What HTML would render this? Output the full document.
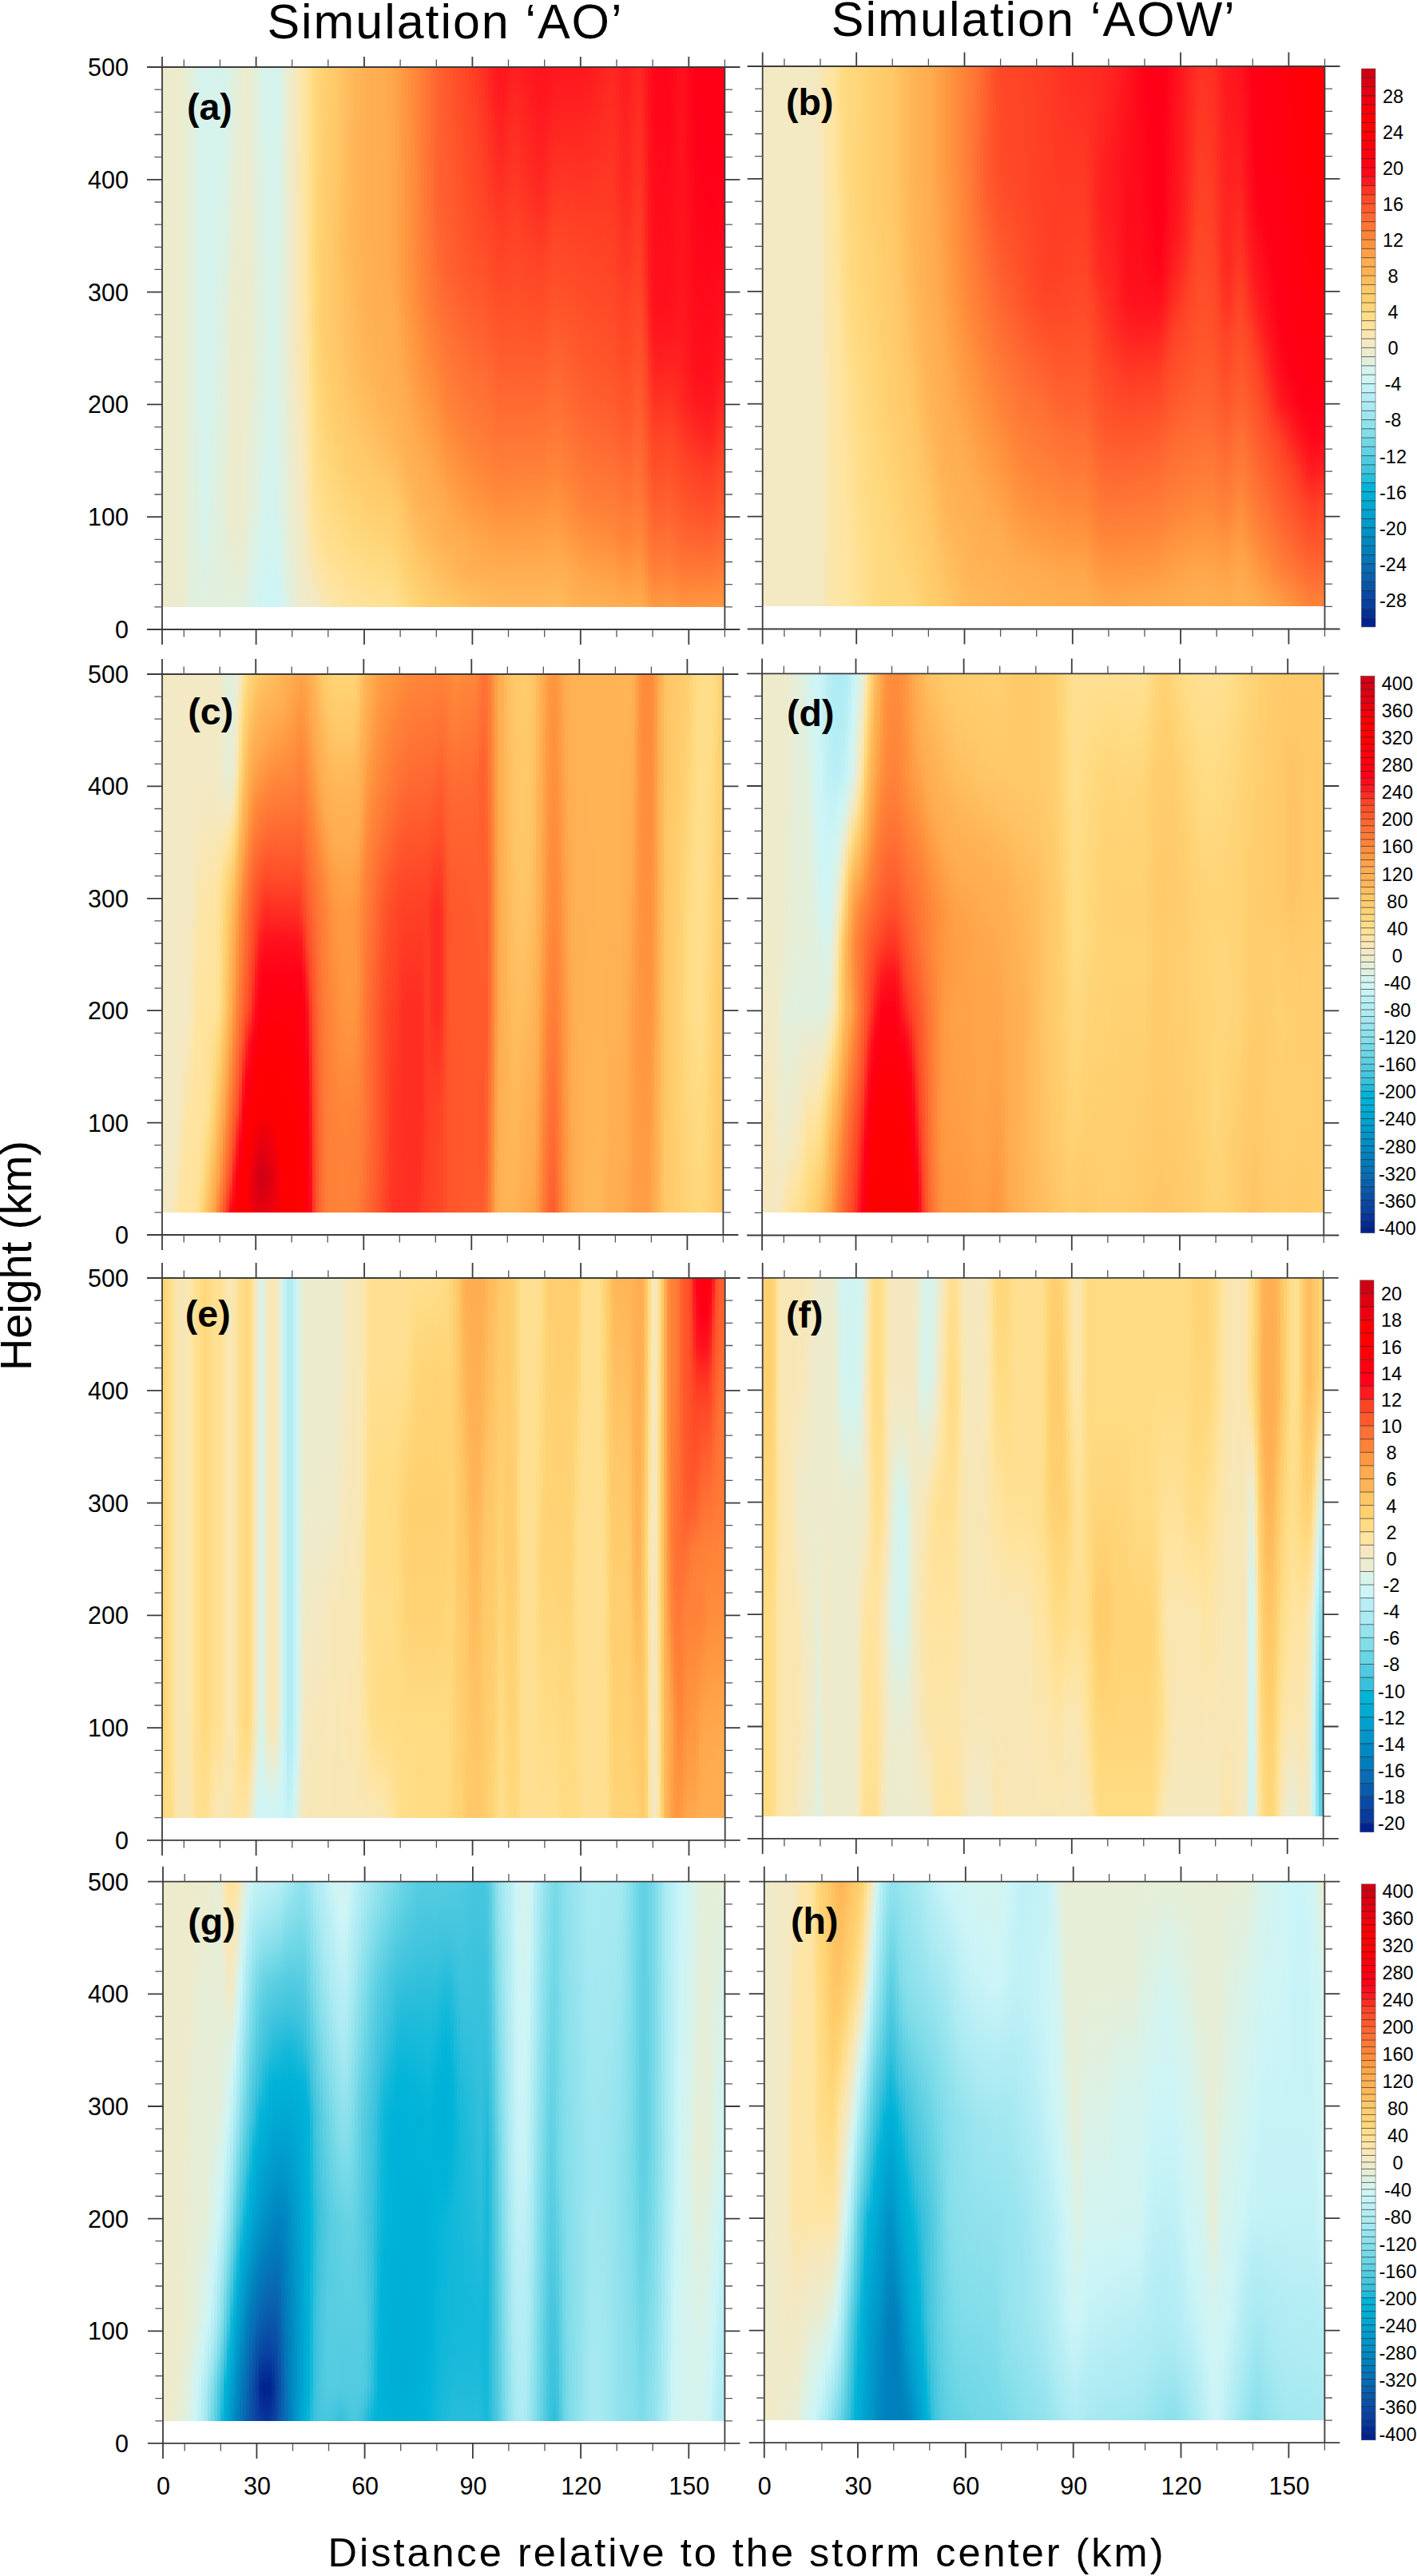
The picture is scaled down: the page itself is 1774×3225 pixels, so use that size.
<!DOCTYPE html>
<html><head><meta charset="utf-8"><title>Figure</title>
<style>
html,body{margin:0;padding:0;background:#fff}
body{width:1774px;height:3225px;position:relative;font-family:"Liberation Sans",sans-serif}
.p{position:absolute;display:flex;overflow:hidden}
.p i{display:block;flex:0 0 4px;height:100%}
svg{position:absolute;left:0;top:0}
text{font-family:"Liberation Sans",sans-serif;fill:#000}
.tk{font-size:30.5px}
.cb{font-size:23.5px}
.lb{font-size:46.5px;font-weight:bold}
</style></head><body>
<div class="p" style="left:203px;top:84px;width:704.4px;height:675.84px"><i style="background:#edebcd"></i><i style="background:#edebcd"></i><i style="background:#edebcd"></i><i style="background:#edebcd"></i><i style="background:#edebcd"></i><i style="background:#edebcd"></i><i style="background:linear-gradient(#ececcf,#ececcf,#ececcf,#ececcf,#ececcf,#ececcf,#ececcf,#ececcf,#ececcf,#ececcf,#ececcf,#ececcf,#ececcf,#ececcf,#ececcf,#ececce,#ecebce)"></i><i style="background:linear-gradient(#e7eed6,#e7eed6,#e7eed6,#e7eed6,#e7eed6,#e7eed6,#e7eed6,#e7eed6,#e7eed6,#e7eed6,#e7eed6,#e7eed6,#e7eed6,#e7eed6,#e8edd5,#e9edd3,#e9edd2)"></i><i style="background:linear-gradient(#e2efdc,#e2efdc,#e2efdc,#e2efdc,#e2efdc,#e2efdc,#e2efdc,#e2efdc,#e2efdc,#e2efdc,#e2efdc,#e2efdc,#e2efdc,#e2efdc,#e3efdb,#e3efdb,#e4efda)"></i><i style="background:#e1f0dd"></i><i style="background:linear-gradient(#def1e2,#def1e2,#def1e2,#def1e2,#def1e2,#def1e2,#def1e2,#def1e2,#def1e2,#def1e1,#dff1e1,#dff0e0,#e0f0e0,#e0f0df,#e0f0de,#e1f0de,#e1f0dd)"></i><i style="background:linear-gradient(#d8f3ea,#d8f3ea,#d8f3ea,#d8f3ea,#d8f3ea,#d8f3ea,#d8f3ea,#d8f3ea,#d8f3ea,#d8f3ea,#d9f3e9,#daf2e7,#dbf2e6,#dcf2e5,#ddf1e3,#dff0e0,#e1f0dd)"></i><i style="background:linear-gradient(#d6f3ed,#d6f3ed,#d6f3ed,#d6f3ed,#d6f3ed,#d6f3ed,#d6f3ed,#d6f3ed,#d6f3ed,#d6f3ec,#d6f3ec,#d7f3ec,#d7f3eb,#d7f3eb,#d9f3e8,#ddf1e3,#e1f0dd)"></i><i style="background:linear-gradient(#d6f3ed,#d6f3ed,#d6f3ed,#d6f3ed,#d6f3ed,#d6f3ed,#d6f3ed,#d6f3ed,#d6f3ed,#d6f3ed,#d6f3ed,#d6f3ed,#d6f3ed,#d6f3ed,#d8f3ea,#dcf1e4,#e1f0dd)"></i><i style="background:linear-gradient(#d6f3ed,#d6f3ed,#d6f3ed,#d6f3ed,#d6f3ed,#d6f3ed,#d6f3ed,#d6f3ed,#d6f3ed,#d6f3ec,#d6f3ec,#d7f3eb,#d7f3eb,#d8f3ea,#daf2e7,#def1e2,#e1f0dd)"></i><i style="background:linear-gradient(#d6f3ed,#d6f3ed,#d6f3ed,#d6f3ed,#d6f3ed,#d6f3ed,#d6f3ed,#d6f3ed,#d6f3ed,#d7f3ec,#d8f3ea,#d9f2e8,#dbf2e5,#ddf1e3,#dff1e1,#e0f0df,#e1f0dd)"></i><i style="background:linear-gradient(#d5f3ed,#d6f3ed,#d6f3ec,#d6f3ec,#d6f3ec,#d7f3ec,#d7f3eb,#d7f3eb,#d7f3eb,#d8f3ea,#daf2e7,#dcf1e4,#def1e1,#e1f0de,#e1f0dd,#e1f0dd,#e1f0dd)"></i><i style="background:linear-gradient(#d5f3ed,#d6f3ec,#d7f3ec,#d7f3eb,#d8f3ea,#d9f3e9,#daf2e7,#dbf2e6,#dcf1e4,#ddf1e3,#def1e2,#dff0e0,#e0f0df,#e1f0de,#e1f0dd,#e1f0dd,#e1f0dd)"></i><i style="background:linear-gradient(#d5f3ed,#d6f3ec,#d7f3eb,#d8f3ea,#daf2e8,#dbf2e6,#ddf1e3,#def1e1,#e0f0df,#e1f0de,#e1f0de,#e1f0de,#e1f0de,#e1f0dd,#e1f0dd,#e1f0dd,#e1f0dd)"></i><i style="background:linear-gradient(#d5f4ed,#d6f3ec,#d7f3eb,#d8f3ea,#daf2e7,#dcf2e5,#ddf1e3,#dff0e0,#e1f0de,#e1f0dd,#e2efdc,#e2efdc,#e3efdb,#e3efdb,#e3efdb,#e2efdc,#e1f0dd)"></i><i style="background:linear-gradient(#d7f3eb,#d8f3ea,#daf2e7,#dcf2e5,#ddf1e3,#dff0e1,#e1f0de,#e2efdc,#e4efda,#e5eed8,#e6eed7,#e7eed6,#e8edd4,#e9edd3,#e7edd5,#e4efd9,#e1f0dd)"></i><i style="background:linear-gradient(#def1e2,#dff0e0,#e1f0de,#e2efdc,#e4efda,#e6eed7,#e7edd5,#e9edd3,#eaecd1,#ebecd0,#ebeccf,#ececcf,#ececcf,#ececce,#eaecd1,#e6eed7,#e1f0dd)"></i><i style="background:linear-gradient(#e1f0dd,#e3efdb,#e4eed9,#e6eed7,#e7edd5,#e9edd3,#eaecd1,#ececcf,#ecebce,#edebcd,#edebcd,#edebcd,#edebcd,#edebcd,#ebecd0,#e6eed7,#e1f0dd)"></i><i style="background:linear-gradient(#e3efdb,#e4efda,#e5eed8,#e7eed6,#e8edd4,#e9edd2,#ebecd0,#ececcf,#ecebce,#edebcd,#edebcd,#edebcd,#edebcd,#edebcd,#ebecd0,#e6eed7,#e1f0dd)"></i><i style="background:linear-gradient(#e7edd5,#e8edd4,#e9edd3,#eaecd2,#ebecd1,#ebecd0,#ececcf,#ececce,#ecebce,#edebcd,#edebcd,#edebcd,#edebcd,#edebcd,#ebecd0,#e6eed7,#e1f0dd)"></i><i style="background:linear-gradient(#ececcf,#ececcf,#ececcf,#ececce,#ececce,#ececce,#ecebce,#ecebce,#edebcd,#edebce,#ecebce,#ececce,#ececce,#ececce,#eaecd2,#e6eed7,#e1f0dd)"></i><i style="background:linear-gradient(#edebcd,#edebcd,#edebcd,#edebcd,#edebcd,#edebcd,#edebcd,#edebcd,#edebcd,#ececce,#ececcf,#ebecd0,#eaecd2,#e9edd3,#e6eed7,#e2efdd,#def1e2)"></i><i style="background:linear-gradient(#ebecd0,#ebecd0,#ebecd0,#ebecd0,#ebeccf,#ececcf,#ececcf,#ececcf,#ececce,#ebeccf,#eaecd2,#e8edd5,#e6eed7,#e4efda,#e0f0df,#dcf2e5,#d8f3ea)"></i><i style="background:linear-gradient(#e4eed9,#e5eed8,#e5eed8,#e6eed7,#e6eed6,#e7eed6,#e7edd5,#e8edd4,#e8edd4,#e8edd5,#e6eed7,#e5eed9,#e3efdb,#e2efdd,#def1e2,#d9f3e9,#d6f3ed)"></i><i style="background:linear-gradient(#e1f0dd,#e1f0dd,#e2efdd,#e2efdc,#e2efdc,#e2efdc,#e3efdb,#e3efdb,#e3efdb,#e3efdb,#e2efdc,#e1f0dd,#e1f0de,#e0f0df,#dcf2e5,#d7f3eb,#d4f4ef)"></i><i style="background:linear-gradient(#def1e2,#def1e1,#dff1e1,#dff0e0,#e0f0e0,#e0f0df,#e0f0df,#e1f0de,#e1f0de,#e0f0df,#dff0e1,#def1e2,#dcf1e4,#dbf2e6,#d7f3eb,#d4f4ef,#d0f4f3)"></i><i style="background:linear-gradient(#d8f3ea,#d9f3e9,#daf2e8,#dbf2e6,#dcf1e4,#ddf1e3,#def1e1,#e0f0e0,#e1f0de,#e0f0e0,#ddf1e3,#dbf2e6,#d8f3ea,#d7f3ec,#d4f4ee,#d1f4f2,#cef5f5)"></i><i style="background:linear-gradient(#d6f3ed,#d6f3ec,#d7f3eb,#d8f3ea,#d9f3e8,#dbf2e7,#dcf2e5,#ddf1e3,#def1e1,#ddf1e3,#dbf2e6,#d9f3e9,#d7f3eb,#d6f3ed,#d3f4ef,#d1f4f3,#cef5f6)"></i><i style="background:linear-gradient(#d6f3ed,#d6f3ec,#d6f3ec,#d7f3ec,#d7f3eb,#d7f3eb,#d8f3ea,#d8f3ea,#d9f3e9,#d8f3e9,#d8f3eb,#d7f3eb,#d6f3ec,#d5f3ed,#d3f4ef,#d1f4f3,#cef5f6)"></i><i style="background:linear-gradient(#d5f3ed,#d6f3ed,#d6f3ed,#d6f3ed,#d6f3ec,#d6f3ec,#d6f3ec,#d6f3ec,#d6f3ec,#d6f3ec,#d6f3ec,#d6f3ed,#d5f3ed,#d5f4ed,#d3f4f0,#d1f4f3,#cef5f6)"></i><i style="background:linear-gradient(#d5f3ed,#d6f3ed,#d6f3ec,#d6f3ec,#d7f3ec,#d7f3eb,#d7f3eb,#d7f3eb,#d8f3ea,#d7f3eb,#d7f3eb,#d6f3ec,#d6f3ed,#d5f3ed,#d3f4f0,#d1f4f3,#cef5f6)"></i><i style="background:linear-gradient(#d7f3eb,#d8f3ea,#d8f3e9,#d9f3e8,#daf2e7,#dbf2e6,#dcf2e5,#ddf1e3,#def1e2,#ddf1e3,#dcf2e5,#daf2e7,#d9f3e9,#d7f3eb,#d5f3ed,#d3f4f0,#d0f4f4)"></i><i style="background:linear-gradient(#def1e2,#def1e2,#dff1e1,#dff0e0,#e0f0e0,#e0f0df,#e0f0de,#e1f0de,#e1f0dd,#e1f0de,#e0f0df,#e0f0e0,#dff1e1,#def1e2,#dbf2e6,#d7f3eb,#d4f4ef)"></i><i style="background:linear-gradient(#e4eed9,#e5eed9,#e5eed9,#e5eed8,#e5eed8,#e5eed8,#e5eed8,#e5eed8,#e6eed8,#e5eed8,#e4efd9,#e3efdb,#e2efdc,#e1f0dd,#dff0e0,#dcf2e5,#d8f3ea)"></i><i style="background:linear-gradient(#ececcf,#ececcf,#ececcf,#ececcf,#ececcf,#ececcf,#ececce,#ececce,#ececce,#ececcf,#eaecd1,#e8edd3,#e7eed6,#e5eed8,#e3efdb,#e1f0de,#dff1e1)"></i><i style="background:linear-gradient(#f0eac8,#f0eac8,#f0eac8,#f0eac8,#f0eac8,#f0eac8,#f0eac8,#f0eac8,#f0eac8,#efeac9,#eeebcb,#edebcc,#edebcd,#ececcf,#e9edd2,#e6eed7,#e2efdd)"></i><i style="background:linear-gradient(#f4e8c2,#f4e8c2,#f4e8c2,#f4e8c2,#f4e8c2,#f4e8c2,#f4e8c2,#f4e8c2,#f4e8c2,#f3e9c3,#f2e9c5,#f1eac7,#f0eac8,#efebca,#edebcd,#eaedd2,#e5eed8)"></i><i style="background:linear-gradient(#f8e7b6,#f8e7b6,#f8e7b6,#f8e7b6,#f8e7b7,#f8e7b7,#f8e7b7,#f8e7b7,#f8e7b7,#f7e7bb,#f5e8c0,#f3e9c3,#f2e9c5,#f0eac8,#efebca,#edebcd,#ebeccf)"></i><i style="background:linear-gradient(#fbe5ab,#fbe5ac,#fbe6ac,#fbe6ad,#fbe6ad,#fbe6ae,#fbe6ae,#fae6af,#fae6af,#f9e6b3,#f7e7b8,#f6e8be,#f4e8c2,#f2e9c4,#f1eac7,#efeac9,#eeebcc)"></i><i style="background:linear-gradient(#fee4a2,#fee4a3,#fee4a3,#fee5a4,#fde5a5,#fde5a6,#fde5a6,#fde5a7,#fde5a8,#fce5ab,#fae6af,#f9e6b4,#f8e7b8,#f6e8bc,#f4e8c2,#f1e9c6,#efebca)"></i><i style="background:linear-gradient(#ffe197,#ffe298,#ffe298,#ffe299,#ffe29a,#ffe29a,#ffe39b,#ffe39c,#ffe39d,#ffe49f,#fee4a3,#fde5a6,#fce5a9,#fbe6ad,#f8e7b6,#f4e8c1,#efeac9)"></i><i style="background:linear-gradient(#ffde8b,#ffde8b,#ffde8c,#ffde8c,#ffde8d,#ffdf8d,#ffdf8d,#ffdf8e,#ffdf90,#ffe092,#ffe196,#ffe299,#ffe39d,#ffe4a1,#fbe5ab,#f7e7ba,#f0eac8)"></i><i style="background:linear-gradient(#ffda81,#ffda81,#ffda81,#ffda81,#ffda81,#ffda80,#ffda80,#ffda81,#ffdb82,#ffdc84,#ffde89,#ffdf8e,#ffe093,#ffe299,#fee4a3,#f9e6b2,#f1eac7)"></i><i style="background:linear-gradient(#ffd67b,#ffd67a,#ffd67a,#ffd579,#ffd578,#ffd578,#ffd477,#ffd477,#ffd579,#ffd77b,#ffd980,#ffdc84,#ffde8b,#ffe093,#ffe39c,#fbe5ab,#f2e9c5)"></i><i style="background:linear-gradient(#ffd376,#ffd375,#ffd274,#ffd273,#ffd172,#ffd171,#ffd070,#ffd070,#ffd172,#ffd375,#ffd67a,#ffd97f,#ffdc85,#ffdf8e,#ffe197,#fde5a6,#f4e8c1)"></i><i style="background:linear-gradient(#ffd171,#ffd070,#ffd070,#ffcf6f,#ffce6e,#ffce6e,#ffcd6d,#ffcd6d,#ffce6e,#ffd070,#ffd375,#ffd77b,#ffda81,#ffde8a,#ffe093,#fee4a2,#f7e7ba)"></i><i style="background:linear-gradient(#ffce6e,#ffce6e,#ffcd6d,#ffcd6d,#ffcc6c,#ffcc6c,#ffcb6b,#ffcb6b,#ffcc6c,#ffce6e,#ffd171,#ffd477,#ffd97e,#ffdd86,#ffdf90,#ffe39e,#f9e6b3)"></i><i style="background:linear-gradient(#ffcc6c,#ffcc6c,#ffcb6b,#ffca6a,#ffca6a,#ffc969,#ffc969,#ffc969,#ffca6a,#ffcc6c,#ffcf6f,#ffd274,#ffd77c,#ffdb83,#ffdf8d,#ffe39b,#fbe6ad)"></i><i style="background:linear-gradient(#ffca6a,#ffca6a,#ffc969,#ffc969,#ffc868,#ffc767,#ffc767,#ffc767,#ffc868,#ffca6a,#ffcd6d,#ffd171,#ffd579,#ffda81,#ffde8b,#ffe299,#fce5aa)"></i><i style="background:linear-gradient(#ffc868,#ffc868,#ffc767,#ffc767,#ffc666,#ffc565,#ffc666,#ffc666,#ffc767,#ffc969,#ffcc6c,#ffcf6f,#ffd477,#ffd97f,#ffdd89,#ffe297,#fde5a8)"></i><i style="background:linear-gradient(#ffc666,#ffc565,#ffc565,#ffc464,#ffc363,#ffc263,#ffc363,#ffc464,#ffc666,#ffc767,#ffca6a,#ffce6e,#ffd374,#ffd87d,#ffdd87,#ffe196,#fde5a6)"></i><i style="background:linear-gradient(#ffc263,#ffc262,#ffc162,#ffc061,#ffc060,#ffbf60,#ffc061,#ffc262,#ffc364,#ffc666,#ffc969,#ffcd6d,#ffd172,#ffd77b,#ffdc85,#ffe094,#fee4a3)"></i><i style="background:linear-gradient(#ffbf60,#ffbe5f,#ffbe5f,#ffbd5e,#ffbc5d,#ffbc5d,#ffbd5e,#ffbf60,#ffc162,#ffc464,#ffc868,#ffcb6b,#ffd070,#ffd579,#ffdc83,#ffe092,#ffe4a1)"></i><i style="background:linear-gradient(#ffbb5d,#ffbb5c,#ffba5c,#ffba5b,#ffb95b,#ffb95a,#ffbb5c,#ffbd5e,#ffbf60,#ffc162,#ffc666,#ffca6a,#ffcf6f,#ffd477,#ffdb82,#ffdf90,#ffe49f)"></i><i style="background:linear-gradient(#ffb85a,#ffb85a,#ffb859,#ffb759,#ffb758,#ffb658,#ffb85a,#ffba5c,#ffbd5e,#ffbf60,#ffc465,#ffc969,#ffce6e,#ffd376,#ffda81,#ffdf8f,#ffe39e)"></i><i style="background:linear-gradient(#ffb658,#ffb557,#ffb557,#ffb557,#ffb456,#ffb456,#ffb658,#ffb859,#ffba5c,#ffbd5e,#ffc363,#ffc868,#ffcd6d,#ffd374,#ffd97f,#ffdf8d,#ffe39d)"></i><i style="background:linear-gradient(#ffb456,#ffb456,#ffb356,#ffb356,#ffb355,#ffb355,#ffb456,#ffb557,#ffb85a,#ffbb5d,#ffc161,#ffc767,#ffcc6c,#ffd273,#ffd97e,#ffde8c,#ffe39c)"></i><i style="background:linear-gradient(#ffb355,#ffb255,#ffb255,#ffb255,#ffb255,#ffb255,#ffb355,#ffb355,#ffb658,#ffb95b,#ffbf60,#ffc666,#ffcb6b,#ffd171,#ffd87d,#ffde8b,#ffe39b)"></i><i style="background:linear-gradient(#ffb154,#ffb154,#ffb154,#ffb154,#ffb154,#ffb154,#ffb254,#ffb255,#ffb456,#ffb859,#ffbd5e,#ffc565,#ffca6a,#ffd070,#ffd77c,#ffde8a,#ffe29b)"></i><i style="background:linear-gradient(#ffb053,#ffb053,#ffb053,#ffb053,#ffb053,#ffb053,#ffb153,#ffb154,#ffb355,#ffb657,#ffbc5d,#ffc364,#ffca6a,#ffcf6f,#ffd67b,#ffdd89,#ffe29a)"></i><i style="background:linear-gradient(#ffaf52,#ffaf52,#ffaf52,#ffaf52,#ffaf53,#ffaf53,#ffb053,#ffb053,#ffb254,#ffb456,#ffba5b,#ffc262,#ffc969,#ffcf6f,#ffd679,#ffdd87,#ffe299)"></i><i style="background:linear-gradient(#ffae52,#ffae52,#ffae52,#ffae52,#ffae52,#ffaf52,#ffaf52,#ffaf52,#ffb154,#ffb355,#ffb85a,#ffc061,#ffc868,#ffce6e,#ffd578,#ffdd86,#ffe298)"></i><i style="background:linear-gradient(#ffad51,#ffad51,#ffad51,#ffae51,#ffae51,#ffae51,#ffae51,#ffae52,#ffb053,#ffb255,#ffb658,#ffbe5f,#ffc767,#ffcd6d,#ffd477,#ffdc85,#ffe298)"></i><i style="background:linear-gradient(#ffad50,#ffad50,#ffad51,#ffad51,#ffad51,#ffad51,#ffad51,#ffae51,#ffb053,#ffb254,#ffb557,#ffbc5d,#ffc666,#ffcd6d,#ffd477,#ffdc84,#ffe197)"></i><i style="background:linear-gradient(#ffab4f,#ffab50,#ffac50,#ffac50,#ffac50,#ffac50,#ffac50,#ffad51,#ffaf52,#ffb154,#ffb356,#ffba5c,#ffc566,#ffcc6c,#ffd376,#ffdc83,#ffe197)"></i><i style="background:linear-gradient(#ffa94e,#ffa94e,#ffaa4e,#ffaa4e,#ffaa4e,#ffaa4f,#ffab4f,#ffad50,#ffae52,#ffb053,#ffb355,#ffb95a,#ffc464,#ffcc6c,#ffd375,#ffdb83,#ffe196)"></i><i style="background:linear-gradient(#ffa74c,#ffa74c,#ffa84d,#ffa84d,#ffa84d,#ffa84d,#ffa94d,#ffac50,#ffae51,#ffaf52,#ffb254,#ffb758,#ffc363,#ffcb6b,#ffd274,#ffdb82,#ffe195)"></i><i style="background:linear-gradient(#ffa54a,#ffa54a,#ffa54a,#ffa54b,#ffa64b,#ffa64b,#ffa64c,#ffaa4e,#ffad51,#ffae52,#ffb154,#ffb557,#ffc161,#ffca6a,#ffd172,#ffda80,#ffe194)"></i><i style="background:linear-gradient(#ffa147,#ffa147,#ffa248,#ffa248,#ffa248,#ffa248,#ffa349,#ffa74c,#ffab4f,#ffad51,#ffb053,#ffb355,#ffbe5f,#ffc969,#ffcf6f,#ffd87d,#ffdf90)"></i><i style="background:linear-gradient(#ff9d44,#ff9d44,#ff9d44,#ff9e45,#ff9e45,#ff9e45,#ff9f46,#ffa349,#ffa74c,#ffab4f,#ffae52,#ffb254,#ffba5c,#ffc767,#ffcd6d,#ffd679,#ffde8b)"></i><i style="background:linear-gradient(#ff9940,#ff9941,#ff9941,#ff9a41,#ff9a42,#ff9b42,#ff9b43,#ff9f45,#ffa349,#ffa84d,#ffad51,#ffb053,#ffb759,#ffc364,#ffcb6b,#ffd375,#ffdc86)"></i><i style="background:linear-gradient(#ff943f,#ff953f,#ff953f,#ff963f,#ff963f,#ff973f,#ff9740,#ff9b42,#ff9f46,#ffa44a,#ffab4f,#ffaf52,#ffb456,#ffc060,#ffc969,#ffd172,#ffdb82)"></i><i style="background:linear-gradient(#ff8f3d,#ff903d,#ff913d,#ff913d,#ff923e,#ff923e,#ff933e,#ff973f,#ff9c43,#ffa147,#ffa84d,#ffae51,#ffb255,#ffbc5d,#ffc767,#ffcf6f,#ffd87e)"></i><i style="background:linear-gradient(#ff8b3b,#ff8b3b,#ff8c3c,#ff8d3c,#ff8d3c,#ff8e3c,#ff8f3d,#ff923e,#ff9840,#ff9d44,#ffa54a,#ffac50,#ffb154,#ffb85a,#ffc465,#ffcd6d,#ffd67a)"></i><i style="background:linear-gradient(#ff8639,#ff873a,#ff873a,#ff883a,#ff883a,#ff893b,#ff8a3b,#ff8e3c,#ff943e,#ff9a41,#ffa147,#ffaa4e,#ffb053,#ffb557,#ffc162,#ffcb6b,#ffd477)"></i><i style="background:linear-gradient(#ff8138,#ff8138,#ff8238,#ff8238,#ff8338,#ff8439,#ff8539,#ff893b,#ff903d,#ff963f,#ff9f45,#ffa74c,#ffae52,#ffb355,#ffbf5f,#ffca6a,#ffd374)"></i><i style="background:linear-gradient(#ff7c37,#ff7c37,#ff7c37,#ff7d37,#ff7d37,#ff7f37,#ff8138,#ff8539,#ff8c3c,#ff933e,#ff9c43,#ffa54a,#ffad51,#ffb255,#ffbc5d,#ffc868,#ffd172)"></i><i style="background:linear-gradient(#ff7735,#ff7736,#ff7736,#ff7836,#ff7836,#ff7a36,#ff7c37,#ff8038,#ff893a,#ff903d,#ff9a41,#ffa348,#ffad50,#ffb154,#ffba5c,#ffc767,#ffd070)"></i><i style="background:linear-gradient(#ff7234,#ff7234,#ff7234,#ff7235,#ff7335,#ff7535,#ff7836,#ff7d37,#ff8539,#ff8d3c,#ff9740,#ffa047,#ffab4f,#ffb053,#ffb85a,#ffc666,#ffce6e)"></i><i style="background:linear-gradient(#ff6c33,#ff6c33,#ff6c33,#ff6d33,#ff6d33,#ff7134,#ff7435,#ff7936,#ff8238,#ff8a3b,#ff943f,#ff9e45,#ffa94d,#ffaf53,#ffb658,#ffc364,#ffcd6d)"></i><i style="background:linear-gradient(#ff6630,#ff6630,#ff6631,#ff6731,#ff6731,#ff6b32,#ff7034,#ff7535,#ff7f37,#ff873a,#ff913e,#ff9b43,#ffa64c,#ffaf52,#ffb456,#ffc162,#ffcc6c)"></i><i style="background:linear-gradient(#ff612f,#ff622f,#ff622f,#ff622f,#ff622f,#ff6731,#ff6b32,#ff7234,#ff7c37,#ff8439,#ff8e3c,#ff9940,#ffa449,#ffad51,#ffb355,#ffbf60,#ffcb6b)"></i><i style="background:linear-gradient(#ff5e2d,#ff5e2e,#ff5f2e,#ff5f2e,#ff602e,#ff6430,#ff6831,#ff6f34,#ff7836,#ff8038,#ff8a3b,#ff953f,#ffa147,#ffac50,#ffb254,#ffbe5e,#ffca6a)"></i><i style="background:linear-gradient(#ff5b2c,#ff5c2d,#ff5d2d,#ff5e2d,#ff5f2e,#ff612f,#ff6430,#ff6c33,#ff7535,#ff7d37,#ff8639,#ff913e,#ff9e45,#ffaa4e,#ffb154,#ffbc5d,#ffc969)"></i><i style="background:linear-gradient(#ff582b,#ff592c,#ff5a2c,#ff5c2d,#ff5d2d,#ff5f2e,#ff612f,#ff6a32,#ff7235,#ff7a36,#ff8238,#ff8e3c,#ff9b42,#ffa74c,#ffb053,#ffba5c,#ffc969)"></i><i style="background:linear-gradient(#ff552b,#ff562b,#ff582b,#ff592c,#ff5b2c,#ff5d2d,#ff5f2e,#ff6831,#ff7034,#ff7836,#ff8038,#ff8c3b,#ff9941,#ffa54a,#ffaf52,#ffb95a,#ffc868)"></i><i style="background:linear-gradient(#ff512a,#ff532a,#ff552b,#ff572b,#ff592c,#ff5b2c,#ff5e2d,#ff6630,#ff6f33,#ff7635,#ff7f37,#ff8a3b,#ff9740,#ffa349,#ffae52,#ffb758,#ffc767)"></i><i style="background:linear-gradient(#ff4e29,#ff5029,#ff522a,#ff542a,#ff562b,#ff592c,#ff5c2d,#ff6430,#ff6d33,#ff7535,#ff7d37,#ff883a,#ff943f,#ffa147,#ffad51,#ffb557,#ffc666)"></i><i style="background:linear-gradient(#ff4b28,#ff4d29,#ff5029,#ff522a,#ff542a,#ff562b,#ff5a2c,#ff622f,#ff6b32,#ff7335,#ff7b37,#ff8639,#ff923e,#ff9f46,#ffad50,#ffb356,#ffc565)"></i><i style="background:linear-gradient(#ff4827,#ff4b28,#ff4d28,#ff4f29,#ff522a,#ff542a,#ff582c,#ff602e,#ff6931,#ff7134,#ff7a36,#ff8339,#ff903d,#ff9d44,#ffac50,#ffb355,#ffc464)"></i><i style="background:linear-gradient(#ff4526,#ff4827,#ff4a28,#ff4d28,#ff4f29,#ff522a,#ff572b,#ff5e2e,#ff6731,#ff7034,#ff7836,#ff8238,#ff8e3c,#ff9b42,#ffaa4e,#ffb254,#ffc263)"></i><i style="background:linear-gradient(#ff4126,#ff4526,#ff4827,#ff4b28,#ff4d29,#ff5029,#ff552b,#ff5d2d,#ff6530,#ff6e33,#ff7736,#ff8038,#ff8c3c,#ff9941,#ffa84d,#ffb154,#ffc162)"></i><i style="background:linear-gradient(#ff3d25,#ff4226,#ff4626,#ff4827,#ff4b28,#ff4f29,#ff542a,#ff5c2d,#ff6430,#ff6d33,#ff7635,#ff7f37,#ff8b3b,#ff9840,#ffa74c,#ffb154,#ffc061)"></i><i style="background:linear-gradient(#ff3924,#ff3e25,#ff4326,#ff4627,#ff4927,#ff4d29,#ff532a,#ff5b2c,#ff632f,#ff6c33,#ff7535,#ff7e37,#ff893b,#ff9740,#ffa64b,#ffb153,#ffbf60)"></i><i style="background:linear-gradient(#ff3523,#ff3a24,#ff3f25,#ff4426,#ff4727,#ff4c28,#ff522a,#ff5a2c,#ff632f,#ff6c32,#ff7435,#ff7d37,#ff883a,#ff963f,#ffa54a,#ffb053,#ffbe5f)"></i><i style="background:linear-gradient(#ff3023,#ff3624,#ff3b24,#ff4025,#ff4526,#ff4a28,#ff5129,#ff592c,#ff622f,#ff6b32,#ff7435,#ff7c37,#ff873a,#ff953f,#ffa449,#ffb053,#ffbe5f)"></i><i style="background:linear-gradient(#ff2b22,#ff3123,#ff3724,#ff3c25,#ff4226,#ff4927,#ff4f29,#ff572b,#ff602e,#ff6932,#ff7235,#ff7b36,#ff8539,#ff933e,#ffa349,#ffaf53,#ffbd5e)"></i><i style="background:linear-gradient(#ff2521,#ff2b22,#ff3223,#ff3824,#ff3e25,#ff4727,#ff4d29,#ff552b,#ff5e2d,#ff6731,#ff7134,#ff7936,#ff8439,#ff923e,#ffa248,#ffaf52,#ffbc5d)"></i><i style="background:linear-gradient(#ff1f20,#ff2621,#ff2d22,#ff3423,#ff3b25,#ff4526,#ff4b28,#ff532a,#ff5b2d,#ff6530,#ff6f33,#ff7836,#ff8238,#ff913d,#ffa147,#ffaf52,#ffbc5d)"></i><i style="background:linear-gradient(#ff191f,#ff2020,#ff2821,#ff3023,#ff3824,#ff4226,#ff4927,#ff5129,#ff592c,#ff622f,#ff6c33,#ff7635,#ff8138,#ff8f3d,#ffa046,#ffae52,#ffbb5c)"></i><i style="background:linear-gradient(#ff161e,#ff1c1f,#ff2421,#ff2d22,#ff3624,#ff3f25,#ff4727,#ff4f29,#ff572b,#ff602e,#ff6a32,#ff7535,#ff8037,#ff8e3c,#ff9f45,#ffae52,#ffbb5c)"></i><i style="background:linear-gradient(#ff161e,#ff1c1f,#ff2421,#ff2d22,#ff3624,#ff3f25,#ff4727,#ff4e29,#ff562b,#ff5f2e,#ff6a32,#ff7435,#ff7f37,#ff8e3c,#ff9f45,#ffae52,#ffba5c)"></i><i style="background:linear-gradient(#ff181e,#ff1f20,#ff2721,#ff2f23,#ff3824,#ff4025,#ff4827,#ff4f29,#ff572b,#ff602e,#ff6a32,#ff7535,#ff8037,#ff8e3c,#ff9f45,#ffae52,#ffba5c)"></i><i style="background:linear-gradient(#ff1b1f,#ff2320,#ff2a22,#ff3223,#ff3a24,#ff4226,#ff4927,#ff4f29,#ff572b,#ff602e,#ff6a32,#ff7535,#ff8038,#ff8f3d,#ff9f46,#ffae52,#ffba5c)"></i><i style="background:linear-gradient(#ff1e20,#ff2621,#ff2d22,#ff3423,#ff3c25,#ff4326,#ff4a28,#ff5029,#ff582b,#ff602e,#ff6a32,#ff7535,#ff8038,#ff8f3d,#ff9f46,#ffae52,#ffba5c)"></i><i style="background:linear-gradient(#ff2020,#ff2721,#ff2e22,#ff3524,#ff3c25,#ff4426,#ff4a28,#ff5029,#ff582b,#ff602e,#ff6a32,#ff7535,#ff8138,#ff8f3d,#ffa046,#ffae52,#ffba5c)"></i><i style="background:linear-gradient(#ff1e20,#ff2621,#ff2d22,#ff3423,#ff3b24,#ff4326,#ff4a28,#ff5029,#ff582b,#ff602e,#ff6a32,#ff7535,#ff8138,#ff903d,#ffa046,#ffae52,#ffba5b)"></i><i style="background:linear-gradient(#ff1c1f,#ff2421,#ff2a22,#ff3123,#ff3924,#ff4126,#ff4927,#ff4f29,#ff572b,#ff602e,#ff6a32,#ff7535,#ff8138,#ff903d,#ffa046,#ffae52,#ffba5b)"></i><i style="background:linear-gradient(#ff1a1f,#ff2120,#ff2821,#ff2f22,#ff3624,#ff4025,#ff4827,#ff4f29,#ff572b,#ff602e,#ff6a32,#ff7535,#ff8138,#ff903d,#ffa046,#ffae52,#ffba5b)"></i><i style="background:linear-gradient(#ff181f,#ff1f20,#ff2621,#ff2c22,#ff3423,#ff3e25,#ff4727,#ff4f29,#ff572b,#ff602e,#ff6a32,#ff7535,#ff8138,#ff903d,#ffa046,#ffae52,#ffba5b)"></i><i style="background:linear-gradient(#ff171e,#ff1c1f,#ff2321,#ff2a22,#ff3223,#ff3d25,#ff4627,#ff4e29,#ff572b,#ff602e,#ff6a32,#ff7535,#ff8138,#ff903d,#ffa046,#ffae52,#ffba5b)"></i><i style="background:linear-gradient(#ff151e,#ff1a1f,#ff2120,#ff2821,#ff3023,#ff3b24,#ff4626,#ff4e29,#ff562b,#ff602e,#ff6a32,#ff7535,#ff8138,#ff903d,#ffa046,#ffae52,#ffb95b)"></i><i style="background:linear-gradient(#ff141d,#ff181f,#ff1e20,#ff2521,#ff2e22,#ff3924,#ff4526,#ff4d28,#ff562b,#ff602e,#ff6a32,#ff7535,#ff8138,#ff903d,#ffa046,#ffae52,#ffb95b)"></i><i style="background:linear-gradient(#ff131d,#ff171e,#ff1d1f,#ff2421,#ff2d22,#ff3924,#ff4526,#ff4d28,#ff562b,#ff602e,#ff6b32,#ff7635,#ff8138,#ff903d,#ffa047,#ffae52,#ffb95b)"></i><i style="background:linear-gradient(#ff131d,#ff181e,#ff1e20,#ff2521,#ff2e22,#ff3b24,#ff4626,#ff4e29,#ff572b,#ff612f,#ff6c32,#ff7635,#ff8238,#ff913d,#ffa147,#ffae52,#ffba5b)"></i><i style="background:linear-gradient(#ff141d,#ff191f,#ff2020,#ff2921,#ff3223,#ff3e25,#ff4827,#ff5029,#ff592c,#ff632f,#ff6d33,#ff7836,#ff8439,#ff923e,#ffa248,#ffaf52,#ffbb5c)"></i><i style="background:linear-gradient(#ff151e,#ff1b1f,#ff2421,#ff2d22,#ff3624,#ff4226,#ff4a28,#ff522a,#ff5b2c,#ff6530,#ff6f34,#ff7936,#ff8539,#ff943e,#ffa348,#ffaf52,#ffbb5d)"></i><i style="background:linear-gradient(#ff171e,#ff1d20,#ff2621,#ff3023,#ff3a24,#ff4526,#ff4c28,#ff532a,#ff5d2d,#ff6631,#ff7034,#ff7a36,#ff863a,#ff953f,#ffa349,#ffb053,#ffbc5d)"></i><i style="background:linear-gradient(#ff171e,#ff1f20,#ff2821,#ff3223,#ff3c25,#ff4626,#ff4c28,#ff542a,#ff5d2d,#ff6731,#ff7034,#ff7a36,#ff863a,#ff943f,#ffa349,#ffaf53,#ffbc5d)"></i><i style="background:linear-gradient(#ff171e,#ff1f20,#ff2821,#ff3223,#ff3c25,#ff4626,#ff4c28,#ff532a,#ff5c2d,#ff6630,#ff6f34,#ff7936,#ff8539,#ff933e,#ffa147,#ffaf52,#ffba5c)"></i><i style="background:linear-gradient(#ff171e,#ff1f20,#ff2821,#ff3223,#ff3c25,#ff4526,#ff4c28,#ff532a,#ff5b2c,#ff6430,#ff6d33,#ff7736,#ff8238,#ff903d,#ff9f46,#ffae52,#ffb85a)"></i><i style="background:linear-gradient(#ff171e,#ff1f20,#ff2821,#ff3223,#ff3b25,#ff4526,#ff4b28,#ff522a,#ff5a2c,#ff632f,#ff6c32,#ff7635,#ff8138,#ff8e3c,#ff9d44,#ffad51,#ffb758)"></i><i style="background:linear-gradient(#ff171e,#ff1f20,#ff2821,#ff3223,#ff3b24,#ff4426,#ff4b28,#ff512a,#ff592c,#ff612f,#ff6a32,#ff7435,#ff7f37,#ff8c3c,#ff9b43,#ffac50,#ffb557)"></i><i style="background:linear-gradient(#ff171e,#ff1f20,#ff2821,#ff3123,#ff3b24,#ff4426,#ff4a28,#ff5029,#ff582b,#ff602e,#ff6831,#ff7335,#ff7d37,#ff8a3b,#ff9941,#ffab4f,#ffb456)"></i><i style="background:linear-gradient(#ff171e,#ff1f20,#ff2821,#ff3123,#ff3a24,#ff4326,#ff4a28,#ff5029,#ff572b,#ff5e2e,#ff6630,#ff7134,#ff7b36,#ff873a,#ff9740,#ffa94e,#ffb355)"></i><i style="background:linear-gradient(#ff171e,#ff1f20,#ff2821,#ff3123,#ff3a24,#ff4326,#ff4927,#ff4f29,#ff552b,#ff5d2d,#ff6430,#ff6f34,#ff7936,#ff8539,#ff953f,#ffa74c,#ffb255)"></i><i style="background:linear-gradient(#ff181e,#ff1f20,#ff2821,#ff3123,#ff3924,#ff4226,#ff4827,#ff4e29,#ff542a,#ff5b2d,#ff632f,#ff6d33,#ff7836,#ff8338,#ff933e,#ffa54a,#ffb154)"></i><i style="background:linear-gradient(#ff181f,#ff2020,#ff2921,#ff3123,#ff3924,#ff4226,#ff4827,#ff4e29,#ff532a,#ff5a2c,#ff612f,#ff6c33,#ff7735,#ff8238,#ff923e,#ffa449,#ffb154)"></i><i style="background:linear-gradient(#ff191f,#ff2120,#ff2a22,#ff3123,#ff3924,#ff4126,#ff4727,#ff4d28,#ff532a,#ff5a2c,#ff612e,#ff6b32,#ff7635,#ff8138,#ff913d,#ffa349,#ffb153)"></i><i style="background:linear-gradient(#ff1b1f,#ff2320,#ff2b22,#ff3223,#ff3a24,#ff4125,#ff4727,#ff4c28,#ff522a,#ff592c,#ff602e,#ff6a32,#ff7535,#ff8038,#ff903d,#ffa248,#ffb053)"></i><i style="background:linear-gradient(#ff1d20,#ff2521,#ff2c22,#ff3323,#ff3a24,#ff4125,#ff4627,#ff4c28,#ff522a,#ff582b,#ff5f2e,#ff6a32,#ff7535,#ff8038,#ff903d,#ffa248,#ffb053)"></i><i style="background:linear-gradient(#ff2020,#ff2621,#ff2d22,#ff3323,#ff3a24,#ff4025,#ff4627,#ff4b28,#ff512a,#ff572b,#ff5f2e,#ff6931,#ff7435,#ff7f37,#ff8f3d,#ffa248,#ffb053)"></i><i style="background:linear-gradient(#ff2220,#ff2821,#ff2e22,#ff3423,#ff3a24,#ff4025,#ff4526,#ff4b28,#ff5029,#ff572b,#ff5e2e,#ff6831,#ff7435,#ff7f37,#ff8e3d,#ffa147,#ffb053)"></i><i style="background:linear-gradient(#ff2421,#ff2a22,#ff2f23,#ff3523,#ff3a24,#ff4025,#ff4526,#ff4a28,#ff5029,#ff562b,#ff5e2d,#ff6731,#ff7335,#ff7e37,#ff8e3c,#ffa147,#ffb053)"></i><i style="background:linear-gradient(#ff2621,#ff2b22,#ff3023,#ff3524,#ff3a24,#ff3f25,#ff4426,#ff4a28,#ff4f29,#ff552b,#ff5d2d,#ff6731,#ff7335,#ff7e37,#ff8d3c,#ffa047,#ffb053)"></i><i style="background:linear-gradient(#ff2821,#ff2c22,#ff3123,#ff3624,#ff3a24,#ff3f25,#ff4426,#ff4927,#ff4f29,#ff552b,#ff5c2d,#ff6630,#ff7234,#ff7d37,#ff8c3c,#ff9f46,#ffaf52)"></i><i style="background:linear-gradient(#ff2721,#ff2b22,#ff3023,#ff3423,#ff3824,#ff3d25,#ff4226,#ff4827,#ff4d29,#ff532a,#ff5b2c,#ff6430,#ff7134,#ff7c37,#ff8b3b,#ff9e45,#ffaf52)"></i><i style="background:linear-gradient(#ff2421,#ff2821,#ff2c22,#ff3023,#ff3423,#ff3a24,#ff3f25,#ff4627,#ff4b28,#ff522a,#ff592c,#ff632f,#ff6f34,#ff7a36,#ff893a,#ff9c43,#ffae52)"></i><i style="background:linear-gradient(#ff1f20,#ff2321,#ff2721,#ff2b22,#ff3023,#ff3624,#ff3c25,#ff4426,#ff4927,#ff5029,#ff572b,#ff612e,#ff6d33,#ff7936,#ff8639,#ff9a41,#ffad51)"></i><i style="background:linear-gradient(#ff1c1f,#ff2020,#ff2421,#ff2821,#ff2c22,#ff3323,#ff3a24,#ff4126,#ff4727,#ff4e29,#ff552b,#ff5f2e,#ff6b32,#ff7736,#ff8439,#ff9840,#ffad50)"></i><i style="background:linear-gradient(#ff1c1f,#ff2020,#ff2321,#ff2721,#ff2c22,#ff3223,#ff3924,#ff4126,#ff4727,#ff4e29,#ff552b,#ff5f2e,#ff6b32,#ff7736,#ff8439,#ff9740,#ffac50)"></i><i style="background:linear-gradient(#ff1f20,#ff2320,#ff2721,#ff2a22,#ff2f22,#ff3523,#ff3b25,#ff4426,#ff4927,#ff5029,#ff572b,#ff602e,#ff6c33,#ff7836,#ff8539,#ff9840,#ffac50)"></i><i style="background:linear-gradient(#ff2321,#ff2721,#ff2b22,#ff2f22,#ff3323,#ff3824,#ff3f25,#ff4627,#ff4b28,#ff522a,#ff592c,#ff632f,#ff6e33,#ff7936,#ff873a,#ff9a42,#ffad51)"></i><i style="background:linear-gradient(#ff2721,#ff2b22,#ff2f23,#ff3323,#ff3724,#ff3c25,#ff4226,#ff4827,#ff4e29,#ff542a,#ff5c2d,#ff6530,#ff7034,#ff7b36,#ff893b,#ff9c43,#ffad51)"></i><i style="background:linear-gradient(#ff2821,#ff2c22,#ff3023,#ff3423,#ff3824,#ff3c25,#ff4125,#ff4827,#ff4e29,#ff542a,#ff5c2d,#ff6530,#ff7034,#ff7b36,#ff893b,#ff9c43,#ffad51)"></i><i style="background:linear-gradient(#ff2220,#ff2521,#ff2922,#ff2d22,#ff3023,#ff3423,#ff3824,#ff4226,#ff4827,#ff4f29,#ff572b,#ff602e,#ff6b32,#ff7736,#ff8539,#ff9840,#ffab4f)"></i><i style="background:linear-gradient(#ff181e,#ff1a1f,#ff1d1f,#ff2020,#ff2321,#ff2721,#ff2a22,#ff3223,#ff3c25,#ff4727,#ff4e29,#ff582b,#ff632f,#ff7034,#ff7e37,#ff913d,#ffa54b)"></i><i style="background:linear-gradient(#ff101c,#ff121d,#ff141d,#ff151e,#ff171e,#ff191f,#ff1c1f,#ff2120,#ff2b22,#ff3824,#ff4626,#ff4f29,#ff5a2c,#ff6831,#ff7735,#ff893a,#ffa046)"></i><i style="background:linear-gradient(#ff0a1b,#ff0b1b,#ff0d1b,#ff0e1c,#ff101c,#ff121d,#ff131d,#ff151e,#ff1d1f,#ff2a22,#ff3924,#ff4827,#ff532a,#ff612e,#ff7134,#ff8238,#ff9b42)"></i><i style="background:linear-gradient(#ff061a,#ff081a,#ff091a,#ff0b1b,#ff0c1b,#ff0e1c,#ff0f1c,#ff111d,#ff181e,#ff2321,#ff3323,#ff4526,#ff5029,#ff5e2d,#ff6e33,#ff8038,#ff9941)"></i><i style="background:linear-gradient(#ff0519,#ff071a,#ff081a,#ff0a1b,#ff0b1b,#ff0d1b,#ff0f1c,#ff101c,#ff171e,#ff2320,#ff3323,#ff4526,#ff5129,#ff5e2e,#ff6f34,#ff8138,#ff9a42)"></i><i style="background:linear-gradient(#ff0519,#ff061a,#ff081a,#ff0a1b,#ff0b1b,#ff0d1b,#ff0f1c,#ff101c,#ff181e,#ff2421,#ff3423,#ff4626,#ff522a,#ff5f2e,#ff7034,#ff8238,#ff9b43)"></i><i style="background:linear-gradient(#ff0419,#ff061a,#ff081a,#ff091b,#ff0b1b,#ff0d1b,#ff0f1c,#ff101c,#ff181f,#ff2521,#ff3624,#ff4727,#ff532a,#ff612e,#ff7134,#ff8338,#ff9d44)"></i><i style="background:linear-gradient(#ff0519,#ff071a,#ff081a,#ff0a1b,#ff0c1b,#ff0d1c,#ff0f1c,#ff111c,#ff191f,#ff2621,#ff3724,#ff4727,#ff542a,#ff612f,#ff7234,#ff8339,#ff9d44)"></i><i style="background:linear-gradient(#ff071a,#ff091a,#ff0a1b,#ff0c1b,#ff0d1c,#ff0f1c,#ff101c,#ff121d,#ff1a1f,#ff2621,#ff3523,#ff4627,#ff522a,#ff5f2e,#ff7034,#ff8238,#ff9c43)"></i><i style="background:linear-gradient(#ff0a1b,#ff0c1b,#ff0d1c,#ff0e1c,#ff101c,#ff111d,#ff121d,#ff141d,#ff1a1f,#ff2521,#ff3123,#ff4426,#ff5029,#ff5d2d,#ff6d33,#ff7f37,#ff9a42)"></i><i style="background:linear-gradient(#ff0e1c,#ff0f1c,#ff101c,#ff111d,#ff121d,#ff131d,#ff141d,#ff161e,#ff1c1f,#ff2421,#ff2e22,#ff4025,#ff4d28,#ff5a2c,#ff6a32,#ff7d37,#ff9840)"></i><i style="background:linear-gradient(#ff101c,#ff111c,#ff121d,#ff131d,#ff131d,#ff141d,#ff151e,#ff171e,#ff1b1f,#ff2220,#ff2a22,#ff3c25,#ff4b28,#ff582b,#ff6831,#ff7b36,#ff963f)"></i><i style="background:linear-gradient(#ff0e1c,#ff0f1c,#ff101c,#ff111d,#ff121d,#ff131d,#ff141d,#ff161e,#ff191f,#ff1d20,#ff2621,#ff3824,#ff4927,#ff562b,#ff6630,#ff7a36,#ff953f)"></i><i style="background:linear-gradient(#ff0a1b,#ff0b1b,#ff0c1b,#ff0d1c,#ff0f1c,#ff101c,#ff111d,#ff131d,#ff161e,#ff191f,#ff2320,#ff3524,#ff4727,#ff542a,#ff6630,#ff7a36,#ff963f)"></i><i style="background:linear-gradient(#ff0519,#ff061a,#ff081a,#ff091a,#ff0b1b,#ff0c1b,#ff0e1c,#ff101c,#ff121d,#ff151e,#ff1f20,#ff3223,#ff4626,#ff532a,#ff6530,#ff7a36,#ff9740)"></i><i style="background:linear-gradient(#ff0018,#ff0219,#ff0419,#ff061a,#ff071a,#ff091a,#ff0b1b,#ff0d1b,#ff0f1c,#ff121d,#ff1c1f,#ff2f22,#ff4426,#ff522a,#ff6430,#ff7b36,#ff9740)"></i><i style="background:linear-gradient(#ff0017,#ff0018,#ff0118,#ff0319,#ff0519,#ff071a,#ff091a,#ff0b1b,#ff0e1c,#ff101c,#ff1a1f,#ff2d22,#ff4226,#ff512a,#ff6430,#ff7b36,#ff9840)"></i><i style="background:linear-gradient(#ff0017,#ff0017,#ff0018,#ff0219,#ff0419,#ff061a,#ff081a,#ff0b1b,#ff0d1c,#ff101c,#ff191f,#ff2b22,#ff4125,#ff5029,#ff632f,#ff7b36,#ff9840)"></i><i style="background:linear-gradient(#ff0016,#ff0017,#ff0018,#ff0118,#ff0319,#ff0619,#ff081a,#ff0a1b,#ff0d1b,#ff0f1c,#ff181e,#ff2921,#ff3f25,#ff4f29,#ff622f,#ff7a36,#ff9840)"></i><i style="background:linear-gradient(#ff0016,#ff0016,#ff0017,#ff0018,#ff0219,#ff0519,#ff071a,#ff0a1b,#ff0d1b,#ff0f1c,#ff171e,#ff2721,#ff3e25,#ff4e29,#ff622f,#ff7a36,#ff9941)"></i><i style="background:linear-gradient(#ff0015,#ff0016,#ff0017,#ff0018,#ff0218,#ff0419,#ff071a,#ff0a1b,#ff0d1b,#ff101c,#ff171e,#ff2721,#ff3e25,#ff4e29,#ff622f,#ff7a36,#ff9941)"></i><i style="background:linear-gradient(#ff0015,#ff0016,#ff0017,#ff0018,#ff0218,#ff0519,#ff081a,#ff0b1b,#ff0e1c,#ff121d,#ff191f,#ff2a22,#ff4126,#ff5029,#ff632f,#ff7b37,#ff9941)"></i><i style="background:linear-gradient(#ff0015,#ff0016,#ff0017,#ff0018,#ff0219,#ff0519,#ff091a,#ff0c1b,#ff101c,#ff151e,#ff1e20,#ff3023,#ff4526,#ff532a,#ff6530,#ff7d37,#ff9941)"></i><i style="background:linear-gradient(#ff0015,#ff0016,#ff0017,#ff0018,#ff0319,#ff061a,#ff0a1b,#ff0d1c,#ff121d,#ff181e,#ff2421,#ff3624,#ff4827,#ff562b,#ff6831,#ff7e37,#ff9941)"></i><i style="background:linear-gradient(#ff0014,#ff0016,#ff0017,#ff0018,#ff0319,#ff071a,#ff0b1b,#ff0e1c,#ff141d,#ff1b1f,#ff2921,#ff3c25,#ff4b28,#ff582c,#ff6a32,#ff8037,#ff9941)"></i><i style="background:linear-gradient(#ff0014,#ff0016,#ff0017,#ff0018,#ff0319,#ff071a,#ff0b1b,#ff0f1c,#ff151e,#ff1e20,#ff2c22,#ff3f25,#ff4c28,#ff5a2c,#ff6c32,#ff8038,#ff9941)"></i></div>
<div class="p" style="left:954.7px;top:83px;width:703.8px;height:676.32px"><i style="background:#f3e9c3"></i><i style="background:#f3e9c3"></i><i style="background:#f3e9c3"></i><i style="background:#f3e9c3"></i><i style="background:#f3e9c3"></i><i style="background:#f3e9c3"></i><i style="background:#f3e9c3"></i><i style="background:#f3e9c3"></i><i style="background:#f3e9c3"></i><i style="background:#f3e9c3"></i><i style="background:#f3e9c3"></i><i style="background:#f3e9c3"></i><i style="background:#f3e9c3"></i><i style="background:#f3e9c3"></i><i style="background:#f3e9c3"></i><i style="background:#f3e9c3"></i><i style="background:linear-gradient(#f4e8c2,#f4e8c2,#f4e9c2,#f3e9c2,#f3e9c3,#f3e9c3,#f3e9c3,#f3e9c3,#f3e9c3,#f3e9c3,#f3e9c3,#f3e9c3,#f3e9c3,#f3e9c3,#f3e9c3,#f3e9c3,#f3e9c3)"></i><i style="background:linear-gradient(#f6e7bc,#f6e8be,#f5e8bf,#f5e8c1,#f4e8c1,#f4e8c1,#f4e8c2,#f4e8c2,#f4e9c2,#f4e9c2,#f3e9c3,#f3e9c3,#f3e9c3,#f3e9c3,#f3e9c3,#f3e9c3,#f3e9c3)"></i><i style="background:linear-gradient(#f9e6b2,#f9e6b4,#f8e7b6,#f8e7b7,#f7e7b9,#f7e7bb,#f6e8bc,#f6e8be,#f5e8bf,#f5e8c0,#f4e8c1,#f4e8c1,#f4e8c1,#f4e8c1,#f4e8c1,#f4e8c1,#f4e8c1)"></i><i style="background:linear-gradient(#fce5ab,#fbe5ac,#fbe6ad,#fbe6ae,#fae6af,#fae6b1,#f9e6b2,#f9e6b4,#f8e7b6,#f8e7b7,#f7e7b9,#f7e7b9,#f7e7b9,#f7e7b9,#f7e7b9,#f7e7b8,#f7e7b8)"></i><i style="background:linear-gradient(#fde5a7,#fde5a8,#fde5a8,#fce5a8,#fce5a9,#fce5aa,#fce5ab,#fbe6ac,#fbe6ad,#fbe6ae,#fae6af,#fae6af,#fae6af,#fae6af,#fae6af,#fae6ae,#fbe6ae)"></i><i style="background:linear-gradient(#fee4a4,#fee5a4,#fee5a4,#fee5a4,#fde5a5,#fde5a6,#fde5a7,#fde5a8,#fce5a9,#fce5a9,#fce5aa,#fce5aa,#fce5aa,#fce5ab,#fce5aa,#fce5aa,#fce5a9)"></i><i style="background:linear-gradient(#ffe39e,#ffe39e,#ffe49f,#ffe49f,#ffe4a0,#fee4a2,#fee4a3,#fee5a5,#fde5a5,#fde5a6,#fde5a7,#fde5a7,#fde5a8,#fce5a8,#fce5a8,#fde5a8,#fde5a8)"></i><i style="background:linear-gradient(#ffe092,#ffe094,#ffe195,#ffe197,#ffe299,#ffe39b,#ffe39e,#ffe4a0,#ffe4a1,#fee4a3,#fee5a4,#fee5a5,#fde5a5,#fde5a6,#fde5a6,#fde5a6,#fde5a6)"></i><i style="background:linear-gradient(#ffdc86,#ffdd88,#ffde8a,#ffde8c,#ffdf8f,#ffe093,#ffe196,#ffe299,#ffe39b,#ffe39e,#ffe4a1,#fee4a2,#fee4a3,#fee4a3,#fee4a4,#fee5a4,#fee5a4)"></i><i style="background:linear-gradient(#ffda80,#ffda81,#ffdb82,#ffdc84,#ffdd86,#ffdd89,#ffde8c,#ffdf90,#ffe194,#ffe298,#ffe39c,#ffe39e,#ffe49f,#ffe4a1,#ffe4a2,#fee4a2,#fee4a3)"></i><i style="background:linear-gradient(#ffd97e,#ffd97f,#ffd97f,#ffd97f,#ffda80,#ffdb82,#ffdc84,#ffdd87,#ffde8c,#ffe092,#ffe297,#ffe299,#ffe39b,#ffe39d,#ffe49f,#ffe4a0,#ffe4a1)"></i><i style="background:linear-gradient(#ffd87d,#ffd87d,#ffd87d,#ffd77c,#ffd87d,#ffd97e,#ffd97f,#ffda81,#ffdd86,#ffde8c,#ffe092,#ffe194,#ffe196,#ffe299,#ffe39b,#ffe39d,#ffe49f)"></i><i style="background:linear-gradient(#ffd77c,#ffd77c,#ffd77b,#ffd67a,#ffd67b,#ffd77c,#ffd87d,#ffd97f,#ffdb82,#ffdd87,#ffde8c,#ffdf8f,#ffe092,#ffe194,#ffe197,#ffe299,#ffe39c)"></i><i style="background:linear-gradient(#ffd77b,#ffd67a,#ffd579,#ffd578,#ffd579,#ffd67a,#ffd77b,#ffd87d,#ffda80,#ffdc83,#ffdd88,#ffde8a,#ffdf8d,#ffdf90,#ffe093,#ffe195,#ffe298)"></i><i style="background:linear-gradient(#ffd578,#ffd578,#ffd477,#ffd476,#ffd476,#ffd578,#ffd579,#ffd77b,#ffd87e,#ffda81,#ffdc84,#ffdd86,#ffdd89,#ffde8c,#ffdf8f,#ffe092,#ffe195)"></i><i style="background:linear-gradient(#ffd376,#ffd375,#ffd374,#ffd274,#ffd374,#ffd376,#ffd477,#ffd679,#ffd77c,#ffd97f,#ffda81,#ffdc83,#ffdc85,#ffdd88,#ffde8b,#ffdf8e,#ffe091)"></i><i style="background:linear-gradient(#ffd273,#ffd172,#ffd172,#ffd171,#ffd172,#ffd274,#ffd375,#ffd477,#ffd67a,#ffd77c,#ffd97f,#ffda81,#ffdb83,#ffdc85,#ffdd88,#ffde8b,#ffdf8d)"></i><i style="background:linear-gradient(#ffd070,#ffd070,#ffd070,#ffcf6f,#ffd070,#ffd172,#ffd274,#ffd376,#ffd578,#ffd67a,#ffd87d,#ffd97f,#ffda81,#ffdb83,#ffdc85,#ffdd87,#ffdd89)"></i><i style="background:linear-gradient(#ffce6e,#ffce6e,#ffce6e,#ffce6e,#ffcf6f,#ffd070,#ffd172,#ffd274,#ffd476,#ffd578,#ffd67a,#ffd87d,#ffd97f,#ffda81,#ffdb83,#ffdc84,#ffdc85)"></i><i style="background:linear-gradient(#ffcd6d,#ffcd6d,#ffcd6d,#ffcd6d,#ffce6e,#ffcf6f,#ffd070,#ffd172,#ffd274,#ffd376,#ffd578,#ffd67b,#ffd87d,#ffda80,#ffda81,#ffda81,#ffdb82)"></i><i style="background:linear-gradient(#ffcc6c,#ffcc6c,#ffcc6c,#ffcc6c,#ffcd6d,#ffce6e,#ffcf6f,#ffd070,#ffd171,#ffd273,#ffd375,#ffd578,#ffd77b,#ffd97e,#ffd97f,#ffd980,#ffda80)"></i><i style="background:linear-gradient(#ffcb6b,#ffcb6b,#ffcb6b,#ffcb6b,#ffcb6b,#ffcc6c,#ffcd6d,#ffce6e,#ffcf6f,#ffd171,#ffd273,#ffd476,#ffd679,#ffd87d,#ffd97e,#ffd97f,#ffd97f)"></i><i style="background:linear-gradient(#ffca6a,#ffca6a,#ffca6a,#ffca6a,#ffca6a,#ffcb6b,#ffcc6c,#ffcd6d,#ffce6e,#ffcf6f,#ffd071,#ffd274,#ffd578,#ffd77b,#ffd87d,#ffd87e,#ffd97f)"></i><i style="background:linear-gradient(#ffc868,#ffc868,#ffc868,#ffc868,#ffc969,#ffca6a,#ffcb6b,#ffcc6c,#ffcd6d,#ffce6e,#ffcf6f,#ffd172,#ffd376,#ffd679,#ffd77c,#ffd87d,#ffd97f)"></i><i style="background:linear-gradient(#ffc767,#ffc767,#ffc767,#ffc767,#ffc868,#ffc969,#ffca6a,#ffcb6b,#ffcc6c,#ffcd6d,#ffce6e,#ffd070,#ffd274,#ffd578,#ffd67a,#ffd87d,#ffd97f)"></i><i style="background:linear-gradient(#ffc565,#ffc565,#ffc565,#ffc565,#ffc666,#ffc767,#ffc868,#ffc969,#ffca6a,#ffcc6c,#ffcd6d,#ffcf6f,#ffd172,#ffd376,#ffd579,#ffd77c,#ffd97e)"></i><i style="background:linear-gradient(#ffc262,#ffc262,#ffc262,#ffc262,#ffc363,#ffc565,#ffc666,#ffc767,#ffc969,#ffca6a,#ffcc6c,#ffce6e,#ffd070,#ffd273,#ffd477,#ffd67b,#ffd87e)"></i><i style="background:linear-gradient(#ffbe5f,#ffbe5f,#ffbe5f,#ffbe5f,#ffc060,#ffc262,#ffc364,#ffc566,#ffc767,#ffc969,#ffca6a,#ffcc6c,#ffce6e,#ffd071,#ffd375,#ffd679,#ffd87e)"></i><i style="background:linear-gradient(#ffbb5c,#ffbb5c,#ffbb5c,#ffbb5c,#ffbc5d,#ffbe5f,#ffc061,#ffc263,#ffc565,#ffc767,#ffc969,#ffcb6b,#ffcd6d,#ffcf6f,#ffd273,#ffd578,#ffd87e)"></i><i style="background:linear-gradient(#ffb85a,#ffb85a,#ffb85a,#ffb85a,#ffb95b,#ffbb5c,#ffbd5e,#ffbf60,#ffc363,#ffc666,#ffc868,#ffca6a,#ffcc6c,#ffce6e,#ffd171,#ffd477,#ffd87d)"></i><i style="background:linear-gradient(#ffb557,#ffb557,#ffb557,#ffb557,#ffb658,#ffb859,#ffba5b,#ffbc5d,#ffc060,#ffc364,#ffc666,#ffc969,#ffcb6b,#ffcd6d,#ffd070,#ffd376,#ffd77c)"></i><i style="background:linear-gradient(#ffb355,#ffb355,#ffb355,#ffb355,#ffb356,#ffb556,#ffb658,#ffb95a,#ffbc5e,#ffc061,#ffc464,#ffc767,#ffc969,#ffcc6c,#ffce6e,#ffd273,#ffd679)"></i><i style="background:linear-gradient(#ffb154,#ffb154,#ffb154,#ffb154,#ffb254,#ffb355,#ffb456,#ffb657,#ffb95b,#ffbd5e,#ffc161,#ffc565,#ffc868,#ffca6a,#ffcd6d,#ffd070,#ffd476)"></i><i style="background:linear-gradient(#ffb053,#ffb053,#ffb053,#ffb053,#ffb153,#ffb154,#ffb255,#ffb355,#ffb658,#ffba5b,#ffbd5e,#ffc262,#ffc666,#ffc969,#ffcc6c,#ffcf6f,#ffd273)"></i><i style="background:linear-gradient(#ffaf52,#ffaf52,#ffaf52,#ffaf52,#ffaf52,#ffb053,#ffb154,#ffb254,#ffb356,#ffb658,#ffba5b,#ffbf60,#ffc464,#ffc868,#ffca6a,#ffcd6d,#ffd070)"></i><i style="background:linear-gradient(#ffad51,#ffad51,#ffad51,#ffad51,#ffae51,#ffae52,#ffaf52,#ffb053,#ffb254,#ffb456,#ffb758,#ffbc5d,#ffc162,#ffc666,#ffc969,#ffcc6c,#ffce6e)"></i><i style="background:linear-gradient(#ffab4f,#ffab4f,#ffab4f,#ffab4f,#ffac50,#ffad51,#ffae51,#ffaf52,#ffb153,#ffb255,#ffb456,#ffb95a,#ffbe5f,#ffc464,#ffc868,#ffca6a,#ffcd6d)"></i><i style="background:linear-gradient(#ffa84c,#ffa84c,#ffa84c,#ffa84c,#ffa94e,#ffab4f,#ffac50,#ffad51,#ffaf52,#ffb154,#ffb255,#ffb658,#ffbb5c,#ffc161,#ffc666,#ffc969,#ffcc6c)"></i><i style="background:linear-gradient(#ffa44a,#ffa44a,#ffa44a,#ffa44a,#ffa54b,#ffa74c,#ffa94e,#ffac50,#ffae51,#ffaf52,#ffb154,#ffb356,#ffb85a,#ffbe5e,#ffc363,#ffc868,#ffcb6b)"></i><i style="background:linear-gradient(#ffa047,#ffa047,#ffa047,#ffa047,#ffa248,#ffa449,#ffa64b,#ffa84d,#ffac50,#ffae51,#ffaf53,#ffb254,#ffb557,#ffba5c,#ffc061,#ffc666,#ffc969)"></i><i style="background:linear-gradient(#ff9d44,#ff9d44,#ff9d44,#ff9d44,#ff9e45,#ffa047,#ffa248,#ffa54a,#ffa94e,#ffac50,#ffae52,#ffb053,#ffb355,#ffb759,#ffbd5e,#ffc464,#ffc868)"></i><i style="background:linear-gradient(#ff9941,#ff9941,#ff9941,#ff9941,#ff9b42,#ff9d44,#ff9f45,#ffa147,#ffa54b,#ffaa4e,#ffad51,#ffaf52,#ffb254,#ffb456,#ffbb5c,#ffc162,#ffc767)"></i><i style="background:linear-gradient(#ff953f,#ff953f,#ff953f,#ff953f,#ff9740,#ff9941,#ff9b42,#ff9e45,#ffa248,#ffa74c,#ffab4f,#ffae52,#ffb154,#ffb356,#ffb95a,#ffbf60,#ffc666)"></i><i style="background:linear-gradient(#ff913e,#ff913e,#ff913e,#ff913e,#ff933e,#ff953f,#ff9740,#ff9a42,#ff9f46,#ffa449,#ffa94d,#ffad51,#ffb053,#ffb355,#ffb759,#ffbd5e,#ffc464)"></i><i style="background:linear-gradient(#ff8d3c,#ff8d3c,#ff8d3c,#ff8d3c,#ff8f3d,#ff913d,#ff933e,#ff9740,#ff9c43,#ffa147,#ffa64b,#ffad50,#ffaf53,#ffb255,#ffb658,#ffbc5d,#ffc162)"></i><i style="background:linear-gradient(#ff893b,#ff893b,#ff893b,#ff893b,#ff8b3b,#ff8d3c,#ff8f3d,#ff933e,#ff9941,#ff9e45,#ffa449,#ffab4f,#ffaf52,#ffb254,#ffb557,#ffba5b,#ffbf60)"></i><i style="background:linear-gradient(#ff8539,#ff8539,#ff8539,#ff8539,#ff873a,#ff893b,#ff8b3b,#ff8f3d,#ff953f,#ff9c43,#ffa148,#ffa94e,#ffae52,#ffb154,#ffb456,#ffb85a,#ffbd5e)"></i><i style="background:linear-gradient(#ff8138,#ff8138,#ff8138,#ff8138,#ff8238,#ff8539,#ff873a,#ff8b3b,#ff923e,#ff9941,#ff9f46,#ffa74c,#ffad51,#ffb053,#ffb355,#ffb758,#ffbc5d)"></i><i style="background:linear-gradient(#ff7d37,#ff7c37,#ff7c37,#ff7c37,#ff7d37,#ff8038,#ff8338,#ff873a,#ff8f3d,#ff963f,#ff9d44,#ffa54a,#ffac50,#ffb053,#ffb255,#ffb557,#ffbb5c)"></i><i style="background:linear-gradient(#ff7936,#ff7836,#ff7736,#ff7635,#ff7836,#ff7c37,#ff7f37,#ff8439,#ff8b3b,#ff933e,#ff9a42,#ffa248,#ffaa4f,#ffaf52,#ffb154,#ffb456,#ffba5c)"></i><i style="background:linear-gradient(#ff7435,#ff7335,#ff7234,#ff7134,#ff7335,#ff7736,#ff7b37,#ff8038,#ff883a,#ff903d,#ff9840,#ffa046,#ffa84d,#ffae51,#ffb154,#ffb456,#ffba5b)"></i><i style="background:linear-gradient(#ff7034,#ff6e33,#ff6d33,#ff6b32,#ff6e33,#ff7335,#ff7836,#ff7d37,#ff8439,#ff8d3c,#ff953f,#ff9e44,#ffa64b,#ffad51,#ffb053,#ffb355,#ffb95b)"></i><i style="background:linear-gradient(#ff6a32,#ff6831,#ff6630,#ff6430,#ff6831,#ff6e33,#ff7435,#ff7a36,#ff8138,#ff8a3b,#ff923e,#ff9b43,#ffa349,#ffac50,#ffaf52,#ffb355,#ffb95a)"></i><i style="background:linear-gradient(#ff6430,#ff622f,#ff602e,#ff5e2e,#ff622f,#ff6932,#ff7034,#ff7735,#ff7e37,#ff873a,#ff903d,#ff9941,#ffa148,#ffaa4e,#ffaf52,#ffb255,#ffb85a)"></i><i style="background:linear-gradient(#ff5e2d,#ff5c2d,#ff5b2c,#ff592c,#ff5d2d,#ff6530,#ff6c33,#ff7435,#ff7b37,#ff8439,#ff8d3c,#ff9740,#ffa046,#ffa84d,#ffae52,#ffb254,#ffb859)"></i><i style="background:linear-gradient(#ff572b,#ff572b,#ff562b,#ff552b,#ff5a2c,#ff612f,#ff6831,#ff7034,#ff7936,#ff8138,#ff8b3b,#ff953f,#ff9e45,#ffa74c,#ffae51,#ffb254,#ffb759)"></i><i style="background:linear-gradient(#ff512a,#ff512a,#ff512a,#ff522a,#ff562b,#ff5d2d,#ff6530,#ff6d33,#ff7635,#ff7e37,#ff883a,#ff923e,#ff9c43,#ffa64b,#ffad51,#ffb154,#ffb758)"></i><i style="background:linear-gradient(#ff4c28,#ff4d28,#ff4d29,#ff4e29,#ff532a,#ff5a2c,#ff612e,#ff6931,#ff7335,#ff7c37,#ff8539,#ff903d,#ff9b42,#ffa44a,#ffad51,#ffb154,#ffb658)"></i><i style="background:linear-gradient(#ff4827,#ff4927,#ff4a28,#ff4b28,#ff5029,#ff572b,#ff5d2d,#ff6530,#ff7034,#ff7936,#ff8338,#ff8e3c,#ff9941,#ffa349,#ffac50,#ffb153,#ffb557)"></i><i style="background:linear-gradient(#ff4627,#ff4727,#ff4927,#ff4a28,#ff4e29,#ff552b,#ff5b2c,#ff632f,#ff6e33,#ff7736,#ff8038,#ff8b3b,#ff963f,#ffa147,#ffab4f,#ffb053,#ffb557)"></i><i style="background:linear-gradient(#ff4626,#ff4727,#ff4827,#ff4927,#ff4d29,#ff532a,#ff592c,#ff612e,#ff6c32,#ff7535,#ff7e37,#ff893a,#ff943e,#ff9e45,#ffa94e,#ffb053,#ffb456)"></i><i style="background:linear-gradient(#ff4526,#ff4627,#ff4727,#ff4827,#ff4c28,#ff522a,#ff572b,#ff5e2e,#ff6931,#ff7335,#ff7c37,#ff8639,#ff913d,#ff9c43,#ffa74c,#ffaf52,#ffb456)"></i><i style="background:linear-gradient(#ff4526,#ff4626,#ff4727,#ff4827,#ff4b28,#ff5029,#ff552b,#ff5c2d,#ff6731,#ff7134,#ff7a36,#ff8338,#ff8e3d,#ff9941,#ffa54b,#ffaf52,#ffb456)"></i><i style="background:linear-gradient(#ff4426,#ff4526,#ff4627,#ff4727,#ff4a28,#ff4e29,#ff532a,#ff592c,#ff6430,#ff6f34,#ff7836,#ff8138,#ff8c3c,#ff9740,#ffa449,#ffae52,#ffb356)"></i><i style="background:linear-gradient(#ff4426,#ff4526,#ff4526,#ff4627,#ff4927,#ff4d28,#ff5029,#ff572b,#ff622f,#ff6d33,#ff7635,#ff7f37,#ff8a3b,#ff953f,#ffa248,#ffae51,#ffb355)"></i><i style="background:linear-gradient(#ff4326,#ff4426,#ff4526,#ff4526,#ff4827,#ff4b28,#ff4e29,#ff542a,#ff5f2e,#ff6b32,#ff7535,#ff7e37,#ff883a,#ff933e,#ffa147,#ffad51,#ffb355)"></i><i style="background:linear-gradient(#ff4226,#ff4326,#ff4426,#ff4526,#ff4727,#ff4927,#ff4c28,#ff522a,#ff5d2d,#ff6931,#ff7435,#ff7d37,#ff873a,#ff923e,#ffa046,#ffad51,#ffb355)"></i><i style="background:linear-gradient(#ff4125,#ff4226,#ff4326,#ff4426,#ff4526,#ff4827,#ff4a28,#ff4f29,#ff5b2c,#ff6731,#ff7335,#ff7c37,#ff8639,#ff913d,#ff9f45,#ffad50,#ffb255)"></i><i style="background:linear-gradient(#ff4025,#ff4125,#ff4126,#ff4226,#ff4426,#ff4627,#ff4827,#ff4d29,#ff592c,#ff6630,#ff7234,#ff7b36,#ff8439,#ff903d,#ff9e45,#ffac50,#ffb255)"></i><i style="background:linear-gradient(#ff3f25,#ff4025,#ff4025,#ff4125,#ff4326,#ff4526,#ff4627,#ff4b28,#ff582b,#ff6430,#ff7134,#ff7a36,#ff8338,#ff8e3d,#ff9d44,#ffac50,#ffb254)"></i><i style="background:linear-gradient(#ff3e25,#ff3f25,#ff3f25,#ff4025,#ff4126,#ff4326,#ff4426,#ff4927,#ff562b,#ff632f,#ff6f34,#ff7936,#ff8238,#ff8e3c,#ff9c43,#ffab4f,#ffb254)"></i><i style="background:linear-gradient(#ff3d25,#ff3e25,#ff3e25,#ff3f25,#ff4025,#ff4125,#ff4226,#ff4827,#ff542a,#ff612f,#ff6e33,#ff7836,#ff8238,#ff8e3c,#ff9c43,#ffab4f,#ffb254)"></i><i style="background:linear-gradient(#ff3c25,#ff3c25,#ff3d25,#ff3e25,#ff3f25,#ff4025,#ff4025,#ff4727,#ff532a,#ff602e,#ff6d33,#ff7736,#ff8138,#ff8d3c,#ff9c43,#ffaa4f,#ffb154)"></i><i style="background:linear-gradient(#ff3a24,#ff3b24,#ff3c25,#ff3d25,#ff3e25,#ff3f25,#ff4025,#ff4627,#ff522a,#ff5e2e,#ff6b32,#ff7635,#ff8038,#ff8d3c,#ff9b43,#ffaa4e,#ffb154)"></i><i style="background:linear-gradient(#ff3824,#ff3924,#ff3b24,#ff3c25,#ff3d25,#ff3e25,#ff4025,#ff4626,#ff512a,#ff5d2d,#ff6831,#ff7435,#ff7f37,#ff8c3c,#ff9a42,#ffa94e,#ffb153)"></i><i style="background:linear-gradient(#ff3624,#ff3824,#ff3924,#ff3b24,#ff3d25,#ff3e25,#ff4025,#ff4626,#ff5029,#ff5b2c,#ff6630,#ff7335,#ff7e37,#ff8b3b,#ff9941,#ffa84d,#ffb053)"></i><i style="background:linear-gradient(#ff3423,#ff3624,#ff3824,#ff3a24,#ff3c25,#ff3e25,#ff4025,#ff4627,#ff5029,#ff5a2c,#ff6530,#ff7234,#ff7d37,#ff8a3b,#ff9940,#ffa74c,#ffb053)"></i><i style="background:linear-gradient(#ff3223,#ff3523,#ff3724,#ff3a24,#ff3c25,#ff3e25,#ff4126,#ff4627,#ff5029,#ff5a2c,#ff6430,#ff7134,#ff7c37,#ff893a,#ff9840,#ffa74c,#ffb053)"></i><i style="background:linear-gradient(#ff3123,#ff3423,#ff3624,#ff3924,#ff3c25,#ff3f25,#ff4226,#ff4727,#ff5029,#ff592c,#ff632f,#ff7034,#ff7b36,#ff883a,#ff9740,#ffa64b,#ffb053)"></i><i style="background:linear-gradient(#ff3023,#ff3323,#ff3624,#ff3924,#ff3c25,#ff3f25,#ff4326,#ff4827,#ff5029,#ff592c,#ff622f,#ff6f34,#ff7a36,#ff873a,#ff963f,#ffa64b,#ffb053)"></i><i style="background:linear-gradient(#ff2f22,#ff3223,#ff3524,#ff3924,#ff3c25,#ff3f25,#ff4426,#ff4927,#ff5029,#ff592c,#ff622f,#ff6f34,#ff7a36,#ff873a,#ff963f,#ffa64b,#ffb053)"></i><i style="background:linear-gradient(#ff2e22,#ff3223,#ff3524,#ff3924,#ff3c25,#ff4025,#ff4426,#ff4927,#ff5129,#ff592c,#ff622f,#ff6f34,#ff7a36,#ff873a,#ff963f,#ffa64b,#ffb053)"></i><i style="background:linear-gradient(#ff2e22,#ff3123,#ff3523,#ff3924,#ff3c25,#ff4025,#ff4426,#ff4a28,#ff512a,#ff592c,#ff622f,#ff6f34,#ff7a36,#ff873a,#ff963f,#ffa64b,#ffb053)"></i><i style="background:linear-gradient(#ff2d22,#ff3123,#ff3523,#ff3824,#ff3c25,#ff4025,#ff4426,#ff4b28,#ff522a,#ff5a2c,#ff622f,#ff6f34,#ff7a36,#ff873a,#ff963f,#ffa64b,#ffb053)"></i><i style="background:linear-gradient(#ff2d22,#ff3023,#ff3423,#ff3824,#ff3b25,#ff3f25,#ff4426,#ff4b28,#ff512a,#ff592c,#ff622f,#ff6f34,#ff7a36,#ff863a,#ff953f,#ffa64b,#ffb053)"></i><i style="background:linear-gradient(#ff2c22,#ff2f23,#ff3323,#ff3524,#ff3824,#ff3c25,#ff4226,#ff4927,#ff5029,#ff582b,#ff602e,#ff6d33,#ff7836,#ff8539,#ff943e,#ffa44a,#ffb053)"></i><i style="background:linear-gradient(#ff2c22,#ff2e22,#ff3023,#ff3123,#ff3323,#ff3724,#ff3c25,#ff4627,#ff4d28,#ff552b,#ff5d2d,#ff6a32,#ff7635,#ff8238,#ff913d,#ffa248,#ffaf52)"></i><i style="background:linear-gradient(#ff2b22,#ff2c22,#ff2d22,#ff2d22,#ff2e22,#ff3123,#ff3624,#ff4226,#ff4927,#ff512a,#ff5a2c,#ff6630,#ff7335,#ff7f37,#ff8e3c,#ff9f46,#ffae51)"></i><i style="background:linear-gradient(#ff2b22,#ff2b22,#ff2a22,#ff2821,#ff2821,#ff2c22,#ff3023,#ff3c25,#ff4627,#ff4e29,#ff562b,#ff622f,#ff7034,#ff7c37,#ff8b3b,#ff9c43,#ffac50)"></i><i style="background:linear-gradient(#ff2a22,#ff2921,#ff2721,#ff2421,#ff2320,#ff2721,#ff2b22,#ff3624,#ff4226,#ff4a28,#ff532a,#ff5f2e,#ff6c33,#ff7936,#ff883a,#ff9a42,#ffab4f)"></i><i style="background:linear-gradient(#ff2921,#ff2721,#ff2521,#ff2020,#ff1f20,#ff2321,#ff2821,#ff3223,#ff3d25,#ff4827,#ff5129,#ff5d2d,#ff6a32,#ff7836,#ff863a,#ff9940,#ffaa4e)"></i><i style="background:linear-gradient(#ff2721,#ff2521,#ff2220,#ff1e20,#ff1d20,#ff2120,#ff2621,#ff2e22,#ff3924,#ff4627,#ff4f29,#ff5b2c,#ff6931,#ff7736,#ff8639,#ff9840,#ffa94e)"></i><i style="background:linear-gradient(#ff2521,#ff2220,#ff2020,#ff1c1f,#ff1c1f,#ff2020,#ff2421,#ff2b22,#ff3624,#ff4526,#ff4e29,#ff5a2c,#ff6831,#ff7736,#ff8639,#ff9840,#ffa94e)"></i><i style="background:linear-gradient(#ff2321,#ff2020,#ff1d20,#ff1a1f,#ff1a1f,#ff1e20,#ff2220,#ff2821,#ff3223,#ff4326,#ff4d29,#ff592c,#ff6831,#ff7635,#ff8539,#ff9740,#ffa94e)"></i><i style="background:linear-gradient(#ff2120,#ff1d20,#ff1a1f,#ff181e,#ff181f,#ff1b1f,#ff1f20,#ff2421,#ff2f23,#ff4025,#ff4c28,#ff592c,#ff6731,#ff7635,#ff8539,#ff9740,#ffa94e)"></i><i style="background:linear-gradient(#ff1d1f,#ff1a1f,#ff181e,#ff151e,#ff161e,#ff181e,#ff1a1f,#ff1f20,#ff2c22,#ff3e25,#ff4b28,#ff582b,#ff6731,#ff7635,#ff8539,#ff9840,#ffa94e)"></i><i style="background:linear-gradient(#ff191f,#ff171e,#ff151e,#ff131d,#ff121d,#ff131d,#ff161e,#ff1a1f,#ff2922,#ff3b25,#ff4a28,#ff582b,#ff6731,#ff7736,#ff8639,#ff9840,#ffa94e)"></i><i style="background:linear-gradient(#ff161e,#ff141d,#ff121d,#ff101c,#ff0f1c,#ff101c,#ff121d,#ff171e,#ff2621,#ff3924,#ff4a28,#ff582b,#ff6831,#ff7736,#ff8639,#ff9840,#ffa94e)"></i><i style="background:linear-gradient(#ff131d,#ff111d,#ff101c,#ff0e1c,#ff0c1b,#ff0d1c,#ff101c,#ff141e,#ff2421,#ff3824,#ff4927,#ff582b,#ff6831,#ff7736,#ff863a,#ff9840,#ffaa4e)"></i><i style="background:linear-gradient(#ff0f1c,#ff0e1c,#ff0e1c,#ff0d1b,#ff0c1b,#ff0d1b,#ff0f1c,#ff131d,#ff2321,#ff3724,#ff4927,#ff582b,#ff6831,#ff7836,#ff863a,#ff9940,#ffaa4e)"></i><i style="background:linear-gradient(#ff0c1b,#ff0c1b,#ff0c1b,#ff0c1b,#ff0b1b,#ff0d1b,#ff0f1c,#ff121d,#ff2320,#ff3824,#ff4a28,#ff582c,#ff6931,#ff7836,#ff873a,#ff9941,#ffab4f)"></i><i style="background:linear-gradient(#ff081a,#ff091a,#ff0a1b,#ff0b1b,#ff0b1b,#ff0d1b,#ff0f1c,#ff111d,#ff2220,#ff3824,#ff4a28,#ff592c,#ff6931,#ff7836,#ff873a,#ff9941,#ffab4f)"></i><i style="background:linear-gradient(#ff0519,#ff061a,#ff081a,#ff091a,#ff0b1b,#ff0c1b,#ff0e1c,#ff111d,#ff2120,#ff3824,#ff4b28,#ff592c,#ff6932,#ff7836,#ff873a,#ff9941,#ffac50)"></i><i style="background:linear-gradient(#ff0319,#ff0419,#ff061a,#ff071a,#ff091a,#ff0a1b,#ff0d1b,#ff111c,#ff2220,#ff3824,#ff4b28,#ff5a2c,#ff6a32,#ff7936,#ff883a,#ff9941,#ffac50)"></i><i style="background:linear-gradient(#ff0118,#ff0219,#ff0419,#ff0519,#ff061a,#ff081a,#ff0b1b,#ff111d,#ff2220,#ff3924,#ff4b28,#ff5b2c,#ff6b32,#ff7936,#ff883a,#ff9a41,#ffac50)"></i><i style="background:linear-gradient(#ff0018,#ff0018,#ff0118,#ff0219,#ff0419,#ff0519,#ff091a,#ff111d,#ff2321,#ff3a24,#ff4c28,#ff5b2c,#ff6b32,#ff7936,#ff893a,#ff9a42,#ffac50)"></i><i style="background:linear-gradient(#ff0017,#ff0018,#ff0018,#ff0018,#ff0118,#ff0319,#ff071a,#ff111d,#ff2421,#ff3b24,#ff4c28,#ff5c2d,#ff6c32,#ff7a36,#ff893b,#ff9b42,#ffac50)"></i><i style="background:linear-gradient(#ff0017,#ff0017,#ff0017,#ff0017,#ff0018,#ff0018,#ff0519,#ff121d,#ff2521,#ff3c25,#ff4d28,#ff5d2d,#ff6c33,#ff7a36,#ff8a3b,#ff9b42,#ffac50)"></i><i style="background:linear-gradient(#ff0017,#ff0017,#ff0017,#ff0017,#ff0018,#ff0118,#ff061a,#ff141d,#ff2821,#ff3e25,#ff4e29,#ff5e2d,#ff6e33,#ff7b36,#ff8b3b,#ff9c43,#ffac50)"></i><i style="background:linear-gradient(#ff0018,#ff0018,#ff0118,#ff0118,#ff0219,#ff0519,#ff0b1b,#ff181e,#ff2e22,#ff4426,#ff512a,#ff602e,#ff6f34,#ff7d37,#ff8c3c,#ff9d44,#ffac50)"></i><i style="background:linear-gradient(#ff0419,#ff0519,#ff0519,#ff061a,#ff071a,#ff0b1b,#ff121d,#ff1f20,#ff3624,#ff4727,#ff542a,#ff632f,#ff7134,#ff7e37,#ff8e3c,#ff9e45,#ffad51)"></i><i style="background:linear-gradient(#ff081a,#ff091a,#ff0a1b,#ff0b1b,#ff0c1b,#ff111c,#ff181e,#ff2721,#ff3d25,#ff4b28,#ff572b,#ff6630,#ff7335,#ff8037,#ff903d,#ffa046,#ffad51)"></i><i style="background:linear-gradient(#ff0c1b,#ff0d1c,#ff0e1c,#ff101c,#ff111d,#ff151e,#ff1f20,#ff2e22,#ff4326,#ff4d29,#ff5a2c,#ff6831,#ff7435,#ff8138,#ff913d,#ffa147,#ffae51)"></i><i style="background:linear-gradient(#ff101c,#ff121d,#ff131d,#ff141d,#ff151e,#ff191f,#ff2421,#ff3323,#ff4626,#ff4f29,#ff5b2d,#ff6931,#ff7535,#ff8238,#ff923e,#ffa248,#ffae51)"></i><i style="background:linear-gradient(#ff151e,#ff161e,#ff171e,#ff181e,#ff191f,#ff1e20,#ff2922,#ff3824,#ff4727,#ff5129,#ff5d2d,#ff6a32,#ff7635,#ff8238,#ff933e,#ffa248,#ffae52)"></i><i style="background:linear-gradient(#ff191f,#ff1a1f,#ff1c1f,#ff1d20,#ff2020,#ff2421,#ff2f22,#ff3d25,#ff4927,#ff522a,#ff5e2d,#ff6b32,#ff7736,#ff8338,#ff933e,#ffa349,#ffaf52)"></i><i style="background:linear-gradient(#ff1e20,#ff2020,#ff2220,#ff2421,#ff2721,#ff2a22,#ff3523,#ff4326,#ff4b28,#ff542a,#ff5f2e,#ff6c32,#ff7836,#ff8439,#ff943f,#ffa44a,#ffaf52)"></i><i style="background:linear-gradient(#ff2321,#ff2621,#ff2821,#ff2b22,#ff2e22,#ff3223,#ff3c25,#ff4627,#ff4e29,#ff562b,#ff602e,#ff6d33,#ff7836,#ff8539,#ff953f,#ffa54a,#ffaf53)"></i><i style="background:linear-gradient(#ff2821,#ff2b22,#ff2e22,#ff3123,#ff3523,#ff3a24,#ff4326,#ff4927,#ff5029,#ff582b,#ff622f,#ff6e33,#ff7936,#ff863a,#ff963f,#ffa64b,#ffb053)"></i><i style="background:linear-gradient(#ff2d22,#ff3123,#ff3423,#ff3824,#ff3c25,#ff4226,#ff4727,#ff4c28,#ff522a,#ff5a2c,#ff632f,#ff6f34,#ff7a36,#ff873a,#ff9740,#ffa74c,#ffb053)"></i><i style="background:linear-gradient(#ff3123,#ff3523,#ff3924,#ff3d25,#ff4025,#ff4626,#ff4a28,#ff4f29,#ff542a,#ff5b2c,#ff6430,#ff7034,#ff7b36,#ff883a,#ff9840,#ffa74c,#ffb154)"></i><i style="background:linear-gradient(#ff3223,#ff3624,#ff3a24,#ff3e25,#ff4226,#ff4627,#ff4a28,#ff4f29,#ff542a,#ff5b2d,#ff6430,#ff7034,#ff7b36,#ff883a,#ff9840,#ffa74c,#ffb154)"></i><i style="background:linear-gradient(#ff3123,#ff3523,#ff3924,#ff3d25,#ff4125,#ff4526,#ff4a28,#ff4e29,#ff542a,#ff5b2c,#ff632f,#ff6f34,#ff7b36,#ff883a,#ff9740,#ffa74c,#ffb153)"></i><i style="background:linear-gradient(#ff3023,#ff3423,#ff3824,#ff3c25,#ff4025,#ff4426,#ff4927,#ff4e29,#ff532a,#ff5b2c,#ff632f,#ff6f34,#ff7a36,#ff873a,#ff9740,#ffa74c,#ffb053)"></i><i style="background:linear-gradient(#ff2f22,#ff3323,#ff3624,#ff3a24,#ff3e25,#ff4226,#ff4727,#ff4d28,#ff522a,#ff5a2c,#ff622f,#ff6e33,#ff7a36,#ff873a,#ff9740,#ffa64b,#ffb053)"></i><i style="background:linear-gradient(#ff2b22,#ff2f22,#ff3223,#ff3624,#ff3924,#ff3d25,#ff4426,#ff4927,#ff4f29,#ff572b,#ff602e,#ff6c33,#ff7836,#ff8539,#ff963f,#ffa54b,#ffb053)"></i><i style="background:linear-gradient(#ff2621,#ff2922,#ff2c22,#ff2f23,#ff3323,#ff3624,#ff3c25,#ff4526,#ff4c28,#ff542a,#ff5d2d,#ff6a32,#ff7635,#ff8338,#ff943f,#ffa44a,#ffaf52)"></i><i style="background:linear-gradient(#ff2120,#ff2321,#ff2621,#ff2921,#ff2c22,#ff2e22,#ff3323,#ff3c25,#ff4827,#ff5029,#ff5a2c,#ff6731,#ff7435,#ff8138,#ff923e,#ffa348,#ffaf52)"></i><i style="background:linear-gradient(#ff1b1f,#ff1e20,#ff2120,#ff2321,#ff2621,#ff2821,#ff2c22,#ff3523,#ff4526,#ff4d29,#ff572b,#ff6530,#ff7335,#ff8038,#ff913e,#ffa248,#ffae52)"></i><i style="background:linear-gradient(#ff191f,#ff1a1f,#ff1d20,#ff2020,#ff2321,#ff2721,#ff2a22,#ff3323,#ff4426,#ff4d29,#ff572b,#ff6630,#ff7335,#ff8138,#ff923e,#ffa248,#ffae52)"></i><i style="background:linear-gradient(#ff171e,#ff191f,#ff1c1f,#ff2020,#ff2421,#ff2921,#ff2d22,#ff3724,#ff4727,#ff5029,#ff5a2c,#ff6831,#ff7635,#ff8338,#ff953f,#ffa44a,#ffaf52)"></i><i style="background:linear-gradient(#ff151e,#ff181f,#ff1c1f,#ff2020,#ff2521,#ff2c22,#ff3223,#ff3d25,#ff4a28,#ff532a,#ff5d2d,#ff6c32,#ff7936,#ff873a,#ff9840,#ffa64b,#ffb053)"></i><i style="background:linear-gradient(#ff141d,#ff171e,#ff1b1f,#ff2120,#ff2721,#ff2f22,#ff3724,#ff4226,#ff4d28,#ff562b,#ff602e,#ff6f34,#ff7c37,#ff8b3b,#ff9a42,#ffa84d,#ffb153)"></i><i style="background:linear-gradient(#ff111d,#ff151e,#ff191f,#ff1f20,#ff2621,#ff2f23,#ff3824,#ff4426,#ff4e29,#ff582b,#ff622f,#ff7134,#ff7d37,#ff8c3c,#ff9c43,#ffa94e,#ffb154)"></i><i style="background:linear-gradient(#ff0d1c,#ff111d,#ff151e,#ff181f,#ff1f20,#ff2922,#ff3423,#ff4025,#ff4c28,#ff562b,#ff602e,#ff6f34,#ff7c37,#ff8a3b,#ff9a41,#ffa84d,#ffb053)"></i><i style="background:linear-gradient(#ff081a,#ff0c1b,#ff0f1c,#ff121d,#ff171e,#ff2020,#ff2b22,#ff3824,#ff4827,#ff522a,#ff5d2d,#ff6b32,#ff7836,#ff8539,#ff963f,#ffa54a,#ffaf53)"></i><i style="background:linear-gradient(#ff0419,#ff061a,#ff091a,#ff0b1b,#ff111c,#ff181e,#ff2220,#ff3023,#ff4326,#ff4e29,#ff592c,#ff6631,#ff7435,#ff8138,#ff913e,#ffa248,#ffaf52)"></i><i style="background:linear-gradient(#ff0018,#ff0118,#ff0319,#ff0519,#ff0a1b,#ff121d,#ff1a1f,#ff2821,#ff3b24,#ff4a28,#ff562b,#ff622f,#ff7034,#ff7d37,#ff8d3c,#ff9f45,#ffae51)"></i><i style="background:linear-gradient(#ff0016,#ff0017,#ff0017,#ff0018,#ff0519,#ff0d1b,#ff151e,#ff2020,#ff3323,#ff4627,#ff522a,#ff5e2d,#ff6c33,#ff7a36,#ff893b,#ff9c43,#ffad50)"></i><i style="background:linear-gradient(#ff0015,#ff0016,#ff0016,#ff0017,#ff0118,#ff091a,#ff111c,#ff191f,#ff2b22,#ff3f25,#ff4d28,#ff5a2c,#ff6831,#ff7635,#ff8539,#ff9840,#ffab4f)"></i><i style="background:linear-gradient(#ff0014,#ff0015,#ff0015,#ff0016,#ff0018,#ff061a,#ff0d1c,#ff151e,#ff2320,#ff3624,#ff4827,#ff562b,#ff6530,#ff7335,#ff8238,#ff953f,#ffa94e)"></i><i style="background:linear-gradient(#ff0013,#ff0014,#ff0015,#ff0015,#ff0017,#ff0319,#ff0a1b,#ff111d,#ff1a1f,#ff2d22,#ff4226,#ff522a,#ff612f,#ff7034,#ff7f37,#ff923e,#ffa74c)"></i><i style="background:linear-gradient(#ff0012,#ff0013,#ff0014,#ff0015,#ff0016,#ff0018,#ff061a,#ff0d1b,#ff151e,#ff2421,#ff3924,#ff4f29,#ff5e2d,#ff6d33,#ff7b37,#ff8f3d,#ffa54a)"></i><i style="background:linear-gradient(#ff0012,#ff0012,#ff0013,#ff0014,#ff0015,#ff0017,#ff0219,#ff081a,#ff101c,#ff1b1f,#ff3023,#ff4b28,#ff5a2c,#ff6931,#ff7836,#ff8b3b,#ffa349)"></i><i style="background:linear-gradient(#ff0011,#ff0012,#ff0012,#ff0013,#ff0015,#ff0016,#ff0018,#ff0419,#ff0b1b,#ff151e,#ff2621,#ff4727,#ff562b,#ff6530,#ff7535,#ff883a,#ffa147)"></i><i style="background:linear-gradient(#ff0010,#ff0011,#ff0012,#ff0013,#ff0014,#ff0015,#ff0017,#ff0018,#ff061a,#ff0f1c,#ff1d20,#ff4326,#ff532a,#ff622f,#ff7234,#ff8539,#ff9f46)"></i><i style="background:linear-gradient(#ff000f,#ff0010,#ff0011,#ff0012,#ff0013,#ff0014,#ff0015,#ff0017,#ff0218,#ff0a1b,#ff171e,#ff3b25,#ff4f29,#ff5e2d,#ff6f34,#ff8138,#ff9d44)"></i><i style="background:linear-gradient(#ff000e,#ff000f,#ff0010,#ff0011,#ff0012,#ff0013,#ff0014,#ff0016,#ff0017,#ff061a,#ff131d,#ff3423,#ff4c28,#ff5b2c,#ff6c32,#ff7f37,#ff9a42)"></i><i style="background:linear-gradient(#ff000d,#ff000e,#ff000e,#ff000f,#ff0011,#ff0012,#ff0013,#ff0015,#ff0016,#ff0319,#ff0f1c,#ff2d22,#ff4827,#ff572b,#ff6931,#ff7c37,#ff9740)"></i><i style="background:linear-gradient(#ff000b,#ff000c,#ff000d,#ff000e,#ff000f,#ff0011,#ff0012,#ff0014,#ff0015,#ff0018,#ff0c1b,#ff2521,#ff4426,#ff542a,#ff6630,#ff7a36,#ff943f)"></i><i style="background:linear-gradient(#ff000a,#ff000b,#ff000c,#ff000d,#ff000e,#ff0010,#ff0011,#ff0013,#ff0014,#ff0017,#ff081a,#ff1e20,#ff3e25,#ff512a,#ff622f,#ff7736,#ff913d)"></i><i style="background:linear-gradient(#ff0009,#ff000a,#ff000b,#ff000c,#ff000d,#ff000f,#ff0010,#ff0012,#ff0013,#ff0016,#ff0419,#ff181e,#ff3724,#ff4e29,#ff5f2e,#ff7435,#ff8e3c)"></i><i style="background:linear-gradient(#ff0008,#ff0009,#ff000a,#ff000b,#ff000c,#ff000d,#ff000f,#ff0011,#ff0012,#ff0015,#ff0118,#ff141d,#ff3023,#ff4a28,#ff5c2d,#ff7234,#ff8b3b)"></i><i style="background:linear-gradient(#ff0007,#ff0008,#ff0009,#ff000a,#ff000b,#ff000c,#ff000e,#ff0010,#ff0012,#ff0014,#ff0017,#ff0f1c,#ff2922,#ff4727,#ff592c,#ff6f34,#ff883a)"></i><i style="background:linear-gradient(#ff0006,#ff0007,#ff0007,#ff0008,#ff000a,#ff000b,#ff000d,#ff000f,#ff0011,#ff0013,#ff0016,#ff0b1b,#ff2220,#ff4426,#ff562b,#ff6c32,#ff8439)"></i><i style="background:linear-gradient(#ff0005,#ff0006,#ff0006,#ff0007,#ff0009,#ff000a,#ff000c,#ff000e,#ff0010,#ff0012,#ff0015,#ff071a,#ff1d20,#ff4025,#ff542a,#ff6a32,#ff8238)"></i><i style="background:linear-gradient(#ff0004,#ff0005,#ff0006,#ff0007,#ff0008,#ff000a,#ff000b,#ff000d,#ff000f,#ff0012,#ff0015,#ff071a,#ff1c1f,#ff3f25,#ff542a,#ff6932,#ff8238)"></i><i style="background:linear-gradient(#ff0004,#ff0004,#ff0005,#ff0006,#ff0007,#ff0009,#ff000b,#ff000d,#ff000f,#ff0012,#ff0015,#ff081a,#ff1e20,#ff4125,#ff552b,#ff6a32,#ff8338)"></i><i style="background:linear-gradient(#ff0003,#ff0004,#ff0005,#ff0005,#ff0007,#ff0008,#ff000a,#ff000c,#ff000f,#ff0012,#ff0016,#ff091a,#ff2020,#ff4326,#ff562b,#ff6b32,#ff8439)"></i><i style="background:linear-gradient(#ff0003,#ff0003,#ff0004,#ff0005,#ff0006,#ff0008,#ff000a,#ff000c,#ff000f,#ff0012,#ff0016,#ff0a1b,#ff2120,#ff4426,#ff562b,#ff6c32,#ff8539)"></i></div>
<div class="p" style="left:203px;top:844px;width:702.4px;height:673.92px"><i style="background:#f3e9c4"></i><i style="background:#f3e9c4"></i><i style="background:linear-gradient(#f3e9c4,#f3e9c4,#f3e9c4,#f3e9c4,#f3e9c4,#f3e9c4,#f3e9c4,#f3e9c4,#f3e9c4,#f3e9c4,#f3e9c4,#f3e9c4,#f3e9c4,#f3e9c4,#f3e9c4,#f3e9c4,#f3e9c3)"></i><i style="background:linear-gradient(#f3e9c4,#f3e9c4,#f3e9c4,#f3e9c4,#f3e9c4,#f3e9c4,#f3e9c4,#f3e9c4,#f3e9c4,#f3e9c4,#f3e9c4,#f3e9c4,#f3e9c4,#f3e9c4,#f3e9c4,#f3e9c4,#f6e7bc)"></i><i style="background:linear-gradient(#f3e9c4,#f3e9c4,#f3e9c4,#f3e9c4,#f3e9c4,#f3e9c4,#f3e9c4,#f3e9c4,#f3e9c4,#f3e9c4,#f3e9c4,#f3e9c4,#f3e9c4,#f3e9c4,#f4e8c2,#f6e8be,#fce5a9)"></i><i style="background:linear-gradient(#f3e9c4,#f3e9c4,#f3e9c4,#f3e9c4,#f3e9c4,#f3e9c4,#f3e9c4,#f3e9c4,#f3e9c4,#f3e9c4,#f3e9c4,#f3e9c3,#f4e9c2,#f4e8c1,#f7e7b9,#fce5aa,#ffe4a0)"></i><i style="background:linear-gradient(#f3e9c4,#f3e9c4,#f3e9c4,#f3e9c4,#f3e9c4,#f3e9c4,#f3e9c4,#f3e9c4,#f3e9c4,#f3e9c4,#f3e9c4,#f5e8c1,#f6e7bb,#f8e7b5,#fce5ab,#ffe4a0,#ffe49f)"></i><i style="background:linear-gradient(#f3e9c4,#f3e9c4,#f3e9c4,#f3e9c4,#f3e9c4,#f3e9c4,#f3e9c4,#f3e9c4,#f3e9c4,#f3e9c4,#f3e9c4,#f6e8bd,#f9e6b2,#fde5a8,#fee4a2,#ffe49f,#ffe39e)"></i><i style="background:linear-gradient(#f3e9c4,#f3e9c4,#f3e9c4,#f3e9c4,#f3e9c4,#f3e9c4,#f3e9c3,#f3e9c3,#f4e9c2,#f4e8c2,#f4e8c1,#f8e7b8,#fbe6ad,#fee4a3,#ffe49f,#ffe49e,#ffe39e)"></i><i style="background:linear-gradient(#f3e9c4,#f3e9c4,#f3e9c4,#f3e9c4,#f3e9c3,#f4e9c2,#f4e8c1,#f5e8bf,#f7e7bb,#f8e7b6,#f9e6b2,#fbe6ac,#fde5a6,#ffe4a1,#ffe49e,#ffe39e,#ffe39d)"></i><i style="background:linear-gradient(#f3e9c4,#f3e9c4,#f3e9c4,#f3e9c4,#f4e9c2,#f5e8bf,#f7e7ba,#f9e7b5,#fae6af,#fce5a9,#fee4a4,#fee4a2,#ffe4a0,#ffe49f,#ffe39e,#ffe39d,#ffe297)"></i><i style="background:linear-gradient(#f3e9c4,#f3e9c4,#f3e9c4,#f3e9c4,#f4e8c1,#f7e7bb,#f9e6b3,#fbe6ac,#fde5a8,#fee4a4,#ffe4a0,#ffe49f,#ffe49e,#ffe39e,#ffe39c,#ffe299,#ffdd88)"></i><i style="background:linear-gradient(#f3e9c4,#f3e9c4,#f3e9c4,#f3e9c4,#f4e8c1,#f7e7b9,#fae6b0,#fce5a8,#fde5a5,#fee4a2,#ffe49f,#ffe49e,#ffe39e,#ffe39d,#ffe196,#ffde8b,#ffd376)"></i><i style="background:linear-gradient(#f3e9c4,#f3e9c4,#f3e9c4,#f3e9c4,#f5e8c1,#f8e7b8,#fbe6ae,#fde5a6,#fee4a4,#ffe4a1,#ffe49e,#ffe39d,#ffe39c,#ffe29b,#ffde8b,#ffd578,#ffc969)"></i><i style="background:linear-gradient(#f3e9c4,#f3e9c4,#f3e9c4,#f3e9c4,#f5e8c0,#f8e7b7,#fbe6ac,#fee5a5,#fee4a2,#ffe4a0,#ffe39e,#ffe299,#ffe195,#ffe091,#ffd77c,#ffca6a,#ffba5b)"></i><i style="background:linear-gradient(#f3e9c4,#f3e9c4,#f3e9c4,#f3e9c4,#f5e8c0,#f8e7b6,#fce5ab,#fee4a3,#ffe4a1,#ffe49f,#ffe39d,#ffe092,#ffdd88,#ffd97f,#ffcd6d,#ffbc5d,#ffaf52)"></i><i style="background:linear-gradient(#f3e9c4,#f3e9c4,#f3e9c4,#f3e9c4,#f5e8c0,#f9e7b4,#fce5a9,#ffe4a1,#ffe49f,#ffe39e,#ffe39d,#ffdd89,#ffd67a,#ffce6e,#ffc162,#ffb053,#ff9f46)"></i><i style="background:linear-gradient(#f2e9c5,#f2e9c5,#f2e9c5,#f2e9c5,#f5e8c0,#f9e6b2,#fee4a4,#ffe29a,#ffe299,#ffe197,#ffe196,#ffd87d,#ffcd6d,#ffc162,#ffb154,#ffa348,#ff8439)"></i><i style="background:linear-gradient(#eeebcc,#eeebcb,#eeebcb,#efeaca,#f4e9c2,#fae6af,#ffe299,#ffde8b,#ffdd87,#ffdc84,#ffda81,#ffce6e,#ffc162,#ffb254,#ffa349,#ff8b3b,#ff6b32)"></i><i style="background:linear-gradient(#e6eed6,#e8edd4,#eaedd2,#ebecd0,#f2e9c5,#fce5a9,#ffde8b,#ffd67a,#ffd374,#ffcf6f,#ffcd6d,#ffc060,#ffb154,#ffa44a,#ff8c3b,#ff7435,#ff522a)"></i><i style="background:linear-gradient(#e2efdc,#e4eed9,#e6eed7,#e8edd4,#f3e9c4,#ffe49f,#ffd87d,#ffcc6c,#ffc868,#ffc364,#ffbc5d,#ffb053,#ffa147,#ff8c3c,#ff7635,#ff5c2d,#ff3223)"></i><i style="background:linear-gradient(#e2efdc,#e4eed9,#e7eed6,#e9edd2,#f5e8c0,#ffe091,#ffcf6f,#ffc162,#ffb85a,#ffb255,#ffae52,#ff9e45,#ff893b,#ff7735,#ff602e,#ff4626,#ff0319)"></i><i style="background:linear-gradient(#e2efdd,#e7edd5,#ececce,#efeaca,#fbe5ac,#ffd87e,#ffc666,#ffb254,#ffad51,#ffa54a,#ff9a42,#ff863a,#ff7535,#ff622f,#ff4827,#ff161e,#ff000d)"></i><i style="background:linear-gradient(#e8edd4,#f0eac9,#f6e8bd,#fce5aa,#ffdc85,#ffca6a,#ffb355,#ffa349,#ff9941,#ff8e3d,#ff8339,#ff7335,#ff612e,#ff4d29,#ff1a1f,#ff0012,#ff0004)"></i><i style="background:linear-gradient(#f4e8c2,#fce5a9,#ffe090,#ffd77c,#ffca6a,#ffb456,#ffa54a,#ff8e3c,#ff8439,#ff7b36,#ff7235,#ff5e2e,#ff4a28,#ff2821,#ff0016,#ff0007,#ff0000)"></i><i style="background:linear-gradient(#ffe39d,#ffdc84,#ffd172,#ffc868,#ffb657,#ffaa4e,#ff913d,#ff7d37,#ff7535,#ff6c32,#ff612f,#ff4927,#ff1e20,#ff0018,#ff000c,#ff0000,#ff0000)"></i><i style="background:linear-gradient(#ffdc84,#ffd171,#ffc767,#ffb758,#ffad51,#ff9840,#ff8038,#ff7034,#ff6630,#ff5c2d,#ff512a,#ff2621,#ff0018,#ff000d,#ff0003,#ff0000,#fd0002)"></i><i style="background:linear-gradient(#ffd579,#ffca6a,#ffba5c,#ffae52,#ff9d44,#ff873a,#ff7335,#ff612f,#ff572b,#ff4c28,#ff4025,#ff0d1b,#ff0011,#ff0005,#ff0000,#f3000b,#f60008)"></i><i style="background:linear-gradient(#ffd070,#ffc464,#ffb255,#ffa64b,#ff903d,#ff7b37,#ff6731,#ff552b,#ff4927,#ff3724,#ff2120,#ff0016,#ff000b,#ff0000,#f90006,#e4000f,#f0000e)"></i><i style="background:linear-gradient(#ffcb6b,#ffbc5d,#ffaf52,#ff9f45,#ff883a,#ff7435,#ff5e2e,#ff4a28,#ff3423,#ff191f,#ff081a,#ff0010,#ff0006,#ff0000,#ee0010,#d80012,#eb0010)"></i><i style="background:linear-gradient(#ffc868,#ffb758,#ffad51,#ff9a41,#ff8238,#ff6f34,#ff572b,#ff4025,#ff1e20,#ff081a,#ff0014,#ff000b,#ff0001,#ff0000,#e80010,#d10014,#e70010)"></i><i style="background:linear-gradient(#ffc566,#ffb456,#ffaa4f,#ff963f,#ff7f37,#ff6a32,#ff522a,#ff3323,#ff141d,#ff0017,#ff0010,#ff0008,#ff0000,#fc0003,#e7000f,#d00014,#e7000f)"></i><i style="background:linear-gradient(#ffc363,#ffb255,#ffa74c,#ff923e,#ff7c37,#ff6630,#ff4e29,#ff2c22,#ff0f1c,#ff0016,#ff000f,#ff0007,#ff0000,#fc0003,#e80010,#d30013,#e90010)"></i><i style="background:linear-gradient(#ffc061,#ffb154,#ffa44a,#ff8f3d,#ff7936,#ff6430,#ff4d29,#ff2c22,#ff0f1c,#ff0016,#ff000f,#ff0007,#ff0000,#fe0001,#eb0010,#d90011,#ec0010)"></i><i style="background:linear-gradient(#ffbd5e,#ffb053,#ffa147,#ff8c3b,#ff7836,#ff6430,#ff4e29,#ff2f22,#ff0f1c,#ff0015,#ff000e,#ff0007,#ff0000,#ff0000,#f1000d,#e1000f,#f1000e)"></i><i style="background:linear-gradient(#ffbb5c,#ffaf52,#ff9f46,#ff8a3b,#ff7736,#ff632f,#ff4e29,#ff2f23,#ff0f1c,#ff0015,#ff000d,#ff0007,#ff0001,#ff0000,#f80007,#ea0010,#f50009)"></i><i style="background:linear-gradient(#ffb759,#ffae51,#ff9e44,#ff893b,#ff7735,#ff632f,#ff4e29,#ff2f23,#ff0e1c,#ff0015,#ff000d,#ff0008,#ff0002,#ff0000,#fe0000,#f4000a,#f90005)"></i><i style="background:linear-gradient(#ffb456,#ffad50,#ff9c43,#ff883a,#ff7735,#ff632f,#ff4e29,#ff2f22,#ff0e1c,#ff0014,#ff000d,#ff0008,#ff0003,#ff0000,#ff0000,#fc0003,#fd0002)"></i><i style="background:linear-gradient(#ffb154,#ffa94e,#ff9941,#ff883a,#ff7735,#ff632f,#ff4e29,#ff2f23,#ff0e1c,#ff0015,#ff000d,#ff0008,#ff0004,#ff0000,#ff0000,#ff0000,#ff0000)"></i><i style="background:linear-gradient(#ffaf52,#ffa54b,#ff9740,#ff873a,#ff7735,#ff632f,#ff4e29,#ff2f23,#ff0f1c,#ff0015,#ff000e,#ff0009,#ff0005,#ff0000,#ff0000,#ff0000,#ff0000)"></i><i style="background:linear-gradient(#ffad51,#ffa248,#ff953f,#ff873a,#ff7735,#ff632f,#ff4e29,#ff3023,#ff101c,#ff0016,#ff000e,#ff000a,#ff0006,#ff0002,#ff0000,#ff0000,#ff0000)"></i><i style="background:linear-gradient(#ffaa4e,#ff9e45,#ff923e,#ff8539,#ff7635,#ff632f,#ff4e29,#ff3023,#ff111c,#ff0016,#ff000f,#ff000b,#ff0007,#ff0003,#ff0001,#ff0000,#ff0000)"></i><i style="background:linear-gradient(#ffa64b,#ff9b42,#ff8e3c,#ff8238,#ff7435,#ff612f,#ff4e29,#ff3223,#ff121d,#ff0016,#ff000f,#ff000c,#ff0008,#ff0005,#ff0003,#ff0001,#ff0000)"></i><i style="background:linear-gradient(#ffa349,#ff9840,#ff8c3c,#ff8038,#ff7435,#ff632f,#ff522a,#ff3c25,#ff181e,#ff0118,#ff0011,#ff000e,#ff000a,#ff0007,#ff0005,#ff0003,#ff0002)"></i><i style="background:linear-gradient(#ffa54a,#ff9b42,#ff903d,#ff8539,#ff7936,#ff6b32,#ff5b2c,#ff4b28,#ff2e22,#ff101c,#ff0016,#ff0013,#ff000f,#ff000c,#ff0009,#ff0007,#ff0006)"></i><i style="background:linear-gradient(#ffaa4f,#ffa147,#ff9740,#ff8d3c,#ff8038,#ff7435,#ff6630,#ff572b,#ff4827,#ff2d22,#ff141d,#ff091b,#ff0018,#ff0015,#ff0012,#ff0010,#ff000e)"></i><i style="background:linear-gradient(#ffaf52,#ffaa4e,#ff9f46,#ff943f,#ff873a,#ff7a36,#ff6f34,#ff612f,#ff562b,#ff4a28,#ff3924,#ff2e22,#ff2320,#ff191f,#ff131d,#ff0e1c,#ff081a)"></i><i style="background:linear-gradient(#ffb456,#ffaf52,#ffa84d,#ff9b43,#ff8e3c,#ff8138,#ff7535,#ff6b32,#ff622f,#ff5a2c,#ff522a,#ff4e29,#ff4a28,#ff4627,#ff4326,#ff3f25,#ff3c25)"></i><i style="background:linear-gradient(#ffbe5f,#ffb356,#ffae52,#ffa54a,#ff9840,#ff893b,#ff7c37,#ff7335,#ff6e33,#ff6831,#ff632f,#ff602e,#ff5d2d,#ff5a2c,#ff592c,#ff582c,#ff582c)"></i><i style="background:linear-gradient(#ffc666,#ffbb5c,#ffb254,#ffad51,#ffa047,#ff923e,#ff8338,#ff7a36,#ff7735,#ff7435,#ff7134,#ff6e33,#ff6c33,#ff6a32,#ff6931,#ff6931,#ff6931)"></i><i style="background:linear-gradient(#ffca6a,#ffc262,#ffb658,#ffb053,#ffa84d,#ff9a42,#ff8b3b,#ff8038,#ff7e37,#ff7c37,#ff7936,#ff7836,#ff7735,#ff7535,#ff7535,#ff7535,#ff7535)"></i><i style="background:linear-gradient(#ffcd6d,#ffc767,#ffbc5d,#ffb355,#ffad51,#ffa147,#ff923e,#ff873a,#ff8439,#ff8238,#ff8037,#ff7f37,#ff7e37,#ff7d37,#ff7c37,#ff7d37,#ff7d37)"></i><i style="background:linear-gradient(#ffd070,#ffc969,#ffc161,#ffb557,#ffaf52,#ffa64c,#ff9941,#ff8e3c,#ff8b3b,#ff883a,#ff8439,#ff8338,#ff8138,#ff8038,#ff8037,#ff8037,#ff8038)"></i><i style="background:linear-gradient(#ffd374,#ffcb6b,#ffc364,#ffb759,#ffb053,#ffaa4e,#ff9e44,#ff943e,#ff903d,#ff8c3c,#ff893a,#ff863a,#ff8439,#ff8138,#ff8138,#ff8138,#ff8138)"></i><i style="background:linear-gradient(#ffd476,#ffcc6c,#ffc565,#ffb85a,#ffb154,#ffac50,#ffa046,#ff9740,#ff943e,#ff903d,#ff8d3c,#ff8a3b,#ff863a,#ff8338,#ff8238,#ff8238,#ff8238)"></i><i style="background:linear-gradient(#ffd476,#ffcc6c,#ffc565,#ffb95b,#ffb154,#ffad50,#ffa148,#ff9941,#ff973f,#ff943f,#ff923e,#ff8e3c,#ff893b,#ff8539,#ff8339,#ff8439,#ff8439)"></i><i style="background:linear-gradient(#ffd476,#ffcd6d,#ffc666,#ffba5b,#ffb254,#ffad51,#ffa349,#ff9a42,#ff9941,#ff9740,#ff953f,#ff903d,#ff8b3b,#ff8639,#ff8439,#ff8539,#ff8439)"></i><i style="background:linear-gradient(#ffd476,#ffcc6c,#ffc666,#ffb95b,#ffb254,#ffad51,#ffa349,#ff9b43,#ff9a41,#ff9840,#ff963f,#ff913d,#ff8b3b,#ff8639,#ff8439,#ff8439,#ff8339)"></i><i style="background:linear-gradient(#ffd476,#ffcc6c,#ffc565,#ffb95a,#ffb154,#ffad50,#ffa248,#ff9a42,#ff9941,#ff9840,#ff963f,#ff913d,#ff8b3b,#ff8539,#ff8338,#ff8238,#ff8238)"></i><i style="background:linear-gradient(#ffd476,#ffcc6c,#ffc465,#ffb859,#ffb154,#ffac50,#ffa147,#ff9941,#ff9840,#ff9740,#ff963f,#ff903d,#ff8a3b,#ff8439,#ff8238,#ff8138,#ff8138)"></i><i style="background:linear-gradient(#ffd273,#ffcb6b,#ffc263,#ffb658,#ffb053,#ffaa4f,#ff9f45,#ff9740,#ff963f,#ff953f,#ff943f,#ff8e3c,#ff883a,#ff8238,#ff8038,#ff8038,#ff7f37)"></i><i style="background:linear-gradient(#ffcb6b,#ffc565,#ffbb5c,#ffb255,#ffae51,#ffa54b,#ff9a42,#ff913e,#ff903d,#ff8f3d,#ff8d3c,#ff893b,#ff8539,#ff8138,#ff7f37,#ff7e37,#ff7b36)"></i><i style="background:linear-gradient(#ffc262,#ffb95a,#ffb254,#ffae51,#ffa64b,#ff9c43,#ff903d,#ff883a,#ff863a,#ff8539,#ff8338,#ff8138,#ff7f37,#ff7d37,#ff7b36,#ff7936,#ff7535)"></i><i style="background:linear-gradient(#ffb658,#ffb154,#ffad51,#ffa54a,#ff9b42,#ff913d,#ff863a,#ff7f37,#ff7d37,#ff7b36,#ff7936,#ff7836,#ff7736,#ff7736,#ff7535,#ff7234,#ff6e33)"></i><i style="background:linear-gradient(#ffb154,#ffad51,#ffa54b,#ff9c43,#ff923e,#ff883a,#ff7f37,#ff7936,#ff7635,#ff7335,#ff7034,#ff7034,#ff6f34,#ff6f34,#ff6d33,#ff6b32,#ff6831)"></i><i style="background:linear-gradient(#ffae51,#ffa74c,#ff9e45,#ff953f,#ff8b3b,#ff8238,#ff7a36,#ff7335,#ff7034,#ff6c32,#ff6831,#ff6831,#ff6831,#ff6831,#ff6631,#ff6430,#ff622f)"></i><i style="background:linear-gradient(#ffa74c,#ffa046,#ff9840,#ff903d,#ff8639,#ff7d37,#ff7435,#ff6d33,#ff6931,#ff6530,#ff612f,#ff612f,#ff612f,#ff612f,#ff602e,#ff5e2e,#ff5c2d)"></i><i style="background:linear-gradient(#ffa147,#ff9a42,#ff933e,#ff8b3b,#ff8138,#ff7836,#ff6e33,#ff6530,#ff612f,#ff5e2d,#ff5a2c,#ff5a2c,#ff5a2c,#ff5a2c,#ff592c,#ff582b,#ff552b)"></i><i style="background:linear-gradient(#ff9d44,#ff963f,#ff8e3d,#ff873a,#ff7d37,#ff7335,#ff6731,#ff5d2d,#ff5a2c,#ff562b,#ff532a,#ff532a,#ff532a,#ff532a,#ff522a,#ff5029,#ff4e29)"></i><i style="background:linear-gradient(#ff9b42,#ff933e,#ff8b3b,#ff8338,#ff7936,#ff6e33,#ff612e,#ff572b,#ff532a,#ff4f29,#ff4b28,#ff4b28,#ff4b28,#ff4b28,#ff4a28,#ff4827,#ff4627)"></i><i style="background:linear-gradient(#ff9941,#ff903d,#ff873a,#ff7f37,#ff7535,#ff6932,#ff5c2d,#ff512a,#ff4d29,#ff4927,#ff4526,#ff4526,#ff4426,#ff4426,#ff4326,#ff4125,#ff3d25)"></i><i style="background:linear-gradient(#ff9740,#ff8d3c,#ff8439,#ff7c37,#ff7234,#ff6530,#ff572b,#ff4d28,#ff4927,#ff4627,#ff4125,#ff3f25,#ff3d25,#ff3b24,#ff3a24,#ff3924,#ff3624)"></i><i style="background:linear-gradient(#ff953f,#ff8b3b,#ff8038,#ff7836,#ff6e33,#ff602e,#ff532a,#ff4a28,#ff4727,#ff4426,#ff3f25,#ff3c25,#ff3824,#ff3523,#ff3423,#ff3423,#ff3323)"></i><i style="background:linear-gradient(#ff923e,#ff873a,#ff7e37,#ff7535,#ff6a32,#ff5d2d,#ff5029,#ff4727,#ff4426,#ff4025,#ff3b25,#ff3824,#ff3524,#ff3223,#ff3223,#ff3223,#ff3223)"></i><i style="background:linear-gradient(#ff903d,#ff8539,#ff7b36,#ff7234,#ff6631,#ff5a2c,#ff4d29,#ff4426,#ff3f25,#ff3a24,#ff3423,#ff3323,#ff3223,#ff3123,#ff3123,#ff3223,#ff3223)"></i><i style="background:linear-gradient(#ff8d3c,#ff8238,#ff7936,#ff7034,#ff6430,#ff582c,#ff4c28,#ff4226,#ff3c25,#ff3524,#ff2f22,#ff2f22,#ff2f23,#ff3023,#ff3023,#ff3123,#ff3123)"></i><i style="background:linear-gradient(#ff8a3b,#ff8038,#ff7736,#ff6e33,#ff622f,#ff572b,#ff4b28,#ff4126,#ff3b24,#ff3423,#ff2d22,#ff2e22,#ff2e22,#ff2f22,#ff2f23,#ff3023,#ff3023)"></i><i style="background:linear-gradient(#ff893a,#ff7f37,#ff7635,#ff6c33,#ff612f,#ff562b,#ff4b28,#ff4125,#ff3a24,#ff3323,#ff2d22,#ff2d22,#ff2e22,#ff2e22,#ff2e22,#ff2f22,#ff2f23)"></i><i style="background:linear-gradient(#ff883a,#ff7e37,#ff7535,#ff6c32,#ff612e,#ff562b,#ff4a28,#ff4025,#ff3924,#ff3323,#ff2c22,#ff2d22,#ff2d22,#ff2d22,#ff2e22,#ff2e22,#ff2f22)"></i><i style="background:linear-gradient(#ff873a,#ff7d37,#ff7535,#ff6b32,#ff602e,#ff552b,#ff4a28,#ff3f25,#ff3924,#ff3223,#ff2c22,#ff2c22,#ff2c22,#ff2d22,#ff2d22,#ff2d22,#ff3023)"></i><i style="background:linear-gradient(#ff863a,#ff7d37,#ff7435,#ff6b32,#ff602e,#ff552b,#ff4a28,#ff3f25,#ff3824,#ff3223,#ff2c22,#ff2c22,#ff2c22,#ff2c22,#ff2d22,#ff2f23,#ff3524)"></i><i style="background:linear-gradient(#ff8639,#ff7c37,#ff7435,#ff6a32,#ff5f2e,#ff542a,#ff4927,#ff3f25,#ff3a24,#ff3524,#ff3123,#ff3123,#ff3023,#ff3023,#ff3323,#ff3724,#ff3c25)"></i><i style="background:linear-gradient(#ff8539,#ff7c37,#ff7335,#ff6a32,#ff5f2e,#ff542a,#ff4927,#ff3f25,#ff3e25,#ff3d25,#ff3b25,#ff3b24,#ff3a24,#ff3a24,#ff3b25,#ff3e25,#ff3f25)"></i><i style="background:linear-gradient(#ff8539,#ff7c37,#ff7335,#ff6932,#ff5e2d,#ff522a,#ff4727,#ff3b24,#ff3b25,#ff3c25,#ff3c25,#ff3d25,#ff3e25,#ff3f25,#ff4025,#ff4025,#ff4126)"></i><i style="background:linear-gradient(#ff8439,#ff7b36,#ff7234,#ff6831,#ff5c2d,#ff4f29,#ff4226,#ff3223,#ff3223,#ff3223,#ff3223,#ff3724,#ff3c25,#ff4025,#ff4226,#ff4326,#ff4326)"></i><i style="background:linear-gradient(#ff8338,#ff7a36,#ff7134,#ff6530,#ff592c,#ff4d28,#ff3d25,#ff2d22,#ff2d22,#ff2d22,#ff2d22,#ff3423,#ff3b25,#ff4226,#ff4426,#ff4426,#ff4526)"></i><i style="background:linear-gradient(#ff8338,#ff7936,#ff6e33,#ff622f,#ff572b,#ff4b28,#ff3c25,#ff2d22,#ff2d22,#ff2d22,#ff2d22,#ff3523,#ff3c25,#ff4426,#ff4526,#ff4526,#ff4626)"></i><i style="background:linear-gradient(#ff8338,#ff7836,#ff6e33,#ff612f,#ff562b,#ff4c28,#ff4025,#ff3323,#ff3323,#ff3323,#ff3323,#ff3b24,#ff4226,#ff4727,#ff4827,#ff4827,#ff4827)"></i><i style="background:linear-gradient(#ff8439,#ff7a36,#ff7034,#ff6530,#ff5c2d,#ff542a,#ff4c28,#ff4627,#ff4627,#ff4627,#ff4627,#ff4927,#ff4b28,#ff4d29,#ff4e29,#ff4e29,#ff4e29)"></i><i style="background:linear-gradient(#ff8639,#ff7c37,#ff7435,#ff6a32,#ff622f,#ff5d2d,#ff572b,#ff532a,#ff532a,#ff532a,#ff532a,#ff532a,#ff532a,#ff532a,#ff532a,#ff532a,#ff542a)"></i><i style="background:linear-gradient(#ff893a,#ff7f37,#ff7635,#ff6d33,#ff6630,#ff612e,#ff5c2d,#ff582c,#ff582c,#ff582b,#ff582b,#ff572b,#ff562b,#ff562b,#ff552b,#ff552b,#ff562b)"></i><i style="background:linear-gradient(#ff8d3c,#ff8238,#ff7836,#ff6f34,#ff6731,#ff622f,#ff5c2d,#ff592c,#ff592c,#ff582c,#ff582c,#ff582b,#ff572b,#ff562b,#ff562b,#ff562b,#ff562b)"></i><i style="background:linear-gradient(#ff8e3d,#ff8238,#ff7936,#ff6e33,#ff6731,#ff622f,#ff5d2d,#ff592c,#ff592c,#ff592c,#ff592c,#ff582b,#ff572b,#ff572b,#ff572b,#ff572b,#ff572b)"></i><i style="background:linear-gradient(#ff8b3b,#ff8038,#ff7735,#ff6d33,#ff6630,#ff612f,#ff5d2d,#ff5a2c,#ff592c,#ff592c,#ff592c,#ff582c,#ff582b,#ff572b,#ff572b,#ff582b,#ff582b)"></i><i style="background:linear-gradient(#ff883a,#ff7e37,#ff7535,#ff6c33,#ff6630,#ff612f,#ff5d2d,#ff5a2c,#ff5a2c,#ff592c,#ff592c,#ff592c,#ff582c,#ff582b,#ff582b,#ff582c,#ff592c)"></i><i style="background:linear-gradient(#ff883a,#ff7e37,#ff7535,#ff6c32,#ff6530,#ff612f,#ff5d2d,#ff5b2c,#ff5a2c,#ff5a2c,#ff592c,#ff592c,#ff592c,#ff582c,#ff592c,#ff592c,#ff5a2c)"></i><i style="background:linear-gradient(#ff873a,#ff7e37,#ff7535,#ff6c32,#ff6530,#ff622f,#ff5e2d,#ff5b2c,#ff5b2c,#ff5a2c,#ff5a2c,#ff592c,#ff592c,#ff592c,#ff592c,#ff5a2c,#ff5b2c)"></i><i style="background:linear-gradient(#ff873a,#ff7d37,#ff7535,#ff6b32,#ff6530,#ff622f,#ff5e2e,#ff5c2d,#ff5b2c,#ff5a2c,#ff5a2c,#ff5a2c,#ff5a2c,#ff592c,#ff5a2c,#ff5a2c,#ff5b2d)"></i><i style="background:linear-gradient(#ff8338,#ff7a36,#ff7235,#ff6931,#ff6430,#ff612f,#ff5f2e,#ff5d2d,#ff5c2d,#ff5b2c,#ff5a2c,#ff5a2c,#ff592c,#ff582b,#ff582c,#ff592c,#ff5c2d)"></i><i style="background:linear-gradient(#ff7a36,#ff7335,#ff6b32,#ff622f,#ff5f2e,#ff5f2e,#ff5f2e,#ff5e2e,#ff5d2d,#ff5c2d,#ff5b2c,#ff592c,#ff572b,#ff552b,#ff552b,#ff582b,#ff5c2d)"></i><i style="background:linear-gradient(#ff7335,#ff6d33,#ff6630,#ff602e,#ff5e2d,#ff5d2d,#ff5d2d,#ff5d2d,#ff5c2d,#ff5b2c,#ff592c,#ff582c,#ff572b,#ff562b,#ff582b,#ff5a2c,#ff5e2e)"></i><i style="background:linear-gradient(#ff7535,#ff7134,#ff6d33,#ff6831,#ff6530,#ff622f,#ff5f2e,#ff5d2d,#ff5c2d,#ff5c2d,#ff5b2c,#ff5c2d,#ff5e2e,#ff602e,#ff622f,#ff6530,#ff6831)"></i><i style="background:linear-gradient(#ff7f37,#ff7c37,#ff7a36,#ff7735,#ff7435,#ff7134,#ff6e33,#ff6b32,#ff6b32,#ff6a32,#ff6a32,#ff6d33,#ff7034,#ff7234,#ff7535,#ff7736,#ff7936)"></i><i style="background:linear-gradient(#ff8f3d,#ff8d3c,#ff8b3b,#ff883a,#ff863a,#ff8439,#ff8238,#ff8138,#ff8138,#ff8138,#ff8138,#ff8338,#ff8639,#ff883a,#ff8b3b,#ff8e3c,#ff903d)"></i><i style="background:linear-gradient(#ffa046,#ff9f45,#ff9d44,#ff9c43,#ff9b42,#ff9a41,#ff9840,#ff9840,#ff9840,#ff9941,#ff9941,#ff9b43,#ff9e45,#ffa046,#ffa248,#ffa54a,#ffa74c)"></i><i style="background:linear-gradient(#ffad51,#ffad51,#ffac50,#ffac50,#ffab4f,#ffaa4e,#ffa94e,#ffa84d,#ffa94e,#ffaa4e,#ffaa4e,#ffac50,#ffad51,#ffae51,#ffae52,#ffaf52,#ffb053)"></i><i style="background:linear-gradient(#ffb255,#ffb254,#ffb154,#ffb154,#ffb154,#ffb053,#ffb053,#ffb053,#ffb053,#ffb053,#ffb053,#ffb053,#ffb154,#ffb154,#ffb254,#ffb255,#ffb255)"></i><i style="background:linear-gradient(#ffba5b,#ffb95a,#ffb859,#ffb758,#ffb658,#ffb557,#ffb456,#ffb456,#ffb356,#ffb355,#ffb355,#ffb355,#ffb355,#ffb355,#ffb355,#ffb355,#ffb355)"></i><i style="background:linear-gradient(#ffc162,#ffc061,#ffbf60,#ffbe5f,#ffbd5e,#ffbc5d,#ffbb5c,#ffba5b,#ffb95a,#ffb85a,#ffb759,#ffb658,#ffb657,#ffb557,#ffb456,#ffb456,#ffb355)"></i><i style="background:linear-gradient(#ffc565,#ffc465,#ffc364,#ffc263,#ffc262,#ffc161,#ffc060,#ffbf5f,#ffbd5e,#ffbc5d,#ffbb5c,#ffba5b,#ffb85a,#ffb758,#ffb657,#ffb456,#ffb356)"></i><i style="background:linear-gradient(#ffc767,#ffc767,#ffc666,#ffc566,#ffc565,#ffc464,#ffc363,#ffc262,#ffc061,#ffbf60,#ffbd5e,#ffbb5c,#ffb95b,#ffb759,#ffb658,#ffb456,#ffb355)"></i><i style="background:linear-gradient(#ffc969,#ffc969,#ffc868,#ffc767,#ffc767,#ffc666,#ffc666,#ffc464,#ffc263,#ffc061,#ffbe5f,#ffbb5d,#ffb95a,#ffb658,#ffb456,#ffb255,#ffb154)"></i><i style="background:linear-gradient(#ffcb6b,#ffca6a,#ffc969,#ffc969,#ffc868,#ffc767,#ffc767,#ffc666,#ffc363,#ffc061,#ffbe5f,#ffba5b,#ffb658,#ffb355,#ffb154,#ffb053,#ffae51)"></i><i style="background:linear-gradient(#ffcb6b,#ffca6a,#ffc969,#ffc969,#ffc868,#ffc767,#ffc666,#ffc565,#ffc262,#ffbf60,#ffbc5d,#ffb859,#ffb456,#ffb254,#ffb053,#ffae51,#ffab4f)"></i><i style="background:linear-gradient(#ffc969,#ffc969,#ffc868,#ffc767,#ffc767,#ffc666,#ffc465,#ffc263,#ffc060,#ffbd5e,#ffba5b,#ffb557,#ffb255,#ffb053,#ffae52,#ffad50,#ffa84d)"></i><i style="background:linear-gradient(#ffc767,#ffc767,#ffc666,#ffc565,#ffc464,#ffc363,#ffc262,#ffc061,#ffbd5e,#ffba5c,#ffb759,#ffb456,#ffb154,#ffaf53,#ffad51,#ffab4f,#ffa54b)"></i><i style="background:linear-gradient(#ffc464,#ffc363,#ffc162,#ffc061,#ffbf60,#ffbe5f,#ffbc5e,#ffbb5c,#ffb85a,#ffb557,#ffb356,#ffb154,#ffaf53,#ffad51,#ffab4f,#ffa64b,#ffa248)"></i><i style="background:linear-gradient(#ffbb5c,#ffb95b,#ffb859,#ffb658,#ffb556,#ffb456,#ffb355,#ffb255,#ffb154,#ffb053,#ffaf52,#ffad51,#ffaa4e,#ffa54b,#ffa147,#ff9d44,#ff9840)"></i><i style="background:linear-gradient(#ffb154,#ffb053,#ffaf53,#ffaf52,#ffae52,#ffad51,#ffad51,#ffac50,#ffa94e,#ffa64b,#ffa349,#ff9f46,#ff9b42,#ff963f,#ff913e,#ff8d3c,#ff883a)"></i><i style="background:linear-gradient(#ffa94e,#ffa84d,#ffa64c,#ffa54a,#ffa449,#ffa248,#ffa147,#ff9f45,#ff9c43,#ff9941,#ff963f,#ff913d,#ff8b3b,#ff863a,#ff8138,#ff7d37,#ff7936)"></i><i style="background:linear-gradient(#ff9f45,#ff9d44,#ff9c43,#ff9b42,#ff9941,#ff9840,#ff963f,#ff943f,#ff913d,#ff8d3c,#ff8a3b,#ff8439,#ff7f37,#ff7b36,#ff7635,#ff7234,#ff6c33)"></i><i style="background:linear-gradient(#ff9840,#ff963f,#ff953f,#ff933e,#ff923e,#ff903d,#ff8e3c,#ff8c3c,#ff893a,#ff8539,#ff8238,#ff7c37,#ff7736,#ff7235,#ff6d33,#ff6731,#ff612e)"></i><i style="background:linear-gradient(#ff953f,#ff933e,#ff913e,#ff903d,#ff8e3c,#ff8c3c,#ff8b3b,#ff883a,#ff8539,#ff8138,#ff7e37,#ff7936,#ff7435,#ff6f34,#ff6a32,#ff6430,#ff5d2d)"></i><i style="background:linear-gradient(#ff9740,#ff953f,#ff943e,#ff923e,#ff903d,#ff8e3c,#ff8c3c,#ff8a3b,#ff873a,#ff8439,#ff8138,#ff7d37,#ff7936,#ff7535,#ff7234,#ff6e33,#ff6931)"></i><i style="background:linear-gradient(#ff9f46,#ff9d44,#ff9b43,#ff9941,#ff9740,#ff953f,#ff923e,#ff903d,#ff8e3c,#ff8c3b,#ff893b,#ff873a,#ff8439,#ff8138,#ff7f37,#ff7d37,#ff7b36)"></i><i style="background:linear-gradient(#ffa74c,#ffa54b,#ffa349,#ffa147,#ff9f46,#ff9d44,#ff9b42,#ff9941,#ff9740,#ff953f,#ff943e,#ff923e,#ff913d,#ff8f3d,#ff8e3c,#ff8c3c,#ff8b3b)"></i><i style="background:linear-gradient(#ffad51,#ffac50,#ffaa4e,#ffa84d,#ffa64b,#ffa54a,#ffa349,#ffa147,#ffa046,#ff9e45,#ff9d44,#ff9c43,#ff9b42,#ff9a42,#ff9941,#ff9840,#ff9740)"></i><i style="background:linear-gradient(#ffaf52,#ffaf52,#ffae52,#ffad51,#ffad51,#ffac50,#ffab4f,#ffa94e,#ffa84d,#ffa74c,#ffa54b,#ffa54a,#ffa449,#ffa349,#ffa248,#ffa147,#ffa047)"></i><i style="background:linear-gradient(#ffb154,#ffb154,#ffb053,#ffb053,#ffaf52,#ffaf52,#ffae52,#ffae51,#ffae51,#ffad51,#ffad50,#ffac50,#ffac50,#ffab4f,#ffaa4e,#ffa94e,#ffa84d)"></i><i style="background:linear-gradient(#ffb255,#ffb254,#ffb254,#ffb154,#ffb154,#ffb154,#ffb154,#ffb053,#ffb053,#ffb053,#ffb053,#ffaf52,#ffaf52,#ffaf52,#ffae52,#ffae51,#ffae51)"></i><i style="background:linear-gradient(#ffb255,#ffb255,#ffb255,#ffb255,#ffb255,#ffb254,#ffb254,#ffb254,#ffb254,#ffb254,#ffb254,#ffb154,#ffb154,#ffb154,#ffb154,#ffb154,#ffb153)"></i><i style="background:linear-gradient(#ffb255,#ffb255,#ffb255,#ffb255,#ffb255,#ffb255,#ffb255,#ffb255,#ffb255,#ffb255,#ffb255,#ffb355,#ffb355,#ffb355,#ffb355,#ffb355,#ffb355)"></i><i style="background:linear-gradient(#ffb355,#ffb355,#ffb355,#ffb355,#ffb255,#ffb255,#ffb255,#ffb255,#ffb255,#ffb355,#ffb355,#ffb355,#ffb456,#ffb456,#ffb456,#ffb557,#ffb657)"></i><i style="background:linear-gradient(#ffb355,#ffb355,#ffb355,#ffb355,#ffb355,#ffb255,#ffb255,#ffb255,#ffb355,#ffb355,#ffb355,#ffb356,#ffb456,#ffb456,#ffb557,#ffb658,#ffb758)"></i><i style="background:linear-gradient(#ffb355,#ffb355,#ffb355,#ffb355,#ffb355,#ffb255,#ffb255,#ffb255,#ffb355,#ffb355,#ffb355,#ffb356,#ffb456,#ffb456,#ffb557,#ffb658,#ffb759)"></i><i style="background:linear-gradient(#ffb355,#ffb355,#ffb355,#ffb355,#ffb355,#ffb355,#ffb255,#ffb255,#ffb355,#ffb355,#ffb355,#ffb456,#ffb456,#ffb557,#ffb557,#ffb658,#ffb759)"></i><i style="background:linear-gradient(#ffb355,#ffb355,#ffb355,#ffb355,#ffb355,#ffb355,#ffb355,#ffb355,#ffb355,#ffb355,#ffb355,#ffb456,#ffb456,#ffb557,#ffb658,#ffb758,#ffb859)"></i><i style="background:linear-gradient(#ffb355,#ffb355,#ffb355,#ffb355,#ffb355,#ffb355,#ffb355,#ffb355,#ffb355,#ffb355,#ffb355,#ffb356,#ffb456,#ffb456,#ffb557,#ffb658,#ffb658)"></i><i style="background:#ffb355"></i><i style="background:linear-gradient(#ffb355,#ffb355,#ffb355,#ffb355,#ffb355,#ffb355,#ffb355,#ffb355,#ffb355,#ffb255,#ffb255,#ffb254,#ffb154,#ffb154,#ffb153,#ffb053,#ffb053)"></i><i style="background:linear-gradient(#ffb355,#ffb355,#ffb355,#ffb355,#ffb355,#ffb355,#ffb355,#ffb355,#ffb255,#ffb255,#ffb254,#ffb154,#ffb153,#ffb053,#ffaf53,#ffaf52,#ffae52)"></i><i style="background:linear-gradient(#ffb355,#ffb355,#ffb355,#ffb355,#ffb355,#ffb355,#ffb355,#ffb355,#ffb255,#ffb255,#ffb254,#ffb154,#ffb053,#ffb053,#ffaf52,#ffae52,#ffae51)"></i><i style="background:linear-gradient(#ffb355,#ffb355,#ffb355,#ffb355,#ffb355,#ffb355,#ffb355,#ffb355,#ffb255,#ffb254,#ffb254,#ffb154,#ffb053,#ffaf52,#ffaf52,#ffae51,#ffad51)"></i><i style="background:linear-gradient(#ffb356,#ffb355,#ffb355,#ffb355,#ffb355,#ffb255,#ffb255,#ffb254,#ffb154,#ffb154,#ffb153,#ffb053,#ffaf52,#ffaf52,#ffae51,#ffad51,#ffad50)"></i><i style="background:linear-gradient(#ffb456,#ffb355,#ffb355,#ffb255,#ffb154,#ffb154,#ffb053,#ffb053,#ffaf53,#ffaf52,#ffae52,#ffae52,#ffae51,#ffad51,#ffad51,#ffac50,#ffac50)"></i><i style="background:linear-gradient(#ffb456,#ffb355,#ffb254,#ffb154,#ffb053,#ffaf52,#ffae52,#ffad51,#ffad51,#ffac50,#ffac50,#ffab4f,#ffab4f,#ffaa4f,#ffaa4e,#ffa94e,#ffa94e)"></i><i style="background:linear-gradient(#ffb355,#ffb254,#ffb154,#ffb053,#ffae52,#ffad51,#ffac50,#ffaa4e,#ffa94d,#ffa74c,#ffa54b,#ffa54b,#ffa54a,#ffa54a,#ffa54a,#ffa44a,#ffa44a)"></i><i style="background:linear-gradient(#ffaf53,#ffae52,#ffad51,#ffac50,#ffaa4f,#ffa84d,#ffa54b,#ffa349,#ffa248,#ffa147,#ffa046,#ffa046,#ffa046,#ffa046,#ffa046,#ffa046,#ffa046)"></i><i style="background:linear-gradient(#ffa349,#ffa248,#ffa047,#ff9f46,#ff9e45,#ff9d44,#ff9c43,#ff9b42,#ff9b42,#ff9b42,#ff9b42,#ff9b43,#ff9c43,#ff9c44,#ff9d44,#ff9e45,#ff9f45)"></i><i style="background:linear-gradient(#ff933e,#ff933e,#ff933e,#ff933e,#ff933e,#ff943e,#ff943e,#ff943f,#ff953f,#ff963f,#ff9740,#ff9840,#ff9a41,#ff9b42,#ff9c43,#ff9d44,#ff9f45)"></i><i style="background:linear-gradient(#ff8c3b,#ff8c3c,#ff8d3c,#ff8e3c,#ff8f3d,#ff903d,#ff903d,#ff913e,#ff933e,#ff943f,#ff953f,#ff9740,#ff9940,#ff9a42,#ff9b43,#ff9d44,#ff9f45)"></i><i style="background:linear-gradient(#ff8a3b,#ff8b3b,#ff8c3c,#ff8d3c,#ff8e3c,#ff8f3d,#ff903d,#ff913d,#ff923e,#ff943e,#ff953f,#ff9740,#ff9840,#ff9a42,#ff9b43,#ff9d44,#ff9f45)"></i><i style="background:linear-gradient(#ff8a3b,#ff8b3b,#ff8c3c,#ff8d3c,#ff8e3c,#ff8f3d,#ff903d,#ff913d,#ff923e,#ff943f,#ff963f,#ff9840,#ff9a41,#ff9c43,#ff9d44,#ff9f46,#ffa147)"></i><i style="background:linear-gradient(#ff8e3c,#ff8f3d,#ff903d,#ff913d,#ff923e,#ff923e,#ff933e,#ff953f,#ff973f,#ff9840,#ff9a42,#ff9d44,#ff9f46,#ffa248,#ffa54a,#ffa74c,#ffaa4e)"></i><i style="background:linear-gradient(#ff9c43,#ff9d44,#ff9d44,#ff9e45,#ff9f45,#ff9f46,#ffa046,#ffa147,#ffa349,#ffa44a,#ffa64b,#ffa94d,#ffac50,#ffad51,#ffae51,#ffaf52,#ffb053)"></i><i style="background:linear-gradient(#ffad51,#ffad51,#ffae51,#ffae51,#ffae52,#ffae52,#ffae52,#ffaf52,#ffaf52,#ffb053,#ffb053,#ffb154,#ffb255,#ffb355,#ffb456,#ffb557,#ffb759)"></i><i style="background:linear-gradient(#ffb557,#ffb658,#ffb658,#ffb658,#ffb758,#ffb759,#ffb759,#ffb859,#ffb95a,#ffb95b,#ffba5c,#ffbb5d,#ffbd5e,#ffbe5f,#ffbf60,#ffc161,#ffc262)"></i><i style="background:linear-gradient(#ffc162,#ffc262,#ffc262,#ffc263,#ffc363,#ffc363,#ffc464,#ffc464,#ffc465,#ffc565,#ffc565,#ffc666,#ffc666,#ffc666,#ffc767,#ffc767,#ffc767)"></i><i style="background:linear-gradient(#ffc666,#ffc666,#ffc767,#ffc767,#ffc868,#ffc868,#ffc868,#ffc969,#ffc969,#ffc969,#ffc969,#ffc969,#ffc969,#ffc969,#ffc969,#ffc969,#ffca6a)"></i><i style="background:linear-gradient(#ffc767,#ffc868,#ffc868,#ffc969,#ffc969,#ffca6a,#ffca6a,#ffcb6b,#ffcb6b,#ffcb6b,#ffcb6b,#ffcb6b,#ffcb6b,#ffcb6b,#ffcb6b,#ffcb6b,#ffcb6b)"></i><i style="background:linear-gradient(#ffc868,#ffc969,#ffca6a,#ffca6a,#ffcb6b,#ffcc6c,#ffcc6c,#ffcd6d,#ffcd6d,#ffcd6d,#ffce6e,#ffce6e,#ffce6e,#ffce6e,#ffcd6d,#ffcd6d,#ffcd6d)"></i><i style="background:linear-gradient(#ffca6a,#ffca6a,#ffcb6b,#ffcc6c,#ffcd6d,#ffce6e,#ffcf6f,#ffcf6f,#ffd070,#ffd070,#ffd070,#ffd070,#ffd070,#ffd070,#ffcf6f,#ffcf6f,#ffcf6f)"></i><i style="background:linear-gradient(#ffcb6b,#ffcc6c,#ffcd6d,#ffce6e,#ffcf6f,#ffd070,#ffd273,#ffd374,#ffd375,#ffd375,#ffd476,#ffd375,#ffd374,#ffd274,#ffd273,#ffd171,#ffd171)"></i><i style="background:linear-gradient(#ffcc6c,#ffce6e,#ffcf6f,#ffd071,#ffd273,#ffd476,#ffd579,#ffd67b,#ffd77b,#ffd77c,#ffd77c,#ffd67b,#ffd679,#ffd578,#ffd476,#ffd374,#ffd273)"></i><i style="background:linear-gradient(#ffcf6f,#ffd071,#ffd273,#ffd476,#ffd579,#ffd77c,#ffd97f,#ffda81,#ffda81,#ffda81,#ffdb82,#ffd980,#ffd87e,#ffd77b,#ffd579,#ffd477,#ffd375)"></i><i style="background:linear-gradient(#ffd375,#ffd578,#ffd67a,#ffd87d,#ffd97f,#ffda81,#ffdc84,#ffdd86,#ffdd86,#ffdd86,#ffdd86,#ffdb83,#ffda80,#ffd87e,#ffd77b,#ffd579,#ffd477)"></i><i style="background:linear-gradient(#ffd87d,#ffd97f,#ffda81,#ffdb83,#ffdc85,#ffdd87,#ffde89,#ffde8b,#ffde8a,#ffde8a,#ffde8a,#ffdd86,#ffdb83,#ffda80,#ffd87d,#ffd77b,#ffd579)"></i><i style="background:linear-gradient(#ffdc83,#ffdc85,#ffdd87,#ffdd89,#ffde8b,#ffde8c,#ffdf8e,#ffdf8f,#ffdf8e,#ffdf8d,#ffde8d,#ffdd89,#ffdc85,#ffdb82,#ffd97f,#ffd87d,#ffd67b)"></i><i style="background:linear-gradient(#ffdd87,#ffdd89,#ffde8a,#ffde8c,#ffdf8d,#ffdf8e,#ffdf90,#ffe090,#ffdf8f,#ffdf8e,#ffdf8d,#ffde8a,#ffdd86,#ffdb83,#ffda80,#ffd87e,#ffd77b)"></i><i style="background:linear-gradient(#ffdd89,#ffde8a,#ffde8a,#ffde8b,#ffde8b,#ffde8c,#ffde8c,#ffde8c,#ffde8b,#ffde8a,#ffdd89,#ffdc85,#ffdb82,#ffda80,#ffd87e,#ffd77c,#ffd579)"></i><i style="background:linear-gradient(#ffde8b,#ffde8a,#ffdd89,#ffdd88,#ffdd88,#ffdd87,#ffdd86,#ffdc85,#ffdc83,#ffdb82,#ffda81,#ffd97f,#ffd87d,#ffd77b,#ffd679,#ffd578,#ffd375)"></i><i style="background:linear-gradient(#ffde8b,#ffdd89,#ffdd87,#ffdc85,#ffdb83,#ffdb82,#ffda80,#ffd97f,#ffd87d,#ffd77c,#ffd67a,#ffd579,#ffd477,#ffd376,#ffd374,#ffd273,#ffd171)"></i><i style="background:linear-gradient(#ffdd87,#ffdc84,#ffdb82,#ffda80,#ffd87e,#ffd77c,#ffd67a,#ffd578,#ffd476,#ffd375,#ffd273,#ffd172,#ffd171,#ffd070,#ffd070,#ffcf6f,#ffce6e)"></i><i style="background:linear-gradient(#ffd97e,#ffd77c,#ffd67b,#ffd579,#ffd477,#ffd375,#ffd273,#ffd171,#ffd070,#ffcf6f,#ffcf6f,#ffce6e,#ffcd6d,#ffcd6d,#ffcc6c,#ffcc6c,#ffcb6b)"></i><i style="background:linear-gradient(#ffd375,#ffd273,#ffd172,#ffd171,#ffd070,#ffcf6f,#ffce6e,#ffce6e,#ffcd6d,#ffcd6d,#ffcc6c,#ffcb6b,#ffcb6b,#ffca6a,#ffc969,#ffc969,#ffc868)"></i><i style="background:linear-gradient(#ffcf6f,#ffce6e,#ffce6e,#ffce6e,#ffcd6d,#ffcd6d,#ffcd6d,#ffcc6c,#ffcc6c,#ffcb6b,#ffca6a,#ffc969,#ffc969,#ffc868,#ffc767,#ffc666,#ffc465)"></i></div>
<div class="p" style="left:954.1px;top:843.4px;width:703.2px;height:674.976px"><i style="background:linear-gradient(#edebcc,#edebcc,#edebcc,#edebcc,#edebcc,#edebcc,#edebcc,#eeebcc,#eeebcb,#efeac9,#f0eac8,#f2e9c5,#f4e8c1,#f6e7bb,#f7e7bb,#f6e8bd,#f5e8c0)"></i><i style="background:linear-gradient(#edebcc,#edebcc,#edebcc,#edebcc,#edebcc,#edebcc,#edebcc,#eeebcc,#eeebcb,#efeac9,#f0eac8,#f2e9c5,#f4e8c1,#f6e7bb,#f7e7bb,#f6e8bd,#f5e8c0)"></i><i style="background:linear-gradient(#edebcc,#edebcc,#edebcc,#edebcc,#edebcc,#edebcc,#edebcc,#eeebcc,#eeebcb,#efeac9,#f0eac8,#f2e9c5,#f4e8c1,#f6e7bb,#f7e7bb,#f6e8bd,#f5e8c0)"></i><i style="background:linear-gradient(#edebcc,#edebcc,#edebcc,#edebcc,#edebcc,#edebcc,#edebcc,#eeebcc,#eeebcb,#efeac9,#f0eac8,#f2e9c5,#f4e9c2,#f5e8bf,#f6e8be,#f5e8bf,#f5e8c0)"></i><i style="background:linear-gradient(#edebcc,#edebcc,#edebcc,#edebcc,#edebcc,#edebcc,#edebcc,#eeebcc,#eeebcb,#efebca,#efeaca,#f0eac8,#f1eac7,#f2e9c6,#f3e9c4,#f4e8c2,#f5e8c0)"></i><i style="background:linear-gradient(#edebcc,#edebcc,#edebcc,#edebcc,#edebcc,#edebcc,#edebcc,#eeebcc,#eeebcc,#edebcd,#ececce,#ecebce,#edebcd,#edebcc,#f0eac8,#f3e9c3,#f6e7bb)"></i><i style="background:linear-gradient(#edebcc,#edebcc,#edebcc,#edebcc,#edebcc,#edebcc,#edebcd,#edebcd,#ecebce,#ebecd1,#e7eed6,#e8edd3,#eaecd1,#ececcf,#f0eac9,#f5e8c0,#fae6af)"></i><i style="background:linear-gradient(#edebcd,#edebcd,#edebcd,#edebcd,#edebcd,#ececce,#ececcf,#ebeccf,#eaedd2,#e7eed6,#e3efdb,#e6eed7,#e9edd3,#ebeccf,#f1eac7,#f8e7b8,#ffe4a1)"></i><i style="background:linear-gradient(#ebecd0,#ebecd0,#ebecd0,#ebecd0,#eaecd1,#eaecd2,#e9edd3,#e8edd4,#e7eed6,#e5eed9,#e2efdc,#e6eed7,#e9edd2,#ececce,#f2e9c5,#f9e6b2,#ffe29b)"></i><i style="background:linear-gradient(#e7eed6,#e7eed6,#e7eed6,#e7eed6,#e7eed6,#e7eed6,#e6eed6,#e6eed7,#e6eed8,#e4efda,#e2efdd,#e7eed6,#ebeccf,#eeebcb,#f4e9c2,#fbe6ad,#ffe197)"></i><i style="background:linear-gradient(#e5eed9,#e5eed8,#e5eed8,#e5eed8,#e5eed8,#e5eed8,#e5eed8,#e5eed8,#e5eed8,#e4efda,#e1f0dd,#e8edd4,#edebcd,#f1eac7,#f6e7bc,#fde5a7,#ffe093)"></i><i style="background:linear-gradient(#e4efda,#e4efda,#e4eed9,#e5eed9,#e5eed9,#e5eed9,#e5eed8,#e5eed8,#e5eed9,#e3efdb,#e1f0de,#e9edd3,#eeebcb,#f2e9c4,#f8e7b6,#ffe4a1,#ffdf8e)"></i><i style="background:linear-gradient(#e1f0dd,#e2efdc,#e3efdb,#e4efda,#e4efd9,#e4eed9,#e4eed9,#e4eed9,#e4eed9,#e3efdb,#e1f0de,#eaecd1,#f0eac8,#f5e8c0,#fbe6ac,#ffe299,#ffdd87)"></i><i style="background:linear-gradient(#dbf2e5,#def1e2,#e0f0df,#e3efdb,#e4efda,#e4efda,#e4efda,#e4efda,#e4efda,#e2efdc,#e0f0df,#ececce,#f3e9c3,#fae6b1,#ffe39e,#ffdf8e,#ffd980)"></i><i style="background:linear-gradient(#d6f3ed,#d8f3ea,#dcf2e5,#e0f0df,#e2efdd,#e2efdc,#e3efdb,#e4efda,#e3efda,#e2efdc,#e0f0e0,#edebcd,#f5e8c1,#fce5a8,#ffe195,#ffdc85,#ffd679)"></i><i style="background:linear-gradient(#d1f4f2,#d4f4ef,#d6f3ec,#d9f3e8,#dcf1e4,#def1e1,#e0f0df,#e2efdc,#e3efdb,#e2efdd,#dff0e0,#edebcd,#f5e8c0,#fde5a7,#ffe091,#ffd980,#ffd172)"></i><i style="background:linear-gradient(#cef5f5,#d0f4f3,#d2f4f1,#d4f4ef,#d6f3ed,#d8f3ea,#dbf2e6,#def1e2,#e1f0de,#e1f0de,#dff0e0,#edebcd,#f5e8c0,#fde5a6,#ffdf8e,#ffd67a,#ffcd6d)"></i><i style="background:linear-gradient(#ccf5f7,#cef5f6,#cff5f5,#d0f4f4,#d2f4f2,#d4f4ef,#d6f3ed,#d8f3ea,#dff0e1,#e0f0df,#dff0e0,#edebcc,#f6e8be,#fee4a2,#ffdd88,#ffd274,#ffc868)"></i><i style="background:linear-gradient(#c8f3f7,#c9f4f7,#caf4f7,#ccf5f7,#cef5f6,#d0f4f4,#d2f4f1,#d5f4ed,#dcf1e4,#dff0e0,#dff0e0,#efebca,#f8e7b5,#ffe298,#ffd97e,#ffcd6d,#ffc161)"></i><i style="background:linear-gradient(#c2f1f6,#c3f2f6,#c4f2f6,#c6f3f6,#c9f4f7,#cdf5f7,#d0f5f4,#d3f4f0,#d9f3e9,#def1e2,#e2efdd,#f2e9c5,#fde5a5,#ffdc84,#ffd070,#ffc666,#ffb658)"></i><i style="background:linear-gradient(#b9eef5,#bceff5,#bef0f6,#c1f1f6,#c6f3f6,#ccf5f7,#cff5f4,#d3f4f0,#d7f3eb,#def1e1,#e6eed7,#f6e7bc,#ffe092,#ffd172,#ffc767,#ffb85a,#ffaf52)"></i><i style="background:linear-gradient(#b3edf4,#b6edf5,#b9eef5,#bef0f6,#c5f2f6,#cdf5f7,#d2f4f2,#d6f3ec,#ddf1e3,#e6eed7,#edebcd,#fde5a8,#ffd87e,#ffc868,#ffb658,#ffaf52,#ffa449)"></i><i style="background:linear-gradient(#afecf3,#b3edf4,#b7eef5,#bbeff5,#c5f2f6,#d0f5f4,#d6f3ec,#e0f0df,#ececcf,#f1eac7,#f5e8bf,#ffdf8f,#ffce6e,#ffb95a,#ffae51,#ffa248,#ff923e)"></i><i style="background:linear-gradient(#adebf3,#b1ecf4,#b6edf5,#bbeff5,#c9f4f7,#d4f4ef,#dff0e0,#eeebcc,#f9e7b5,#fee4a3,#ffe39b,#ffd477,#ffc464,#ffaf52,#ffa046,#ff903d,#ff8038)"></i><i style="background:linear-gradient(#acebf2,#b1ecf4,#b6eef5,#bdf0f6,#cef5f6,#dbf2e6,#eeebcc,#fae6b0,#ffdb83,#ffd578,#ffd578,#ffc767,#ffb255,#ffa248,#ff8f3d,#ff8037,#ff7335)"></i><i style="background:linear-gradient(#afebf3,#b4edf4,#b9eef5,#c1f1f6,#d3f4f0,#ececcf,#fbe6ad,#ffda81,#ffc969,#ffc364,#ffc666,#ffb355,#ffa64c,#ff8f3d,#ff7e37,#ff7335,#ff6530)"></i><i style="background:linear-gradient(#b3ecf4,#b8eef5,#c0f1f6,#c8f3f6,#dbf2e5,#f6e7bc,#ffdb82,#ffc868,#ffb355,#ffb154,#ffb356,#ffaa4e,#ff943f,#ff7e37,#ff7134,#ff6530,#ff592c)"></i><i style="background:linear-gradient(#b9eef5,#c1f1f6,#caf4f7,#d0f4f3,#eaedd2,#ffe39b,#ffcc6c,#ffb254,#ffa54b,#ffa54a,#ffad51,#ff9941,#ff8338,#ff7034,#ff622f,#ff582b,#ff4e29)"></i><i style="background:linear-gradient(#c5f2f6,#cef5f6,#d3f4f0,#d9f3e9,#f3e9c3,#ffda80,#ffbb5c,#ffa349,#ff933e,#ff943f,#ff9d44,#ff883a,#ff7635,#ff622f,#ff552b,#ff4c28,#ff4326)"></i><i style="background:linear-gradient(#d0f5f4,#d6f3ec,#dff0e0,#eaecd1,#fce5a9,#ffcf6f,#ffb154,#ff943e,#ff8539,#ff8439,#ff8b3b,#ff7936,#ff6831,#ff552b,#ff4927,#ff3e25,#ff2e22)"></i><i style="background:linear-gradient(#d6f3ec,#e3efdb,#eeebcb,#f6e8be,#ffde8c,#ffc767,#ffac50,#ff893b,#ff7b36,#ff7836,#ff7936,#ff6a32,#ff592c,#ff4827,#ff3624,#ff2421,#ff151e)"></i><i style="background:linear-gradient(#e4efda,#f1eac7,#fbe6ae,#ffe091,#ffd070,#ffb759,#ffa046,#ff8138,#ff7234,#ff6b32,#ff6931,#ff592c,#ff4a28,#ff3323,#ff191f,#ff0a1b,#ff0016)"></i><i style="background:linear-gradient(#f5e8c0,#ffe49f,#ffdb83,#ffcf6f,#ffbf60,#ffae51,#ff943e,#ff7a36,#ff6731,#ff5d2d,#ff582b,#ff4727,#ff2c22,#ff121d,#ff0018,#ff0012,#ff000d)"></i><i style="background:linear-gradient(#ffdf8e,#ffd578,#ffcb6b,#ffbe5f,#ffb053,#ffa046,#ff883a,#ff7335,#ff5d2d,#ff5029,#ff4827,#ff2621,#ff0a1b,#ff0014,#ff000e,#ff0009,#ff0004)"></i><i style="background:linear-gradient(#ffce6e,#ffc666,#ffb95a,#ffb053,#ffa44a,#ff913e,#ff7e37,#ff6c32,#ff552b,#ff4626,#ff3223,#ff0e1c,#ff0014,#ff000b,#ff0006,#ff0002,#ff0000)"></i><i style="background:linear-gradient(#ffbe5f,#ffb356,#ffaf52,#ffa64b,#ff9740,#ff8639,#ff7735,#ff6530,#ff4e29,#ff3624,#ff1a1f,#ff0017,#ff000f,#ff0007,#ff0001,#ff0000,#ff0000)"></i><i style="background:linear-gradient(#ffb053,#ffac50,#ffa449,#ff9b42,#ff8d3c,#ff7e37,#ff7134,#ff5f2e,#ff4927,#ff2821,#ff0c1b,#ff0014,#ff000c,#ff0004,#ff0000,#ff0000,#ff0000)"></i><i style="background:linear-gradient(#ffa54a,#ff9e45,#ff9840,#ff913d,#ff8439,#ff7836,#ff6a32,#ff592c,#ff4426,#ff1b1f,#ff0118,#ff0011,#ff000a,#ff0003,#ff0000,#ff0000,#fc0002)"></i><i style="background:linear-gradient(#ff9840,#ff933e,#ff8e3d,#ff893b,#ff7f37,#ff7335,#ff6530,#ff552b,#ff3c25,#ff161e,#ff0017,#ff0010,#ff0009,#ff0003,#ff0000,#ff0000,#fa0005)"></i><i style="background:linear-gradient(#ff913d,#ff8d3c,#ff893b,#ff8539,#ff7c37,#ff7034,#ff622f,#ff522a,#ff3824,#ff131d,#ff0016,#ff000f,#ff0009,#ff0003,#ff0000,#ff0000,#f90005)"></i><i style="background:linear-gradient(#ff8e3c,#ff8a3b,#ff873a,#ff8338,#ff7a36,#ff6f34,#ff612f,#ff512a,#ff3624,#ff121d,#ff0016,#ff000f,#ff0009,#ff0003,#ff0000,#ff0000,#f90005)"></i><i style="background:linear-gradient(#ff8c3c,#ff893b,#ff8639,#ff8238,#ff7a36,#ff6e33,#ff612e,#ff512a,#ff3624,#ff141d,#ff0017,#ff0010,#ff0009,#ff0003,#ff0000,#ff0000,#f90005)"></i><i style="background:linear-gradient(#ff8d3c,#ff8a3b,#ff873a,#ff8439,#ff7c37,#ff7134,#ff632f,#ff542a,#ff3d25,#ff1b1f,#ff071a,#ff0012,#ff000b,#ff0003,#ff0000,#ff0000,#fa0005)"></i><i style="background:linear-gradient(#ff903d,#ff8e3c,#ff8b3b,#ff893a,#ff8037,#ff7535,#ff6931,#ff5a2c,#ff4827,#ff2c22,#ff131d,#ff0015,#ff000c,#ff0004,#ff0000,#ff0000,#fc0003)"></i><i style="background:linear-gradient(#ff943f,#ff923e,#ff903d,#ff8e3c,#ff8539,#ff7936,#ff6e33,#ff602e,#ff5029,#ff3f25,#ff2220,#ff0118,#ff000f,#ff0006,#ff0000,#ff0000,#ff0000)"></i><i style="background:linear-gradient(#ff9a42,#ff9840,#ff963f,#ff933e,#ff893b,#ff7d37,#ff7234,#ff6530,#ff582b,#ff4a28,#ff3223,#ff0c1b,#ff0013,#ff000a,#ff0004,#ff0000,#ff0000)"></i><i style="background:linear-gradient(#ffa248,#ff9f46,#ff9b43,#ff9840,#ff8e3c,#ff8038,#ff7535,#ff6a32,#ff5f2e,#ff512a,#ff4025,#ff1a1f,#ff0319,#ff0012,#ff000b,#ff0004,#ff0000)"></i><i style="background:linear-gradient(#ffaa4f,#ffa54b,#ffa147,#ff9c43,#ff913e,#ff8439,#ff7836,#ff6e33,#ff6630,#ff592c,#ff4a28,#ff3423,#ff191f,#ff081a,#ff0014,#ff000c,#ff0005)"></i><i style="background:linear-gradient(#ffae52,#ffac50,#ffa64b,#ff9f46,#ff953f,#ff883a,#ff7c37,#ff7335,#ff6c33,#ff602e,#ff522a,#ff4827,#ff3924,#ff2621,#ff101c,#ff0016,#ff0010)"></i><i style="background:linear-gradient(#ffb255,#ffaf52,#ffab4f,#ffa349,#ff9941,#ff8c3c,#ff7f37,#ff7735,#ff7335,#ff6831,#ff5b2c,#ff542a,#ff4c28,#ff4526,#ff3423,#ff1e20,#ff0f1c)"></i><i style="background:linear-gradient(#ffb859,#ffb254,#ffae52,#ffa84d,#ff9d44,#ff903d,#ff8338,#ff7b36,#ff7836,#ff7134,#ff6430,#ff5f2e,#ff5a2c,#ff542a,#ff4e29,#ff4727,#ff3d25)"></i><i style="background:linear-gradient(#ffbe5f,#ffb557,#ffb053,#ffac50,#ffa248,#ff963f,#ff893a,#ff8037,#ff7e37,#ff7736,#ff6f34,#ff6b32,#ff6731,#ff632f,#ff5f2e,#ff5a2c,#ff562b)"></i><i style="background:linear-gradient(#ffc262,#ffb95a,#ffb255,#ffae52,#ffa74c,#ff9b42,#ff8e3c,#ff8539,#ff8338,#ff7e37,#ff7736,#ff7635,#ff7435,#ff7234,#ff6f34,#ff6c32,#ff6831)"></i><i style="background:linear-gradient(#ffc565,#ffbc5d,#ffb456,#ffb053,#ffab4f,#ff9f46,#ff933e,#ff8a3b,#ff893a,#ff8439,#ff7f37,#ff7f37,#ff7e37,#ff7e37,#ff7c37,#ff7936,#ff7635)"></i><i style="background:linear-gradient(#ffc666,#ffbe5f,#ffb658,#ffb154,#ffad51,#ffa349,#ff9740,#ff8e3c,#ff8d3c,#ff8a3b,#ff883a,#ff883a,#ff883a,#ff893b,#ff873a,#ff8439,#ff8138)"></i><i style="background:linear-gradient(#ffc767,#ffc061,#ffb95a,#ffb355,#ffae52,#ffa64b,#ff9a42,#ff913e,#ff913d,#ff903d,#ff903d,#ff913d,#ff913e,#ff923e,#ff913d,#ff8e3c,#ff8b3b)"></i><i style="background:linear-gradient(#ffc868,#ffc363,#ffbb5d,#ffb456,#ffb053,#ffa94e,#ff9d44,#ff953f,#ff943f,#ff953f,#ff973f,#ff9740,#ff9840,#ff9840,#ff9740,#ff943f,#ff923e)"></i><i style="background:linear-gradient(#ffc969,#ffc565,#ffbe5f,#ffb759,#ffb154,#ffac50,#ffa147,#ff9840,#ff9840,#ff9941,#ff9b42,#ff9b42,#ff9a42,#ff9a42,#ff9941,#ff9740,#ff953f)"></i><i style="background:linear-gradient(#ffca6a,#ffc666,#ffc061,#ffba5b,#ffb255,#ffae51,#ffa44a,#ff9c43,#ff9a42,#ff9b43,#ff9d44,#ff9d44,#ff9c43,#ff9b43,#ff9a41,#ff9840,#ff953f)"></i><i style="background:linear-gradient(#ffcb6b,#ffc767,#ffc263,#ffbc5d,#ffb356,#ffaf52,#ffa74c,#ff9f45,#ff9c44,#ff9d44,#ffa046,#ff9f45,#ff9d44,#ff9c44,#ff9b42,#ff9840,#ff963f)"></i><i style="background:linear-gradient(#ffcb6b,#ffc868,#ffc464,#ffbe5e,#ffb456,#ffb053,#ffa94e,#ffa147,#ff9e45,#ff9f45,#ffa147,#ffa046,#ff9e45,#ff9d44,#ff9b43,#ff9941,#ff963f)"></i><i style="background:linear-gradient(#ffcc6c,#ffc969,#ffc565,#ffbf60,#ffb658,#ffb053,#ffab4f,#ffa248,#ff9f46,#ffa046,#ffa248,#ffa047,#ff9f46,#ff9e45,#ff9c43,#ff9941,#ff9740)"></i><i style="background:linear-gradient(#ffcc6c,#ffc969,#ffc666,#ffc060,#ffb758,#ffb153,#ffac50,#ffa349,#ffa046,#ffa047,#ffa248,#ffa147,#ffa046,#ff9f45,#ff9c44,#ff9a42,#ff9740)"></i><i style="background:linear-gradient(#ffcd6d,#ffca6a,#ffc666,#ffc161,#ffb859,#ffb154,#ffac50,#ffa44a,#ffa147,#ffa147,#ffa349,#ffa248,#ffa047,#ff9f46,#ff9d44,#ff9b42,#ff9840)"></i><i style="background:linear-gradient(#ffcd6d,#ffca6a,#ffc767,#ffc262,#ffb95a,#ffb254,#ffad51,#ffa54b,#ffa248,#ffa248,#ffa349,#ffa248,#ffa147,#ffa047,#ff9e45,#ff9c43,#ff9941)"></i><i style="background:linear-gradient(#ffce6e,#ffcb6b,#ffc767,#ffc363,#ffba5b,#ffb255,#ffad51,#ffa64c,#ffa349,#ffa348,#ffa449,#ffa349,#ffa248,#ffa148,#ff9f46,#ff9d44,#ff9a42)"></i><i style="background:linear-gradient(#ffce6e,#ffcb6b,#ffc868,#ffc464,#ffbb5c,#ffb255,#ffae51,#ffa84c,#ffa449,#ffa349,#ffa44a,#ffa449,#ffa349,#ffa248,#ffa147,#ff9e45,#ff9c43)"></i><i style="background:linear-gradient(#ffce6e,#ffcb6b,#ffc868,#ffc565,#ffbc5d,#ffb355,#ffae52,#ffa94d,#ffa54a,#ffa44a,#ffa54b,#ffa54a,#ffa44a,#ffa449,#ffa248,#ff9f46,#ff9d44)"></i><i style="background:linear-gradient(#ffce6e,#ffcb6b,#ffc969,#ffc666,#ffbd5e,#ffb356,#ffaf52,#ffaa4e,#ffa64b,#ffa54a,#ffa64b,#ffa54b,#ffa54a,#ffa44a,#ffa248,#ffa046,#ff9e44)"></i><i style="background:linear-gradient(#ffcf6f,#ffcc6c,#ffc969,#ffc666,#ffbe5f,#ffb456,#ffaf52,#ffab4f,#ffa74c,#ffa64b,#ffa64b,#ffa64b,#ffa54a,#ffa44a,#ffa248,#ff9f46,#ff9d44)"></i><i style="background:linear-gradient(#ffcf6f,#ffcc6c,#ffc969,#ffc767,#ffbf60,#ffb557,#ffb053,#ffac50,#ffa74c,#ffa64b,#ffa64b,#ffa54b,#ffa44a,#ffa349,#ffa147,#ff9e45,#ff9b42)"></i><i style="background:linear-gradient(#ffcf6f,#ffcc6c,#ffca6a,#ffc767,#ffc060,#ffb657,#ffb053,#ffad50,#ffa84d,#ffa64b,#ffa64b,#ffa54a,#ffa349,#ffa248,#ff9f46,#ff9c43,#ff9840)"></i><i style="background:linear-gradient(#ffcf6f,#ffcc6c,#ffca6a,#ffc767,#ffc061,#ffb758,#ffb154,#ffad51,#ffa94e,#ffa64c,#ffa54a,#ffa449,#ffa248,#ffa147,#ff9e45,#ff9a42,#ff963f)"></i><i style="background:linear-gradient(#ffcf6f,#ffcd6d,#ffca6a,#ffc868,#ffc162,#ffb859,#ffb154,#ffae51,#ffaa4f,#ffa74c,#ffa44a,#ffa349,#ffa248,#ffa047,#ff9d44,#ff9a42,#ff9740)"></i><i style="background:linear-gradient(#ffcf6f,#ffcd6d,#ffca6a,#ffc868,#ffc263,#ffb95a,#ffb254,#ffae52,#ffac50,#ffa84d,#ffa54b,#ffa449,#ffa248,#ffa147,#ff9f46,#ff9d44,#ff9a42)"></i><i style="background:linear-gradient(#ffce6e,#ffcc6c,#ffca6a,#ffc868,#ffc363,#ffba5b,#ffb355,#ffaf52,#ffad51,#ffab4f,#ffa84d,#ffa74c,#ffa64b,#ffa44a,#ffa349,#ffa147,#ff9f46)"></i><i style="background:linear-gradient(#ffcd6d,#ffcb6b,#ffca6a,#ffc868,#ffc364,#ffbb5c,#ffb356,#ffb053,#ffaf52,#ffad51,#ffac50,#ffab4f,#ffaa4f,#ffa94e,#ffa84d,#ffa64b,#ffa449)"></i><i style="background:linear-gradient(#ffcc6c,#ffca6a,#ffc969,#ffc868,#ffc464,#ffbc5d,#ffb557,#ffb254,#ffb053,#ffaf52,#ffad51,#ffad51,#ffad51,#ffad51,#ffac50,#ffab4f,#ffa94d)"></i><i style="background:linear-gradient(#ffca6a,#ffca6a,#ffc969,#ffc868,#ffc565,#ffbe5e,#ffb658,#ffb355,#ffb154,#ffb053,#ffaf52,#ffaf52,#ffaf52,#ffaf52,#ffae52,#ffad51,#ffad50)"></i><i style="background:linear-gradient(#ffc969,#ffc969,#ffc868,#ffc868,#ffc565,#ffbf60,#ffb85a,#ffb456,#ffb255,#ffb154,#ffb053,#ffb053,#ffb053,#ffb053,#ffb053,#ffaf52,#ffaf52)"></i><i style="background:linear-gradient(#ffc868,#ffc868,#ffc868,#ffc868,#ffc666,#ffc060,#ffba5b,#ffb557,#ffb355,#ffb255,#ffb154,#ffb154,#ffb154,#ffb254,#ffb254,#ffb154,#ffb153)"></i><i style="background:linear-gradient(#ffc868,#ffc868,#ffc868,#ffc868,#ffc666,#ffc061,#ffbb5c,#ffb658,#ffb456,#ffb355,#ffb255,#ffb255,#ffb355,#ffb355,#ffb355,#ffb355,#ffb355)"></i><i style="background:linear-gradient(#ffc868,#ffc868,#ffc868,#ffc868,#ffc666,#ffc162,#ffbc5d,#ffb85a,#ffb658,#ffb456,#ffb356,#ffb456,#ffb456,#ffb557,#ffb557,#ffb557,#ffb456)"></i><i style="background:linear-gradient(#ffc969,#ffc969,#ffc868,#ffc868,#ffc666,#ffc262,#ffbd5e,#ffb95b,#ffb85a,#ffb759,#ffb658,#ffb758,#ffb759,#ffb859,#ffb859,#ffb759,#ffb758)"></i><i style="background:linear-gradient(#ffc969,#ffc969,#ffc969,#ffc868,#ffc767,#ffc363,#ffbe5f,#ffbb5c,#ffba5c,#ffba5b,#ffb95b,#ffba5b,#ffba5b,#ffba5c,#ffba5b,#ffb95b,#ffb85a)"></i><i style="background:linear-gradient(#ffca6a,#ffca6a,#ffc969,#ffc969,#ffc767,#ffc464,#ffbf60,#ffbd5e,#ffbc5e,#ffbd5e,#ffbd5e,#ffbd5e,#ffbd5e,#ffbd5e,#ffbc5d,#ffbb5c,#ffba5b)"></i><i style="background:linear-gradient(#ffca6a,#ffca6a,#ffca6a,#ffc969,#ffc868,#ffc565,#ffc162,#ffbf60,#ffbf60,#ffbf60,#ffc061,#ffc060,#ffbf60,#ffbf60,#ffbe5f,#ffbd5e,#ffbc5d)"></i><i style="background:linear-gradient(#ffcb6b,#ffcb6b,#ffcb6b,#ffca6a,#ffc969,#ffc767,#ffc464,#ffc162,#ffc262,#ffc263,#ffc364,#ffc363,#ffc262,#ffc162,#ffc061,#ffbf60,#ffbe5f)"></i><i style="background:linear-gradient(#ffcb6b,#ffcb6b,#ffcb6b,#ffcb6b,#ffca6a,#ffc868,#ffc666,#ffc464,#ffc565,#ffc565,#ffc666,#ffc566,#ffc565,#ffc464,#ffc363,#ffc161,#ffbf60)"></i><i style="background:linear-gradient(#ffcc6c,#ffcc6c,#ffcc6c,#ffcc6c,#ffcb6b,#ffc969,#ffc767,#ffc666,#ffc767,#ffc767,#ffc868,#ffc767,#ffc767,#ffc666,#ffc565,#ffc363,#ffc161)"></i><i style="background:linear-gradient(#ffcd6d,#ffcd6d,#ffcd6d,#ffcd6d,#ffcc6c,#ffca6a,#ffc969,#ffc868,#ffc868,#ffc969,#ffca6a,#ffc969,#ffc868,#ffc868,#ffc767,#ffc565,#ffc263)"></i><i style="background:linear-gradient(#ffcf6f,#ffcf6f,#ffcf6f,#ffcf6f,#ffce6e,#ffcc6c,#ffcb6b,#ffca6a,#ffca6a,#ffcb6b,#ffcb6b,#ffcb6b,#ffca6a,#ffc969,#ffc868,#ffc666,#ffc464)"></i><i style="background:linear-gradient(#ffd273,#ffd273,#ffd172,#ffd172,#ffd070,#ffcf6f,#ffcd6d,#ffcc6c,#ffcc6c,#ffcd6d,#ffcd6d,#ffcc6c,#ffcb6b,#ffcb6b,#ffc969,#ffc767,#ffc666)"></i><i style="background:linear-gradient(#ffd477,#ffd477,#ffd477,#ffd477,#ffd375,#ffd273,#ffd070,#ffcf6f,#ffcf6f,#ffcf6f,#ffcf6f,#ffce6e,#ffcd6d,#ffcc6c,#ffcb6b,#ffc969,#ffc767)"></i><i style="background:linear-gradient(#ffd77c,#ffd77c,#ffd77c,#ffd77c,#ffd67a,#ffd578,#ffd376,#ffd274,#ffd273,#ffd172,#ffd171,#ffd070,#ffcf6f,#ffce6e,#ffcd6d,#ffcb6b,#ffc969)"></i><i style="background:linear-gradient(#ffdb83,#ffdb82,#ffda81,#ffda81,#ffd97f,#ffd87d,#ffd77b,#ffd679,#ffd578,#ffd477,#ffd375,#ffd274,#ffd172,#ffd171,#ffcf6f,#ffcd6d,#ffcb6b)"></i><i style="background:linear-gradient(#ffde8c,#ffde8a,#ffdd88,#ffdd86,#ffdc84,#ffdb82,#ffda80,#ffd97e,#ffd87d,#ffd77b,#ffd579,#ffd578,#ffd476,#ffd374,#ffd171,#ffce6e,#ffcc6c)"></i><i style="background:linear-gradient(#ffe091,#ffdf8f,#ffdf8d,#ffde8b,#ffdd89,#ffdd87,#ffdc84,#ffdb83,#ffdb82,#ffd97f,#ffd87d,#ffd67a,#ffd578,#ffd376,#ffd172,#ffce6e,#ffcc6c)"></i><i style="background:linear-gradient(#ffe092,#ffe090,#ffdf8f,#ffde8d,#ffde8b,#ffdd88,#ffdd86,#ffdc84,#ffdc83,#ffda81,#ffd87e,#ffd77b,#ffd578,#ffd375,#ffd070,#ffcd6d,#ffca6a)"></i><i style="background:linear-gradient(#ffe092,#ffdf90,#ffdf8d,#ffde8b,#ffdd88,#ffdd86,#ffdc84,#ffdb83,#ffdb82,#ffda80,#ffd87d,#ffd679,#ffd476,#ffd273,#ffcf6f,#ffcc6c,#ffc969)"></i><i style="background:linear-gradient(#ffe093,#ffdf8f,#ffde8b,#ffdd87,#ffdc84,#ffdb83,#ffda81,#ffda80,#ffda80,#ffd87e,#ffd67b,#ffd578,#ffd374,#ffd171,#ffce6e,#ffcb6b,#ffc868)"></i><i style="background:linear-gradient(#ffe093,#ffdf8e,#ffdd89,#ffdc84,#ffdb82,#ffda80,#ffd97f,#ffd87e,#ffd87e,#ffd77c,#ffd579,#ffd376,#ffd273,#ffd070,#ffce6e,#ffcb6b,#ffc969)"></i><i style="background:linear-gradient(#ffe093,#ffde8d,#ffdd87,#ffdb82,#ffd97f,#ffd87e,#ffd77c,#ffd77b,#ffd77c,#ffd67a,#ffd477,#ffd374,#ffd172,#ffd070,#ffce6e,#ffcc6c,#ffca6a)"></i><i style="background:linear-gradient(#ffe093,#ffde8c,#ffdc85,#ffda80,#ffd87d,#ffd77c,#ffd67a,#ffd679,#ffd67a,#ffd579,#ffd376,#ffd274,#ffd171,#ffd070,#ffce6e,#ffcd6d,#ffcb6b)"></i><i style="background:linear-gradient(#ffe093,#ffde8b,#ffdc84,#ffd97e,#ffd77c,#ffd67a,#ffd578,#ffd578,#ffd579,#ffd578,#ffd375,#ffd273,#ffd171,#ffcf6f,#ffce6e,#ffcd6d,#ffcc6c)"></i><i style="background:linear-gradient(#ffe093,#ffde8b,#ffdb83,#ffd87d,#ffd67a,#ffd578,#ffd477,#ffd476,#ffd477,#ffd476,#ffd374,#ffd273,#ffd071,#ffcf6f,#ffcf6f,#ffce6e,#ffcd6d)"></i><i style="background:linear-gradient(#ffe093,#ffde8a,#ffdb82,#ffd77b,#ffd578,#ffd477,#ffd375,#ffd375,#ffd476,#ffd375,#ffd274,#ffd172,#ffd070,#ffcf6f,#ffcf6f,#ffce6e,#ffcd6d)"></i><i style="background:linear-gradient(#ffe093,#ffde8a,#ffda81,#ffd67a,#ffd477,#ffd375,#ffd274,#ffd273,#ffd375,#ffd374,#ffd273,#ffd172,#ffd070,#ffcf6f,#ffcf6f,#ffce6e,#ffcd6d)"></i><i style="background:linear-gradient(#ffe094,#ffde89,#ffda81,#ffd67a,#ffd476,#ffd374,#ffd273,#ffd172,#ffd274,#ffd274,#ffd273,#ffd171,#ffd070,#ffcf6f,#ffcf6f,#ffce6e,#ffcd6d)"></i><i style="background:linear-gradient(#ffe094,#ffde8a,#ffda81,#ffd67a,#ffd476,#ffd374,#ffd273,#ffd172,#ffd274,#ffd274,#ffd172,#ffd171,#ffd070,#ffcf6f,#ffce6e,#ffce6e,#ffcd6d)"></i><i style="background:linear-gradient(#ffe194,#ffde8a,#ffda81,#ffd67a,#ffd477,#ffd375,#ffd273,#ffd172,#ffd274,#ffd274,#ffd172,#ffd171,#ffd070,#ffcf6f,#ffce6e,#ffce6e,#ffcd6d)"></i><i style="background:linear-gradient(#ffe194,#ffde8a,#ffdb82,#ffd77b,#ffd477,#ffd375,#ffd273,#ffd172,#ffd274,#ffd274,#ffd172,#ffd071,#ffd070,#ffcf6f,#ffce6e,#ffce6e,#ffcd6d)"></i><i style="background:linear-gradient(#ffe194,#ffde8b,#ffdb82,#ffd77c,#ffd578,#ffd375,#ffd273,#ffd172,#ffd274,#ffd274,#ffd172,#ffd071,#ffcf6f,#ffcf6f,#ffce6e,#ffce6e,#ffcd6d)"></i><i style="background:linear-gradient(#ffe194,#ffde8b,#ffdb83,#ffd77c,#ffd578,#ffd376,#ffd273,#ffd172,#ffd274,#ffd274,#ffd172,#ffd071,#ffcf6f,#ffce6e,#ffce6e,#ffcd6d,#ffcd6d)"></i><i style="background:linear-gradient(#ffe194,#ffde8b,#ffdb83,#ffd77c,#ffd578,#ffd376,#ffd273,#ffd172,#ffd274,#ffd274,#ffd172,#ffd070,#ffcf6f,#ffce6e,#ffce6e,#ffcd6d,#ffcd6d)"></i><i style="background:linear-gradient(#ffe194,#ffde8b,#ffdb82,#ffd77c,#ffd578,#ffd375,#ffd273,#ffd172,#ffd274,#ffd274,#ffd172,#ffd070,#ffcf6f,#ffce6e,#ffcd6d,#ffcd6d,#ffcc6c)"></i><i style="background:linear-gradient(#ffe195,#ffde8b,#ffdb82,#ffd77b,#ffd477,#ffd375,#ffd273,#ffd172,#ffd274,#ffd274,#ffd172,#ffd070,#ffcf6f,#ffce6e,#ffcd6d,#ffcc6c,#ffcb6b)"></i><i style="background:linear-gradient(#ffe195,#ffde8b,#ffdb82,#ffd67a,#ffd477,#ffd375,#ffd273,#ffd172,#ffd274,#ffd274,#ffd172,#ffd070,#ffcf6f,#ffce6e,#ffcd6d,#ffcc6c,#ffca6a)"></i><i style="background:linear-gradient(#ffe195,#ffde8a,#ffda81,#ffd67a,#ffd476,#ffd374,#ffd273,#ffd172,#ffd274,#ffd274,#ffd172,#ffd070,#ffcf6f,#ffce6e,#ffcc6c,#ffcb6b,#ffca6a)"></i><i style="background:linear-gradient(#ffe093,#ffdd88,#ffd980,#ffd578,#ffd375,#ffd273,#ffd172,#ffd171,#ffd273,#ffd273,#ffd171,#ffd070,#ffce6e,#ffcd6d,#ffcc6c,#ffca6a,#ffc969)"></i><i style="background:linear-gradient(#ffde8d,#ffdc83,#ffd77c,#ffd375,#ffd172,#ffd071,#ffd070,#ffcf6f,#ffd071,#ffd070,#ffcf6f,#ffce6e,#ffcd6d,#ffcc6c,#ffcb6b,#ffca6a,#ffc868)"></i><i style="background:linear-gradient(#ffdc85,#ffd97e,#ffd578,#ffd172,#ffd070,#ffcf6f,#ffce6e,#ffce6e,#ffcf6f,#ffcf6f,#ffce6e,#ffcd6d,#ffcc6c,#ffcb6b,#ffca6a,#ffc969,#ffc868)"></i><i style="background:linear-gradient(#ffd97f,#ffd67a,#ffd274,#ffcf6f,#ffce6e,#ffcd6d,#ffcd6d,#ffcd6d,#ffcd6d,#ffcd6d,#ffcc6c,#ffcb6b,#ffcb6b,#ffca6a,#ffc969,#ffc868,#ffc767)"></i><i style="background:linear-gradient(#ffd67b,#ffd376,#ffd071,#ffce6e,#ffcd6d,#ffcc6c,#ffcb6b,#ffcb6b,#ffcc6c,#ffcc6c,#ffca6a,#ffca6a,#ffca6a,#ffca6a,#ffc969,#ffc868,#ffc666)"></i><i style="background:linear-gradient(#ffd477,#ffd273,#ffcf6f,#ffcd6d,#ffcc6c,#ffcb6b,#ffcb6b,#ffcb6b,#ffcc6c,#ffcb6b,#ffca6a,#ffca6a,#ffca6a,#ffc969,#ffc969,#ffc767,#ffc666)"></i><i style="background:linear-gradient(#ffd374,#ffd071,#ffcf6f,#ffcd6d,#ffcc6c,#ffcb6b,#ffca6a,#ffca6a,#ffcc6c,#ffcb6b,#ffca6a,#ffca6a,#ffca6a,#ffca6a,#ffc969,#ffc767,#ffc666)"></i><i style="background:linear-gradient(#ffd274,#ffd070,#ffce6e,#ffcd6d,#ffcc6c,#ffcb6b,#ffca6a,#ffcb6b,#ffcc6c,#ffcc6c,#ffcb6b,#ffcb6b,#ffcb6b,#ffca6a,#ffc969,#ffc868,#ffc666)"></i><i style="background:linear-gradient(#ffd476,#ffd172,#ffcf6f,#ffcd6d,#ffcc6c,#ffcb6b,#ffca6a,#ffcb6b,#ffcc6c,#ffcd6d,#ffcc6c,#ffcc6c,#ffcb6b,#ffcb6b,#ffc969,#ffc868,#ffc666)"></i><i style="background:linear-gradient(#ffd67a,#ffd375,#ffd070,#ffcd6d,#ffcc6c,#ffcb6b,#ffcb6b,#ffcb6b,#ffcd6d,#ffcd6d,#ffcd6d,#ffcc6c,#ffcc6c,#ffcb6b,#ffca6a,#ffc868,#ffc666)"></i><i style="background:linear-gradient(#ffd87e,#ffd578,#ffd273,#ffcf6f,#ffcd6d,#ffcc6c,#ffcb6b,#ffcc6c,#ffcd6d,#ffce6e,#ffce6e,#ffcd6d,#ffcc6c,#ffcc6c,#ffca6a,#ffc969,#ffc767)"></i><i style="background:linear-gradient(#ffdb82,#ffd77c,#ffd476,#ffd070,#ffcf6f,#ffce6e,#ffcd6d,#ffcc6c,#ffce6e,#ffce6e,#ffce6e,#ffcd6d,#ffcd6d,#ffcc6c,#ffcb6b,#ffca6a,#ffc868)"></i><i style="background:linear-gradient(#ffdc85,#ffd97f,#ffd679,#ffd274,#ffd070,#ffcf6f,#ffce6e,#ffcd6d,#ffcf6f,#ffcf6f,#ffce6e,#ffce6e,#ffcd6d,#ffcd6d,#ffcc6c,#ffcb6b,#ffc969)"></i><i style="background:linear-gradient(#ffdd88,#ffdb82,#ffd77c,#ffd477,#ffd273,#ffd070,#ffcf6f,#ffce6e,#ffcf6f,#ffcf6f,#ffcf6f,#ffce6e,#ffce6e,#ffcd6d,#ffcc6c,#ffcb6b,#ffca6a)"></i><i style="background:linear-gradient(#ffde8c,#ffdc84,#ffd97f,#ffd67a,#ffd376,#ffd172,#ffd070,#ffcf6f,#ffd070,#ffd070,#ffd070,#ffcf6f,#ffce6e,#ffce6e,#ffcd6d,#ffcc6c,#ffcb6b)"></i><i style="background:linear-gradient(#ffdf8f,#ffdd88,#ffda81,#ffd77c,#ffd578,#ffd375,#ffd171,#ffd070,#ffd172,#ffd172,#ffd070,#ffd070,#ffcf6f,#ffcf6f,#ffce6e,#ffcd6d,#ffcc6c)"></i><i style="background:linear-gradient(#ffe091,#ffde8a,#ffdc84,#ffd97f,#ffd67a,#ffd477,#ffd273,#ffd172,#ffd274,#ffd273,#ffd172,#ffd171,#ffd070,#ffd070,#ffcf6f,#ffce6e,#ffcd6d)"></i><i style="background:linear-gradient(#ffe092,#ffde8c,#ffdd86,#ffda81,#ffd87d,#ffd579,#ffd375,#ffd273,#ffd375,#ffd375,#ffd273,#ffd273,#ffd172,#ffd171,#ffd070,#ffcf6f,#ffce6e)"></i><i style="background:linear-gradient(#ffe092,#ffdf8d,#ffdd88,#ffdc83,#ffd97f,#ffd77b,#ffd477,#ffd375,#ffd477,#ffd477,#ffd375,#ffd274,#ffd273,#ffd273,#ffd171,#ffd070,#ffcf6f)"></i><i style="background:linear-gradient(#ffe092,#ffdf8e,#ffde89,#ffdc85,#ffda81,#ffd87d,#ffd579,#ffd477,#ffd578,#ffd578,#ffd476,#ffd376,#ffd375,#ffd375,#ffd273,#ffd172,#ffd070)"></i><i style="background:linear-gradient(#ffe092,#ffdf8e,#ffde8a,#ffdc85,#ffda81,#ffd87d,#ffd579,#ffd477,#ffd579,#ffd579,#ffd477,#ffd477,#ffd477,#ffd477,#ffd375,#ffd274,#ffd172)"></i><i style="background:linear-gradient(#ffe092,#ffdf8d,#ffdd89,#ffdc84,#ffda81,#ffd87d,#ffd579,#ffd477,#ffd679,#ffd679,#ffd578,#ffd578,#ffd578,#ffd579,#ffd477,#ffd376,#ffd274)"></i><i style="background:linear-gradient(#ffe092,#ffdf8d,#ffdd88,#ffdc83,#ffda80,#ffd77c,#ffd579,#ffd477,#ffd67a,#ffd67a,#ffd579,#ffd679,#ffd67a,#ffd67a,#ffd579,#ffd477,#ffd375)"></i><i style="background:linear-gradient(#ffe092,#ffde8d,#ffdd87,#ffdb83,#ffd97f,#ffd77c,#ffd579,#ffd477,#ffd67a,#ffd67b,#ffd67a,#ffd67a,#ffd67a,#ffd67a,#ffd579,#ffd477,#ffd375)"></i><i style="background:linear-gradient(#ffe092,#ffde8c,#ffdd86,#ffdb82,#ffd97e,#ffd77b,#ffd578,#ffd477,#ffd67a,#ffd77b,#ffd67b,#ffd67a,#ffd679,#ffd579,#ffd477,#ffd376,#ffd274)"></i><i style="background:linear-gradient(#ffe091,#ffde8b,#ffdc85,#ffda81,#ffd87d,#ffd67b,#ffd578,#ffd477,#ffd67a,#ffd77b,#ffd77b,#ffd67a,#ffd578,#ffd477,#ffd375,#ffd274,#ffd172)"></i><i style="background:linear-gradient(#ffdf8e,#ffdd88,#ffdb83,#ffd97f,#ffd77c,#ffd67a,#ffd477,#ffd476,#ffd679,#ffd67a,#ffd67a,#ffd579,#ffd477,#ffd375,#ffd273,#ffd172,#ffd070)"></i><i style="background:linear-gradient(#ffde8a,#ffdc85,#ffda81,#ffd87d,#ffd67b,#ffd578,#ffd476,#ffd375,#ffd579,#ffd67a,#ffd67a,#ffd477,#ffd375,#ffd273,#ffd171,#ffd070,#ffcf6f)"></i><i style="background:linear-gradient(#ffdd87,#ffdb82,#ffd97f,#ffd77c,#ffd579,#ffd477,#ffd375,#ffd375,#ffd578,#ffd579,#ffd579,#ffd476,#ffd273,#ffd071,#ffcf6f,#ffcf6f,#ffce6e)"></i><i style="background:linear-gradient(#ffdc83,#ffda80,#ffd87d,#ffd67a,#ffd578,#ffd376,#ffd274,#ffd274,#ffd477,#ffd578,#ffd578,#ffd375,#ffd171,#ffcf6f,#ffce6e,#ffcd6d,#ffcc6c)"></i><i style="background:linear-gradient(#ffda81,#ffd87e,#ffd77b,#ffd578,#ffd476,#ffd374,#ffd273,#ffd273,#ffd376,#ffd477,#ffd476,#ffd273,#ffd070,#ffce6e,#ffcd6d,#ffcc6c,#ffcb6b)"></i><i style="background:linear-gradient(#ffd87e,#ffd77b,#ffd579,#ffd476,#ffd374,#ffd273,#ffd171,#ffd171,#ffd274,#ffd374,#ffd274,#ffd070,#ffce6e,#ffcc6c,#ffcb6b,#ffca6a,#ffca6a)"></i><i style="background:linear-gradient(#ffd77b,#ffd579,#ffd477,#ffd374,#ffd273,#ffd171,#ffd070,#ffd070,#ffd171,#ffd172,#ffd071,#ffcf6f,#ffcd6d,#ffcb6b,#ffca6a,#ffc969,#ffc868)"></i><i style="background:linear-gradient(#ffd579,#ffd477,#ffd374,#ffd172,#ffd071,#ffd070,#ffcf6f,#ffcf6f,#ffcf6f,#ffcf6f,#ffce6e,#ffcd6d,#ffcb6b,#ffca6a,#ffc969,#ffc868,#ffc767)"></i><i style="background:linear-gradient(#ffd476,#ffd274,#ffd172,#ffd071,#ffd070,#ffcf6f,#ffce6e,#ffce6e,#ffce6e,#ffce6e,#ffcd6d,#ffcb6b,#ffca6a,#ffc969,#ffc868,#ffc666,#ffc565)"></i><i style="background:linear-gradient(#ffd273,#ffd172,#ffd070,#ffcf6f,#ffcf6f,#ffce6e,#ffcd6d,#ffcd6d,#ffcd6d,#ffcd6d,#ffcc6c,#ffcb6b,#ffca6a,#ffc868,#ffc767,#ffc666,#ffc464)"></i><i style="background:linear-gradient(#ffd071,#ffd070,#ffcf6f,#ffce6e,#ffce6e,#ffcd6d,#ffcd6d,#ffcc6c,#ffcd6d,#ffcd6d,#ffcc6c,#ffcb6b,#ffca6a,#ffc969,#ffc868,#ffc767,#ffc565)"></i><i style="background:linear-gradient(#ffcf6f,#ffcf6f,#ffce6e,#ffce6e,#ffcd6d,#ffcd6d,#ffcc6c,#ffcc6c,#ffcd6d,#ffcd6d,#ffcc6c,#ffcc6c,#ffcb6b,#ffca6a,#ffc969,#ffc868,#ffc767)"></i><i style="background:linear-gradient(#ffce6e,#ffce6e,#ffcd6d,#ffcd6d,#ffcc6c,#ffcc6c,#ffcc6c,#ffcc6c,#ffcd6d,#ffcd6d,#ffcd6d,#ffcc6c,#ffcc6c,#ffcc6c,#ffcb6b,#ffca6a,#ffc969)"></i><i style="background:linear-gradient(#ffcd6d,#ffcc6c,#ffcc6c,#ffcc6c,#ffcc6c,#ffcb6b,#ffcb6b,#ffcc6c,#ffcd6d,#ffce6e,#ffce6e,#ffcd6d,#ffcd6d,#ffcd6d,#ffcc6c,#ffcb6b,#ffca6a)"></i><i style="background:linear-gradient(#ffcc6c,#ffcc6c,#ffcc6c,#ffcb6b,#ffcb6b,#ffcb6b,#ffcb6b,#ffcb6b,#ffcd6d,#ffce6e,#ffcf6f,#ffce6e,#ffce6e,#ffcd6d,#ffcd6d,#ffcc6c,#ffcb6b)"></i><i style="background:linear-gradient(#ffcb6b,#ffcb6b,#ffcb6b,#ffcb6b,#ffca6a,#ffca6a,#ffca6a,#ffcb6b,#ffce6e,#ffcf6f,#ffd070,#ffcf6f,#ffce6e,#ffce6e,#ffcd6d,#ffcc6c,#ffcc6c)"></i><i style="background:linear-gradient(#ffcb6b,#ffcb6b,#ffca6a,#ffca6a,#ffc969,#ffc969,#ffc969,#ffca6a,#ffcd6d,#ffcf6f,#ffd071,#ffd070,#ffcf6f,#ffce6e,#ffce6e,#ffcd6d,#ffcc6c)"></i><i style="background:linear-gradient(#ffcb6b,#ffca6a,#ffc969,#ffc868,#ffc868,#ffc868,#ffc868,#ffc969,#ffcd6d,#ffcf6f,#ffd171,#ffd070,#ffcf6f,#ffcf6f,#ffce6e,#ffcd6d,#ffcd6d)"></i><i style="background:linear-gradient(#ffca6a,#ffc969,#ffc868,#ffc767,#ffc767,#ffc767,#ffc767,#ffc868,#ffcc6c,#ffce6e,#ffd070,#ffd070,#ffcf6f,#ffcf6f,#ffce6e,#ffcd6d,#ffcd6d)"></i><i style="background:linear-gradient(#ffca6a,#ffc969,#ffc767,#ffc666,#ffc565,#ffc565,#ffc565,#ffc767,#ffcb6b,#ffcd6d,#ffcf6f,#ffcf6f,#ffcf6f,#ffcf6f,#ffce6e,#ffcd6d,#ffcc6c)"></i><i style="background:linear-gradient(#ffca6a,#ffc868,#ffc767,#ffc465,#ffc364,#ffc364,#ffc364,#ffc666,#ffca6a,#ffcd6d,#ffce6e,#ffce6e,#ffcf6f,#ffcf6f,#ffce6e,#ffcc6c,#ffcb6b)"></i><i style="background:linear-gradient(#ffca6a,#ffc868,#ffc767,#ffc565,#ffc464,#ffc464,#ffc464,#ffc666,#ffca6a,#ffcc6c,#ffce6e,#ffce6e,#ffce6e,#ffcf6f,#ffce6e,#ffcc6c,#ffca6a)"></i><i style="background:linear-gradient(#ffca6a,#ffc969,#ffc767,#ffc666,#ffc565,#ffc565,#ffc565,#ffc767,#ffca6a,#ffcc6c,#ffcd6d,#ffce6e,#ffce6e,#ffce6e,#ffcd6d,#ffcb6b,#ffc969)"></i><i style="background:linear-gradient(#ffca6a,#ffc969,#ffc868,#ffc767,#ffc666,#ffc666,#ffc666,#ffc767,#ffcb6b,#ffcc6c,#ffcd6d,#ffcd6d,#ffce6e,#ffce6e,#ffcd6d,#ffcc6c,#ffca6a)"></i><i style="background:linear-gradient(#ffca6a,#ffc969,#ffc868,#ffc767,#ffc767,#ffc767,#ffc767,#ffc868,#ffcb6b,#ffcd6d,#ffcd6d,#ffcd6d,#ffce6e,#ffce6e,#ffcd6d,#ffcc6c,#ffca6a)"></i><i style="background:linear-gradient(#ffca6a,#ffc969,#ffc969,#ffc868,#ffc868,#ffc868,#ffc868,#ffc969,#ffcc6c,#ffcd6d,#ffcd6d,#ffcd6d,#ffce6e,#ffce6e,#ffcd6d,#ffcc6c,#ffcb6b)"></i><i style="background:linear-gradient(#ffca6a,#ffc969,#ffc969,#ffc868,#ffc868,#ffc868,#ffc868,#ffc969,#ffcc6c,#ffcd6d,#ffcd6d,#ffcd6d,#ffce6e,#ffce6e,#ffcd6d,#ffcc6c,#ffcb6b)"></i><i style="background:linear-gradient(#ffca6a,#ffca6a,#ffc969,#ffc969,#ffc969,#ffc969,#ffc969,#ffc969,#ffcc6c,#ffcd6d,#ffcd6d,#ffcd6d,#ffcd6d,#ffce6e,#ffcd6d,#ffcc6c,#ffcc6c)"></i><i style="background:linear-gradient(#ffca6a,#ffca6a,#ffc969,#ffc969,#ffc969,#ffc969,#ffc969,#ffca6a,#ffcc6c,#ffcd6d,#ffcd6d,#ffcd6d,#ffcd6d,#ffcd6d,#ffcd6d,#ffcd6d,#ffcc6c)"></i><i style="background:linear-gradient(#ffca6a,#ffca6a,#ffca6a,#ffc969,#ffc969,#ffc969,#ffc969,#ffca6a,#ffcc6c,#ffcd6d,#ffcd6d,#ffcd6d,#ffcd6d,#ffcd6d,#ffcd6d,#ffcd6d,#ffcd6d)"></i><i style="background:linear-gradient(#ffca6a,#ffca6a,#ffca6a,#ffca6a,#ffca6a,#ffca6a,#ffca6a,#ffca6a,#ffcc6c,#ffcd6d,#ffcd6d,#ffcd6d,#ffcd6d,#ffcd6d,#ffcd6d,#ffcd6d,#ffcd6d)"></i></div>
<div class="p" style="left:203px;top:1600px;width:704.7px;height:675.744px"><i style="background:linear-gradient(#ffd67a,#ffd67a,#ffd67a,#ffd67a,#ffd67a,#ffd67a,#ffd67a,#ffd67a,#ffd67a,#ffd67a,#ffd67a,#ffd67a,#ffd67a,#ffd67a,#ffd87c,#ffda80,#ffdc84)"></i><i style="background:linear-gradient(#ffd97f,#ffd97f,#ffd97f,#ffd97f,#ffd97f,#ffd97f,#ffd97f,#ffd97f,#ffd97f,#ffd97f,#ffd97f,#ffd97f,#ffd97f,#ffd97f,#ffda80,#ffdb82,#ffdc84)"></i><i style="background:linear-gradient(#ffde8b,#ffde8b,#ffde8b,#ffde8b,#ffde8b,#ffde8b,#ffde8b,#ffde8b,#ffde8b,#ffde8b,#ffde8b,#ffde8b,#ffde8b,#ffde8b,#ffde89,#ffdd87,#ffdc85)"></i><i style="background:linear-gradient(#ffe299,#ffe299,#ffe299,#ffe299,#ffe299,#ffe299,#ffe299,#ffe299,#ffe299,#ffe299,#ffe299,#ffe299,#ffe299,#ffe299,#ffe297,#ffe194,#ffe091)"></i><i style="background:linear-gradient(#fce5ab,#fce5ab,#fce5ab,#fce5ab,#fce5ab,#fce5ab,#fce5ab,#fce5ab,#fce5ab,#fce5ab,#fce5ab,#fce5ab,#fce5ab,#fce5ab,#fce5aa,#fce5a9,#fce5a8)"></i><i style="background:linear-gradient(#f8e7b5,#f8e7b5,#f8e7b5,#f8e7b5,#f8e7b5,#f8e7b5,#f8e7b5,#f8e7b5,#f8e7b5,#f8e7b5,#f8e7b5,#f8e7b5,#f8e7b5,#f8e7b5,#f8e7b5,#f8e7b6,#f8e7b6)"></i><i style="background:#f8e7b6"></i><i style="background:#f8e7b6"></i><i style="background:linear-gradient(#fae6af,#fae6af,#fae6af,#fae6af,#fae6af,#fae6af,#fae6af,#fae6af,#fae6af,#fae6af,#fae6af,#fae6af,#fae6af,#fae6af,#fae6b0,#fae6b1,#f9e6b3)"></i><i style="background:linear-gradient(#ffe49f,#ffe49f,#ffe49f,#ffe49f,#ffe49f,#ffe49f,#ffe49f,#ffe49f,#ffe49f,#ffe49f,#ffe49f,#ffe49f,#ffe49f,#ffe49f,#ffe4a0,#fee4a3,#fde5a6)"></i><i style="background:linear-gradient(#ffe194,#ffe194,#ffe194,#ffe194,#ffe194,#ffe194,#ffe194,#ffe194,#ffe194,#ffe194,#ffe194,#ffe194,#ffe194,#ffe194,#ffe195,#ffe196,#ffe297)"></i><i style="background:linear-gradient(#ffde8c,#ffde8c,#ffde8c,#ffde8c,#ffde8c,#ffde8c,#ffde8c,#ffde8c,#ffde8c,#ffde8c,#ffde8c,#ffde8c,#ffde8c,#ffde8c,#ffdf8e,#ffdf90,#ffe092)"></i><i style="background:linear-gradient(#ffdb82,#ffdb82,#ffdb82,#ffdb82,#ffdb82,#ffdb82,#ffdb82,#ffdb82,#ffdb82,#ffdb82,#ffdb82,#ffdb82,#ffdb82,#ffdb82,#ffdc85,#ffde8c,#ffe092)"></i><i style="background:linear-gradient(#ffd87e,#ffd87e,#ffd87e,#ffd87e,#ffd87e,#ffd87e,#ffd87e,#ffd87e,#ffd87e,#ffd87e,#ffd87e,#ffd87e,#ffd87e,#ffd87e,#ffdb82,#ffde8a,#ffe092)"></i><i style="background:linear-gradient(#ffdb82,#ffdb82,#ffdb82,#ffdb82,#ffdb82,#ffdb82,#ffdb82,#ffdb82,#ffdb82,#ffdb82,#ffdb82,#ffdb82,#ffdb82,#ffdb82,#ffdd87,#ffdf8f,#ffe298)"></i><i style="background:linear-gradient(#ffde8c,#ffde8c,#ffde8c,#ffde8c,#ffde8c,#ffde8c,#ffde8c,#ffde8c,#ffde8c,#ffde8c,#ffde8c,#ffde8c,#ffde8c,#ffde8c,#ffe093,#ffe39c,#fde5a7)"></i><i style="background:linear-gradient(#ffe092,#ffe092,#ffe092,#ffe092,#ffe092,#ffe092,#ffe092,#ffe092,#ffe092,#ffe092,#ffe092,#ffe092,#ffe092,#ffe092,#ffe29a,#fde5a6,#f9e6b3)"></i><i style="background:linear-gradient(#ffe092,#ffe092,#ffe092,#ffe092,#ffe092,#ffe092,#ffe092,#ffe092,#ffe092,#ffe092,#ffe092,#ffe092,#ffe092,#ffe092,#ffe29a,#fce5a8,#f8e7b6)"></i><i style="background:linear-gradient(#ffe196,#ffe196,#ffe196,#ffe196,#ffe196,#ffe196,#ffe196,#ffe196,#ffe196,#ffe196,#ffe196,#ffe196,#ffe196,#ffe196,#ffe39d,#fce5aa,#f8e7b6)"></i><i style="background:linear-gradient(#fee4a2,#fee4a2,#fee4a2,#fee4a2,#fee4a2,#fee4a2,#fee4a2,#fee4a2,#fee4a2,#fee4a2,#fee4a2,#fee4a2,#fee4a2,#fee4a2,#fde5a7,#fae6af,#f8e7b6)"></i><i style="background:linear-gradient(#fae6b1,#fae6b1,#fae6b1,#fae6b1,#fae6b1,#fae6b1,#fae6b1,#fae6b1,#fae6b1,#fae6b1,#fae6b1,#fae6b1,#fae6b1,#fae6b1,#f9e6b2,#f9e6b2,#f9e6b3)"></i><i style="background:linear-gradient(#f8e7b6,#f8e7b6,#f8e7b6,#f8e7b6,#f8e7b6,#f8e7b6,#f8e7b6,#f8e7b6,#f8e7b6,#f8e7b6,#f8e7b6,#f8e7b6,#f8e7b6,#f8e7b6,#f9e6b4,#fae6af,#fce5ab)"></i><i style="background:linear-gradient(#fbe6ad,#fbe6ad,#fbe6ad,#fbe6ad,#fbe6ad,#fbe6ad,#fbe6ad,#fbe6ad,#fbe6ad,#fbe6ad,#fbe6ad,#fbe6ad,#fbe6ad,#fbe6ad,#fce5aa,#fde5a7,#fee4a3)"></i><i style="background:linear-gradient(#ffe29a,#ffe29a,#ffe29a,#ffe29a,#ffe29a,#ffe29a,#ffe29a,#ffe29a,#ffe29a,#ffe29a,#ffe29a,#ffe29a,#ffe29a,#ffe29a,#ffe39c,#ffe39e,#ffe4a0)"></i><i style="background:linear-gradient(#ffde8c,#ffde8c,#ffde8c,#ffde8c,#ffde8c,#ffde8c,#ffde8c,#ffde8c,#ffde8c,#ffde8c,#ffde8c,#ffde8c,#ffde8c,#ffde8c,#ffe091,#ffe299,#ffe4a0)"></i><i style="background:linear-gradient(#ffdb82,#ffdb82,#ffdb82,#ffdb82,#ffdb82,#ffdb82,#ffdb82,#ffdb82,#ffdb82,#ffdb82,#ffdb82,#ffdb82,#ffdb82,#ffdb82,#ffde89,#ffe196,#fee4a3)"></i><i style="background:linear-gradient(#ffd87e,#ffd87e,#ffd87e,#ffd87e,#ffd87e,#ffd87e,#ffd87e,#ffd87e,#ffd87e,#ffd87e,#ffd87e,#ffd87e,#ffd87e,#ffd87e,#ffdd88,#ffe29a,#fbe6ad)"></i><i style="background:linear-gradient(#ffdc85,#ffdc85,#ffdc85,#ffdc85,#ffdc85,#ffdc85,#ffdc85,#ffdc85,#ffdc85,#ffdc85,#ffdc85,#ffdc85,#ffdc85,#ffdc85,#ffe094,#fce5aa,#f4e8c1)"></i><i style="background:linear-gradient(#ffe4a1,#ffe4a1,#ffe4a1,#ffe4a1,#ffe4a1,#ffe4a1,#ffe4a1,#ffe4a1,#ffe4a1,#ffe4a1,#ffe4a1,#ffe4a1,#ffe4a1,#ffe4a1,#f9e6b2,#f1eac6,#e7eed6)"></i><i style="background:linear-gradient(#f1eac7,#f1eac7,#f1eac7,#f1eac7,#f1eac7,#f1eac7,#f1eac7,#f1eac7,#f1eac7,#f1eac7,#f1eac7,#f1eac7,#f1eac7,#f1eac7,#ececcf,#def1e2,#d3f4f0)"></i><i style="background:linear-gradient(#dcf1e4,#dcf1e4,#dcf1e4,#dcf1e4,#dcf1e4,#dcf1e4,#dcf1e4,#dcf1e4,#dcf1e4,#dcf1e4,#dcf1e4,#dcf1e4,#dcf1e4,#dcf1e4,#d7f3eb,#d3f4f0,#cef5f6)"></i><i style="background:linear-gradient(#dcf1e4,#dcf1e4,#dcf1e4,#dcf1e4,#dcf1e4,#dcf1e4,#dcf1e4,#dcf1e4,#dcf1e4,#dcf1e4,#dcf1e4,#dcf1e4,#dcf1e4,#dcf1e4,#d7f3eb,#d2f4f1,#cef5f6)"></i><i style="background:linear-gradient(#eeebcb,#eeebcb,#eeebcb,#eeebcb,#eeebcb,#eeebcb,#eeebcb,#eeebcb,#eeebcb,#eeebcb,#eeebcb,#eeebcb,#eeebcb,#eeebcb,#e6eed7,#d7f3eb,#cdf5f7)"></i><i style="background:linear-gradient(#f6e8be,#f6e8be,#f6e8be,#f6e8be,#f6e8be,#f6e8be,#f6e8be,#f6e8be,#f6e8be,#f6e8be,#f6e8be,#f6e8be,#f6e8be,#f6e8be,#eeebcb,#dbf2e6,#cdf5f7)"></i><i style="background:linear-gradient(#fae6b0,#fae6b0,#fae6b0,#fae6b0,#fae6b0,#fae6b0,#fae6b0,#fae6b0,#fae6b0,#fae6b0,#fae6b0,#fae6b0,#fae6b0,#fae6b0,#f1eac6,#def1e2,#cdf5f7)"></i><i style="background:linear-gradient(#f7e7bb,#f7e7bb,#f7e7bb,#f7e7bb,#f7e7bb,#f7e7bb,#f7e7bb,#f7e7bb,#f7e7bb,#f7e7bb,#f7e7bb,#f7e7bb,#f7e7bb,#f7e7bb,#efebca,#dbf2e6,#ccf5f7)"></i><i style="background:linear-gradient(#ebecd0,#ebecd0,#ebecd0,#ebecd0,#ebecd0,#ebecd0,#ebecd0,#ebecd0,#ebecd0,#ebecd0,#ebecd0,#ebecd0,#ebecd0,#ebecd0,#e2efdd,#d5f4ee,#ccf5f7)"></i><i style="background:linear-gradient(#d7f3ec,#d7f3ec,#d7f3ec,#d7f3ec,#d7f3ec,#d7f3ec,#d7f3ec,#d7f3ec,#d7f3ec,#d7f3ec,#d7f3ec,#d7f3ec,#d7f3ec,#d7f3ec,#d4f4ef,#d0f4f3,#cbf4f7)"></i><i style="background:linear-gradient(#c2f1f6,#c2f1f6,#c2f1f6,#c2f1f6,#c2f1f6,#c2f1f6,#c2f1f6,#c2f1f6,#c2f1f6,#c2f1f6,#c2f1f6,#c2f1f6,#c2f1f6,#c2f1f6,#c4f2f6,#c6f3f6,#c8f3f6)"></i><i style="background:linear-gradient(#b1ecf3,#b1ecf3,#b1ecf3,#b1ecf3,#b1ecf3,#b1ecf3,#b1ecf3,#b1ecf3,#b1ecf3,#b1ecf3,#b1ecf3,#b1ecf3,#b1ecf3,#b1ecf3,#b5edf4,#bceff5,#c5f2f6)"></i><i style="background:linear-gradient(#b3edf4,#b3edf4,#b3edf4,#b3edf4,#b3edf4,#b3edf4,#b3edf4,#b3edf4,#b3edf4,#b3edf4,#b3edf4,#b3edf4,#b3edf4,#b3edf4,#b7eef5,#c1f1f6,#caf4f7)"></i><i style="background:linear-gradient(#c2f1f6,#c2f1f6,#c2f1f6,#c2f1f6,#c2f1f6,#c2f1f6,#c2f1f6,#c2f1f6,#c2f1f6,#c2f1f6,#c2f1f6,#c2f1f6,#c2f1f6,#c2f1f6,#c7f3f6,#cff5f5,#d3f4f0)"></i><i style="background:linear-gradient(#d2f4f1,#d2f4f1,#d2f4f1,#d2f4f1,#d2f4f1,#d2f4f1,#d2f4f1,#d2f4f1,#d2f4f1,#d2f4f1,#d2f4f1,#d2f4f1,#d2f4f1,#d2f4f1,#d6f3ed,#dcf2e5,#e4efda)"></i><i style="background:linear-gradient(#e1f0de,#e1f0de,#e1f0de,#e1f0de,#e1f0de,#e1f0de,#e1f0de,#e1f0de,#e2efdd,#e3efdb,#e4efda,#e5eed9,#e6eed7,#e6eed6,#eaecd1,#eeebcc,#f0eac7)"></i><i style="background:linear-gradient(#ececcf,#ececcf,#ececcf,#ececcf,#ececcf,#ececcf,#ececcf,#ececcf,#edebcd,#eeebcb,#f0eac9,#f1eac7,#f2e9c5,#f3e9c3,#f4e8c2,#f5e8c1,#f5e8bf)"></i><i style="background:linear-gradient(#edebcd,#edebcd,#edebcd,#edebcd,#edebcd,#edebcd,#edebcd,#eeebcc,#efeac9,#f1eac7,#f2e9c4,#f4e9c2,#f5e8bf,#f7e7bb,#f7e7b9,#f7e7b9,#f7e7b8)"></i><i style="background:linear-gradient(#edebcd,#edebcd,#edebcd,#edebcd,#edebcd,#edebcd,#edebcd,#eeebcc,#efeac9,#f1eac7,#f2e9c4,#f4e8c2,#f5e8bf,#f7e7ba,#f7e7b8,#f8e7b7,#f8e7b6)"></i><i style="background:linear-gradient(#edebcd,#edebcd,#edebcd,#edebcd,#edebcd,#edebcd,#edebcd,#eeebcc,#efeac9,#f1eac7,#f3e9c4,#f4e8c2,#f5e8bf,#f7e7ba,#f8e7b8,#f8e7b7,#f8e7b6)"></i><i style="background:linear-gradient(#edebcd,#edebcd,#edebcd,#edebcd,#edebcd,#edebcd,#edebcd,#eeebcc,#efeac9,#f1eac6,#f3e9c4,#f4e8c1,#f6e8be,#f7e7ba,#f8e7b8,#f8e7b7,#f8e7b6)"></i><i style="background:linear-gradient(#edebcd,#edebcd,#edebcd,#edebcd,#edebcd,#edebcd,#edebcd,#eeebcc,#f0eac9,#f1e9c6,#f3e9c3,#f5e8c1,#f6e8bd,#f7e7b9,#f8e7b8,#f8e7b7,#f8e7b6)"></i><i style="background:linear-gradient(#edebcd,#edebcd,#edebcd,#edebcd,#edebcd,#edebcd,#edebcd,#eeebcc,#f0eac8,#f2e9c4,#f5e8c0,#f6e8be,#f7e7bb,#f7e7b8,#f8e7b7,#f8e7b7,#f8e7b6)"></i><i style="background:linear-gradient(#edebcd,#edebcd,#edebcd,#edebcd,#edebcd,#edebcd,#edebcd,#eeebcb,#f1eac7,#f4e8c2,#f7e7bb,#f7e7ba,#f7e7b9,#f8e7b8,#f8e7b7,#f8e7b7,#f8e7b6)"></i><i style="background:linear-gradient(#edebcd,#edebcd,#edebcd,#edebcd,#edebcd,#edebcd,#edebcd,#eeebcb,#f1e9c6,#f5e8c1,#f8e7b7,#f8e7b7,#f8e7b7,#f8e7b7,#f8e7b7,#f8e7b7,#f8e7b6)"></i><i style="background:linear-gradient(#edebcd,#edebcd,#edebcd,#edebcd,#edebcd,#edebcd,#edebcc,#eeebcb,#f2e9c5,#f5e8c0,#f8e7b6,#f8e7b6,#f8e7b7,#f8e7b7,#f8e7b7,#f8e7b6,#f8e7b6)"></i><i style="background:linear-gradient(#edebcd,#edebcd,#edebcd,#edebcc,#eeebcc,#eeebcb,#efebca,#f0eac8,#f3e9c4,#f5e8bf,#f8e7b6,#f8e7b6,#f8e7b6,#f8e7b6,#f8e7b6,#f8e7b6,#f8e7b6)"></i><i style="background:linear-gradient(#edebcd,#edebcd,#edebcd,#eeebcb,#efeac9,#f0eac7,#f2e9c5,#f3e9c3,#f5e8c0,#f6e7bc,#f8e7b6,#f8e7b6,#f8e7b6,#f8e7b5,#f8e7b6,#f8e7b6,#f8e7b6)"></i><i style="background:linear-gradient(#efeac9,#efeac9,#efeac9,#f0eac8,#f2e9c5,#f3e9c3,#f5e8c0,#f6e8bc,#f7e7ba,#f7e7b8,#f8e7b6,#f8e7b6,#f8e7b5,#f9e7b4,#f9e7b5,#f8e7b6,#f8e7b6)"></i><i style="background:linear-gradient(#f4e8c2,#f4e8c2,#f4e8c2,#f4e8c1,#f5e8bf,#f6e8bd,#f7e7bb,#f7e7b9,#f7e7b8,#f8e7b7,#f8e7b6,#f8e7b5,#f9e7b5,#f9e6b4,#f9e7b4,#f8e7b5,#f8e7b6)"></i><i style="background:linear-gradient(#f7e7ba,#f7e7ba,#f7e7ba,#f7e7ba,#f7e7b9,#f7e7b9,#f7e7b9,#f7e7b8,#f8e7b8,#f8e7b7,#f8e7b6,#f8e7b5,#f9e6b4,#f9e6b3,#f9e6b3,#f8e7b5,#f8e7b6)"></i><i style="background:linear-gradient(#f7e7b9,#f7e7b9,#f7e7b9,#f7e7b8,#f7e7b8,#f7e7b8,#f7e7b8,#f8e7b8,#f8e7b7,#f8e7b7,#f8e7b6,#f8e7b5,#f9e6b3,#f9e6b2,#f9e6b3,#f9e7b5,#f8e7b6)"></i><i style="background:linear-gradient(#f8e7b8,#f8e7b8,#f8e7b8,#f8e7b8,#f8e7b8,#f8e7b8,#f8e7b8,#f8e7b7,#f8e7b7,#f8e7b7,#f8e7b6,#f9e7b5,#f9e6b3,#fae6b1,#f9e6b2,#f9e7b4,#f8e7b6)"></i><i style="background:linear-gradient(#f8e7b7,#f8e7b7,#f8e7b7,#f8e7b7,#f8e7b7,#f8e7b7,#f8e7b7,#f8e7b7,#f8e7b6,#f9e7b4,#f9e6b3,#f9e6b2,#fae6b0,#fbe6ae,#fae6b0,#f9e6b3,#f8e7b6)"></i><i style="background:linear-gradient(#f8e7b5,#f8e7b5,#f8e7b5,#f9e7b4,#f9e6b3,#f9e6b2,#fae6b1,#fae6af,#fbe6ac,#fce5a9,#fde5a6,#fde5a7,#fce5a8,#fce5a9,#fbe6ac,#fae6b1,#f8e7b6)"></i><i style="background:linear-gradient(#fce5a9,#fce5a9,#fce5a9,#fde5a7,#fee5a5,#fee4a2,#ffe4a0,#ffe39d,#ffe39b,#ffe299,#ffe196,#ffe29a,#ffe39d,#ffe4a1,#fde5a7,#fae6af,#f8e7b6)"></i><i style="background:linear-gradient(#ffe299,#ffe299,#ffe299,#ffe197,#ffe195,#ffe092,#ffdf90,#ffdf8e,#ffdf8e,#ffdf8e,#ffdf8d,#ffe091,#ffe094,#ffe197,#ffe49f,#fce5ab,#f8e7b6)"></i><i style="background:linear-gradient(#ffe092,#ffe092,#ffe092,#ffdf90,#ffdf8d,#ffde8b,#ffdd88,#ffdd87,#ffdd88,#ffde89,#ffde8b,#ffde8c,#ffdf8d,#ffdf8e,#ffe298,#fde5a7,#f8e7b6)"></i><i style="background:linear-gradient(#ffe092,#ffe092,#ffe092,#ffdf90,#ffde8d,#ffde89,#ffdd86,#ffdc85,#ffdd86,#ffdd88,#ffde8a,#ffde8a,#ffde8a,#ffde8a,#ffe194,#fee5a5,#f8e7b6)"></i><i style="background:linear-gradient(#ffe092,#ffe092,#ffe092,#ffdf90,#ffde8d,#ffde89,#ffdd86,#ffdc85,#ffdd86,#ffdd88,#ffde8a,#ffdd89,#ffdd88,#ffdd88,#ffe093,#fee4a4,#f8e7b6)"></i><i style="background:linear-gradient(#ffe092,#ffe092,#ffe092,#ffdf90,#ffde8d,#ffde89,#ffdd86,#ffdc85,#ffdd86,#ffdd88,#ffde8a,#ffdd88,#ffdd87,#ffdd86,#ffe091,#fee4a2,#f8e7b5)"></i><i style="background:linear-gradient(#ffe092,#ffe092,#ffe092,#ffdf90,#ffde8d,#ffde89,#ffdd86,#ffdc85,#ffdd86,#ffdd88,#ffde8a,#ffdd88,#ffdd86,#ffdc85,#ffdf8f,#ffe49f,#fae6b2)"></i><i style="background:linear-gradient(#ffe092,#ffe092,#ffe092,#ffdf90,#ffde8d,#ffde89,#ffdd86,#ffdc85,#ffdd86,#ffdd88,#ffde8a,#ffdd88,#ffdd86,#ffdc85,#ffdf8d,#ffe39c,#fce5ab)"></i><i style="background:linear-gradient(#ffe092,#ffe092,#ffe092,#ffdf90,#ffde8c,#ffdd89,#ffdd86,#ffdc84,#ffdd86,#ffdd88,#ffde89,#ffdd88,#ffdd86,#ffdc85,#ffde8c,#ffe297,#fee4a3)"></i><i style="background:linear-gradient(#ffe092,#ffe092,#ffe092,#ffdf8f,#ffde8c,#ffdd88,#ffdc84,#ffdb83,#ffdc84,#ffdc85,#ffdd87,#ffdd86,#ffdc85,#ffdc84,#ffde8a,#ffe093,#ffe39c)"></i><i style="background:linear-gradient(#ffe092,#ffe092,#ffe092,#ffdf8f,#ffde8a,#ffdc85,#ffda81,#ffd97f,#ffda80,#ffdb82,#ffdb83,#ffdb83,#ffdc83,#ffdc84,#ffdd88,#ffdf8e,#ffe194)"></i><i style="background:linear-gradient(#ffe092,#ffe092,#ffe092,#ffdf8e,#ffdd87,#ffdb82,#ffd87d,#ffd67b,#ffd77c,#ffd87d,#ffd97e,#ffda80,#ffdb82,#ffdc83,#ffdd87,#ffde8a,#ffdf8e)"></i><i style="background:linear-gradient(#ffe092,#ffe092,#ffe092,#ffdf8d,#ffdc85,#ffd97f,#ffd67a,#ffd476,#ffd477,#ffd579,#ffd67a,#ffd87d,#ffda80,#ffdb83,#ffdd86,#ffdd88,#ffde8b)"></i><i style="background:linear-gradient(#ffe092,#ffe091,#ffdf90,#ffde8a,#ffdb82,#ffd77c,#ffd476,#ffd273,#ffd274,#ffd375,#ffd476,#ffd67a,#ffd97e,#ffdb83,#ffdc85,#ffdd87,#ffde8a)"></i><i style="background:linear-gradient(#ffe092,#ffdf8e,#ffde8a,#ffdc84,#ffd97e,#ffd579,#ffd274,#ffd071,#ffd172,#ffd273,#ffd374,#ffd579,#ffd87e,#ffdb82,#ffdc85,#ffdd87,#ffdd88)"></i><i style="background:linear-gradient(#ffe091,#ffdd89,#ffdb82,#ffd87e,#ffd67a,#ffd476,#ffd172,#ffd070,#ffd172,#ffd273,#ffd274,#ffd579,#ffd87e,#ffdb82,#ffdc85,#ffdc86,#ffdd87)"></i><i style="background:linear-gradient(#ffe090,#ffdc86,#ffd87d,#ffd679,#ffd477,#ffd374,#ffd172,#ffd070,#ffd172,#ffd273,#ffd274,#ffd579,#ffd87e,#ffdb82,#ffdc84,#ffdc85,#ffdc85)"></i><i style="background:linear-gradient(#ffdf90,#ffdc84,#ffd77c,#ffd578,#ffd376,#ffd274,#ffd171,#ffd070,#ffd172,#ffd273,#ffd274,#ffd579,#ffd87e,#ffdb82,#ffdc84,#ffdc84,#ffdc84)"></i><i style="background:linear-gradient(#ffdf8f,#ffdc84,#ffd77b,#ffd477,#ffd375,#ffd273,#ffd171,#ffd070,#ffd172,#ffd273,#ffd274,#ffd579,#ffd87e,#ffdb82,#ffdc84,#ffdc84,#ffdc84)"></i><i style="background:linear-gradient(#ffdf8e,#ffdb83,#ffd67b,#ffd477,#ffd375,#ffd273,#ffd171,#ffd070,#ffd172,#ffd273,#ffd274,#ffd579,#ffd87e,#ffdb82,#ffdc84,#ffdc84,#ffdc84)"></i><i style="background:linear-gradient(#ffdf8e,#ffdb83,#ffd67a,#ffd476,#ffd375,#ffd273,#ffd171,#ffd070,#ffd172,#ffd273,#ffd274,#ffd579,#ffd87e,#ffdb82,#ffdc84,#ffdc84,#ffdc84)"></i><i style="background:linear-gradient(#ffdf8d,#ffdb82,#ffd67a,#ffd376,#ffd374,#ffd273,#ffd171,#ffd070,#ffd172,#ffd273,#ffd274,#ffd579,#ffd87e,#ffdb82,#ffdc84,#ffdc84,#ffdc84)"></i><i style="background:linear-gradient(#ffde8c,#ffdb82,#ffd679,#ffd375,#ffd274,#ffd172,#ffd171,#ffd070,#ffd172,#ffd273,#ffd374,#ffd579,#ffd87e,#ffdb82,#ffdc84,#ffdc84,#ffdc84)"></i><i style="background:linear-gradient(#ffde8b,#ffda81,#ffd679,#ffd476,#ffd374,#ffd273,#ffd171,#ffd070,#ffd172,#ffd273,#ffd375,#ffd679,#ffd87e,#ffdb82,#ffdc84,#ffdc84,#ffdc84)"></i><i style="background:linear-gradient(#ffdd88,#ffda81,#ffd67a,#ffd477,#ffd375,#ffd273,#ffd171,#ffd071,#ffd172,#ffd374,#ffd476,#ffd67a,#ffd97e,#ffdb83,#ffdc84,#ffdc84,#ffdc84)"></i><i style="background:linear-gradient(#ffdc85,#ffd980,#ffd67a,#ffd477,#ffd375,#ffd273,#ffd171,#ffd171,#ffd273,#ffd376,#ffd578,#ffd77b,#ffd97f,#ffdb83,#ffdc84,#ffdc84,#ffdc84)"></i><i style="background:linear-gradient(#ffda80,#ffd87d,#ffd67a,#ffd477,#ffd376,#ffd374,#ffd273,#ffd172,#ffd375,#ffd578,#ffd67a,#ffd77c,#ffd97f,#ffda81,#ffdb82,#ffdb82,#ffda81)"></i><i style="background:linear-gradient(#ffd579,#ffd477,#ffd476,#ffd375,#ffd375,#ffd374,#ffd274,#ffd374,#ffd477,#ffd578,#ffd67a,#ffd77b,#ffd77c,#ffd87d,#ffd87d,#ffd87d,#ffd77c)"></i><i style="background:linear-gradient(#ffce6e,#ffce6e,#ffce6e,#ffcf6f,#ffcf6f,#ffcf6f,#ffd070,#ffd070,#ffd171,#ffd172,#ffd273,#ffd374,#ffd375,#ffd476,#ffd477,#ffd477,#ffd578)"></i><i style="background:linear-gradient(#ffc767,#ffc868,#ffc868,#ffc969,#ffc969,#ffca6a,#ffca6a,#ffcb6b,#ffcb6b,#ffcc6c,#ffcd6d,#ffce6e,#ffcf6f,#ffd070,#ffd172,#ffd274,#ffd476)"></i><i style="background:linear-gradient(#ffbe5e,#ffbf60,#ffc161,#ffc263,#ffc464,#ffc565,#ffc767,#ffc767,#ffc868,#ffc969,#ffcb6b,#ffcc6c,#ffcd6d,#ffcf6f,#ffd070,#ffd172,#ffd375)"></i><i style="background:linear-gradient(#ffb355,#ffb456,#ffb759,#ffba5b,#ffbd5e,#ffc061,#ffc363,#ffc666,#ffc868,#ffc969,#ffca6a,#ffcb6b,#ffcc6c,#ffcd6d,#ffcd6d,#ffce6e,#ffcf6f)"></i><i style="background:linear-gradient(#ffae52,#ffb053,#ffb254,#ffb355,#ffb658,#ffb95b,#ffbd5e,#ffc061,#ffc464,#ffc666,#ffc767,#ffc767,#ffc868,#ffc969,#ffca6a,#ffca6a,#ffcb6b)"></i><i style="background:linear-gradient(#ffad51,#ffae52,#ffb053,#ffb154,#ffb255,#ffb456,#ffb658,#ffb95b,#ffbc5d,#ffbe5f,#ffc061,#ffc263,#ffc464,#ffc666,#ffc767,#ffc868,#ffc969)"></i><i style="background:linear-gradient(#ffad51,#ffae51,#ffaf52,#ffb053,#ffb154,#ffb355,#ffb456,#ffb658,#ffb95a,#ffbb5c,#ffbd5e,#ffc060,#ffc262,#ffc465,#ffc666,#ffc868,#ffc969)"></i><i style="background:linear-gradient(#ffad50,#ffae51,#ffaf52,#ffb053,#ffb154,#ffb255,#ffb456,#ffb658,#ffb95a,#ffbb5c,#ffbd5e,#ffc060,#ffc262,#ffc465,#ffc666,#ffc868,#ffc969)"></i><i style="background:linear-gradient(#ffac50,#ffae51,#ffaf52,#ffb153,#ffb255,#ffb456,#ffb658,#ffb95b,#ffbd5e,#ffbf60,#ffc161,#ffc363,#ffc464,#ffc666,#ffc767,#ffc868,#ffc969)"></i><i style="background:linear-gradient(#ffae52,#ffb053,#ffb254,#ffb355,#ffb658,#ffba5b,#ffbe5f,#ffc262,#ffc565,#ffc767,#ffc767,#ffc868,#ffc868,#ffc969,#ffc969,#ffca6a,#ffca6a)"></i><i style="background:linear-gradient(#ffb355,#ffb557,#ffb85a,#ffbb5c,#ffbe5f,#ffc162,#ffc464,#ffc767,#ffc868,#ffc969,#ffca6a,#ffcb6b,#ffcb6b,#ffcc6c,#ffcd6d,#ffcd6d,#ffce6e)"></i><i style="background:linear-gradient(#ffba5b,#ffbc5d,#ffbe5f,#ffc061,#ffc263,#ffc465,#ffc666,#ffc767,#ffc969,#ffca6a,#ffcb6b,#ffcc6c,#ffcd6d,#ffce6e,#ffcf6f,#ffd171,#ffd274)"></i><i style="background:linear-gradient(#ffbc5d,#ffbe5f,#ffc061,#ffc262,#ffc464,#ffc666,#ffc767,#ffc868,#ffca6a,#ffcb6b,#ffcc6c,#ffcd6d,#ffcf6f,#ffd070,#ffd172,#ffd375,#ffd477)"></i><i style="background:linear-gradient(#ffc061,#ffc263,#ffc565,#ffc767,#ffc868,#ffc969,#ffcb6b,#ffcc6c,#ffcd6d,#ffcf6f,#ffd070,#ffd172,#ffd375,#ffd477,#ffd679,#ffd77c,#ffd97e)"></i><i style="background:linear-gradient(#ffc666,#ffc868,#ffc969,#ffcb6b,#ffcc6c,#ffce6e,#ffcf6f,#ffd171,#ffd374,#ffd477,#ffd67a,#ffd77c,#ffd97f,#ffda81,#ffdc84,#ffdd88,#ffde8b)"></i><i style="background:linear-gradient(#ffc868,#ffca6a,#ffcb6b,#ffcc6c,#ffcd6d,#ffce6e,#ffd070,#ffd172,#ffd274,#ffd477,#ffd67a,#ffd87d,#ffd980,#ffdb83,#ffdd86,#ffde8a,#ffdf8f)"></i><i style="background:linear-gradient(#ffc969,#ffca6a,#ffca6a,#ffcb6b,#ffcc6c,#ffcc6c,#ffcd6d,#ffce6e,#ffce6e,#ffd070,#ffd273,#ffd376,#ffd579,#ffd77c,#ffd97f,#ffdb82,#ffdc85)"></i><i style="background:linear-gradient(#ffcb6b,#ffcb6b,#ffcb6b,#ffcc6c,#ffcc6c,#ffcc6c,#ffcc6c,#ffcd6d,#ffcd6d,#ffce6e,#ffcf6f,#ffd171,#ffd374,#ffd477,#ffd67a,#ffd87d,#ffd980)"></i><i style="background:linear-gradient(#ffce6e,#ffce6e,#ffce6e,#ffce6e,#ffce6e,#ffce6e,#ffcd6d,#ffcd6d,#ffcd6d,#ffce6e,#ffcf6f,#ffd171,#ffd274,#ffd476,#ffd579,#ffd77b,#ffd87e)"></i><i style="background:linear-gradient(#ffd375,#ffd375,#ffd274,#ffd273,#ffd172,#ffd172,#ffd171,#ffd070,#ffd070,#ffd071,#ffd273,#ffd374,#ffd476,#ffd578,#ffd67a,#ffd77c,#ffd87e)"></i><i style="background:linear-gradient(#ffda81,#ffda81,#ffda80,#ffd980,#ffd97f,#ffd97f,#ffd97f,#ffd97e,#ffd87e,#ffd87e,#ffd97f,#ffd97f,#ffd980,#ffda80,#ffda81,#ffda81,#ffdb82)"></i><i style="background:linear-gradient(#ffdf8e,#ffdf8e,#ffdf8d,#ffdf8d,#ffdf8d,#ffdf8d,#ffdf8d,#ffdf8d,#ffdf8d,#ffdf8d,#ffdf8d,#ffde8d,#ffde8d,#ffde8d,#ffde8d,#ffde8c,#ffde8c)"></i><i style="background:#ffe092"></i><i style="background:#ffe092"></i><i style="background:#ffe092"></i><i style="background:linear-gradient(#ffe092,#ffe092,#ffe091,#ffe091,#ffe091,#ffe090,#ffdf90,#ffdf90,#ffdf8f,#ffdf8f,#ffdf90,#ffdf90,#ffe091,#ffe091,#ffe091,#ffe092,#ffe092)"></i><i style="background:linear-gradient(#ffe092,#ffe090,#ffdf8f,#ffdf8d,#ffde8b,#ffde8a,#ffdd88,#ffdd86,#ffdc85,#ffdc85,#ffdd87,#ffdd89,#ffde8b,#ffde8d,#ffdf8e,#ffdf90,#ffe092)"></i><i style="background:linear-gradient(#ffdf8d,#ffde8a,#ffdd88,#ffdc85,#ffdb83,#ffda81,#ffd97f,#ffd87d,#ffd67b,#ffd77c,#ffd97e,#ffda81,#ffdc84,#ffdd87,#ffde8b,#ffdf8e,#ffe092)"></i><i style="background:linear-gradient(#ffd97f,#ffd87e,#ffd87d,#ffd77c,#ffd67b,#ffd67a,#ffd579,#ffd477,#ffd476,#ffd578,#ffd77b,#ffd97e,#ffda81,#ffdc85,#ffdd89,#ffdf8e,#ffe092)"></i><i style="background:linear-gradient(#ffd172,#ffd273,#ffd273,#ffd274,#ffd274,#ffd375,#ffd375,#ffd375,#ffd476,#ffd578,#ffd77b,#ffd97e,#ffda81,#ffdc85,#ffdd89,#ffdf8e,#ffe092)"></i><i style="background:linear-gradient(#ffcf6f,#ffcf6f,#ffd070,#ffd071,#ffd172,#ffd273,#ffd274,#ffd375,#ffd376,#ffd578,#ffd77b,#ffd97e,#ffda81,#ffdc85,#ffdd89,#ffdf8e,#ffe092)"></i><i style="background:linear-gradient(#ffcf6f,#ffcf6f,#ffd070,#ffd070,#ffd171,#ffd172,#ffd274,#ffd375,#ffd376,#ffd578,#ffd77b,#ffd97e,#ffda81,#ffdc85,#ffdd89,#ffdf8e,#ffe092)"></i><i style="background:linear-gradient(#ffce6e,#ffcf6f,#ffcf6f,#ffd070,#ffd171,#ffd172,#ffd273,#ffd375,#ffd376,#ffd578,#ffd67b,#ffd87d,#ffda80,#ffdb83,#ffdd87,#ffde8b,#ffdf8e)"></i><i style="background:linear-gradient(#ffce6e,#ffcf6f,#ffcf6f,#ffd070,#ffd171,#ffd172,#ffd273,#ffd374,#ffd376,#ffd477,#ffd67a,#ffd77c,#ffd87e,#ffda80,#ffdb82,#ffdc85,#ffdd88)"></i><i style="background:linear-gradient(#ffce6e,#ffcf6f,#ffcf6f,#ffd070,#ffd071,#ffd172,#ffd273,#ffd374,#ffd376,#ffd477,#ffd579,#ffd77b,#ffd87d,#ffd97f,#ffda80,#ffdb82,#ffdc84)"></i><i style="background:linear-gradient(#ffce6e,#ffce6e,#ffcf6f,#ffd070,#ffd071,#ffd172,#ffd273,#ffd374,#ffd376,#ffd477,#ffd579,#ffd77b,#ffd87d,#ffd97f,#ffda80,#ffdb82,#ffdc84)"></i><i style="background:linear-gradient(#ffce6e,#ffce6e,#ffcf6f,#ffd070,#ffd070,#ffd172,#ffd273,#ffd374,#ffd376,#ffd477,#ffd579,#ffd77b,#ffd87d,#ffd97f,#ffda80,#ffdb82,#ffdc84)"></i><i style="background:linear-gradient(#ffcd6d,#ffce6e,#ffcf6f,#ffd171,#ffd273,#ffd375,#ffd477,#ffd679,#ffd77b,#ffd87d,#ffd87e,#ffd97f,#ffd980,#ffda81,#ffdb82,#ffdb83,#ffdc84)"></i><i style="background:linear-gradient(#ffcd6d,#ffcf6f,#ffd172,#ffd375,#ffd579,#ffd77c,#ffda80,#ffdc83,#ffdd88,#ffdd89,#ffdd88,#ffdd88,#ffdd87,#ffdd86,#ffdc86,#ffdc85,#ffdc84)"></i><i style="background:linear-gradient(#ffd374,#ffd477,#ffd67a,#ffd87e,#ffda81,#ffdc84,#ffdd88,#ffde8c,#ffe091,#ffe091,#ffdf90,#ffdf8e,#ffdf8d,#ffde8c,#ffde8b,#ffdd89,#ffdd88)"></i><i style="background:linear-gradient(#ffdd86,#ffdd88,#ffdd89,#ffde8a,#ffde8c,#ffdf8d,#ffdf8f,#ffdf90,#ffe092,#ffe092,#ffe091,#ffe091,#ffe090,#ffdf90,#ffdf90,#ffdf8f,#ffdf8f)"></i><i style="background:#ffe092"></i><i style="background:#ffe092"></i><i style="background:#ffe092"></i><i style="background:#ffe092"></i><i style="background:linear-gradient(#ffdf8e,#ffdf8f,#ffdf8f,#ffdf90,#ffdf90,#ffe091,#ffe091,#ffe091,#ffe092,#ffe092,#ffe092,#ffe092,#ffe092,#ffe092,#ffe092,#ffe092,#ffe092)"></i><i style="background:linear-gradient(#ffda81,#ffdb83,#ffdc84,#ffdd86,#ffdd89,#ffde8b,#ffdf8d,#ffdf8f,#ffe091,#ffe092,#ffe092,#ffe092,#ffe092,#ffe092,#ffe092,#ffe092,#ffe092)"></i><i style="background:linear-gradient(#ffd374,#ffd477,#ffd679,#ffd77c,#ffd97f,#ffda81,#ffdc84,#ffdd87,#ffde8b,#ffdf8d,#ffdf8e,#ffdf8e,#ffdf8f,#ffdf90,#ffe091,#ffe091,#ffe092)"></i><i style="background:linear-gradient(#ffcc6c,#ffcd6d,#ffce6e,#ffcf6f,#ffd172,#ffd374,#ffd477,#ffd679,#ffd77c,#ffd87e,#ffd97f,#ffda81,#ffdb83,#ffdc84,#ffdd86,#ffdd89,#ffde8b)"></i><i style="background:linear-gradient(#ffc162,#ffc464,#ffc666,#ffc868,#ffc969,#ffcb6b,#ffcc6c,#ffce6e,#ffcf6f,#ffd070,#ffd172,#ffd274,#ffd476,#ffd578,#ffd67a,#ffd77c,#ffd87e)"></i><i style="background:linear-gradient(#ffb85a,#ffbb5c,#ffbe5f,#ffc262,#ffc565,#ffc767,#ffc969,#ffcb6b,#ffcc6c,#ffce6e,#ffce6e,#ffcf6f,#ffd070,#ffd172,#ffd273,#ffd375,#ffd477)"></i><i style="background:linear-gradient(#ffb658,#ffba5b,#ffbd5e,#ffc061,#ffc464,#ffc767,#ffc969,#ffca6a,#ffcc6c,#ffce6e,#ffce6e,#ffcf6f,#ffd070,#ffd171,#ffd273,#ffd374,#ffd476)"></i><i style="background:linear-gradient(#ffb557,#ffb95a,#ffbc5e,#ffc061,#ffc364,#ffc767,#ffc868,#ffca6a,#ffcc6c,#ffce6e,#ffce6e,#ffcf6f,#ffd070,#ffd171,#ffd273,#ffd374,#ffd476)"></i><i style="background:linear-gradient(#ffb557,#ffb85a,#ffbc5d,#ffc060,#ffc363,#ffc666,#ffc868,#ffca6a,#ffcc6c,#ffce6e,#ffce6e,#ffcf6f,#ffd070,#ffd171,#ffd273,#ffd374,#ffd476)"></i><i style="background:linear-gradient(#ffb456,#ffb859,#ffbb5d,#ffbf60,#ffc363,#ffc666,#ffc868,#ffca6a,#ffcc6c,#ffcd6d,#ffce6e,#ffcf6f,#ffd070,#ffd171,#ffd273,#ffd374,#ffd476)"></i><i style="background:linear-gradient(#ffb456,#ffb658,#ffb95a,#ffbc5d,#ffbe5f,#ffc162,#ffc464,#ffc666,#ffc868,#ffc969,#ffcb6b,#ffcc6c,#ffce6e,#ffcf6f,#ffd071,#ffd273,#ffd476)"></i><i style="background:linear-gradient(#ffb254,#ffb255,#ffb355,#ffb456,#ffb557,#ffb658,#ffb859,#ffb95b,#ffbb5c,#ffbe5f,#ffc363,#ffc767,#ffc969,#ffcc6c,#ffce6e,#ffd171,#ffd476)"></i><i style="background:linear-gradient(#ffae51,#ffaf52,#ffaf53,#ffb053,#ffb154,#ffb154,#ffb255,#ffb355,#ffb356,#ffb758,#ffbc5d,#ffc162,#ffc666,#ffc969,#ffcc6c,#ffcf6f,#ffd273)"></i><i style="background:linear-gradient(#ffac50,#ffad51,#ffae52,#ffaf52,#ffb053,#ffb254,#ffb355,#ffb456,#ffb658,#ffb95b,#ffbd5e,#ffc162,#ffc565,#ffc868,#ffca6a,#ffcc6c,#ffce6e)"></i><i style="background:linear-gradient(#ffb153,#ffb254,#ffb355,#ffb557,#ffb85a,#ffbb5c,#ffbe5f,#ffc162,#ffc464,#ffc666,#ffc767,#ffc767,#ffc868,#ffc969,#ffc969,#ffca6a,#ffcb6b)"></i><i style="background:linear-gradient(#ffc566,#ffc767,#ffc969,#ffcb6b,#ffcd6d,#ffcf6f,#ffd071,#ffd374,#ffd578,#ffd578,#ffd578,#ffd477,#ffd476,#ffd375,#ffd375,#ffd274,#ffd273)"></i><i style="background:linear-gradient(#ffda80,#ffdc83,#ffdd87,#ffde8b,#ffdf90,#ffe194,#ffe298,#ffe39d,#ffe4a1,#fee4a2,#ffe4a1,#ffe4a0,#ffe49f,#ffe39e,#ffe39d,#ffe39c,#ffe39b)"></i><i style="background:linear-gradient(#fae6b0,#f9e6b2,#f9e7b4,#f8e7b6,#f8e7b8,#f7e7ba,#f6e7bc,#f6e8be,#f5e8c0,#f5e8c0,#f5e8c0,#f5e8c0,#f5e8c0,#f5e8c0,#f5e8c0,#f5e8bf,#f5e8bf)"></i><i style="background:linear-gradient(#f6e7bc,#f7e7bb,#f7e7ba,#f7e7ba,#f7e7b9,#f7e7b8,#f8e7b7,#f8e7b7,#f8e7b6,#f8e7b7,#f8e7b8,#f7e7b9,#f7e7ba,#f6e7bc,#f6e8bd,#f5e8be,#f5e8c0)"></i><i style="background:linear-gradient(#ffe196,#ffe194,#ffe092,#ffdf90,#ffdf8e,#ffde8d,#ffde8b,#ffdd89,#ffdd87,#ffdd89,#ffde8c,#ffdf8f,#ffe092,#ffe195,#ffe298,#ffe39b,#ffe49e)"></i><i style="background:linear-gradient(#ffca6a,#ffca6a,#ffc969,#ffc969,#ffc868,#ffc868,#ffc767,#ffc767,#ffc666,#ffc767,#ffc969,#ffca6a,#ffcb6b,#ffcd6d,#ffce6e,#ffcf6f,#ffd171)"></i><i style="background:linear-gradient(#ffac50,#ffad50,#ffad50,#ffad51,#ffad51,#ffad51,#ffad51,#ffae51,#ffad51,#ffae52,#ffb053,#ffb254,#ffb456,#ffb758,#ffb85a,#ffb95b,#ffba5c)"></i><i style="background:linear-gradient(#ff8e3c,#ff8e3d,#ff8f3d,#ff8f3d,#ff903d,#ff913d,#ff923e,#ff933e,#ff943f,#ff9840,#ff9c43,#ffa449,#ffab4f,#ffae52,#ffaf52,#ffae52,#ffae51)"></i><i style="background:linear-gradient(#ff8238,#ff8238,#ff8238,#ff8238,#ff8138,#ff7f37,#ff7e37,#ff7e37,#ff8037,#ff8338,#ff873a,#ff913d,#ff9a42,#ffa349,#ffa54a,#ffa349,#ffa147)"></i><i style="background:linear-gradient(#ff7e37,#ff7e37,#ff7e37,#ff7e37,#ff7c37,#ff7836,#ff7535,#ff7335,#ff7435,#ff7736,#ff7c37,#ff8238,#ff8a3b,#ff923e,#ff953f,#ff9740,#ff9941)"></i><i style="background:linear-gradient(#ff7535,#ff7535,#ff7535,#ff7535,#ff7435,#ff7234,#ff7034,#ff6f34,#ff6f34,#ff7335,#ff7936,#ff7e37,#ff8238,#ff883a,#ff8d3c,#ff933e,#ff9840)"></i><i style="background:linear-gradient(#ff622f,#ff622f,#ff622f,#ff622f,#ff6430,#ff6630,#ff6831,#ff6a32,#ff6e33,#ff7435,#ff7b36,#ff7f37,#ff8338,#ff883a,#ff8e3c,#ff953f,#ff9b43)"></i><i style="background:linear-gradient(#ff572b,#ff572b,#ff572b,#ff572b,#ff592c,#ff5b2c,#ff5d2d,#ff622f,#ff6c33,#ff7635,#ff8038,#ff8439,#ff893a,#ff8d3c,#ff943e,#ff9b43,#ffa248)"></i><i style="background:linear-gradient(#ff532a,#ff532a,#ff542a,#ff542a,#ff552b,#ff572b,#ff582c,#ff5f2e,#ff7134,#ff7b36,#ff8238,#ff883a,#ff8e3c,#ff933e,#ff9a41,#ffa046,#ffa64b)"></i><i style="background:linear-gradient(#ff4426,#ff4627,#ff4927,#ff4c28,#ff5029,#ff532a,#ff572b,#ff612f,#ff7836,#ff8038,#ff8238,#ff893a,#ff8f3d,#ff963f,#ff9c43,#ffa147,#ffa64b)"></i><i style="background:linear-gradient(#ff161e,#ff2120,#ff2d22,#ff4126,#ff4a28,#ff5029,#ff562b,#ff622f,#ff7b36,#ff8238,#ff8238,#ff893a,#ff903d,#ff963f,#ff9c43,#ffa148,#ffa74c)"></i><i style="background:linear-gradient(#ff0017,#ff0a1b,#ff181f,#ff3724,#ff4927,#ff522a,#ff5b2c,#ff6831,#ff7c37,#ff8338,#ff8238,#ff8a3b,#ff923e,#ff9a42,#ffa046,#ffa54a,#ffaa4e)"></i><i style="background:linear-gradient(#ff0012,#ff0018,#ff121d,#ff3423,#ff4b28,#ff572b,#ff632f,#ff7134,#ff7f37,#ff8338,#ff8238,#ff8c3c,#ff9740,#ffa046,#ffa64b,#ffaa4f,#ffad51)"></i><i style="background:linear-gradient(#ff0010,#ff0017,#ff101c,#ff3323,#ff4c28,#ff5a2c,#ff6831,#ff7435,#ff8037,#ff8439,#ff8539,#ff903d,#ff9a42,#ffa349,#ffa94e,#ffac50,#ffae51)"></i><i style="background:linear-gradient(#ff0010,#ff0017,#ff131d,#ff3423,#ff4c28,#ff5a2c,#ff6831,#ff7535,#ff8038,#ff873a,#ff8a3b,#ff933e,#ff9c43,#ffa44a,#ffa94e,#ffac50,#ffae51)"></i><i style="background:linear-gradient(#ff0014,#ff0a1b,#ff2120,#ff4125,#ff5029,#ff5e2d,#ff6b32,#ff7635,#ff8138,#ff883a,#ff8d3c,#ff953f,#ff9d44,#ffa54a,#ffaa4e,#ffac50,#ffae51)"></i><i style="background:linear-gradient(#ff1b1f,#ff3223,#ff4627,#ff522a,#ff5d2d,#ff6731,#ff7134,#ff7936,#ff8238,#ff883a,#ff8d3c,#ff963f,#ff9e45,#ffa64b,#ffaa4e,#ffac50,#ffae51)"></i><i style="background:linear-gradient(#ff4c28,#ff532a,#ff5a2c,#ff622f,#ff6932,#ff7034,#ff7535,#ff7b36,#ff8238,#ff883a,#ff8d3c,#ff963f,#ff9e45,#ffa64b,#ffaa4f,#ffac50,#ffae51)"></i><i style="background:linear-gradient(#ff592c,#ff5e2d,#ff622f,#ff6b32,#ff7134,#ff7435,#ff7736,#ff7b37,#ff8338,#ff893a,#ff8d3c,#ff963f,#ff9e45,#ffa64c,#ffab4f,#ffad50,#ffae51)"></i><i style="background:linear-gradient(#ff5d2d,#ff612f,#ff6630,#ff6f34,#ff7435,#ff7635,#ff7836,#ff7b37,#ff8338,#ff893a,#ff8d3c,#ff963f,#ff9f45,#ffa74c,#ffab4f,#ffad50,#ffae51)"></i><i style="background:linear-gradient(#ff5e2d,#ff632f,#ff6731,#ff7034,#ff7435,#ff7635,#ff7836,#ff7c37,#ff8338,#ff893b,#ff8d3c,#ff963f,#ff9f45,#ffa74c,#ffab50,#ffad51,#ffae51)"></i></div>
<div class="p" style="left:954.7px;top:1599.9px;width:702px;height:673.92px"><i style="background:linear-gradient(#ffd070,#ffd070,#ffd070,#ffd070,#ffd172,#ffd375,#ffd578,#ffd77b,#ffd87e,#ffda81,#ffdc84,#ffdc84,#ffdc84,#ffdc84,#ffdc84,#ffdc84,#ffdc84)"></i><i style="background:linear-gradient(#ffd070,#ffd070,#ffd070,#ffd070,#ffd172,#ffd375,#ffd578,#ffd77b,#ffd87e,#ffda81,#ffdc84,#ffdc84,#ffdc84,#ffdc84,#ffdc84,#ffdc84,#ffdc84)"></i><i style="background:linear-gradient(#ffd071,#ffd071,#ffd071,#ffd071,#ffd273,#ffd376,#ffd579,#ffd77b,#ffd97e,#ffda81,#ffdc85,#ffdc85,#ffdc85,#ffdc85,#ffdc85,#ffdc85,#ffdc85)"></i><i style="background:linear-gradient(#ffd67a,#ffd67a,#ffd67a,#ffd67a,#ffd77b,#ffd87e,#ffda80,#ffdb82,#ffdc85,#ffdd88,#ffde8c,#ffde8c,#ffde8c,#ffde8c,#ffde8c,#ffde8c,#ffde8c)"></i><i style="background:linear-gradient(#ffe194,#ffe194,#ffe194,#ffe194,#ffe195,#ffe195,#ffe196,#ffe197,#ffe299,#ffe29b,#ffe39c,#ffe39c,#ffe39c,#ffe39c,#ffe39c,#ffe39c,#ffe39c)"></i><i style="background:linear-gradient(#fae6af,#fae6af,#fae6af,#fae6af,#fbe6ae,#fbe6ac,#fce5ab,#fce5aa,#fce5ab,#fbe5ab,#fbe5ac,#fbe5ac,#fbe5ac,#fbe5ac,#fbe5ac,#fbe5ac,#fbe5ac)"></i><i style="background:linear-gradient(#f8e7b6,#f8e7b6,#f8e7b6,#f8e7b6,#f8e7b5,#f9e6b3,#fae6b1,#fae6b0,#fae6b0,#fae6b0,#fae6b0,#fae6b0,#fae6b0,#fae6b0,#fae6b0,#fae6b0,#fae6b0)"></i><i style="background:linear-gradient(#f8e7b6,#f8e7b6,#f8e7b6,#f8e7b6,#f8e7b5,#f9e6b3,#fae6b1,#fae6b0,#fae6b0,#fae6b0,#fae6b0,#fae6b0,#fae6b0,#fae6b0,#fae6b0,#fae6b0,#fae6b0)"></i><i style="background:linear-gradient(#f8e7b6,#f8e7b6,#f8e7b6,#f8e7b6,#f8e7b6,#f9e7b4,#f9e6b3,#f9e6b2,#fae6b1,#fae6b1,#fae6b0,#fae6b0,#fae6b0,#fae6b0,#fae6b0,#fae6b0,#fae6b0)"></i><i style="background:linear-gradient(#f8e7b6,#f8e7b6,#f8e7b6,#f8e7b6,#f8e7b7,#f7e7b9,#f7e7ba,#f7e7ba,#f8e7b7,#f9e6b3,#fae6b0,#fae6b0,#fae6b0,#fae6b0,#fae6b0,#fae6b1,#fae6b2)"></i><i style="background:linear-gradient(#f8e7b6,#f8e7b6,#f8e7b6,#f8e7b6,#f7e7ba,#f5e8c0,#f3e9c3,#f3e9c4,#f5e8c0,#f7e7b8,#fae6b1,#fae6b1,#fae6b1,#fae6b1,#f9e6b3,#f8e7b6,#f7e7b9)"></i><i style="background:linear-gradient(#f8e7b6,#f8e7b6,#f8e7b7,#f8e7b7,#f6e8bd,#f3e9c3,#f0eac8,#efeac9,#f2e9c5,#f5e8bf,#f8e7b6,#f8e7b5,#f9e7b5,#f9e7b4,#f7e7b9,#f5e8c0,#f2e9c4)"></i><i style="background:linear-gradient(#f8e7b6,#f8e7b7,#f7e7b8,#f7e7b9,#f5e8c0,#f2e9c5,#efeaca,#eeebcc,#f0eac8,#f2e9c4,#f5e8c1,#f5e8c0,#f6e8be,#f6e8bd,#f4e8c1,#f1e9c6,#eeebcb)"></i><i style="background:linear-gradient(#f8e7b6,#f7e7ba,#f6e8bd,#f5e8c0,#f3e9c3,#f1eac7,#eeebca,#edebcc,#efebca,#f0eac8,#f1eac6,#f2e9c5,#f3e9c3,#f4e9c2,#f2e9c5,#f0eac9,#edebcd)"></i><i style="background:linear-gradient(#f7e7ba,#f5e8bf,#f4e9c2,#f2e9c5,#f0eac7,#efeac9,#eeebcb,#edebcc,#eeebcb,#efeac9,#f0eac8,#f1eac6,#f2e9c5,#f3e9c4,#f2e9c6,#efeac9,#edebcd)"></i><i style="background:linear-gradient(#f4e9c2,#f2e9c5,#f1eac7,#efeaca,#eeebcb,#eeebcc,#edebcc,#edebcd,#eeebcc,#eeebcb,#efeaca,#efeac9,#f0eac8,#f1eac7,#efeac9,#eeebcc,#ececcf)"></i><i style="background:linear-gradient(#f0eac8,#efeaca,#eeebcb,#edebcc,#edebcc,#edebcd,#edebcd,#edebcd,#ececce,#ececcf,#ebecd0,#ebecd1,#eaecd1,#eaedd2,#e8edd4,#e6eed7,#e4efda)"></i><i style="background:linear-gradient(#eeebcc,#edebcc,#edebcc,#edebcd,#edebcd,#edebcd,#edebcd,#edebcd,#ebeccf,#e9edd2,#e7eed6,#e5eed9,#e3efdb,#e1f0de,#dff0e0,#dff1e1,#def1e2)"></i><i style="background:linear-gradient(#edebcd,#edebcd,#edebcd,#edebcd,#edebcd,#edebcd,#edebcd,#edebcd,#edebcd,#edebcd,#edebce,#ebeccf,#eaecd2,#e8edd4,#e7eed6,#e6eed7,#e5eed9)"></i><i style="background:linear-gradient(#edebcd,#edebcd,#edebcd,#edebcd,#edebcd,#edebcd,#edebcd,#edebcc,#efebca,#f0eac8,#f1eac6,#f0eac7,#f0eac8,#efeac9,#efebca,#eeebcb,#edebcd)"></i><i style="background:linear-gradient(#edebcd,#edebcd,#edebcd,#edebcd,#edebcd,#edebcd,#edebcd,#edebcc,#eeebcb,#efeac9,#f0eac7,#f0eac8,#f0eac8,#f0eac9,#efeac9,#efebca,#eeebcb)"></i><i style="background:linear-gradient(#edebcd,#edebcd,#edebcd,#edebcd,#edebcd,#edebcd,#edebcd,#edebcd,#edebcc,#eeebcc,#eeebcb,#eeebcc,#eeebcc,#eeebcc,#eeebcc,#edebcc,#edebcc)"></i><i style="background:linear-gradient(#eaecd1,#ebecd0,#ebeccf,#ececcf,#ececce,#ecebce,#edebcd,#edebcd,#edebcd,#edebcd,#edebcd,#edebcd,#edebcd,#edebcd,#edebcd,#edebcd,#edebcd)"></i><i style="background:linear-gradient(#def1e2,#e0f0e0,#e2efdd,#e4efda,#e6eed6,#eaedd2,#ececcf,#edebcd,#edebcd,#edebcd,#edebcd,#edebcd,#edebcd,#edebcd,#edebcd,#edebcd,#edebcd)"></i><i style="background:linear-gradient(#d5f4ee,#d5f3ed,#d6f3ec,#d7f3eb,#dcf1e4,#e3efdb,#eaecd1,#edebcd,#edebcd,#edebcd,#edebcd,#edebcd,#edebcd,#edebcd,#edebcd,#edebcd,#edebcd)"></i><i style="background:linear-gradient(#d2f4f0,#d3f4f0,#d3f4f0,#d3f4f0,#d7f3eb,#dff0e0,#e9edd3,#edebcd,#edebcd,#edebcd,#edebcd,#edebcd,#edebcd,#edebcd,#edebcd,#edebcd,#edebcd)"></i><i style="background:linear-gradient(#d2f4f0,#d2f4f0,#d2f4f0,#d2f4f0,#d6f3ec,#dff1e1,#e8edd4,#edebcd,#edebcd,#edebcd,#edebcd,#edebcd,#edebcd,#edebcd,#edebcd,#edebcd,#edebcd)"></i><i style="background:linear-gradient(#d2f4f0,#d2f4f0,#d2f4f0,#d2f4f0,#d6f3ec,#dff1e1,#e8edd4,#edebcd,#edebcd,#edebcd,#edebcd,#edebcd,#edebcd,#edebcd,#edebcd,#edebcd,#edebcd)"></i><i style="background:linear-gradient(#d2f4f0,#d2f4f0,#d2f4f0,#d2f4f0,#d6f3ec,#dff1e1,#e8edd4,#edebcd,#edebcd,#edebcc,#edebcc,#edebcc,#edebcc,#edebcc,#eeebcc,#eeebcc,#eeebcc)"></i><i style="background:linear-gradient(#d2f4f0,#d3f4f0,#d3f4f0,#d3f4f0,#d6f3ec,#dff0e1,#e8edd3,#edebcc,#eeebcb,#efeac9,#f0eac8,#f0eac7,#f1eac7,#f1eac7,#f1eac7,#f1eac6,#f1eac6)"></i><i style="background:linear-gradient(#d2f4f0,#d4f4ef,#d5f3ed,#d7f3ec,#dbf2e5,#e3efdb,#eaecd1,#eeebcb,#f1eac7,#f4e8c2,#f7e7bb,#f7e7b9,#f8e7b7,#f8e7b6,#f9e7b5,#f9e6b3,#f9e6b2)"></i><i style="background:linear-gradient(#d7f3eb,#dcf1e4,#e2efdc,#e8edd4,#ebecd0,#ecebce,#eeebcc,#f0eac8,#f4e8c1,#f8e7b5,#fde5a7,#fee5a5,#fee4a2,#ffe4a0,#ffe39e,#ffe39c,#ffe29a)"></i><i style="background:linear-gradient(#edebcd,#f0eac9,#f3e9c4,#f5e8be,#f6e8be,#f5e8c1,#f3e9c3,#f4e8c2,#f8e7b8,#fbe6ac,#ffe4a0,#ffe39e,#ffe39b,#ffe299,#ffe196,#ffe194,#ffe092)"></i><i style="background:linear-gradient(#fbe6ad,#fce5a9,#fee5a5,#ffe4a0,#fee4a3,#fce5a9,#fae6af,#fae6b1,#fce5ab,#fde5a6,#ffe4a0,#ffe39d,#ffe39b,#ffe298,#ffe196,#ffe194,#ffe092)"></i><i style="background:linear-gradient(#ffe092,#ffe091,#ffdf90,#ffdf8f,#ffe091,#ffe195,#ffe299,#ffe39c,#ffe39e,#ffe49f,#ffe4a0,#ffe39d,#ffe39b,#ffe298,#ffe196,#ffe194,#ffe092)"></i><i style="background:linear-gradient(#ffdd87,#ffdd86,#ffdd86,#ffdd86,#ffdd88,#ffde8b,#ffdf8e,#ffe091,#ffe197,#ffe39c,#fee4a2,#ffe49f,#ffe39d,#ffe29a,#ffe298,#ffe197,#ffe195)"></i><i style="background:linear-gradient(#ffdd86,#ffdd86,#ffdd86,#ffdd86,#ffdd88,#ffde8a,#ffde8d,#ffe091,#ffe299,#ffe4a1,#fce5aa,#fde5a8,#fde5a5,#fee4a2,#fee4a2,#fee4a3,#fee4a4)"></i><i style="background:linear-gradient(#ffe091,#ffe091,#ffe091,#ffe091,#ffe092,#ffe194,#ffe196,#ffe29a,#fee5a4,#fae6af,#f7e7ba,#f8e7b7,#f9e7b5,#f9e6b2,#f9e7b4,#f7e7b9,#f6e8be)"></i><i style="background:linear-gradient(#fde5a5,#fde5a5,#fde5a5,#fde5a5,#fde5a6,#fde5a8,#fce5a9,#fbe6ae,#f7e7b9,#f4e8c2,#f1eac7,#f2e9c5,#f3e9c3,#f4e8c2,#f3e9c3,#f1eac6,#efeaca)"></i><i style="background:linear-gradient(#f7e7ba,#f7e7ba,#f7e7ba,#f7e7ba,#f6e7bc,#f5e8bf,#f4e8c1,#f2e9c4,#efeac9,#ececce,#e7eed6,#ebecd1,#edebcd,#efeaca,#efeaca,#eeebcb,#edebcd)"></i><i style="background:linear-gradient(#f5e8c0,#f5e8c0,#f5e8c0,#f5e8c0,#f3e9c4,#efeac9,#ececce,#e7edd5,#e3efdb,#dff1e1,#daf2e7,#e0f0df,#e6eed7,#ebecd0,#ecebce,#edebcd,#edebcd)"></i><i style="background:linear-gradient(#f5e8c0,#f5e8c0,#f5e8c0,#f5e8c0,#f1eac6,#ebeccf,#e1f0de,#d9f3e9,#d8f3ea,#d7f3eb,#d7f3ec,#dcf2e5,#e2efdc,#e9edd3,#ececcf,#ecebce,#edebcd)"></i><i style="background:linear-gradient(#f5e8c0,#f5e8c0,#f5e8c0,#f5e8c0,#f0eac7,#e9edd3,#dcf2e5,#d5f4ed,#d5f3ed,#d6f3ed,#d6f3ec,#dbf2e6,#e2efdc,#e9edd3,#ececcf,#ececce,#edebcd)"></i><i style="background:linear-gradient(#f5e8c0,#f5e8c0,#f5e8c0,#f5e8c0,#f0eac7,#e8edd4,#dbf2e6,#d5f4ee,#d5f4ee,#d5f4ed,#d5f3ed,#dbf2e6,#e2efdd,#e9edd3,#ececcf,#ececce,#edebcd)"></i><i style="background:linear-gradient(#f5e8c0,#f5e8c0,#f5e8c0,#f5e8c0,#f1eac7,#e9edd2,#ddf1e4,#d6f3ec,#d6f3ec,#d6f3ec,#d6f3ec,#dcf2e5,#e2efdc,#e9edd3,#ececcf,#ececce,#edebcd)"></i><i style="background:linear-gradient(#f5e8c0,#f5e8c0,#f5e8c0,#f5e8c0,#f2e9c6,#ecebce,#e4efda,#ddf1e3,#ddf1e3,#ddf1e3,#ddf1e3,#e1f0dd,#e6eed7,#eaecd1,#ececcf,#ecebce,#edebcd)"></i><i style="background:linear-gradient(#f5e8c1,#f5e8c1,#f5e8c1,#f5e8c1,#f3e9c4,#f0eac8,#edebcd,#ebecd0,#ebecd0,#ebecd0,#ebeccf,#ececcf,#ecebce,#edebcd,#edebcc,#edebcd,#edebcd)"></i><i style="background:linear-gradient(#f2e9c5,#f2e9c5,#f2e9c6,#f1e9c6,#f1e9c6,#f2e9c6,#f2e9c5,#f2e9c5,#f2e9c5,#f2e9c5,#f2e9c4,#f2e9c5,#f1e9c6,#f1eac6,#f0eac8,#eeebca,#edebcd)"></i><i style="background:linear-gradient(#ececcf,#ebeccf,#ebecd0,#eaecd2,#ecebce,#efeac9,#f3e9c4,#f5e8c0,#f5e8bf,#f6e8bd,#f6e8bc,#f6e8be,#f5e8bf,#f5e8c0,#f3e9c4,#f0eac8,#edebcd)"></i><i style="background:linear-gradient(#e1f0de,#e0f0e0,#def1e1,#ddf1e3,#e4efda,#edebcd,#f3e9c4,#f7e7bb,#f7e7b9,#f8e7b6,#f9e6b3,#f8e7b5,#f8e7b7,#f7e7b8,#f5e8c0,#f1eac7,#edebcd)"></i><i style="background:linear-gradient(#dbf2e7,#daf2e8,#d9f3e9,#d8f3e9,#e1f0de,#edebcd,#f4e9c2,#f9e7b5,#fae6b1,#fbe6ae,#fce5ab,#fbe6ad,#fae6af,#fae6b1,#f6e7bc,#f2e9c5,#edebcd)"></i><i style="background:linear-gradient(#d8f3ea,#d8f3ea,#d8f3ea,#d8f3ea,#e2efdc,#eeebcb,#f6e8bd,#fbe5ac,#fce5a9,#fde5a7,#fee4a4,#fde5a7,#fce5a9,#fbe5ac,#f8e7b7,#f3e9c3,#eeebcb)"></i><i style="background:linear-gradient(#d7f3eb,#d8f3ea,#d9f3e8,#daf2e7,#e5eed8,#f0eac7,#f9e6b3,#ffe4a1,#ffe4a1,#ffe4a1,#ffe4a1,#fee4a3,#fde5a6,#fce5a9,#fae6b1,#f7e7bb,#f3e9c3)"></i><i style="background:linear-gradient(#d9f2e8,#ddf1e4,#e0f0e0,#e3efdb,#ecebce,#f4e8c1,#fce5a8,#ffe299,#ffe39b,#ffe39e,#ffe4a0,#fee4a3,#fde5a6,#fce5a9,#fbe5ab,#fbe6ae,#fae6b1)"></i><i style="background:linear-gradient(#e2efdc,#e7edd6,#ebeccf,#eeebcb,#f3e9c3,#f9e6b2,#ffe49f,#ffe195,#ffe298,#ffe39c,#ffe4a0,#fee4a3,#fde5a6,#fce5a9,#fce5a8,#fde5a6,#fee4a3)"></i><i style="background:linear-gradient(#eeebcb,#f1eac7,#f3e9c3,#f6e8be,#f9e6b2,#fde5a6,#ffe29a,#ffe093,#ffe298,#ffe39c,#ffe4a0,#fee4a3,#fde5a6,#fce5a9,#fde5a7,#fee4a4,#ffe4a0)"></i><i style="background:linear-gradient(#f6e8bd,#f8e7b6,#fae6af,#fce5a9,#fee4a2,#ffe39c,#ffe196,#ffe093,#ffe298,#ffe39c,#ffe4a0,#fee4a3,#fde5a6,#fce5a9,#fde5a7,#fee4a4,#ffe4a0)"></i><i style="background:linear-gradient(#fde5a6,#ffe4a0,#ffe39c,#ffe197,#ffe194,#ffe094,#ffe093,#ffe093,#ffe298,#ffe39c,#ffe4a0,#fee4a3,#fde5a6,#fce5a9,#fde5a7,#fee4a4,#ffe4a0)"></i><i style="background:linear-gradient(#ffe197,#ffe093,#ffdf8e,#ffde8a,#ffde8a,#ffdf8d,#ffdf90,#ffe093,#ffe298,#ffe39c,#ffe4a0,#fee4a3,#fde5a6,#fce5a9,#fde5a7,#fee4a4,#ffe4a0)"></i><i style="background:linear-gradient(#ffe092,#ffdf8e,#ffde8a,#ffdc86,#ffdd87,#ffde8c,#ffe091,#ffe195,#ffe299,#ffe39c,#ffe4a0,#fee4a3,#fde5a6,#fce5a9,#fde5a7,#fee4a4,#ffe4a0)"></i><i style="background:linear-gradient(#ffe195,#ffe091,#ffdf8e,#ffde8a,#ffde8c,#ffe092,#ffe197,#ffe39b,#ffe39e,#ffe4a0,#fee4a2,#fee5a4,#fde5a7,#fce5aa,#fce5a8,#fde5a5,#fee4a2)"></i><i style="background:linear-gradient(#ffe4a1,#ffe39e,#ffe29b,#ffe298,#ffe299,#ffe39e,#fee4a2,#fde5a5,#fde5a6,#fde5a7,#fde5a8,#fce5aa,#fbe5ac,#fbe6ad,#fbe6ad,#fce5aa,#fde5a8)"></i><i style="background:linear-gradient(#f9e6b2,#fae6b0,#fbe6ae,#fbe6ac,#fbe6ac,#fbe6ad,#fbe6ae,#fae6af,#fae6af,#fae6b0,#fae6b0,#fae6b1,#f9e6b2,#f9e6b2,#f9e6b2,#f9e6b2,#fae6b1)"></i><i style="background:linear-gradient(#f6e8bd,#f6e7bc,#f7e7bb,#f7e7ba,#f7e7b8,#f8e7b7,#f8e7b6,#f8e7b5,#f8e7b5,#f8e7b5,#f8e7b5,#f8e7b5,#f8e7b5,#f8e7b6,#f8e7b7,#f7e7ba,#f6e7bc)"></i><i style="background:linear-gradient(#f5e8c0,#f5e8bf,#f6e8be,#f6e8bd,#f6e7bc,#f7e7ba,#f8e7b8,#f8e7b6,#f8e7b6,#f8e7b6,#f8e7b6,#f8e7b6,#f8e7b6,#f8e7b6,#f7e7ba,#f5e8c0,#f3e9c3)"></i><i style="background:linear-gradient(#f5e8c0,#f5e8bf,#f6e8be,#f6e8bd,#f6e7bc,#f7e7ba,#f8e7b8,#f8e7b6,#f8e7b6,#f8e7b6,#f8e7b6,#f8e7b6,#f8e7b6,#f8e7b6,#f6e8bc,#f3e9c3,#f1eac7)"></i><i style="background:linear-gradient(#f5e8c0,#f5e8bf,#f6e8be,#f6e8bd,#f6e7bc,#f7e7ba,#f8e7b8,#f8e7b6,#f8e7b6,#f8e7b6,#f8e7b6,#f8e7b6,#f8e7b6,#f8e7b6,#f6e8bd,#f3e9c3,#f0eac8)"></i><i style="background:linear-gradient(#f5e8c0,#f5e8bf,#f6e8be,#f6e8bd,#f6e7bc,#f7e7ba,#f8e7b8,#f8e7b6,#f8e7b6,#f8e7b6,#f8e7b6,#f8e7b6,#f8e7b6,#f8e7b6,#f6e8bd,#f3e9c3,#f0eac8)"></i><i style="background:linear-gradient(#f5e8be,#f6e8be,#f6e8bd,#f6e7bc,#f7e7bb,#f7e7b9,#f8e7b7,#f8e7b6,#f8e7b6,#f8e7b6,#f8e7b6,#f8e7b6,#f8e7b6,#f8e7b6,#f6e8bd,#f3e9c3,#f0eac8)"></i><i style="background:linear-gradient(#f7e7ba,#f7e7b9,#f7e7b9,#f8e7b8,#f8e7b7,#f8e7b6,#f8e7b5,#f9e7b5,#f8e7b5,#f8e7b6,#f8e7b6,#f8e7b6,#f8e7b6,#f8e7b6,#f6e8bd,#f3e9c3,#f0eac8)"></i><i style="background:linear-gradient(#fae6b0,#fae6b0,#fae6b0,#fae6b0,#fae6b0,#fae6af,#fae6af,#fae6af,#f9e6b2,#f9e7b4,#f8e7b6,#f8e7b6,#f8e7b6,#f8e7b6,#f6e8bc,#f4e9c2,#f1eac6)"></i><i style="background:linear-gradient(#ffe39d,#ffe49e,#ffe4a0,#ffe4a1,#fee4a3,#fee5a4,#fde5a5,#fce5a8,#fbe6ad,#f9e6b2,#f8e7b6,#f8e7b6,#f8e7b6,#f8e7b6,#f7e7b9,#f6e8bd,#f5e8c1)"></i><i style="background:linear-gradient(#ffdd88,#ffde8b,#ffdf8e,#ffe091,#ffe195,#ffe299,#ffe39e,#fee4a3,#fce5aa,#fae6b0,#f8e7b6,#f8e7b6,#f8e7b6,#f8e7b6,#f8e7b5,#f9e6b3,#fae6b1)"></i><i style="background:linear-gradient(#ffd87d,#ffd980,#ffdb82,#ffdc86,#ffde8c,#ffe093,#ffe29b,#fee4a2,#fce5a9,#fae6b0,#f8e7b6,#f8e7b6,#f8e7b6,#f8e7b6,#f9e6b3,#fbe6ae,#fce5a9)"></i><i style="background:linear-gradient(#ffd67a,#ffd87d,#ffda80,#ffdb83,#ffdd89,#ffe091,#ffe298,#ffe4a0,#fde5a7,#fae6af,#f8e7b6,#f8e7b6,#f8e7b6,#f8e7b6,#f9e7b4,#fae6b1,#fbe6ad)"></i><i style="background:linear-gradient(#ffd67a,#ffd87d,#ffda80,#ffdb83,#ffdd88,#ffdf8e,#ffe194,#ffe39b,#fee4a4,#fbe6ad,#f8e7b6,#f8e7b6,#f8e7b6,#f8e7b6,#f8e7b6,#f8e7b5,#f9e7b4)"></i><i style="background:linear-gradient(#ffd77c,#ffd97f,#ffdb82,#ffdc84,#ffdd88,#ffde8d,#ffe091,#ffe197,#ffe4a1,#fbe5ab,#f8e7b6,#f8e7b6,#f8e7b6,#f8e7b6,#f8e7b6,#f8e7b6,#f8e7b6)"></i><i style="background:linear-gradient(#ffdb83,#ffdc85,#ffdd87,#ffde89,#ffde8c,#ffdf8e,#ffe090,#ffe195,#ffe49f,#fce5ab,#f8e7b6,#f8e7b6,#f8e7b6,#f8e7b6,#f8e7b6,#f8e7b6,#f8e7b6)"></i><i style="background:linear-gradient(#ffde8c,#ffdf8d,#ffdf8e,#ffdf8f,#ffdf90,#ffe091,#ffe091,#ffe195,#ffe49f,#fce5ab,#f8e7b6,#f8e7b6,#f8e7b6,#f8e7b6,#f8e7b6,#f8e7b6,#f8e7b6)"></i><i style="background:linear-gradient(#ffe091,#ffe091,#ffe091,#ffe092,#ffe092,#ffe092,#ffe092,#ffe195,#ffe49f,#fce5ab,#f8e7b6,#f8e7b6,#f8e7b6,#f8e7b6,#f8e7b6,#f8e7b6,#f8e7b6)"></i><i style="background:linear-gradient(#ffe092,#ffe092,#ffe092,#ffe092,#ffe092,#ffe092,#ffe092,#ffe195,#ffe49f,#fce5ab,#f8e7b6,#f8e7b6,#f8e7b6,#f8e7b6,#f8e7b6,#f8e7b6,#f8e7b6)"></i><i style="background:linear-gradient(#ffe092,#ffe092,#ffe092,#ffe092,#ffe092,#ffe092,#ffe092,#ffe195,#ffe49f,#fce5ab,#f8e7b6,#f8e7b6,#f8e7b6,#f8e7b6,#f8e7b6,#f8e7b6,#f8e7b6)"></i><i style="background:linear-gradient(#ffe092,#ffe092,#ffe092,#ffe092,#ffe092,#ffe092,#ffe092,#ffe195,#ffe49f,#fce5aa,#f8e7b6,#f8e7b6,#f8e7b6,#f8e7b6,#f8e7b6,#f8e7b6,#f8e7b6)"></i><i style="background:linear-gradient(#ffe092,#ffe092,#ffe092,#ffe092,#ffe092,#ffe092,#ffe092,#ffe195,#ffe39e,#fde5a8,#f9e6b2,#f9e6b3,#f9e7b4,#f8e7b5,#f8e7b6,#f8e7b6,#f8e7b6)"></i><i style="background:linear-gradient(#ffe092,#ffe092,#ffe092,#ffe092,#ffe092,#ffe092,#ffe092,#ffe194,#ffe39b,#fee4a2,#fce5aa,#fbe6ad,#fae6af,#f9e6b2,#f9e6b4,#f8e7b5,#f8e7b6)"></i><i style="background:linear-gradient(#ffe092,#ffe092,#ffe092,#ffe092,#ffe092,#ffe092,#ffe092,#ffe093,#ffe298,#ffe39d,#fee4a3,#fde5a7,#fce5ab,#fae6af,#f9e6b2,#f9e7b4,#f8e7b6)"></i><i style="background:linear-gradient(#ffe092,#ffe092,#ffe092,#ffe092,#ffe092,#ffe091,#ffdf90,#ffe091,#ffe196,#ffe39b,#ffe4a0,#fde5a5,#fce5aa,#fae6ae,#f9e6b2,#f9e7b4,#f8e7b6)"></i><i style="background:linear-gradient(#ffdf8f,#ffdf8e,#ffdf8e,#ffdf8e,#ffdf8d,#ffde8c,#ffde8b,#ffde8d,#ffe093,#ffe29a,#ffe4a0,#fee5a5,#fce5aa,#fae6ae,#fae6b2,#f9e6b4,#f8e7b6)"></i><i style="background:linear-gradient(#ffdc83,#ffdb82,#ffda81,#ffda80,#ffda80,#ffda80,#ffda81,#ffdb83,#ffde8c,#ffe195,#ffe39e,#fee4a3,#fce5a9,#fbe6ae,#fae6b2,#f9e6b4,#f8e7b6)"></i><i style="background:linear-gradient(#ffd579,#ffd476,#ffd374,#ffd172,#ffd273,#ffd374,#ffd476,#ffd67a,#ffdb82,#ffde8c,#ffe297,#ffe39e,#fde5a5,#fbe6ad,#fae6b1,#f9e6b4,#f8e7b6)"></i><i style="background:linear-gradient(#ffd172,#ffcf6f,#ffce6e,#ffcd6d,#ffcd6d,#ffce6e,#ffd070,#ffd274,#ffd77c,#ffdb83,#ffdf8d,#ffe196,#ffe49f,#fce5a8,#fbe6ae,#f9e6b2,#f8e7b6)"></i><i style="background:linear-gradient(#ffd070,#ffce6e,#ffcd6d,#ffcc6c,#ffcc6c,#ffce6e,#ffcf6f,#ffd172,#ffd579,#ffd97f,#ffdd86,#ffdf90,#ffe299,#fee4a3,#fce5aa,#fae6b0,#f8e7b6)"></i><i style="background:linear-gradient(#ffd070,#ffcf6f,#ffcd6d,#ffcc6c,#ffcc6c,#ffce6e,#ffcf6f,#ffd172,#ffd578,#ffd87e,#ffdc84,#ffdf8e,#ffe298,#fee4a2,#fce5aa,#fae6b0,#f8e7b6)"></i><i style="background:linear-gradient(#ffd374,#ffd172,#ffcf6f,#ffce6e,#ffce6e,#ffcf6f,#ffd070,#ffd172,#ffd578,#ffd87e,#ffdc84,#ffdf90,#ffe39b,#fde5a8,#fae6af,#f9e6b3,#f8e7b6)"></i><i style="background:linear-gradient(#ffd97f,#ffd87d,#ffd67a,#ffd578,#ffd477,#ffd375,#ffd273,#ffd274,#ffd67a,#ffd97f,#ffdc86,#ffe093,#ffe4a0,#fae6af,#f9e7b4,#f8e7b5,#f8e7b6)"></i><i style="background:linear-gradient(#ffdf8e,#ffde8c,#ffde8a,#ffdd88,#ffdc84,#ffd980,#ffd77c,#ffd67a,#ffd97f,#ffdc84,#ffde8a,#ffe197,#fee4a3,#f9e6b2,#f8e7b6,#f8e7b6,#f8e7b6)"></i><i style="background:linear-gradient(#ffe49f,#ffe39d,#ffe39b,#ffe299,#ffe194,#ffdf8d,#ffdc85,#ffdb83,#ffdd86,#ffde8b,#ffdf8f,#ffe29a,#fde5a6,#f9e6b2,#f8e7b6,#f8e7b6,#f8e7b6)"></i><i style="background:linear-gradient(#fbe6ad,#fce5ab,#fce5a9,#fde5a7,#ffe4a1,#ffe299,#ffe092,#ffdf8e,#ffdf8f,#ffdf90,#ffe092,#ffe39c,#fde5a7,#f9e6b3,#f8e7b6,#f8e7b6,#f8e7b6)"></i><i style="background:linear-gradient(#f9e6b2,#fae6b0,#fbe6ae,#fbe6ac,#fde5a7,#ffe4a0,#ffe29a,#ffe196,#ffe195,#ffe093,#ffe092,#ffe39c,#fde5a6,#fae6b1,#f8e7b5,#f8e7b6,#f8e7b6)"></i><i style="background:linear-gradient(#fde5a8,#fde5a6,#fde5a5,#fee4a3,#ffe4a0,#ffe39d,#ffe299,#ffe196,#ffe195,#ffe093,#ffe091,#ffe29a,#fee4a3,#fbe6ac,#fae6b1,#f9e6b4,#f8e7b6)"></i><i style="background:linear-gradient(#ffe195,#ffe195,#ffe194,#ffe094,#ffe092,#ffe091,#ffdf8f,#ffdf8e,#ffdf8e,#ffdf8f,#ffdf8f,#ffe195,#ffe39c,#fee4a3,#fce5aa,#fae6b0,#f8e7b6)"></i><i style="background:linear-gradient(#ffdd88,#ffdd88,#ffdd88,#ffdd88,#ffdd87,#ffdc86,#ffdc85,#ffdc84,#ffdd86,#ffdd88,#ffdd89,#ffdf8f,#ffe194,#ffe299,#ffe4a1,#fbe5ab,#f8e7b6)"></i><i style="background:linear-gradient(#ffdc84,#ffdc84,#ffdc84,#ffdc84,#ffdb83,#ffda81,#ffd980,#ffd97f,#ffd97f,#ffda80,#ffda81,#ffdc84,#ffde89,#ffdf8e,#ffe197,#fee4a2,#fae6ae)"></i><i style="background:linear-gradient(#ffdc84,#ffdc84,#ffdc84,#ffdc84,#ffdb82,#ffd980,#ffd87d,#ffd67b,#ffd579,#ffd477,#ffd375,#ffd67a,#ffd97e,#ffdb83,#ffde8a,#ffe093,#ffe39c)"></i><i style="background:linear-gradient(#ffdc84,#ffdc84,#ffdc84,#ffdc84,#ffdb82,#ffd97f,#ffd77c,#ffd578,#ffd274,#ffd070,#ffcd6d,#ffd070,#ffd376,#ffd77b,#ffda80,#ffdc85,#ffde8c)"></i><i style="background:linear-gradient(#ffdc84,#ffdc84,#ffdc84,#ffdc84,#ffdb82,#ffd97f,#ffd77c,#ffd578,#ffd172,#ffce6e,#ffcb6b,#ffce6e,#ffd172,#ffd578,#ffd87d,#ffda81,#ffdc85)"></i><i style="background:linear-gradient(#ffdc84,#ffdc84,#ffdc84,#ffdc84,#ffdb82,#ffd97f,#ffd77c,#ffd578,#ffd172,#ffce6e,#ffcb6b,#ffce6e,#ffd172,#ffd578,#ffd87c,#ffda80,#ffdc84)"></i><i style="background:linear-gradient(#ffdc84,#ffdc84,#ffdc84,#ffdc84,#ffdb82,#ffd97f,#ffd77c,#ffd578,#ffd172,#ffce6e,#ffcb6b,#ffce6e,#ffd172,#ffd578,#ffd87c,#ffda80,#ffdc84)"></i><i style="background:linear-gradient(#ffdc84,#ffdc84,#ffdc84,#ffdc84,#ffdb82,#ffd97f,#ffd77c,#ffd578,#ffd274,#ffd070,#ffcd6d,#ffd070,#ffd274,#ffd578,#ffd87c,#ffda80,#ffdc84)"></i><i style="background:linear-gradient(#ffdc84,#ffdc84,#ffdc84,#ffdc84,#ffdb82,#ffd97f,#ffd77c,#ffd579,#ffd476,#ffd273,#ffd070,#ffd273,#ffd476,#ffd579,#ffd87c,#ffda80,#ffdc84)"></i><i style="background:linear-gradient(#ffdc84,#ffdc84,#ffdc84,#ffdc84,#ffdb82,#ffd97f,#ffd77c,#ffd679,#ffd578,#ffd476,#ffd375,#ffd476,#ffd578,#ffd679,#ffd87c,#ffda80,#ffdc84)"></i><i style="background:linear-gradient(#ffdc84,#ffdc84,#ffdc84,#ffdc84,#ffdb82,#ffd97f,#ffd77c,#ffd67a,#ffd578,#ffd477,#ffd476,#ffd477,#ffd578,#ffd67a,#ffd87c,#ffda80,#ffdc84)"></i><i style="background:linear-gradient(#ffdc84,#ffdc84,#ffdc84,#ffdc84,#ffdb82,#ffd97f,#ffd77c,#ffd67a,#ffd578,#ffd477,#ffd476,#ffd477,#ffd578,#ffd67a,#ffd87c,#ffda80,#ffdc84)"></i><i style="background:linear-gradient(#ffdc84,#ffdc84,#ffdc84,#ffdc84,#ffdb82,#ffd97f,#ffd87d,#ffd67a,#ffd579,#ffd477,#ffd476,#ffd477,#ffd578,#ffd67a,#ffd87c,#ffda80,#ffdc84)"></i><i style="background:linear-gradient(#ffdc84,#ffdc84,#ffdc84,#ffdc84,#ffdb83,#ffda80,#ffd87e,#ffd77c,#ffd67a,#ffd578,#ffd476,#ffd477,#ffd578,#ffd67a,#ffd87c,#ffda80,#ffdc84)"></i><i style="background:linear-gradient(#ffdc84,#ffdc84,#ffdc84,#ffdc84,#ffdb83,#ffdb82,#ffda80,#ffd97f,#ffd77c,#ffd579,#ffd476,#ffd477,#ffd578,#ffd67a,#ffd87c,#ffda80,#ffdc84)"></i><i style="background:linear-gradient(#ffdc84,#ffdc84,#ffdc84,#ffdc84,#ffdc84,#ffdb83,#ffdb82,#ffda81,#ffd87d,#ffd67a,#ffd476,#ffd477,#ffd578,#ffd67a,#ffd87c,#ffda80,#ffdc84)"></i><i style="background:linear-gradient(#ffdc84,#ffdc84,#ffdc84,#ffdc84,#ffdc84,#ffdc84,#ffdc84,#ffdb82,#ffd97e,#ffd67a,#ffd476,#ffd477,#ffd578,#ffd67a,#ffd87c,#ffda80,#ffdc84)"></i><i style="background:linear-gradient(#ffdc84,#ffdc84,#ffdc84,#ffdc84,#ffdc84,#ffdc84,#ffdc84,#ffdb83,#ffd97e,#ffd67a,#ffd476,#ffd477,#ffd578,#ffd67a,#ffd87c,#ffda80,#ffdc84)"></i><i style="background:linear-gradient(#ffdc84,#ffdc84,#ffdc84,#ffdc84,#ffdc84,#ffdc84,#ffdc84,#ffdb83,#ffd97e,#ffd67a,#ffd476,#ffd477,#ffd578,#ffd67a,#ffd87c,#ffda80,#ffdc84)"></i><i style="background:linear-gradient(#ffdc84,#ffdc84,#ffdc84,#ffdc84,#ffdc84,#ffdc84,#ffdc84,#ffdb83,#ffd97e,#ffd67a,#ffd476,#ffd477,#ffd578,#ffd67a,#ffd87c,#ffda80,#ffdc84)"></i><i style="background:linear-gradient(#ffdc84,#ffdc84,#ffdc84,#ffdc84,#ffdc84,#ffdc85,#ffdc85,#ffdc84,#ffd980,#ffd77c,#ffd578,#ffd579,#ffd67a,#ffd67b,#ffd87e,#ffdb82,#ffdd87)"></i><i style="background:linear-gradient(#ffdc84,#ffdc84,#ffdc84,#ffdc84,#ffdc85,#ffdd87,#ffdd89,#ffdd88,#ffdc83,#ffd980,#ffd77c,#ffd87d,#ffd87e,#ffd97e,#ffdb82,#ffdd89,#ffe090)"></i><i style="background:linear-gradient(#ffdc84,#ffdc84,#ffdc84,#ffdc84,#ffdd86,#ffde8a,#ffdf8d,#ffdf8e,#ffde8b,#ffdd87,#ffdc84,#ffdc84,#ffdc84,#ffdc83,#ffde8a,#ffe093,#ffe39d)"></i><i style="background:linear-gradient(#ffdc84,#ffdc84,#ffdc84,#ffdc84,#ffdd87,#ffde8c,#ffe091,#ffe194,#ffe094,#ffe093,#ffe092,#ffdf90,#ffdf8e,#ffde8b,#ffe092,#ffe39e,#fce5aa)"></i><i style="background:linear-gradient(#ffdc84,#ffdc84,#ffdc84,#ffdc84,#ffdd88,#ffdf8e,#ffe093,#ffe298,#ffe39b,#ffe49f,#fee4a2,#ffe39e,#ffe29a,#ffe195,#ffe39c,#fce5a9,#f8e7b7)"></i><i style="background:linear-gradient(#ffdc84,#ffdc84,#ffdc84,#ffdc84,#ffdd88,#ffdf8e,#ffe094,#ffe29a,#ffe4a0,#fde5a6,#fbe6ad,#fce5a9,#fee5a5,#ffe4a0,#fde5a7,#f9e6b2,#f6e8be)"></i><i style="background:linear-gradient(#ffdc84,#ffdc84,#ffdc84,#ffdc84,#ffdd88,#ffdf8e,#ffe094,#ffe29a,#ffe4a1,#fce5a8,#fae6b0,#fae6af,#fbe6ad,#fbe5ac,#fae6b1,#f7e7b8,#f5e8c0)"></i><i style="background:linear-gradient(#ffdc84,#ffdc84,#ffdc84,#ffdc84,#ffdd88,#ffdf8e,#ffe094,#ffe29a,#ffe4a1,#fce5a8,#fae6b0,#fae6b1,#f9e6b2,#f9e6b3,#f8e7b7,#f6e7bb,#f5e8c0)"></i><i style="background:linear-gradient(#ffdc84,#ffdc84,#ffdc84,#ffdc84,#ffdd88,#ffdf8e,#ffe094,#ffe29a,#ffe4a1,#fce5a8,#fae6b0,#f9e6b2,#f9e6b4,#f8e7b6,#f7e7b9,#f6e8bc,#f5e8c0)"></i><i style="background:linear-gradient(#ffdc84,#ffdc84,#ffdc84,#ffdc84,#ffdd88,#ffdf8d,#ffe093,#ffe299,#ffe4a0,#fde5a8,#fae6b0,#f9e6b2,#f9e6b4,#f8e7b6,#f7e7b9,#f6e8bc,#f5e8c0)"></i><i style="background:linear-gradient(#ffdc84,#ffdc84,#ffdc84,#ffdc84,#ffdd87,#ffde8b,#ffdf8f,#ffe195,#ffe39d,#fde5a6,#fae6b0,#f9e6b2,#f9e6b4,#f8e7b6,#f7e7b9,#f6e8bc,#f5e8c0)"></i><i style="background:linear-gradient(#ffdb83,#ffdb83,#ffdb83,#ffdb83,#ffdc85,#ffdd87,#ffde8a,#ffdf8f,#ffe29a,#fee5a4,#fae6b0,#f9e6b2,#f9e6b4,#f8e7b6,#f7e7b9,#f6e8bc,#f5e8c0)"></i><i style="background:linear-gradient(#ffd97f,#ffd97f,#ffda80,#ffda80,#ffdb82,#ffdc83,#ffdc86,#ffde8b,#ffe197,#fee4a3,#fae6b0,#f9e6b2,#f9e6b4,#f8e7b6,#f7e7b9,#f6e8bc,#f5e8c0)"></i><i style="background:linear-gradient(#ffd67a,#ffd67b,#ffd77c,#ffd87d,#ffd97e,#ffda81,#ffdb83,#ffdd89,#ffe195,#fee4a2,#fae6b0,#f9e6b2,#f9e6b4,#f8e7b6,#f7e7b9,#f6e8bc,#f5e8c0)"></i><i style="background:linear-gradient(#ffd477,#ffd578,#ffd579,#ffd67a,#ffd77c,#ffd97f,#ffdb82,#ffdd88,#ffe195,#ffe4a1,#fae6af,#fae6b1,#f9e6b4,#f8e7b6,#f7e7b9,#f6e8bc,#f5e8c0)"></i><i style="background:linear-gradient(#ffd476,#ffd477,#ffd578,#ffd67a,#ffd77c,#ffd97f,#ffdb82,#ffdd88,#ffe094,#ffe49f,#fbe6ac,#fae6af,#f9e6b2,#f8e7b5,#f7e7b9,#f6e8bc,#f5e8c0)"></i><i style="background:linear-gradient(#ffd476,#ffd477,#ffd578,#ffd67a,#ffd77c,#ffda80,#ffdc84,#ffde8a,#ffe093,#ffe39c,#fde5a7,#fbe5ab,#fae6b0,#f8e7b5,#f7e7b9,#f6e8bc,#f5e8c0)"></i><i style="background:linear-gradient(#ffd476,#ffd477,#ffd578,#ffd67a,#ffd87d,#ffdb82,#ffdd87,#ffdf8e,#ffe195,#ffe39c,#fee4a3,#fce5a9,#fae6af,#f9e7b4,#f7e7b9,#f6e8bc,#f5e8c0)"></i><i style="background:linear-gradient(#ffd578,#ffd579,#ffd67a,#ffd77b,#ffd97f,#ffdc85,#ffdf8d,#ffe194,#ffe299,#ffe49f,#fee5a5,#fce5aa,#fae6af,#f9e7b5,#f7e7b9,#f6e8bc,#f5e8c0)"></i><i style="background:linear-gradient(#ffd77c,#ffd87e,#ffd97f,#ffda81,#ffdc85,#ffde8c,#ffe093,#ffe29a,#ffe49e,#fee4a4,#fce5a9,#fbe6ad,#fae6b1,#f8e7b5,#f7e7b9,#f6e8bc,#f5e8c0)"></i><i style="background:linear-gradient(#ffdb83,#ffdc85,#ffdd87,#ffdd89,#ffdf8e,#ffe194,#ffe29a,#ffe49f,#fee4a4,#fce5a8,#fbe6ad,#fae6b0,#f9e6b3,#f8e7b5,#f7e7b9,#f6e8bc,#f5e8c0)"></i><i style="background:linear-gradient(#ffdf8d,#ffdf8f,#ffe091,#ffe093,#ffe197,#ffe39b,#ffe4a0,#fde5a5,#fce5a9,#fbe6ad,#fae6b1,#f9e6b2,#f9e7b4,#f8e7b6,#f7e7b8,#f7e7bb,#f6e8be)"></i><i style="background:linear-gradient(#ffe29a,#ffe39b,#ffe39c,#ffe39d,#ffe4a0,#fee4a3,#fde5a6,#fce5aa,#fbe6ad,#fae6b1,#f9e7b4,#f9e7b5,#f8e7b5,#f8e7b6,#f8e7b6,#f8e7b6,#f8e7b6)"></i><i style="background:linear-gradient(#fde5a6,#fde5a6,#fde5a7,#fde5a8,#fce5a9,#fce5ab,#fbe6ac,#fae6ae,#fae6b1,#f9e6b3,#f8e7b6,#f8e7b6,#f8e7b6,#f8e7b6,#f9e6b4,#fae6af,#fce5ab)"></i><i style="background:linear-gradient(#fbe6ae,#fae6ae,#fae6af,#fae6af,#fae6b0,#fae6b1,#f9e6b2,#f9e6b3,#f9e6b4,#f8e7b5,#f8e7b6,#f8e7b6,#f8e7b6,#f8e7b6,#f9e6b3,#fbe6ad,#fde5a7)"></i><i style="background:linear-gradient(#fae6b2,#fae6b2,#fae6b2,#fae6b2,#f9e6b2,#f9e6b4,#f9e7b5,#f8e7b6,#f8e7b6,#f8e7b6,#f8e7b6,#f8e7b6,#f8e7b6,#f8e7b6,#f9e7b4,#fae6b1,#fbe6ad)"></i><i style="background:linear-gradient(#f9e6b3,#f9e6b3,#f9e6b3,#f9e6b3,#f9e6b3,#f9e7b5,#f8e7b6,#f8e7b6,#f8e7b6,#f8e7b6,#f8e7b6,#f8e7b6,#f8e7b6,#f8e7b6,#f8e7b6,#f8e7b6,#f8e7b6)"></i><i style="background:linear-gradient(#f9e6b4,#f9e6b4,#f9e6b4,#f9e6b4,#f9e7b4,#f8e7b5,#f8e7b6,#f8e7b6,#f8e7b6,#f8e7b6,#f8e7b6,#f8e7b6,#f8e7b6,#f8e7b6,#f7e7b8,#f7e7bb,#f6e8be)"></i><i style="background:linear-gradient(#f8e7b5,#f8e7b5,#f8e7b5,#f8e7b5,#f8e7b5,#f8e7b6,#f8e7b6,#f8e7b6,#f8e7b6,#f8e7b6,#f8e7b6,#f8e7b6,#f8e7b6,#f8e7b6,#f7e7b9,#f6e8bc,#f5e8c0)"></i><i style="background:linear-gradient(#f9e6b2,#f9e6b2,#f9e6b2,#f9e6b2,#f9e6b3,#f9e7b5,#f8e7b6,#f8e7b7,#f8e7b8,#f7e7b8,#f7e7b8,#f7e7b9,#f7e7b9,#f7e7b9,#f7e7bb,#f5e8be,#f4e8c1)"></i><i style="background:linear-gradient(#fde5a5,#fde5a5,#fee5a5,#fee5a4,#fce5ab,#f8e7b6,#f5e8c0,#f2e9c4,#f1eac7,#f0eac9,#eeebcb,#eeebcb,#eeebcb,#eeebcc,#edebcd,#ecebce,#ebeccf)"></i><i style="background:linear-gradient(#ffe194,#ffe093,#ffe092,#ffe091,#ffe4a0,#f7e7ba,#efeaca,#e6eed7,#dff0e0,#d9f3e9,#d5f4ee,#d4f4ef,#d4f4ef,#d3f4f0,#d3f4f0,#d2f4f1,#d2f4f1)"></i><i style="background:linear-gradient(#ffda81,#ffda80,#ffd97f,#ffd97e,#ffdf8d,#fce5a9,#f3e9c4,#ebecd0,#e3efdb,#dbf2e6,#d5f4ee,#d4f4ef,#d3f4f0,#d2f4f1,#d2f4f1,#d2f4f2,#d1f4f2)"></i><i style="background:linear-gradient(#ffd070,#ffcf6f,#ffcf6f,#ffce6e,#ffd274,#ffda81,#ffe092,#ffe4a2,#fbe6ad,#f7e7b9,#f4e9c2,#f2e9c4,#f1eac6,#f0eac8,#efeaca,#eeebcb,#edebcc)"></i><i style="background:linear-gradient(#ffc565,#ffc364,#ffc262,#ffc061,#ffc465,#ffc969,#ffce6e,#ffd273,#ffd579,#ffd97f,#ffdd86,#ffde8b,#ffdf90,#ffe195,#ffe299,#ffe39e,#fee4a3)"></i><i style="background:linear-gradient(#ffb557,#ffb456,#ffb355,#ffb254,#ffb356,#ffb95b,#ffc060,#ffc666,#ffc969,#ffcc6c,#ffcf6f,#ffd273,#ffd477,#ffd77c,#ffda80,#ffdc84,#ffdd89)"></i><i style="background:linear-gradient(#ffb154,#ffb053,#ffaf52,#ffae51,#ffaf52,#ffb254,#ffb456,#ffba5b,#ffbf60,#ffc565,#ffc868,#ffcb6b,#ffce6e,#ffd171,#ffd476,#ffd67a,#ffd87d)"></i><i style="background:linear-gradient(#ffb053,#ffaf52,#ffae51,#ffad51,#ffae51,#ffb053,#ffb255,#ffb658,#ffbb5c,#ffc161,#ffc666,#ffc969,#ffcc6c,#ffcf6f,#ffd273,#ffd476,#ffd67a)"></i><i style="background:linear-gradient(#ffb053,#ffaf53,#ffae52,#ffae51,#ffaf52,#ffb154,#ffb456,#ffb95a,#ffbe5f,#ffc464,#ffc868,#ffcb6b,#ffce6e,#ffd171,#ffd376,#ffd67a,#ffd87d)"></i><i style="background:linear-gradient(#ffb355,#ffb255,#ffb154,#ffb053,#ffb254,#ffb658,#ffbd5e,#ffc363,#ffc767,#ffca6a,#ffcd6d,#ffd070,#ffd476,#ffd77c,#ffda81,#ffdc85,#ffde8a)"></i><i style="background:linear-gradient(#ffbb5c,#ffb95b,#ffb85a,#ffb658,#ffbb5c,#ffc263,#ffc868,#ffcc6c,#ffcf6f,#ffd274,#ffd67a,#ffd980,#ffdd86,#ffdf8e,#ffe195,#ffe39b,#ffe4a1)"></i><i style="background:linear-gradient(#ffc767,#ffc666,#ffc666,#ffc565,#ffc868,#ffcc6c,#ffcf6f,#ffd375,#ffd67b,#ffda80,#ffdd86,#ffdf8e,#ffe196,#ffe39e,#fde5a7,#fae6b0,#f7e7ba)"></i><i style="background:linear-gradient(#ffcf6f,#ffcf6f,#ffce6e,#ffce6e,#ffd070,#ffd375,#ffd67a,#ffd97f,#ffdc84,#ffde8a,#ffe090,#ffe298,#ffe49f,#fde5a7,#f9e6b3,#f5e8c1,#f0eac8)"></i><i style="background:linear-gradient(#ffd87e,#ffd87e,#ffd87e,#ffd87e,#ffd97f,#ffdb82,#ffdc84,#ffdd88,#ffdf8e,#ffe093,#ffe298,#ffe49f,#fde5a5,#fbe6ac,#f7e7bb,#f1eac6,#ebecd0)"></i><i style="background:linear-gradient(#ffde8d,#ffde8d,#ffde8d,#ffde8d,#ffde8d,#ffde8c,#ffde8c,#ffdf8e,#ffe094,#ffe299,#ffe39e,#fee4a3,#fce5a9,#fbe6ae,#f6e8be,#efeaca,#e6eed7)"></i><i style="background:linear-gradient(#ffe092,#ffe092,#ffe092,#ffe092,#ffdf90,#ffdf8d,#ffde8b,#ffde8b,#ffe092,#ffe299,#ffe4a0,#fee5a5,#fce5aa,#fae6ae,#f6e8be,#efeac9,#e6eed6)"></i><i style="background:linear-gradient(#ffde8a,#ffde8a,#ffde8a,#ffde8a,#ffdd88,#ffdc85,#ffdb83,#ffdc84,#ffdf8d,#ffe197,#ffe4a0,#fee5a5,#fce5aa,#fae6ae,#f7e7ba,#f2e9c4,#eeebcb)"></i><i style="background:linear-gradient(#ffd476,#ffd476,#ffd476,#ffd476,#ffd477,#ffd578,#ffd67a,#ffd87e,#ffdd88,#ffe194,#ffe4a0,#fee5a5,#fce5aa,#fae6ae,#f8e7b5,#f6e8bc,#f4e8c2)"></i><i style="background:linear-gradient(#ffc868,#ffc868,#ffc868,#ffc868,#ffca6a,#ffcd6d,#ffd070,#ffd477,#ffdb83,#ffe093,#fee4a3,#fce5a8,#fbe6ae,#f9e6b3,#f8e7b8,#f6e8bc,#f5e8c1)"></i><i style="background:linear-gradient(#ffbf60,#ffbf60,#ffbf60,#ffbf60,#ffc464,#ffc969,#ffcd6d,#ffd274,#ffdb83,#ffe298,#fae6af,#f8e7b6,#f6e7bc,#f4e8c1,#f3e9c4,#f1e9c6,#f0eac8)"></i><i style="background:linear-gradient(#ffbe5f,#ffbe5f,#ffbe5f,#ffbe5f,#ffc565,#ffcb6b,#ffd071,#ffd87e,#ffe093,#fbe6ad,#f2e9c4,#f0eac9,#edebcd,#e9edd3,#e6eed7,#e3efdb,#e0f0df)"></i><i style="background:linear-gradient(#ffc566,#ffc566,#ffc566,#ffc566,#ffcb6b,#ffd376,#ffdc86,#ffe39d,#f6e7bc,#edebcd,#dcf2e5,#d5f3ed,#d1f4f3,#cbf4f7,#c7f3f6,#c6f3f6,#c4f2f6)"></i><i style="background:linear-gradient(#ffcc6c,#ffcc6c,#ffcc6c,#ffcc6c,#ffd477,#ffe092,#f9e6b4,#eeebcc,#dbf2e6,#cdf5f7,#b6eef5,#adebf3,#a1e7f0,#92e2ee,#90e2ed,#93e3ee,#96e4ee)"></i><i style="background:linear-gradient(#ffd273,#ffd273,#ffd273,#ffd273,#ffdd89,#f8e7b6,#e7edd5,#d1f4f2,#bceff5,#aaeaf2,#90e2ed,#7edce9,#6ad5e4,#56cde1,#55cce1,#5ccfe2,#64d2e3)"></i><i style="background:linear-gradient(#ffd579,#ffd579,#ffd579,#ffd579,#ffe195,#f1e9c6,#d7f3eb,#bff0f6,#aceaf2,#92e3ee,#79dbe8,#64d2e3,#4ec9e0,#39c1dc,#36c1dc,#40c4dd,#49c8df)"></i></div>
<div class="p" style="left:204px;top:2355.7px;width:703.4px;height:675.072px"><i style="background:linear-gradient(#edebcc,#edebcc,#edebcc,#edebcc,#edebcc,#edebcc,#edebcc,#edebcc,#edebcc,#edebcc,#edebcc,#edebcc,#edebcc,#edebcc,#edebcc,#edebcc,#efeaca)"></i><i style="background:linear-gradient(#edebcc,#edebcc,#edebcc,#edebcc,#edebcc,#edebcc,#edebcc,#edebcc,#edebcc,#edebcc,#edebcc,#edebcc,#edebcc,#edebcc,#edebcc,#edebcc,#efeaca)"></i><i style="background:#edebcc"></i><i style="background:linear-gradient(#edebcc,#edebcc,#edebcc,#edebcc,#edebcc,#edebcc,#edebcc,#edebcc,#edebcc,#edebcc,#edebcc,#edebcc,#edebcc,#edebcc,#edebcc,#edebcc,#e9edd3)"></i><i style="background:linear-gradient(#edebcc,#edebcc,#edebcc,#edebcc,#edebcc,#edebcc,#edebcc,#edebcc,#edebcc,#edebcc,#edebcc,#edebcc,#edebcc,#edebcc,#edebcd,#ececce,#e6eed7)"></i><i style="background:linear-gradient(#edebcc,#edebcc,#edebcc,#edebcc,#edebcc,#edebcc,#edebcc,#edebcc,#edebcc,#edebcc,#edebcc,#edebcc,#edebcc,#edebcc,#ececcf,#e8edd4,#e6eed7)"></i><i style="background:linear-gradient(#edebcc,#edebcc,#edebcc,#edebcc,#edebcc,#edebcc,#edebcc,#edebcc,#edebcd,#edebcd,#edebce,#ecebce,#ececce,#ececcf,#e9edd2,#e5eed8,#e3efdb)"></i><i style="background:linear-gradient(#edebcc,#edebcc,#edebcc,#edebcc,#edebcd,#edebcd,#ecebce,#ececce,#ebeccf,#ebecd0,#eaecd2,#e9edd2,#e9edd3,#e8edd4,#e5eed8,#e2efdc,#dcf2e5)"></i><i style="background:linear-gradient(#edebcc,#edebcc,#edebcc,#edebcc,#edebce,#ebeccf,#eaecd2,#e8edd4,#e8edd5,#e7edd5,#e7eed6,#e6eed6,#e6eed7,#e6eed7,#e1f0dd,#dbf2e6,#d5f3ed)"></i><i style="background:linear-gradient(#edebcc,#edebcd,#ecebce,#ececce,#ebecd0,#e9edd2,#e7edd5,#e6eed7,#e6eed7,#e6eed7,#e6eed7,#e5eed8,#e5eed8,#e5eed9,#ddf1e3,#d5f4ed,#d0f4f3)"></i><i style="background:linear-gradient(#edebcc,#ececce,#ebecd0,#e9edd3,#e8edd5,#e7edd6,#e6eed6,#e6eed7,#e6eed7,#e6eed7,#e6eed7,#e4efda,#e2efdc,#e0f0df,#d7f3eb,#d0f4f4,#c9f4f7)"></i><i style="background:linear-gradient(#edebcc,#ececcf,#eaecd2,#e7eed6,#e6eed7,#e6eed7,#e6eed7,#e6eed7,#e6eed7,#e6eed7,#e6eed7,#e2efdc,#def1e2,#daf2e7,#d2f4f1,#c5f2f6,#bdf0f5)"></i><i style="background:linear-gradient(#edebcc,#ececcf,#eaecd2,#e7eed6,#e6eed7,#e6eed7,#e6eed7,#e6eed7,#e6eed7,#e6eed7,#e6eed7,#e0f0df,#daf2e7,#d6f3ed,#ccf5f7,#b6edf5,#b1ecf3)"></i><i style="background:linear-gradient(#edebcd,#ececcf,#eaedd2,#e7eed6,#e6eed7,#e6eed7,#e6eed7,#e6eed7,#e5eed8,#e5eed9,#e4efd9,#dcf1e4,#d6f3ec,#d1f4f2,#c0f1f6,#abeaf2,#9ee6f0)"></i><i style="background:linear-gradient(#ececcf,#eaecd1,#e8edd4,#e7eed6,#e6eed7,#e6eed7,#e6eed7,#e5eed8,#e3efdb,#e1f0de,#dff0e1,#d6f3ec,#d1f4f2,#caf4f7,#b4edf4,#98e4ef,#87dfeb)"></i><i style="background:linear-gradient(#e8edd4,#e7edd5,#e7eed6,#e6eed7,#e6eed7,#e6eed7,#e6eed7,#e5eed9,#e1f0de,#dcf1e4,#d8f3ea,#d1f4f2,#c9f4f7,#bceff5,#a7e9f1,#84deea,#6fd7e5)"></i><i style="background:linear-gradient(#e6eed7,#e6eed7,#e6eed7,#e6eed7,#e6eed7,#e6eed7,#e6eed7,#e4efda,#def1e2,#d8f3ea,#d4f4ee,#cbf4f7,#bbeff5,#afebf3,#92e2ee,#6bd5e5,#56cde1)"></i><i style="background:linear-gradient(#e7edd5,#e7eed6,#e6eed6,#e6eed7,#e6eed7,#e5eed8,#e5eed9,#e2efdd,#d9f3e9,#d4f4ef,#cef5f5,#bceff5,#aeebf3,#9be5ef,#7cdbe8,#51cbe0,#3ec3dd)"></i><i style="background:linear-gradient(#efeac9,#edebcc,#ebecd0,#e7edd5,#e5eed9,#e2efdc,#e0f0df,#dbf2e6,#d3f4ef,#cdf5f7,#c0f1f6,#aeebf3,#98e4ef,#82dee9,#5fd0e3,#38c1dc,#0bb7d9)"></i><i style="background:linear-gradient(#fae6af,#f6e8be,#f1eac7,#ececcf,#e6eed7,#e0f0df,#dbf2e6,#d5f4ee,#ccf5f7,#bdf0f5,#b1ecf4,#9ae5ef,#81dde9,#63d2e3,#42c5de,#00b4d8,#00add4)"></i><i style="background:linear-gradient(#ffe39d,#fbe6ac,#f6e7bc,#f1e9c6,#ececcf,#e0f0df,#d6f3ec,#cef5f6,#bdf0f5,#afebf3,#9ee6f0,#83deea,#64d2e3,#45c6de,#0cb7d9,#00abd3,#00a0cf)"></i><i style="background:linear-gradient(#ffe39c,#fce5ab,#f7e7ba,#f2e9c5,#eaecd1,#daf2e7,#cff5f4,#bef0f6,#aeebf3,#9ae5ef,#85deea,#66d3e4,#47c7df,#12b8d9,#00add4,#009ece,#0095c9)"></i><i style="background:linear-gradient(#ffe49f,#f8e7b6,#f1eac6,#e9edd2,#daf2e8,#cff5f5,#bef0f6,#aeebf3,#98e4ef,#81dde9,#67d3e4,#49c7df,#19bada,#00aed5,#00a0cf,#0093c7,#0089c1)"></i><i style="background:linear-gradient(#fae6af,#f2e9c5,#e7edd5,#d7f3eb,#cdf5f7,#baeff5,#adebf3,#98e4ef,#81dde9,#66d3e4,#4cc8df,#20bcda,#00afd5,#00a1d0,#0095c9,#0086c0,#007fbc)"></i><i style="background:linear-gradient(#f1eac7,#e6eed7,#d6f3ec,#ccf5f7,#b9eef5,#abeaf2,#96e4ee,#82dde9,#69d4e4,#4fcae0,#34c0dc,#00b1d7,#00a5d1,#0097ca,#0088c1,#007cbb,#0673b7)"></i><i style="background:linear-gradient(#e3efdb,#d4f4ee,#c8f3f7,#b6edf5,#a8e9f2,#94e3ee,#82dde9,#6bd5e5,#54cce1,#3cc3dd,#0bb7d9,#00aad3,#009bcc,#008bc3,#007ebc,#086fb5,#0a68b2)"></i><i style="background:linear-gradient(#d6f3ed,#c8f3f7,#b5edf4,#a6e9f1,#92e2ee,#81dde9,#6cd6e5,#57cde1,#41c4dd,#17b9da,#00b0d6,#00a1d0,#0092c7,#0080bd,#0771b6,#0a63af,#0a5dac)"></i><i style="background:linear-gradient(#cff5f5,#baeff5,#aaeaf2,#93e3ee,#81dde9,#6dd6e5,#5acee2,#45c6de,#23bcdb,#00b2d7,#00a9d3,#009acb,#0089c1,#0377b9,#0a66b1,#0a56a9,#0a53a8)"></i><i style="background:linear-gradient(#c8f3f7,#b2ecf4,#9de6f0,#85deea,#70d7e6,#5dd0e2,#4ac8df,#35c0dc,#01b4d8,#00add4,#00a2d0,#0093c7,#0082be,#086fb5,#0a5bab,#0a47a4,#0a4aa5)"></i><i style="background:linear-gradient(#c4f2f6,#aeebf3,#94e3ee,#79dae7,#62d2e3,#50cae0,#3ec3dd,#17b9da,#00b0d6,#00a6d2,#009ccd,#008cc3,#007cbb,#0a67b1,#0a50a7,#0a3b9d,#0a43a1)"></i><i style="background:linear-gradient(#c2f1f6,#abeaf2,#8de1ec,#6ed6e5,#57cde1,#45c6de,#2ebfdb,#01b4d8,#00acd4,#00a1cf,#0097ca,#0086c0,#0475b8,#0a61ae,#0a48a4,#022892,#0a3d9f)"></i><i style="background:linear-gradient(#c0f1f6,#a8e9f2,#88dfeb,#66d3e4,#4fc9e0,#3dc3dd,#1cbbda,#00b2d7,#00a9d3,#009dcd,#0093c7,#0082be,#0771b6,#0a5dac,#0a43a2,#00228e,#08389c)"></i><i style="background:linear-gradient(#bef0f6,#a5e8f1,#85dfea,#62d1e3,#4ac8df,#37c1dc,#0db7d9,#00afd6,#00a5d1,#009acc,#008fc5,#007fbd,#096db4,#0a5aaa,#0a41a1,#00228e,#08369a)"></i><i style="background:linear-gradient(#bceff5,#a3e8f1,#83deea,#5fd0e2,#46c6de,#2cbedb,#00b4d8,#00add5,#00a2d0,#0098ca,#008ac2,#007cbb,#0a6ab3,#0a58aa,#0a41a1,#00228e,#09389c)"></i><i style="background:linear-gradient(#baeff5,#a1e7f0,#81dde9,#5ccfe2,#43c5de,#24bcdb,#00b3d7,#00acd4,#009fcf,#0095c8,#0087c0,#027aba,#0a69b2,#0a58aa,#0a45a3,#052e96,#0a3f9f)"></i><i style="background:linear-gradient(#b8eef5,#9ee6f0,#7edce9,#5acee2,#40c4dd,#1fbbda,#00b2d7,#00aad3,#009ece,#0092c7,#0084bf,#0278b9,#0a69b3,#0a5aaa,#0a4ba5,#0a40a0,#0a48a4)"></i><i style="background:linear-gradient(#b5edf4,#9be5ef,#7bdbe8,#57cde1,#3fc3dd,#1bbada,#00b2d7,#00aad3,#009dcd,#0091c6,#0083bf,#0279ba,#096db4,#0a61ae,#0a57a9,#0a4ea6,#0a59aa)"></i><i style="background:linear-gradient(#afecf3,#94e3ee,#76d9e7,#55cce1,#3dc3dd,#17b9da,#00b1d7,#00a9d3,#009dcd,#0092c7,#0084bf,#007ebc,#0476b8,#096db4,#0a66b1,#0a60ad,#0a65b0)"></i><i style="background:linear-gradient(#a9eaf2,#8de1ec,#71d7e6,#52cbe0,#3bc2dd,#14b9d9,#00b1d6,#00a9d3,#009ece,#0094c8,#0087c1,#0083bf,#007fbd,#017bba,#0476b8,#0771b6,#086fb5)"></i><i style="background:linear-gradient(#a2e7f1,#89e0eb,#6ed6e5,#51cae0,#3bc2dc,#12b8d9,#00b0d6,#00a9d3,#00a0cf,#0098ca,#008ec4,#008ac2,#0086c0,#0083be,#0081bd,#007fbd,#007cbb)"></i><i style="background:linear-gradient(#9de6f0,#86dfea,#6cd6e5,#51cbe0,#3cc2dd,#16b9da,#00b1d6,#00aad3,#00a3d0,#009ccc,#0095c8,#0091c6,#008ec4,#008ac2,#0089c2,#0089c1,#0086c0)"></i><i style="background:linear-gradient(#98e4ef,#83deea,#6bd5e5,#53cbe0,#3ec3dd,#1bbada,#00b2d7,#00acd4,#00a6d1,#00a0cf,#009acc,#0098ca,#0096c9,#0093c7,#0092c7,#0092c7,#0093c7)"></i><i style="background:linear-gradient(#93e3ee,#81dde9,#6ad5e4,#54cce1,#40c4dd,#21bcda,#00b3d7,#00add5,#00a9d3,#00a4d1,#00a0cf,#009ece,#009ccd,#009bcc,#009acc,#009acc,#009dcd)"></i><i style="background:linear-gradient(#90e2ed,#7fdde9,#6ad5e4,#56cce1,#43c5de,#27bddb,#00b4d8,#00afd5,#00add4,#00aad3,#00a7d2,#00a5d1,#00a3d0,#00a2d0,#00a1cf,#00a1cf,#00a7d2)"></i><i style="background:linear-gradient(#92e2ee,#82dee9,#6ed6e5,#5bcee2,#48c7df,#32bfdc,#06b5d8,#00b0d6,#00afd6,#00aed5,#00add5,#00add4,#00acd4,#00aad3,#00aad3,#00aad3,#00afd6)"></i><i style="background:linear-gradient(#99e5ef,#89e0eb,#78dae7,#66d3e4,#53cbe0,#3fc4dd,#1cbada,#00b3d8,#00b3d7,#00b2d7,#00b2d7,#00b1d7,#00b1d7,#00b1d6,#00b1d6,#00b1d6,#08b6d9)"></i><i style="background:linear-gradient(#a2e7f1,#92e3ee,#84deea,#73d8e6,#61d1e3,#4ec9e0,#3bc2dc,#1fbbda,#18bada,#11b8d9,#0ab6d9,#0db7d9,#10b8d9,#13b8d9,#15b9d9,#15b9d9,#28bddb)"></i><i style="background:linear-gradient(#abeaf2,#9ce6ef,#8de1ec,#7fdde9,#6ed6e5,#5ccfe2,#4ac8df,#3dc3dd,#38c1dc,#2dbfdb,#22bcda,#28bddb,#2fbfdb,#35c0dc,#38c1dc,#38c1dc,#3bc2dd)"></i><i style="background:linear-gradient(#b1ecf3,#a6e9f1,#97e4ef,#89e0eb,#7adbe8,#69d4e4,#58cde1,#4ac8df,#44c6de,#3ec3dd,#38c1dc,#3cc2dd,#3fc4dd,#42c5de,#43c5de,#43c5de,#42c5de)"></i><i style="background:linear-gradient(#b6edf5,#adebf3,#a1e7f0,#93e3ee,#85dfea,#75d9e7,#64d2e3,#56cce1,#4fcae0,#48c7df,#41c4de,#44c6de,#48c7df,#4bc8df,#4bc8df,#4bc8df,#45c6de)"></i><i style="background:linear-gradient(#bceff5,#b2ecf4,#aaeaf2,#9de6f0,#8ee1ed,#80dde9,#6fd6e5,#60d1e3,#58cee1,#51cae0,#49c7df,#4cc8df,#4ec9e0,#51cae0,#51cbe0,#50cae0,#45c6de)"></i><i style="background:linear-gradient(#c3f2f6,#b7eef5,#afebf3,#a5e8f1,#96e4ee,#88dfeb,#78dae7,#69d5e4,#61d1e3,#58cde1,#50cae0,#52cbe0,#54cce1,#56cce1,#55cce1,#54cce1,#45c6de)"></i><i style="background:linear-gradient(#c9f4f7,#bef0f6,#b4edf4,#acebf2,#9ee6f0,#8fe2ed,#81dde9,#73d8e6,#69d4e4,#5fd0e3,#56cde1,#56cde1,#57cde1,#57cde1,#56cde1,#54cce1,#44c5de)"></i><i style="background:linear-gradient(#cef5f6,#c4f2f6,#b8eef5,#b0ecf3,#a6e9f1,#97e4ef,#89e0eb,#7cdbe8,#71d7e6,#66d3e4,#5acee2,#59cee2,#59cee1,#58cde1,#56cde1,#54cce1,#40c4dd)"></i><i style="background:linear-gradient(#d1f4f3,#c9f4f7,#bef0f6,#b4edf4,#aceaf2,#9ee6f0,#90e2ed,#84deea,#78dae7,#6bd5e5,#5ed0e2,#5ccfe2,#5acee2,#58cde1,#56cce1,#54cce1,#3ac2dc)"></i><i style="background:linear-gradient(#d3f4f0,#cdf5f7,#c3f2f6,#b8eef5,#b0ecf3,#a4e8f1,#95e3ee,#89e0eb,#7ddce8,#6fd7e5,#61d1e3,#5ed0e2,#5bcfe2,#58cde1,#56cce1,#54cbe1,#35c0dc)"></i><i style="background:linear-gradient(#d3f4ef,#cef5f6,#c5f2f6,#bbeff5,#b1ecf4,#a7e9f2,#99e5ef,#8ce1ec,#80dde9,#72d8e6,#64d3e3,#61d1e3,#5dcfe2,#59cee1,#56cce1,#53cbe1,#38c1dc)"></i><i style="background:linear-gradient(#d2f4f1,#ccf5f7,#c1f1f6,#b7eef5,#afebf3,#a4e8f1,#97e4ef,#8be0ec,#80dde9,#73d8e6,#67d3e4,#62d2e3,#5dd0e2,#59cee1,#56cce1,#53cbe0,#3fc4dd)"></i><i style="background:linear-gradient(#cef5f6,#c3f2f6,#b8eef5,#b0ecf3,#a8e9f2,#9ce6ef,#90e2ed,#86dfea,#7cdce8,#72d8e6,#67d4e4,#62d2e3,#5ed0e2,#59cee1,#55cce1,#53cbe0,#46c6de)"></i><i style="background:linear-gradient(#c5f2f6,#b9eef5,#b1ecf4,#a9eaf2,#9de6f0,#91e2ed,#86dfeb,#7cdce8,#74d9e7,#6dd6e5,#65d3e3,#61d1e3,#5dcfe2,#59cee1,#55cce1,#52cbe0,#4bc8df)"></i><i style="background:linear-gradient(#bceff5,#b2ecf4,#aaeaf2,#9ee6f0,#91e2ed,#86dfeb,#7adbe8,#70d7e6,#6ad5e4,#65d3e4,#60d1e3,#5dd0e2,#5bcfe2,#58cde1,#55cce1,#52cbe0,#49c7df)"></i><i style="background:linear-gradient(#b5edf4,#acebf2,#a0e7f0,#92e2ee,#87dfeb,#7bdbe8,#6dd6e5,#63d2e3,#60d1e3,#5dcfe2,#5acee2,#59cee1,#58cde1,#58cde1,#55cce1,#52cbe0,#42c5de)"></i><i style="background:linear-gradient(#afecf3,#a4e8f1,#96e4ee,#89e0eb,#7cdce8,#6fd7e6,#62d2e3,#59cee1,#56cde1,#54cce1,#52cbe0,#54cce1,#55cce1,#56cde1,#54cce1,#51cae0,#3ac2dc)"></i><i style="background:linear-gradient(#abeaf2,#9ce6f0,#8ee1ec,#7fdde9,#72d8e6,#66d3e4,#5acee2,#51cae0,#4ec9e0,#4cc9df,#4bc8df,#4dc9df,#4fcae0,#51cae0,#4fcae0,#4bc8df,#28bddb)"></i><i style="background:linear-gradient(#a6e9f1,#95e3ee,#86dfea,#75d9e7,#68d4e4,#5ccfe2,#51cbe0,#49c7df,#47c7de,#45c6de,#43c5de,#44c5de,#45c6de,#46c6de,#44c5de,#40c4dd,#17b9da)"></i><i style="background:linear-gradient(#9fe7f0,#8ee1ed,#7edce9,#6bd5e5,#5ed0e2,#53cbe1,#49c7df,#41c5de,#3fc4dd,#3dc3dd,#3bc2dc,#3ac2dc,#39c1dc,#38c1dc,#34c0dc,#2ebfdb,#09b6d9)"></i><i style="background:linear-gradient(#99e5ef,#88dfeb,#76d9e7,#62d2e3,#55cce1,#4bc8df,#41c4dd,#39c1dc,#36c1dc,#31bfdb,#2bbedb,#27bddb,#23bcda,#1fbbda,#1abada,#15b9d9,#00b4d8)"></i><i style="background:linear-gradient(#93e3ee,#83deea,#6fd7e5,#5bcfe2,#4dc9e0,#43c5de,#38c1dc,#26bddb,#22bcda,#1ebbda,#1abada,#14b9d9,#0fb8d9,#0ab6d9,#05b5d8,#01b4d8,#00b3d8)"></i><i style="background:linear-gradient(#8ee1ec,#7cdce8,#69d4e4,#55cce1,#47c7de,#3cc2dd,#27bddb,#15b9d9,#12b8d9,#10b8d9,#0db7d9,#07b6d8,#00b4d8,#00b3d8,#00b2d7,#00b2d7,#00b3d7)"></i><i style="background:linear-gradient(#88dfeb,#76d9e7,#62d2e3,#4fcae0,#41c4de,#34c0dc,#1bbada,#0ab6d9,#08b6d9,#07b6d8,#06b5d8,#00b4d8,#00b3d7,#00b2d7,#00b1d7,#00b1d6,#00b2d7)"></i><i style="background:linear-gradient(#83deea,#70d7e6,#5dcfe2,#49c8df,#3cc3dd,#2bbedb,#14b9d9,#04b5d8,#02b5d8,#01b4d8,#00b4d8,#00b3d7,#00b2d7,#00b1d6,#00b0d6,#00b0d6,#00b2d7)"></i><i style="background:linear-gradient(#7edce9,#6bd5e5,#58cde1,#44c6de,#38c1dc,#23bcda,#0db7d9,#00b4d8,#00b4d8,#00b3d8,#00b3d8,#00b2d7,#00b1d7,#00b0d6,#00afd6,#00afd5,#00b1d7)"></i><i style="background:linear-gradient(#78dae7,#65d3e4,#52cbe0,#40c4dd,#2ebfdb,#1abada,#07b6d8,#00b3d8,#00b3d7,#00b3d7,#00b2d7,#00b1d7,#00b0d6,#00afd6,#00afd5,#00aed5,#00b1d6)"></i><i style="background:linear-gradient(#73d8e6,#60d1e3,#4ec9e0,#3bc2dd,#25bddb,#13b9d9,#01b4d8,#00b2d7,#00b2d7,#00b2d7,#00b2d7,#00b1d6,#00b0d6,#00afd5,#00aed5,#00aed5,#00b0d6)"></i><i style="background:linear-gradient(#6ed6e5,#5ccfe2,#4ac8df,#39c1dc,#21bcda,#10b8d9,#00b4d8,#00b2d7,#00b2d7,#00b1d7,#00b1d7,#00b0d6,#00afd6,#00aed5,#00aed5,#00add5,#00b0d6)"></i><i style="background:linear-gradient(#69d4e4,#59cee1,#48c7df,#37c1dc,#20bbda,#10b8d9,#00b4d8,#00b2d7,#00b2d7,#00b1d7,#00b1d6,#00b0d6,#00afd6,#00afd5,#00aed5,#00aed5,#00b1d6)"></i><i style="background:linear-gradient(#65d3e3,#55cce1,#46c6de,#36c0dc,#20bbda,#11b8d9,#02b4d8,#00b3d7,#00b2d7,#00b1d7,#00b1d6,#00b0d6,#00afd6,#00afd5,#00afd5,#00aed5,#00b1d7)"></i><i style="background:linear-gradient(#60d1e3,#52cbe0,#44c6de,#34c0dc,#20bbda,#12b8d9,#04b5d8,#00b3d7,#00b2d7,#00b1d7,#00b1d6,#00b0d6,#00b0d6,#00afd6,#00afd5,#00afd6,#00b2d7)"></i><i style="background:linear-gradient(#5ccfe2,#4fcae0,#42c5de,#33c0dc,#20bbda,#13b8d9,#05b5d8,#00b3d8,#00b2d7,#00b1d7,#00b0d6,#00b0d6,#00b0d6,#00afd6,#00afd6,#00b0d6,#00b2d7)"></i><i style="background:linear-gradient(#58cde1,#4cc9df,#41c4dd,#31bfdc,#20bbda,#14b9d9,#07b6d9,#00b4d8,#00b3d7,#00b1d7,#00b0d6,#00b0d6,#00b0d6,#00b0d6,#00b0d6,#00b0d6,#00b2d7)"></i><i style="background:linear-gradient(#55cce1,#4bc8df,#40c4dd,#31bfdb,#20bcda,#15b9d9,#09b6d9,#00b4d8,#00b3d7,#00b1d7,#00b0d6,#00b0d6,#00b0d6,#00b0d6,#00b0d6,#00b1d6,#00b3d7)"></i><i style="background:linear-gradient(#55cce1,#4ac8df,#3fc4dd,#30bfdb,#21bcda,#16b9da,#0bb7d9,#01b4d8,#00b3d7,#00b2d7,#00b0d6,#00b0d6,#00b0d6,#00b0d6,#00b1d6,#00b2d7,#00b3d8)"></i><i style="background:linear-gradient(#55cce1,#4ac8df,#3fc4dd,#30bfdb,#21bcda,#17b9da,#0db7d9,#04b5d8,#00b3d8,#00b2d7,#00b1d7,#00b1d7,#00b1d7,#00b2d7,#00b2d7,#00b3d7,#02b4d8)"></i><i style="background:linear-gradient(#54cce1,#4ac8df,#3fc4dd,#30bfdb,#21bcda,#16b9da,#0cb7d9,#03b5d8,#00b4d8,#00b3d7,#00b2d7,#00b2d7,#00b3d7,#00b3d7,#00b3d8,#00b4d8,#08b6d9)"></i><i style="background:linear-gradient(#54cce1,#4ac8df,#3fc4dd,#30bfdb,#1fbbda,#12b8d9,#05b5d8,#00b3d8,#00b3d8,#00b3d8,#00b3d8,#00b3d8,#00b4d8,#00b4d8,#03b5d8,#07b6d9,#0db7d9)"></i><i style="background:linear-gradient(#54cce1,#4ac8df,#3fc4dd,#2fbfdb,#1cbbda,#0db7d9,#00b4d8,#00b2d7,#00b3d7,#00b3d8,#01b4d8,#03b5d8,#05b5d8,#08b6d9,#0bb6d9,#0eb7d9,#13b8d9)"></i><i style="background:linear-gradient(#54cce1,#49c7df,#3ec3dd,#2cbedb,#18bada,#08b6d9,#00b3d7,#00b2d7,#00b2d7,#00b4d8,#05b5d8,#07b6d9,#09b6d9,#0cb7d9,#0fb7d9,#13b8d9,#17b9da)"></i><i style="background:linear-gradient(#54cce1,#48c7df,#3cc3dd,#27bddb,#13b8d9,#03b5d8,#00b2d7,#00b1d7,#00b2d7,#00b4d8,#08b6d9,#0ab6d9,#0cb7d9,#0eb7d9,#11b8d9,#16b9da,#1bbada)"></i><i style="background:linear-gradient(#54cce1,#48c7df,#3bc2dd,#23bcda,#0fb8d9,#00b4d8,#00b2d7,#00b1d6,#00b2d7,#00b4d8,#0bb7d9,#0db7d9,#0eb7d9,#0fb8d9,#13b8d9,#18bada,#1ebbda)"></i><i style="background:linear-gradient(#54cce1,#48c7df,#3cc2dd,#24bcdb,#11b8d9,#03b5d8,#00b2d7,#00b2d7,#00b3d8,#04b5d8,#0eb7d9,#0fb8d9,#10b8d9,#11b8d9,#15b9da,#1bbada,#22bcda)"></i><i style="background:linear-gradient(#54cce1,#48c7df,#3dc3dd,#2abedb,#19bada,#0db7d9,#00b4d8,#00b3d8,#02b4d8,#09b6d9,#12b8d9,#12b8d9,#12b8d9,#13b8d9,#17b9da,#1dbbda,#25bddb)"></i><i style="background:linear-gradient(#53cbe0,#49c7df,#3fc4dd,#33c0dc,#24bcdb,#19bada,#0eb7d9,#07b6d9,#0bb7d9,#10b8d9,#14b9d9,#14b9d9,#14b9d9,#14b9d9,#18bada,#1fbbda,#27bddb)"></i><i style="background:linear-gradient(#51cae0,#49c7df,#41c4de,#39c1dc,#2ebfdb,#23bcdb,#19bada,#12b8d9,#13b8d9,#15b9d9,#16b9da,#16b9da,#15b9da,#14b9d9,#19bada,#20bbda,#28bddb)"></i><i style="background:linear-gradient(#4ec9e0,#48c7df,#42c5de,#3cc2dd,#35c0dc,#2abedb,#20bbda,#19bada,#18bada,#18bada,#18bada,#17b9da,#16b9da,#15b9d9,#19bada,#20bbda,#28bddb)"></i><i style="background:linear-gradient(#4cc9df,#47c7de,#41c5de,#3cc3dd,#37c1dc,#2dbfdb,#24bcdb,#1dbbda,#1cbbda,#1bbada,#1bbada,#19bada,#17b9da,#15b9d9,#19bada,#20bbda,#28bddb)"></i><i style="background:linear-gradient(#4ac8df,#45c6de,#40c4dd,#3cc2dd,#37c1dc,#2fbfdb,#27bddb,#21bcda,#20bbda,#1ebbda,#1dbbda,#1abada,#17b9da,#15b9d9,#19bada,#20bbda,#28bddb)"></i><i style="background:linear-gradient(#47c7df,#43c5de,#3fc4dd,#3bc2dc,#37c1dc,#31bfdb,#2abedb,#26bddb,#24bcdb,#22bcda,#1fbbda,#1cbada,#18bada,#15b9da,#19bada,#20bbda,#28bddb)"></i><i style="background:linear-gradient(#46c6de,#42c5de,#3ec3dd,#3ac2dc,#37c1dc,#33c0dc,#2ebfdb,#2abedb,#29bddb,#26bddb,#23bcda,#1ebbda,#1abada,#16b9da,#19bada,#20bbda,#28bddb)"></i><i style="background:linear-gradient(#46c6de,#42c5de,#3ec3dd,#3ac2dc,#38c1dc,#35c0dc,#32c0dc,#2fbfdb,#2ebfdb,#2bbedb,#27bddb,#21bcda,#1cbada,#16b9da,#18bada,#1fbbda,#27bddb)"></i><i style="background:linear-gradient(#45c6de,#42c5de,#3ec3dd,#3ac2dc,#38c1dc,#36c1dc,#35c0dc,#33c0dc,#31bfdb,#2ebfdb,#2bbedb,#23bcdb,#1cbada,#14b9d9,#16b9da,#1bbada,#23bcda)"></i><i style="background:linear-gradient(#46c6de,#42c5de,#3ec3dd,#3ac2dc,#37c1dc,#33c0dc,#2fbfdb,#2bbedb,#26bddb,#23bcdb,#21bcda,#1bbada,#16b9da,#10b8d9,#10b8d9,#14b9d9,#1abada)"></i><i style="background:linear-gradient(#4dc9df,#48c7df,#44c5de,#3fc4dd,#3bc2dd,#37c1dc,#2ebfdb,#24bcdb,#1bbada,#17b9da,#17b9da,#16b9da,#14b9d9,#13b8d9,#14b9d9,#16b9da,#18bada)"></i><i style="background:linear-gradient(#5ccfe2,#57cde1,#53cbe0,#4ec9e0,#49c7df,#44c5de,#3fc3dd,#3ac2dc,#30bfdb,#2bbedb,#2bbedb,#2bbedb,#2abedb,#2abedb,#2abedb,#2abedb,#29bedb)"></i><i style="background:linear-gradient(#73d8e6,#6ed6e5,#68d4e4,#63d2e3,#5dd0e2,#58cde1,#52cbe0,#4dc9e0,#47c7df,#45c6de,#44c6de,#43c5de,#42c5de,#41c4dd,#40c4dd,#3fc4dd,#3ec3dd)"></i><i style="background:linear-gradient(#8ae0ec,#86dfea,#81dde9,#7bdbe8,#75d9e7,#6fd7e6,#69d5e4,#63d2e3,#5ed0e2,#5acee2,#58cde1,#56cde1,#54cce1,#52cbe0,#50cae0,#4ec9e0,#4bc8df)"></i><i style="background:linear-gradient(#9ce5ef,#97e4ef,#92e2ee,#8ee1ec,#89e0eb,#85deea,#80dde9,#7bdbe8,#76d9e7,#72d8e6,#6ed6e5,#6bd5e5,#68d4e4,#65d3e4,#62d2e3,#5fd0e3,#5ccfe2)"></i><i style="background:linear-gradient(#a8e9f2,#a4e8f1,#a0e7f0,#9ce6ef,#98e4ef,#94e3ee,#91e2ed,#8de1ec,#8ae0eb,#86dfeb,#83deea,#81dde9,#7ddce8,#7adbe8,#76d9e7,#73d8e6,#70d7e6)"></i><i style="background:linear-gradient(#afecf3,#aeebf3,#acebf2,#aaeaf2,#a7e9f1,#a4e8f1,#a1e7f0,#9ee6f0,#9be5ef,#98e4ef,#94e3ee,#91e2ed,#8fe1ed,#8ce0ec,#89e0eb,#86dfea,#83deea)"></i><i style="background:linear-gradient(#b7eef5,#b6edf4,#b4edf4,#b3edf4,#b2ecf4,#b0ecf3,#afebf3,#aeebf3,#acebf2,#aaeaf2,#a7e9f1,#a3e8f1,#9fe7f0,#9ce5ef,#98e4ef,#95e3ee,#91e2ed)"></i><i style="background:linear-gradient(#c2f1f6,#c1f1f6,#bff0f6,#bef0f6,#bdf0f5,#bbeff5,#baeff5,#b9eef5,#b8eef5,#b6edf4,#b3edf4,#b0ecf3,#adebf3,#abeaf2,#a7e9f1,#a3e8f1,#9ee6f0)"></i><i style="background:linear-gradient(#cdf5f7,#ccf5f7,#caf4f7,#c9f4f7,#c8f3f7,#c7f3f6,#c6f3f6,#c4f2f6,#c3f2f6,#c0f1f6,#bceff5,#b8eef5,#b5edf4,#b2ecf4,#afebf3,#acebf2,#a9eaf2)"></i><i style="background:linear-gradient(#d1f4f2,#d0f4f3,#cff5f4,#cff5f5,#cef5f6,#ccf5f7,#caf4f7,#c9f4f7,#c7f3f6,#c4f2f6,#c0f1f6,#bceff5,#b8eef5,#b5edf4,#b2ecf4,#b0ecf3,#adebf3)"></i><i style="background:linear-gradient(#d4f4ee,#d3f4f0,#d2f4f1,#d1f4f3,#cff5f4,#cef5f6,#ccf5f7,#c9f4f7,#c7f3f6,#c4f2f6,#c0f1f6,#bceff5,#b8eef5,#b6edf5,#b3edf4,#b1ecf3,#aeebf3)"></i><i style="background:linear-gradient(#d5f3ed,#d4f4ef,#d2f4f1,#d1f4f2,#cff5f4,#cef5f6,#cbf4f7,#c8f3f7,#c6f3f6,#c2f1f6,#bef0f6,#b9eef5,#b6edf5,#b3edf4,#b0ecf3,#aeebf3,#abeaf2)"></i><i style="background:linear-gradient(#d3f4f0,#d1f4f2,#cff5f4,#cef5f6,#cbf4f7,#c7f3f6,#c3f2f6,#c0f1f6,#bceff5,#b8eef5,#b5edf4,#b2ecf4,#afecf3,#acebf2,#a9eaf2,#a5e8f1,#a0e7f0)"></i><i style="background:linear-gradient(#cbf4f7,#c7f3f6,#c3f2f6,#bff0f6,#bbeff5,#b7eef5,#b4edf4,#b2ecf4,#afebf3,#acebf3,#aaeaf2,#a6e9f1,#a2e7f0,#9ee6f0,#9ae5ef,#95e3ee,#92e2ed)"></i><i style="background:linear-gradient(#b9eef5,#b6edf5,#b3edf4,#b0ecf3,#adebf3,#abeaf2,#a7e9f1,#a2e8f1,#9ee6f0,#9ae5ef,#97e4ef,#93e3ee,#90e2ed,#8de1ec,#8ae0eb,#86dfeb,#83deea)"></i><i style="background:linear-gradient(#aeebf3,#abeaf2,#a7e9f2,#a3e8f1,#9fe6f0,#9ae5ef,#96e4ee,#92e2ed,#8ee1ed,#8be0ec,#88dfeb,#85deea,#82dde9,#7edce9,#7adbe8,#77d9e7,#73d8e6)"></i><i style="background:linear-gradient(#a1e7f0,#9de6f0,#99e5ef,#95e3ee,#91e2ed,#8de1ec,#89e0eb,#85deea,#81dde9,#7ddce8,#7adbe8,#76d9e7,#72d8e6,#6ed6e5,#6ad5e5,#67d3e4,#62d2e3)"></i><i style="background:linear-gradient(#94e3ee,#91e2ed,#8de1ec,#89e0eb,#85dfea,#81dde9,#7cdce8,#78dae7,#73d8e6,#6fd7e5,#6bd5e5,#67d4e4,#63d2e3,#5fd0e3,#5bcfe2,#57cde1,#53cbe0)"></i><i style="background:linear-gradient(#8be0ec,#87dfeb,#83deea,#7fdde9,#7adbe8,#75d9e7,#70d7e6,#6bd5e5,#66d3e4,#62d1e3,#5ed0e2,#59cee2,#55cce1,#51cae0,#4cc9df,#48c7df,#43c5de)"></i><i style="background:linear-gradient(#82dee9,#7edce9,#7adbe8,#75d9e7,#71d7e6,#6cd6e5,#68d4e4,#63d2e3,#5fd0e3,#5bcee2,#56cce1,#51cae0,#4cc8df,#47c6de,#42c5de,#3dc3dd,#37c1dc)"></i><i style="background:linear-gradient(#79dae7,#76d9e7,#73d8e6,#71d7e6,#6ed6e5,#6cd5e5,#69d4e4,#66d3e4,#64d2e3,#5fd0e2,#59cee1,#52cbe0,#4cc9df,#46c6de,#40c4dd,#3ac2dc,#2cbedb)"></i><i style="background:linear-gradient(#79dae8,#78dae7,#77dae7,#75d9e7,#74d9e7,#73d8e6,#71d8e6,#70d7e6,#6fd7e5,#6ad5e4,#63d2e3,#5ccfe2,#56cce1,#4fcae0,#49c7df,#42c5de,#3bc2dd)"></i><i style="background:linear-gradient(#82deea,#81dde9,#80dde9,#7fdde9,#7edce9,#7cdce8,#7bdbe8,#7adbe8,#78dae7,#74d9e7,#6fd7e5,#6ad5e4,#65d3e4,#60d1e3,#5ccfe2,#57cde1,#52cbe0)"></i><i style="background:linear-gradient(#8ae0ec,#89e0eb,#88dfeb,#86dfeb,#85dfea,#84deea,#83deea,#81dde9,#80dde9,#7edce8,#7adbe8,#77dae7,#74d9e7,#71d7e6,#6ed6e5,#6bd5e5,#68d4e4)"></i><i style="background:linear-gradient(#8fe2ed,#8ee1ed,#8de1ec,#8ce0ec,#8ae0ec,#89e0eb,#88dfeb,#87dfeb,#85dfea,#84deea,#82dee9,#80dde9,#7edce9,#7ddce8,#7adbe8,#78dae7,#76d9e7)"></i><i style="background:linear-gradient(#93e3ee,#92e2ed,#91e2ed,#8fe2ed,#8ee1ed,#8de1ec,#8ce0ec,#8ae0ec,#89e0eb,#88dfeb,#87dfeb,#86dfea,#84deea,#83deea,#82deea,#81dde9,#7fdde9)"></i><i style="background:linear-gradient(#96e4ee,#95e3ee,#94e3ee,#92e3ee,#91e2ed,#90e2ed,#8fe1ed,#8de1ec,#8ce1ec,#8be0ec,#8ae0ec,#8ae0eb,#89e0eb,#88e0eb,#88dfeb,#87dfeb,#86dfea)"></i><i style="background:linear-gradient(#9ae5ef,#98e4ef,#97e4ef,#96e4ee,#94e3ee,#93e3ee,#92e2ed,#90e2ed,#8fe2ed,#8fe1ed,#8ee1ed,#8ee1ec,#8ee1ec,#8de1ec,#8de1ec,#8de1ec,#8ce1ec)"></i><i style="background:linear-gradient(#9ee6f0,#9ce6ef,#9be5ef,#99e5ef,#98e4ef,#96e4ee,#95e3ee,#94e3ee,#92e2ee,#92e2ed,#92e2ed,#92e2ee,#92e2ee,#92e2ee,#92e2ee,#92e2ee,#92e3ee)"></i><i style="background:linear-gradient(#a2e8f1,#a1e7f0,#9fe7f0,#9ee6f0,#9ce6ef,#9ae5ef,#99e5ef,#97e4ef,#96e3ee,#95e3ee,#96e4ee,#96e4ee,#97e4ef,#97e4ef,#98e4ef,#98e4ef,#99e5ef)"></i><i style="background:linear-gradient(#a7e9f1,#a5e8f1,#a3e8f1,#a2e7f1,#a0e7f0,#9ee6f0,#9de6f0,#9be5ef,#99e5ef,#99e5ef,#9ae5ef,#9be5ef,#9ce5ef,#9de6f0,#9ee6f0,#9fe6f0,#9fe7f0)"></i><i style="background:linear-gradient(#a9eaf2,#a8e9f2,#a6e9f1,#a5e8f1,#a3e8f1,#a1e7f0,#a0e7f0,#9ee6f0,#9ce6ef,#9ce6f0,#9ee6f0,#9fe7f0,#a0e7f0,#a2e7f0,#a3e8f1,#a4e8f1,#a5e8f1)"></i><i style="background:linear-gradient(#aaeaf2,#a8e9f2,#a7e9f1,#a5e9f1,#a4e8f1,#a2e8f1,#a1e7f0,#9fe7f0,#9ee6f0,#9ee6f0,#a0e7f0,#a1e7f0,#a3e8f1,#a4e8f1,#a6e9f1,#a7e9f1,#a8e9f2)"></i><i style="background:linear-gradient(#aaeaf2,#a8e9f2,#a7e9f1,#a5e8f1,#a4e8f1,#a2e8f1,#a1e7f0,#9fe7f0,#9ee6f0,#9ee6f0,#a0e7f0,#a1e7f0,#a3e8f1,#a4e8f1,#a5e9f1,#a7e9f1,#a8e9f2)"></i><i style="background:linear-gradient(#a9eaf2,#a8e9f2,#a6e9f1,#a5e8f1,#a3e8f1,#a2e7f0,#a0e7f0,#9fe6f0,#9de6f0,#9de6f0,#9fe6f0,#a0e7f0,#a1e7f0,#a3e8f1,#a4e8f1,#a5e8f1,#a6e9f1)"></i><i style="background:linear-gradient(#a9eaf2,#a7e9f2,#a6e9f1,#a4e8f1,#a3e8f1,#a1e7f0,#a0e7f0,#9ee6f0,#9ce6ef,#9ce6f0,#9ee6f0,#9fe6f0,#a0e7f0,#a1e7f0,#a2e8f1,#a3e8f1,#a4e8f1)"></i><i style="background:linear-gradient(#a9eaf2,#a7e9f1,#a5e9f1,#a4e8f1,#a2e7f1,#a0e7f0,#9fe6f0,#9de6f0,#9be5ef,#9be5ef,#9ce6f0,#9ee6f0,#9fe6f0,#a0e7f0,#a1e7f0,#a1e7f0,#a2e8f1)"></i><i style="background:linear-gradient(#a9eaf2,#a7e9f1,#a5e8f1,#a3e8f1,#a1e7f0,#9fe7f0,#9de6f0,#9be5ef,#99e5ef,#99e5ef,#9ae5ef,#9be5ef,#9ce6ef,#9de6f0,#9ee6f0,#9ee6f0,#9fe7f0)"></i><i style="background:linear-gradient(#a8e9f2,#a6e9f1,#a4e8f1,#a2e7f0,#a0e7f0,#9ee6f0,#9be5ef,#99e5ef,#97e4ee,#96e4ee,#97e4ef,#98e4ef,#99e4ef,#99e5ef,#9ae5ef,#9ae5ef,#9be5ef)"></i><i style="background:linear-gradient(#a8e9f2,#a5e9f1,#a3e8f1,#a0e7f0,#9ee6f0,#9ce5ef,#99e5ef,#97e4ef,#94e3ee,#94e3ee,#94e3ee,#94e3ee,#95e3ee,#95e3ee,#95e3ee,#96e4ee,#96e4ee)"></i><i style="background:linear-gradient(#a7e9f1,#a4e8f1,#a1e7f0,#9fe6f0,#9ce6ef,#99e5ef,#97e4ef,#94e3ee,#91e2ed,#91e2ed,#91e2ed,#91e2ed,#91e2ed,#91e2ed,#92e2ed,#92e2ed,#92e2ed)"></i><i style="background:linear-gradient(#a2e7f1,#a0e7f0,#9de6f0,#9ae5ef,#98e4ef,#95e3ee,#93e3ee,#90e2ed,#8ee1ec,#8de1ec,#8de1ec,#8ee1ec,#8ee1ec,#8ee1ed,#8ee1ed,#8fe1ed,#8fe1ed)"></i><i style="background:linear-gradient(#9ae5ef,#98e4ef,#96e3ee,#94e3ee,#91e2ed,#8fe2ed,#8de1ec,#8be0ec,#89e0eb,#88e0eb,#89e0eb,#8ae0eb,#8ae0ec,#8be0ec,#8ce0ec,#8ce1ec,#8de1ec)"></i><i style="background:linear-gradient(#90e2ed,#8ee1ed,#8de1ec,#8ce0ec,#8ae0eb,#88dfeb,#87dfeb,#85deea,#83deea,#83deea,#85deea,#86dfea,#87dfeb,#88dfeb,#89e0eb,#8ae0eb,#8be0ec)"></i><i style="background:linear-gradient(#85dfea,#84deea,#83deea,#83deea,#82dee9,#81dde9,#80dde9,#7fdce9,#7ddce8,#7edce9,#80dde9,#81dde9,#83deea,#84deea,#86dfea,#87dfeb,#89e0eb)"></i><i style="background:linear-gradient(#79dbe8,#79dae8,#79dae7,#78dae7,#78dae7,#77dae7,#77dae7,#76d9e7,#76d9e7,#77dae7,#79dbe8,#7cdbe8,#7edce9,#80dde9,#82deea,#84deea,#86dfeb)"></i><i style="background:linear-gradient(#6fd7e5,#6ed6e5,#6ed6e5,#6dd6e5,#6dd6e5,#6cd6e5,#6cd5e5,#6bd5e5,#6bd5e5,#6dd6e5,#70d7e6,#73d8e6,#76d9e7,#79dae8,#7cdce8,#7fdde9,#82deea)"></i><i style="background:linear-gradient(#66d3e4,#65d3e4,#64d3e3,#64d2e3,#63d2e3,#62d2e3,#62d1e3,#61d1e3,#61d1e3,#63d2e3,#67d3e4,#6ad5e5,#6ed6e5,#72d8e6,#76d9e7,#7adbe8,#7edce9)"></i><i style="background:linear-gradient(#61d1e3,#61d1e3,#60d1e3,#60d1e3,#60d0e3,#5fd0e3,#5fd0e2,#5ed0e2,#5ed0e2,#61d1e3,#65d3e4,#6ad5e4,#6ed6e5,#73d8e6,#77dae7,#7cdbe8,#80dde9)"></i><i style="background:linear-gradient(#65d3e3,#65d3e3,#65d3e3,#64d2e3,#64d2e3,#64d2e3,#64d2e3,#63d2e3,#63d2e3,#66d3e4,#6bd5e5,#70d7e6,#75d9e7,#79dae8,#7edce9,#83deea,#87dfeb)"></i><i style="background:linear-gradient(#6dd6e5,#6dd6e5,#6cd6e5,#6cd6e5,#6cd6e5,#6cd6e5,#6cd5e5,#6cd5e5,#6cd5e5,#6fd7e5,#73d8e6,#78dae7,#7cdce8,#81dde9,#85deea,#89e0eb,#8de1ec)"></i><i style="background:linear-gradient(#76d9e7,#76d9e7,#76d9e7,#76d9e7,#76d9e7,#77d9e7,#77dae7,#77dae7,#77dae7,#79dae8,#7ddce8,#81dde9,#84deea,#88dfeb,#8be0ec,#8fe1ed,#92e2ed)"></i><i style="background:linear-gradient(#83deea,#83deea,#83deea,#83deea,#83deea,#83deea,#83deea,#83deea,#83deea,#85deea,#87dfeb,#8ae0ec,#8de1ec,#90e2ed,#93e3ee,#96e4ee,#99e5ef)"></i><i style="background:linear-gradient(#91e2ed,#90e2ed,#90e2ed,#90e2ed,#90e2ed,#8fe2ed,#8fe1ed,#8ee1ed,#8ee1ec,#90e2ed,#92e3ee,#95e3ee,#98e4ef,#9ae5ef,#9de6f0,#a0e7f0,#a2e8f1)"></i><i style="background:linear-gradient(#a1e7f0,#a0e7f0,#9fe7f0,#9ee6f0,#9ee6f0,#9de6f0,#9ce6ef,#9be5ef,#9ae5ef,#9ce5ef,#9fe6f0,#a1e7f0,#a4e8f1,#a6e9f1,#a9eaf2,#abeaf2,#adebf3)"></i><i style="background:linear-gradient(#adebf3,#adebf3,#acebf2,#abeaf2,#abeaf2,#aaeaf2,#a9eaf2,#a8e9f2,#a7e9f2,#a9eaf2,#abeaf2,#adebf3,#aeebf3,#b0ecf3,#b2ecf4,#b3edf4,#b5edf4)"></i><i style="background:linear-gradient(#b4edf4,#b3edf4,#b3edf4,#b3edf4,#b2ecf4,#b2ecf4,#b2ecf4,#b1ecf4,#b1ecf3,#b2ecf4,#b4edf4,#b6edf5,#b8eef5,#baeff5,#bdf0f5,#bff0f6,#c2f1f6)"></i><i style="background:linear-gradient(#baeff5,#baeff5,#baeff5,#baeff5,#baeff5,#baeff5,#baeff5,#baeff5,#baeff5,#bceff5,#bff0f6,#c1f1f6,#c4f2f6,#c6f3f6,#c9f4f7,#cbf4f7,#cef5f6)"></i><i style="background:linear-gradient(#c1f1f6,#c1f1f6,#c2f1f6,#c3f2f6,#c3f2f6,#c4f2f6,#c5f2f6,#c5f2f6,#c6f3f6,#c7f3f6,#c9f4f7,#cbf4f7,#cdf5f7,#cef5f6,#cff5f5,#d0f4f4,#d1f4f2)"></i><i style="background:linear-gradient(#c6f3f6,#c7f3f6,#c8f3f7,#c9f4f7,#cbf4f7,#ccf5f7,#cdf5f7,#cef5f6,#cef5f6,#cff5f5,#cff5f4,#d0f5f4,#d0f4f3,#d1f4f3,#d1f4f2,#d2f4f1,#d2f4f1)"></i><i style="background:linear-gradient(#cbf4f7,#ccf5f7,#cdf5f7,#cef5f6,#cff5f5,#d0f5f4,#d0f4f3,#d1f4f2,#d2f4f1,#d2f4f1,#d2f4f1,#d2f4f1,#d2f4f1,#d3f4f0,#d3f4f0,#d3f4f0,#d3f4f0)"></i><i style="background:linear-gradient(#cff5f5,#cff5f4,#d0f4f3,#d1f4f3,#d1f4f2,#d2f4f1,#d3f4f0,#d4f4ef,#d4f4ee,#d5f4ee,#d5f4ee,#d4f4ee,#d4f4ef,#d4f4ef,#d4f4ef,#d4f4ef,#d4f4ef)"></i><i style="background:linear-gradient(#d2f4f1,#d2f4f1,#d3f4f0,#d4f4ef,#d4f4ee,#d5f4ed,#d6f3ed,#d7f3ec,#d7f3eb,#d7f3eb,#d7f3eb,#d6f3ec,#d6f3ed,#d5f4ed,#d5f4ee,#d4f4ee,#d4f4ef)"></i><i style="background:linear-gradient(#d5f4ed,#d6f3ec,#d7f3ec,#d7f3eb,#d8f3ea,#d9f2e8,#dbf2e6,#dcf2e5,#ddf1e3,#ddf1e4,#dbf2e6,#d9f3e8,#d8f3ea,#d7f3ec,#d6f3ed,#d5f4ed,#d4f4ef)"></i><i style="background:linear-gradient(#d9f3e9,#daf2e7,#dbf2e6,#ddf1e4,#def1e2,#dff0e0,#e0f0de,#e2efdd,#e3efdb,#e2efdc,#e0f0e0,#ddf1e3,#dbf2e6,#d8f3e9,#d7f3eb,#d6f3ed,#d4f4ee)"></i><i style="background:linear-gradient(#def1e2,#dff1e1,#e0f0e0,#e1f0de,#e1f0dd,#e2efdc,#e3efda,#e4eed9,#e6eed7,#e4efd9,#e2efdd,#dff0e1,#dcf1e4,#daf2e8,#d8f3eb,#d6f3ec,#d5f4ee)"></i><i style="background:linear-gradient(#e2efdd,#e2efdc,#e3efdb,#e3efdb,#e4efda,#e4efd9,#e5eed9,#e5eed8,#e6eed7,#e4efd9,#e1f0dd,#dff1e1,#dcf2e5,#d9f3e9,#d7f3eb,#d6f3ed,#d4f4ef)"></i><i style="background:linear-gradient(#e3efda,#e4efda,#e4efd9,#e4eed9,#e5eed9,#e5eed8,#e5eed8,#e6eed7,#e6eed7,#e4efda,#e0f0df,#ddf1e3,#daf2e8,#d7f3eb,#d5f4ed,#d3f4ef,#d1f4f2)"></i><i style="background:linear-gradient(#e4efda,#e4efd9,#e4eed9,#e4eed9,#e5eed9,#e5eed8,#e5eed8,#e5eed8,#e5eed8,#e2efdc,#def1e1,#daf2e7,#d7f3eb,#d5f4ee,#d2f4f1,#d0f4f3,#cef5f6)"></i><i style="background:linear-gradient(#e4eed9,#e4efda,#e4efda,#e3efda,#e3efdb,#e3efdb,#e3efdb,#e3efdb,#e2efdc,#dff0e0,#daf2e7,#d7f3eb,#d4f4ef,#d2f4f2,#cff5f5,#ccf5f7,#c7f3f6)"></i><i style="background:linear-gradient(#e5eed8,#e4efda,#e3efdc,#e1f0dd,#e0f0df,#dff0e0,#def1e1,#ddf1e3,#dcf2e5,#d8f3ea,#d5f3ed,#d3f4f0,#d0f4f3,#cdf5f7,#c8f3f7,#c3f2f6,#bef0f6)"></i><i style="background:linear-gradient(#e6eed7,#e3efdb,#e1f0de,#dff0e1,#ddf1e4,#dbf2e6,#d9f3e9,#d7f3eb,#d6f3ed,#d3f4ef,#d1f4f3,#cef5f6,#caf4f7,#c5f2f6,#bff0f6,#baeff5,#b6edf5)"></i><i style="background:linear-gradient(#e4efda,#e1f0dd,#def1e1,#dbf2e5,#d9f3e9,#d7f3eb,#d5f3ed,#d4f4ef,#d2f4f1,#d0f5f4,#ccf5f7,#c7f3f6,#c2f1f6,#bdf0f5,#b8eef5,#b4edf4,#b1ecf3)"></i><i style="background:linear-gradient(#e0f0de,#def1e2,#dbf2e6,#d8f3ea,#d6f3ec,#d5f4ee,#d3f4f0,#d1f4f2,#d0f4f4,#cdf5f7,#c8f3f7,#c3f2f6,#bef0f6,#b9eef5,#b5edf4,#b2ecf4,#aeebf3)"></i></div>
<div class="p" style="left:956.8px;top:2355.7px;width:701.6px;height:674.4px"><i style="background:linear-gradient(#edebcc,#edebcc,#edebcc,#edebcc,#edebcc,#edebcc,#edebcc,#edebcc,#edebcc,#edebcc,#edebcc,#edebcc,#edebcd,#edebcd,#eeebcb,#efeac9,#f1eac6)"></i><i style="background:linear-gradient(#edebcc,#edebcc,#edebcc,#edebcc,#edebcc,#edebcc,#edebcc,#edebcc,#edebcc,#edebcc,#edebcc,#edebcc,#edebcd,#edebcd,#eeebcb,#efeac9,#f1eac6)"></i><i style="background:linear-gradient(#efebca,#efebca,#efebca,#efebca,#efebca,#efebca,#efebca,#efebca,#efebca,#efebca,#efebca,#eeebcb,#eeebcc,#edebcd,#eeebcb,#efeac9,#f1eac6)"></i><i style="background:linear-gradient(#f1e9c6,#f1e9c6,#f1e9c6,#f1e9c6,#f1e9c6,#f1e9c6,#f1e9c6,#f1e9c6,#f1e9c6,#f1e9c6,#f1e9c6,#f0eac8,#efeaca,#eeebcc,#eeebcb,#f0eac9,#f1eac6)"></i><i style="background:linear-gradient(#f3e9c4,#f3e9c4,#f3e9c4,#f3e9c4,#f3e9c4,#f3e9c4,#f3e9c4,#f3e9c4,#f3e9c4,#f3e9c4,#f3e9c4,#f2e9c6,#f0eac7,#efeac9,#efeac9,#efeac9,#efeac9)"></i><i style="background:linear-gradient(#f3e9c4,#f3e9c4,#f3e9c4,#f3e9c4,#f3e9c4,#f3e9c4,#f3e9c4,#f3e9c4,#f3e9c4,#f3e9c4,#f3e9c4,#f2e9c4,#f2e9c5,#f2e9c5,#f0eac8,#eeebcb,#ececcf)"></i><i style="background:linear-gradient(#f3e9c4,#f3e9c4,#f3e9c4,#f3e9c4,#f3e9c4,#f3e9c4,#f3e9c4,#f3e9c4,#f3e9c4,#f3e9c4,#f3e9c4,#f3e9c4,#f3e9c4,#f3e9c4,#f0eac7,#edebcd,#e9edd3)"></i><i style="background:linear-gradient(#f3e9c4,#f3e9c3,#f4e9c2,#f4e8c2,#f4e8c1,#f5e8c1,#f5e8c0,#f5e8bf,#f5e8bf,#f5e8bf,#f5e8bf,#f4e8c1,#f3e9c2,#f2e9c4,#f0eac8,#edebcd,#e9edd3)"></i><i style="background:linear-gradient(#f3e9c4,#f4e8c1,#f6e8bd,#f8e7b7,#f9e6b4,#f9e6b2,#fae6b0,#fae6af,#fae6af,#fae6af,#fae6af,#f8e7b8,#f5e8c0,#f2e9c5,#efeac9,#edebce,#e9edd3)"></i><i style="background:linear-gradient(#f4e8c1,#f6e7bb,#f9e6b4,#fbe6ac,#fce5a9,#fce5a8,#fde5a7,#fde5a7,#fde5a7,#fde5a7,#fde5a7,#f9e6b3,#f5e8bf,#f1e9c6,#efebca,#ececce,#e9edd3)"></i><i style="background:linear-gradient(#f8e7b6,#fae6b1,#fbe6ac,#fde5a8,#fde5a6,#fde5a6,#fde5a6,#fde5a6,#fde5a6,#fde5a6,#fde5a6,#f9e6b3,#f5e8bf,#f1e9c6,#eeebcb,#ebecd0,#e6eed7)"></i><i style="background:linear-gradient(#fce5aa,#fce5a8,#fde5a7,#fde5a6,#fde5a6,#fde5a6,#fde5a6,#fde5a6,#fde5a6,#fde5a6,#fde5a6,#f9e6b3,#f5e8c0,#f1eac6,#edebcd,#e6eed7,#def1e2)"></i><i style="background:linear-gradient(#fde5a6,#fde5a6,#fde5a5,#fde5a5,#fde5a5,#fde5a5,#fde5a5,#fde5a5,#fde5a6,#fde5a6,#fde5a6,#f8e7b5,#f4e8c2,#efeac9,#eaecd2,#e1f0de,#d8f3ea)"></i><i style="background:linear-gradient(#fde5a5,#fde5a5,#fde5a5,#fee5a5,#fee5a5,#fee5a5,#fde5a5,#fde5a5,#fde5a5,#fde5a5,#fde5a6,#f7e7b8,#f2e9c5,#ececcf,#e4efda,#dbf2e6,#d5f4ee)"></i><i style="background:linear-gradient(#fee4a3,#fee4a3,#fee4a3,#fee4a3,#fee4a4,#fee4a4,#fee5a4,#fee5a5,#fde5a5,#fde5a5,#fde5a6,#f7e7ba,#f1eac7,#eaecd2,#e0f0e0,#d7f3eb,#d1f4f2)"></i><i style="background:linear-gradient(#ffe196,#ffe297,#ffe299,#ffe29a,#ffe39b,#ffe39c,#ffe39e,#ffe49f,#ffe4a1,#fee4a3,#fde5a5,#f7e7b9,#f1eac7,#eaecd2,#def1e2,#d4f4ee,#cdf5f7)"></i><i style="background:linear-gradient(#ffda81,#ffdb83,#ffdc86,#ffdd89,#ffde8b,#ffdf8e,#ffdf90,#ffe093,#ffe299,#ffe49f,#fde5a5,#f7e7b9,#f1eac7,#eaecd1,#dcf2e5,#d1f4f2,#c4f2f6)"></i><i style="background:linear-gradient(#ffd375,#ffd579,#ffd77c,#ffda80,#ffdb82,#ffdc83,#ffdc85,#ffdd89,#ffe092,#ffe39b,#fee5a5,#f7e7ba,#f0eac7,#e9edd3,#d9f3e9,#cef5f6,#baeff5)"></i><i style="background:linear-gradient(#ffcf6f,#ffd273,#ffd578,#ffd77c,#ffd97f,#ffda80,#ffdb82,#ffdc86,#ffdf90,#ffe29a,#fee5a5,#f6e7bb,#efeac9,#e6eed7,#d5f4ed,#c6f3f6,#b2ecf4)"></i><i style="background:linear-gradient(#ffcc6c,#ffce6e,#ffd070,#ffd274,#ffd477,#ffd77b,#ffd97f,#ffdc84,#ffdf8e,#ffe299,#fee5a4,#f6e8be,#edebcc,#e0f0df,#d1f4f2,#bbeff5,#a9eaf2)"></i><i style="background:linear-gradient(#ffc767,#ffc969,#ffca6a,#ffcc6c,#ffcf6f,#ffd274,#ffd67a,#ffda81,#ffde8c,#ffe298,#fee5a4,#f5e8c1,#ebeccf,#daf2e7,#ccf5f7,#b2ecf4,#9ae5ef)"></i><i style="background:linear-gradient(#ffc262,#ffc464,#ffc666,#ffc868,#ffcb6b,#ffd070,#ffd579,#ffdb82,#ffdf8e,#ffe29a,#fce5a8,#f2e9c4,#e6eed7,#d5f4ee,#c1f1f6,#aaeaf2,#8be0ec)"></i><i style="background:linear-gradient(#ffbb5c,#ffbf60,#ffc263,#ffc666,#ffcb6b,#ffd273,#ffda80,#ffdf8f,#ffe39c,#fce5a9,#f8e7b7,#edebcd,#dbf2e6,#cef5f6,#b5edf4,#9be5ef,#7ddce8)"></i><i style="background:linear-gradient(#ffb658,#ffbc5d,#ffc162,#ffc666,#ffcd6d,#ffd67b,#ffdf8f,#fee4a3,#f9e6b3,#f4e8c2,#efeaca,#def1e2,#cff5f4,#bbeff5,#a7e9f2,#8be0ec,#6dd6e5)"></i><i style="background:linear-gradient(#ffb557,#ffbd5e,#ffc565,#ffca6a,#ffd172,#ffdc84,#ffe39d,#f8e7b6,#f1e9c6,#eaecd1,#ddf1e3,#cff5f5,#b9eef5,#a8e9f2,#90e2ed,#78dae7,#5ccfe2)"></i><i style="background:linear-gradient(#ffba5b,#ffc363,#ffc969,#ffce6e,#ffd77c,#ffe091,#fbe5ab,#f3e9c4,#eaedd2,#daf2e8,#d0f5f4,#b9eef5,#a6e9f1,#8ce1ec,#77d9e7,#60d1e3,#4ac8df)"></i><i style="background:linear-gradient(#ffc060,#ffc868,#ffcd6d,#ffd375,#ffdc86,#ffe49f,#f6e8bd,#ecebce,#daf2e7,#cef5f6,#baeff5,#a6e9f1,#8ce1ec,#70d7e6,#5bcfe2,#4ac8df,#39c1dc)"></i><i style="background:linear-gradient(#ffc666,#ffcb6b,#ffd172,#ffd87d,#ffe093,#f9e6b4,#eeebcb,#dcf2e5,#ccf5f7,#b5edf4,#a0e7f0,#88dfeb,#6fd6e5,#53cbe1,#42c5de,#33c0dc,#16b9da)"></i><i style="background:linear-gradient(#ffca6a,#ffcf6f,#ffd67a,#ffdd86,#fee5a5,#f0eac7,#ddf1e4,#ccf5f7,#b2ecf4,#9ae5ef,#7edce9,#68d4e4,#52cbe0,#3cc2dd,#21bcda,#0ab6d9,#00b2d7)"></i><i style="background:linear-gradient(#ffcd6d,#ffd477,#ffdc84,#ffe197,#f6e8bc,#e4efda,#cff5f5,#b4edf4,#9be5ef,#7fdde9,#5fd0e2,#4dc9df,#3bc2dd,#16b9da,#00b3d8,#00b0d6,#00aed5)"></i><i style="background:linear-gradient(#ffd274,#ffdb83,#ffe197,#fbe6ae,#eeebcc,#d5f4ee,#baeff5,#a1e7f0,#85dfea,#66d3e4,#45c6de,#33c0dc,#10b8d9,#00b1d7,#00aed5,#00abd4,#00a7d2)"></i><i style="background:linear-gradient(#ffdc84,#ffe39b,#f8e7b5,#f0eac8,#dbf2e5,#c4f2f6,#aaeaf2,#8ae0ec,#6ed6e5,#50cae0,#28bddb,#07b6d8,#00b0d6,#00abd4,#00a7d2,#00a4d1,#00a1cf)"></i><i style="background:linear-gradient(#ffe4a1,#f5e8bf,#ececce,#dbf2e6,#caf4f7,#aeebf3,#90e2ed,#72d8e6,#57cde1,#3cc3dd,#03b5d8,#00b0d6,#00aad3,#00a3d0,#00a0cf,#009ece,#009ccc)"></i><i style="background:linear-gradient(#f4e8c1,#e8edd3,#d6f3ed,#c8f3f6,#b0ecf3,#95e3ee,#78dae7,#5acee2,#43c5de,#1cbada,#00b0d6,#00abd4,#00a4d1,#009dcd,#009acc,#0098ca,#0097c9)"></i><i style="background:linear-gradient(#e5eed9,#d4f4ef,#c3f2f6,#b1ecf3,#9ae5ef,#80dde9,#61d1e3,#46c6de,#2abedb,#00b3d8,#00add4,#00a6d1,#009fce,#0099cb,#0095c9,#0093c7,#0090c5)"></i><i style="background:linear-gradient(#cff5f5,#bef0f6,#afebf3,#9ee6f0,#87dfeb,#6dd6e5,#51cae0,#36c1dc,#09b6d9,#00afd5,#00a7d2,#00a0cf,#009bcc,#0095c8,#0090c6,#008dc4,#0089c2)"></i><i style="background:linear-gradient(#b8eef5,#adebf3,#9de6f0,#8ce1ec,#77dae7,#5dd0e2,#44c5de,#1cbada,#00b1d7,#00aad3,#00a0cf,#009bcc,#0096c9,#008fc5,#008bc3,#0088c1,#0085bf)"></i><i style="background:linear-gradient(#acebf2,#9ce6ef,#8ce1ec,#7cdbe8,#66d3e4,#4fcae0,#38c1dc,#05b5d8,#00aed5,#00a4d1,#009bcc,#0096c9,#008fc5,#0088c1,#0085c0,#0084bf,#0082be)"></i><i style="background:linear-gradient(#9fe6f0,#8de1ec,#7ddce8,#69d4e4,#55cce1,#41c4de,#1fbbda,#00b2d7,#00aad3,#009fce,#0096c9,#008fc5,#0088c1,#0082be,#0081bd,#0081bd,#0081bd)"></i><i style="background:linear-gradient(#96e3ee,#85deea,#71d7e6,#5dcfe2,#4bc8df,#39c1dc,#11b8d9,#00b0d6,#00a7d2,#009dcd,#0093c7,#008cc3,#0085c0,#007fbd,#007ebc,#007fbd,#0080bd)"></i><i style="background:linear-gradient(#92e2ed,#83deea,#72d8e6,#61d1e3,#4fcae0,#3dc3dd,#1bbada,#00b2d7,#00aad3,#00a0cf,#0097ca,#008fc5,#0086c0,#007fbc,#007dbc,#007fbc,#0080bd)"></i><i style="background:linear-gradient(#93e3ee,#87dfeb,#7bdbe8,#6ed6e5,#5ccfe2,#49c7df,#31bfdc,#05b5d8,#00afd5,#00a7d2,#009ece,#0096c9,#008cc3,#0082be,#007fbd,#007fbd,#0080bd)"></i><i style="background:linear-gradient(#97e4ef,#8de1ec,#84deea,#7adbe8,#68d4e4,#53cbe1,#3ec3dd,#18bada,#00b2d7,#00add4,#00a5d1,#009dcd,#0095c8,#008ac2,#0085bf,#0082be,#007fbd)"></i><i style="background:linear-gradient(#9be5ef,#92e2ee,#8ae0ec,#83deea,#71d8e6,#5ccfe2,#46c6de,#2bbedb,#09b6d9,#00b0d6,#00abd4,#00a3d0,#009ccc,#0095c8,#008dc4,#0086c0,#0080bd)"></i><i style="background:linear-gradient(#9ee6f0,#96e4ee,#8fe1ed,#88dfeb,#78dae7,#63d2e3,#4dc9e0,#3ac2dc,#1ebbda,#00b4d8,#00afd6,#00aad3,#00a3d0,#009dcd,#0096c9,#008cc3,#0082be)"></i><i style="background:linear-gradient(#a0e7f0,#99e5ef,#92e2ed,#8be0ec,#7ddce8,#69d4e4,#54cce1,#42c5de,#31bfdb,#13b8d9,#00b2d7,#00afd5,#00aad3,#00a5d1,#009dcd,#0093c7,#0087c1)"></i><i style="background:linear-gradient(#a3e8f1,#9ce5ef,#94e3ee,#8ee1ec,#81dde9,#6dd6e5,#5acee2,#49c7df,#3cc3dd,#24bcdb,#07b6d8,#00b2d7,#00afd5,#00acd4,#00a3d0,#009acb,#008fc5)"></i><i style="background:linear-gradient(#a6e9f1,#9ee6f0,#97e4ef,#90e2ed,#83deea,#72d8e6,#5fd0e3,#4fcae0,#43c5de,#34c0dc,#17b9da,#05b5d8,#00b2d7,#00b0d6,#00a9d3,#00a0cf,#0097ca)"></i><i style="background:linear-gradient(#a9eaf2,#a1e7f0,#9ae5ef,#92e2ee,#86dfeb,#76d9e7,#65d3e3,#55cce1,#49c7df,#3dc3dd,#28bddb,#1abada,#0bb7d9,#00b3d8,#00afd5,#00a7d2,#009ece)"></i><i style="background:linear-gradient(#adebf3,#a6e9f1,#9de6f0,#94e3ee,#89e0eb,#7adbe8,#6ad5e4,#5bcfe2,#50cae0,#44c6de,#39c1dc,#2ebfdb,#23bcdb,#18bada,#00b3d8,#00aed5,#00a7d2)"></i><i style="background:linear-gradient(#b1ecf4,#abeaf2,#a1e7f0,#97e4ef,#8be0ec,#7edce9,#6fd6e5,#61d1e3,#56cce1,#4bc8df,#40c4dd,#3dc3dd,#3ac2dc,#34c0dc,#1dbbda,#00b4d8,#00afd6)"></i><i style="background:linear-gradient(#b6edf4,#aeebf3,#a5e8f1,#9ae5ef,#8ee1ec,#82dde9,#73d8e6,#66d3e4,#5ccfe2,#52cbe0,#48c7df,#46c6de,#44c5de,#42c5de,#3ac2dc,#23bcda,#09b6d9)"></i><i style="background:linear-gradient(#baeff5,#b1ecf4,#a9eaf2,#9de6f0,#90e2ed,#85deea,#78dae7,#6cd5e5,#63d2e3,#5acee2,#51cae0,#4fcae0,#4ec9e0,#4cc9df,#46c6de,#3dc3dd,#2dbfdb)"></i><i style="background:linear-gradient(#bff0f6,#b4edf4,#aceaf2,#9fe7f0,#93e3ee,#88dfeb,#7ddce8,#71d8e6,#6ad5e4,#62d1e3,#5acee2,#59cee1,#57cde1,#56cce1,#50cae0,#48c7df,#41c4dd)"></i><i style="background:linear-gradient(#c3f2f6,#b7eef5,#aeebf3,#a2e8f1,#96e4ee,#8ce0ec,#81dde9,#77dae7,#71d7e6,#6ad5e4,#64d2e3,#62d2e3,#60d1e3,#5ed0e2,#59cee1,#52cbe0,#4bc8df)"></i><i style="background:linear-gradient(#c7f3f6,#baeff5,#b0ecf3,#a5e9f1,#99e5ef,#8fe2ed,#85dfea,#7ddce8,#78dae7,#73d8e6,#6ed6e5,#6bd5e5,#68d4e4,#65d3e4,#60d1e3,#59cee2,#53cbe0)"></i><i style="background:linear-gradient(#cbf4f7,#bdf0f5,#b2ecf4,#a8e9f2,#9de6f0,#93e3ee,#89e0eb,#82deea,#7fdde9,#7bdbe8,#78dae7,#74d8e6,#70d7e6,#6cd6e5,#66d3e4,#60d0e3,#59cee1)"></i><i style="background:linear-gradient(#cdf5f6,#c0f1f6,#b5edf4,#aceaf2,#a1e7f0,#97e4ef,#8ee1ec,#87dfeb,#84deea,#82deea,#80dde9,#7bdbe8,#76d9e7,#72d8e6,#6bd5e5,#64d3e3,#5dd0e2)"></i><i style="background:linear-gradient(#cff5f5,#c4f2f6,#b8eef5,#afecf3,#a7e9f1,#9ce6f0,#92e2ed,#8be0ec,#89e0eb,#87dfeb,#85dfea,#81dde9,#7bdbe8,#76d9e7,#6fd7e6,#68d4e4,#60d1e3)"></i><i style="background:linear-gradient(#d0f5f4,#c7f3f6,#bceff5,#b4edf4,#acebf2,#a1e7f0,#96e3ee,#8ee1ec,#8ce1ec,#8ae0eb,#88dfeb,#84deea,#7fdde9,#7adbe8,#73d8e6,#6bd5e5,#63d2e3)"></i><i style="background:linear-gradient(#d0f4f3,#c9f4f7,#c0f1f6,#b7eef5,#b0ecf3,#a6e9f1,#99e5ef,#90e2ed,#8ee1ec,#8ce0ec,#89e0eb,#85dfea,#81dde9,#7cdce8,#75d9e7,#6dd6e5,#65d3e4)"></i><i style="background:linear-gradient(#d0f4f3,#cbf4f7,#c3f2f6,#bbeff5,#b2ecf4,#a9eaf2,#9ce5ef,#92e2ee,#90e2ed,#8de1ec,#8be0ec,#87dfeb,#82deea,#7edce9,#77dae7,#6fd7e6,#67d4e4)"></i><i style="background:linear-gradient(#d1f4f2,#cdf5f7,#c5f2f6,#bef0f6,#b4edf4,#aceaf2,#9fe6f0,#94e3ee,#91e2ed,#8fe1ed,#8ce1ec,#88dfeb,#83deea,#7fdde9,#78dae7,#71d7e6,#69d5e4)"></i><i style="background:linear-gradient(#d1f4f2,#cef5f6,#c7f3f6,#c0f1f6,#b6edf5,#adebf3,#a1e7f0,#97e4ee,#93e3ee,#90e2ed,#8de1ec,#89e0eb,#84deea,#80dde9,#79dae8,#72d8e6,#6bd5e5)"></i><i style="background:linear-gradient(#d2f4f2,#cef5f5,#c9f4f7,#c3f2f6,#b8eef5,#afebf3,#a4e8f1,#99e5ef,#95e3ee,#92e2ed,#8ee1ed,#8ae0eb,#85deea,#80dde9,#7adbe8,#73d8e6,#6dd6e5)"></i><i style="background:linear-gradient(#d2f4f1,#cff5f5,#cbf4f7,#c5f2f6,#baeff5,#b0ecf3,#a6e9f1,#9be5ef,#97e4ef,#93e3ee,#8fe2ed,#8ae0ec,#85dfea,#81dde9,#7bdbe8,#74d9e7,#6ed6e5)"></i><i style="background:linear-gradient(#d2f4f1,#cff5f4,#ccf5f7,#c6f3f6,#bceff5,#b1ecf4,#a8e9f2,#9de6f0,#98e4ef,#94e3ee,#90e2ed,#8be0ec,#86dfea,#81dde9,#7bdbe8,#75d9e7,#6fd7e6)"></i><i style="background:linear-gradient(#d3f4f0,#d0f4f4,#cdf5f7,#c7f3f6,#bdf0f5,#b2ecf4,#a9eaf2,#9ee6f0,#99e5ef,#95e3ee,#90e2ed,#8be0ec,#86dfeb,#81dde9,#7cdbe8,#76d9e7,#71d7e6)"></i><i style="background:linear-gradient(#d3f4f0,#d0f4f3,#cdf5f7,#c8f3f7,#bef0f6,#b3edf4,#aaeaf2,#9fe7f0,#9ae5ef,#96e3ee,#91e2ed,#8ce1ec,#87dfeb,#82dee9,#7ddce8,#77dae7,#72d8e6)"></i><i style="background:linear-gradient(#d3f4f0,#d1f4f3,#cef5f6,#c9f4f7,#bff0f6,#b4edf4,#abeaf2,#a1e7f0,#9ce5ef,#96e4ee,#91e2ed,#8ce1ec,#87dfeb,#82deea,#7ddce8,#78dae7,#73d8e6)"></i><i style="background:linear-gradient(#d3f4ef,#d1f4f2,#cef5f5,#cbf4f7,#c0f1f6,#b5edf4,#acebf2,#a2e7f1,#9de6f0,#97e4ef,#92e2ee,#8de1ec,#88dfeb,#83deea,#7edce9,#79dae8,#74d8e6)"></i><i style="background:linear-gradient(#d4f4ef,#d1f4f2,#cff5f5,#ccf5f7,#c1f1f6,#b5edf4,#adebf3,#a3e8f1,#9ee6f0,#98e4ef,#93e3ee,#8de1ec,#88dfeb,#83deea,#7edce9,#7adbe8,#75d9e7)"></i><i style="background:linear-gradient(#d4f4ef,#d1f4f2,#cff5f5,#ccf5f7,#c2f1f6,#b6edf5,#adebf3,#a4e8f1,#9ee6f0,#99e5ef,#93e3ee,#8ee1ed,#89e0eb,#84deea,#80dde9,#7bdbe8,#75d9e7)"></i><i style="background:linear-gradient(#d3f4f0,#d1f4f2,#cff5f5,#ccf5f7,#c2f1f6,#b6edf4,#adebf3,#a3e8f1,#9ee6f0,#99e5ef,#94e3ee,#90e2ed,#8de1ec,#89e0eb,#84deea,#7ddce8,#76d9e7)"></i><i style="background:linear-gradient(#d2f4f2,#cff5f4,#cdf5f7,#caf4f7,#c0f1f6,#b4edf4,#acebf2,#a2e8f1,#9ee6f0,#99e5ef,#95e3ee,#93e3ee,#91e2ed,#8fe1ed,#89e0eb,#81dde9,#77dae7)"></i><i style="background:linear-gradient(#d0f5f4,#cef5f6,#cbf4f7,#c7f3f6,#bef0f6,#b4edf4,#aceaf2,#a3e8f1,#9ee6f0,#9ae5ef,#96e4ee,#95e3ee,#93e3ee,#92e2ee,#8ce1ec,#83deea,#79dae8)"></i><i style="background:linear-gradient(#cef5f6,#cbf4f7,#c8f3f7,#c5f2f6,#bdf0f5,#b4edf4,#acebf2,#a4e8f1,#a0e7f0,#9ce5ef,#97e4ef,#96e4ee,#95e3ee,#94e3ee,#8ee1ec,#85dfea,#7cdbe8)"></i><i style="background:linear-gradient(#cbf4f7,#c8f3f7,#c5f2f6,#c3f2f6,#bbeff5,#b3edf4,#adebf3,#a6e9f1,#a2e7f0,#9de6f0,#98e4ef,#97e4ef,#97e4ee,#96e4ee,#90e2ed,#87dfeb,#7edce9)"></i><i style="background:linear-gradient(#c7f3f6,#c5f2f6,#c3f2f6,#c1f1f6,#baeff5,#b4edf4,#aeebf3,#a9eaf2,#a4e8f1,#9fe6f0,#99e5ef,#99e5ef,#98e4ef,#97e4ef,#91e2ed,#89e0eb,#81dde9)"></i><i style="background:linear-gradient(#c3f2f6,#c2f1f6,#c1f1f6,#c0f1f6,#bbeff5,#b5edf4,#b0ecf3,#abeaf2,#a6e9f1,#a0e7f0,#9be5ef,#9ae5ef,#9ae5ef,#99e5ef,#93e3ee,#8be0ec,#83deea)"></i><i style="background:linear-gradient(#c0f1f6,#c0f1f6,#c1f1f6,#c1f1f6,#bceff5,#b6edf5,#b1ecf4,#adebf3,#a8e9f2,#a2e8f1,#9ce6ef,#9ce5ef,#9be5ef,#9be5ef,#95e3ee,#8de1ec,#85dfea)"></i><i style="background:linear-gradient(#bff0f6,#c0f1f6,#c1f1f6,#c2f1f6,#bef0f6,#b7eef5,#b3edf4,#afebf3,#abeaf2,#a5e8f1,#9fe6f0,#9ee6f0,#9de6f0,#9ce6ef,#97e4ee,#8fe2ed,#88dfeb)"></i><i style="background:linear-gradient(#c0f1f6,#c1f1f6,#c2f1f6,#c3f2f6,#bff0f6,#b9eef5,#b5edf4,#b1ecf3,#adebf3,#a8e9f2,#a2e7f1,#a1e7f0,#9fe7f0,#9ee6f0,#98e4ef,#91e2ed,#8ae0eb)"></i><i style="background:linear-gradient(#c1f1f6,#c2f1f6,#c3f2f6,#c4f2f6,#c1f1f6,#bceff5,#b7eef5,#b3edf4,#afebf3,#abeaf2,#a6e9f1,#a4e8f1,#a2e7f1,#a0e7f0,#9ae5ef,#92e3ee,#8be0ec)"></i><i style="background:linear-gradient(#c2f1f6,#c3f2f6,#c4f2f6,#c6f3f6,#c3f2f6,#bef0f6,#b9eef5,#b5edf4,#b1ecf4,#aeebf3,#aaeaf2,#a7e9f1,#a5e8f1,#a3e8f1,#9ce6f0,#94e3ee,#8de1ec)"></i><i style="background:linear-gradient(#c3f2f6,#c4f2f6,#c6f3f6,#c7f3f6,#c5f2f6,#c1f1f6,#bdf0f5,#b8eef5,#b4edf4,#b0ecf3,#acebf2,#aaeaf2,#a8e9f2,#a5e8f1,#9fe6f0,#96e4ee,#8ee1ed)"></i><i style="background:linear-gradient(#c4f2f6,#c5f2f6,#c7f3f6,#c8f3f7,#c7f3f6,#c3f2f6,#c0f1f6,#bceff5,#b7eef5,#b3edf4,#afebf3,#adebf3,#abeaf2,#a8e9f2,#a1e7f0,#98e4ef,#90e2ed)"></i><i style="background:linear-gradient(#c5f2f6,#c7f3f6,#c8f3f7,#caf4f7,#c8f3f7,#c6f3f6,#c4f2f6,#c0f1f6,#baeff5,#b6edf5,#b2ecf4,#b0ecf3,#adebf3,#abeaf2,#a4e8f1,#9ae5ef,#91e2ed)"></i><i style="background:linear-gradient(#c6f3f6,#c8f3f6,#c9f4f7,#cbf4f7,#cbf4f7,#c9f4f7,#c7f3f6,#c4f2f6,#bef0f6,#b9eef5,#b5edf4,#b3ecf4,#b0ecf3,#aeebf3,#a8e9f2,#9ee6f0,#94e3ee)"></i><i style="background:linear-gradient(#caf4f7,#cbf4f7,#cdf5f7,#cef5f6,#cdf5f7,#ccf5f7,#caf4f7,#c8f3f6,#c2f1f6,#bdf0f5,#b8eef5,#b6edf4,#b3edf4,#b1ecf4,#acebf2,#a2e8f1,#98e4ef)"></i><i style="background:linear-gradient(#d1f4f2,#d1f4f2,#d1f4f3,#d0f4f3,#cff5f4,#cef5f5,#cef5f6,#cbf4f7,#c6f3f6,#c1f1f6,#bceff5,#b9eef5,#b7eef5,#b5edf4,#afecf3,#a7e9f1,#9be5ef)"></i><i style="background:linear-gradient(#d9f3e9,#d7f3ec,#d5f4ee,#d3f4f0,#d1f4f2,#d1f4f3,#d0f4f4,#cef5f5,#cbf4f7,#c6f3f6,#c1f1f6,#bef0f6,#bbeff5,#b8eef5,#b3ecf4,#abeaf2,#9fe7f0)"></i><i style="background:linear-gradient(#e1f0de,#ddf1e3,#d9f3e9,#d6f3ec,#d5f4ee,#d4f4ef,#d3f4f0,#d1f4f2,#cef5f5,#cbf4f7,#c5f2f6,#c3f2f6,#c0f1f6,#bdf0f6,#b6edf4,#aeebf3,#a3e8f1)"></i><i style="background:linear-gradient(#e5eed9,#e2efdc,#e0f0df,#def1e2,#dbf2e5,#d8f3e9,#d7f3ec,#d4f4ee,#d1f4f2,#cef5f5,#caf4f7,#c7f3f6,#c4f2f6,#c2f1f6,#b9eef5,#b0ecf3,#a7e9f2)"></i><i style="background:linear-gradient(#e6eed7,#e5eed8,#e5eed8,#e4eed9,#e2efdc,#dff0e0,#dcf2e5,#d8f3ea,#d5f4ee,#d1f4f2,#cef5f6,#ccf5f7,#c9f4f7,#c6f3f6,#bdf0f5,#b3edf4,#abeaf2)"></i><i style="background:linear-gradient(#e6eed7,#e6eed7,#e6eed7,#e6eed7,#e5eed8,#e3efdb,#e1f0dd,#def1e1,#d9f3e9,#d5f4ed,#d2f4f1,#d0f4f4,#cef5f6,#caf4f7,#c1f1f6,#b6edf5,#aeebf3)"></i><i style="background:linear-gradient(#e6eed7,#e6eed7,#e6eed7,#e6eed7,#e6eed7,#e5eed8,#e5eed8,#e3efdb,#def1e1,#daf2e8,#d6f3ec,#d3f4f0,#d0f4f3,#cdf5f7,#c4f2f6,#b8eef5,#b0ecf3)"></i><i style="background:linear-gradient(#e6eed7,#e6eed7,#e6eed7,#e6eed7,#e6eed7,#e6eed7,#e6eed7,#e5eed9,#e1f0de,#def1e2,#daf2e7,#d5f3ed,#d1f4f2,#cdf5f7,#c3f2f6,#b8eef5,#b0ecf3)"></i><i style="background:linear-gradient(#e6eed7,#e6eed7,#e6eed7,#e6eed7,#e5eed8,#e4eed9,#e4efda,#e2efdc,#e0f0df,#def1e2,#dbf2e6,#d5f3ed,#d1f4f3,#ccf5f7,#c1f1f6,#b6edf5,#aeebf3)"></i><i style="background:linear-gradient(#e6eed7,#e6eed7,#e6eed7,#e6eed7,#e4eed9,#e2efdc,#e0f0df,#def1e2,#dcf2e5,#daf2e7,#d8f3ea,#d4f4ef,#cff5f4,#c9f4f7,#bef0f6,#b5edf4,#adebf3)"></i><i style="background:linear-gradient(#e6eed7,#e6eed7,#e6eed7,#e6eed7,#e4efda,#e1f0de,#def1e2,#dbf2e6,#d8f3ea,#d7f3ec,#d5f4ed,#d1f4f2,#cdf5f7,#c6f3f6,#bceff5,#b3edf4,#aceaf2)"></i><i style="background:linear-gradient(#e6eed7,#e6eed7,#e6eed7,#e6eed7,#e4efda,#e1f0de,#def1e2,#dbf2e7,#d7f3eb,#d5f3ed,#d3f4f0,#cff5f4,#cbf4f7,#c3f2f6,#baeff5,#b2ecf4,#aaeaf2)"></i><i style="background:linear-gradient(#e6eed7,#e6eed7,#e6eed7,#e6eed7,#e4efda,#e1f0de,#def1e2,#daf2e7,#d7f3eb,#d5f4ed,#d3f4f0,#cff5f4,#caf4f7,#c2f1f6,#b8eef5,#b1ecf3,#a9eaf2)"></i><i style="background:linear-gradient(#e6eed7,#e6eed7,#e6eed7,#e6eed7,#e4efda,#e1f0de,#ddf1e3,#daf2e7,#d7f3eb,#d5f4ee,#d3f4f0,#cff5f5,#c9f4f7,#c2f1f6,#b8eef5,#b0ecf3,#a7e9f1)"></i><i style="background:linear-gradient(#e6eed7,#e6eed7,#e6eed7,#e6eed7,#e4efda,#e0f0de,#ddf1e3,#daf2e7,#d7f3eb,#d5f4ee,#d3f4f0,#cff5f5,#c9f4f7,#c1f1f6,#b7eef5,#afebf3,#a6e9f1)"></i><i style="background:linear-gradient(#e6eed7,#e6eed7,#e6eed7,#e6eed7,#e4efda,#e0f0df,#ddf1e3,#daf2e8,#d7f3eb,#d5f4ee,#d3f4f0,#cff5f5,#c8f3f7,#c0f1f6,#b6eef5,#afebf3,#a5e8f1)"></i><i style="background:linear-gradient(#e6eed7,#e6eed7,#e6eed7,#e6eed7,#e4efda,#e0f0df,#ddf1e3,#d9f2e8,#d7f3eb,#d5f4ee,#d3f4f0,#cef5f5,#c8f3f6,#bff0f6,#b6edf5,#aeebf3,#a5e8f1)"></i><i style="background:linear-gradient(#e6eed7,#e6eed7,#e6eed7,#e6eed7,#e4efda,#e0f0df,#ddf1e4,#d9f3e8,#d7f3ec,#d5f4ee,#d3f4f0,#cef5f6,#c7f3f6,#bff0f6,#b6edf4,#aeebf3,#a4e8f1)"></i><i style="background:linear-gradient(#e6eed7,#e6eed7,#e6eed7,#e6eed7,#e3efdb,#dff0e0,#dbf2e6,#d8f3ea,#d6f3ec,#d4f4ee,#d3f4f0,#cef5f6,#c7f3f6,#bef0f6,#b5edf4,#aeebf3,#a4e8f1)"></i><i style="background:linear-gradient(#e6eed7,#e6eed7,#e6eed7,#e6eed7,#e2efdc,#ddf1e3,#d8f3ea,#d6f3ed,#d5f4ee,#d4f4ef,#d2f4f1,#cef5f6,#c6f3f6,#bdf0f6,#b5edf4,#adebf3,#a3e8f1)"></i><i style="background:linear-gradient(#e6eed7,#e6eed7,#e6eed7,#e6eed7,#e2efdc,#dcf1e4,#d7f3eb,#d5f4ee,#d4f4ef,#d3f4f0,#d2f4f1,#cef5f6,#c6f3f6,#bdf0f5,#b4edf4,#adebf3,#a3e8f1)"></i><i style="background:linear-gradient(#e6eed7,#e6eed7,#e6eed7,#e6eed7,#e2efdc,#dcf2e5,#d7f3eb,#d4f4ee,#d4f4ef,#d3f4f0,#d2f4f1,#cef5f6,#c5f2f6,#bceff5,#b4edf4,#adebf3,#a3e8f1)"></i><i style="background:linear-gradient(#e6eed7,#e6eed7,#e6eed7,#e6eed7,#e2efdc,#dcf2e5,#d7f3eb,#d4f4ee,#d4f4ef,#d3f4f0,#d2f4f1,#cdf5f6,#c5f2f6,#bceff5,#b4edf4,#acebf3,#a2e8f1)"></i><i style="background:linear-gradient(#e6eed7,#e6eed7,#e6eed7,#e6eed7,#e2efdd,#dcf2e5,#d7f3ec,#d4f4ef,#d3f4ef,#d3f4f0,#d2f4f1,#cdf5f7,#c4f2f6,#bbeff5,#b3edf4,#acebf2,#a2e7f1)"></i><i style="background:linear-gradient(#e6eed7,#e6eed7,#e6eed7,#e6eed7,#e2efdd,#dcf2e5,#d7f3ec,#d4f4ef,#d3f4ef,#d3f4f0,#d2f4f1,#cdf5f7,#c4f2f6,#baeff5,#b3ecf4,#abeaf2,#a1e7f0)"></i><i style="background:linear-gradient(#e6eed7,#e6eed7,#e6eed7,#e6eed7,#e2efdd,#dbf2e5,#d6f3ec,#d4f4ef,#d3f4f0,#d3f4f0,#d2f4f1,#cdf5f7,#c3f2f6,#baeff5,#b2ecf4,#abeaf2,#a0e7f0)"></i><i style="background:linear-gradient(#e6eed7,#e5eed8,#e4efd9,#e3efdb,#dff0e0,#daf2e7,#d6f3ec,#d4f4ef,#d3f4f0,#d3f4f0,#d2f4f1,#cdf5f7,#c3f2f6,#b9eef5,#b2ecf4,#aaeaf2,#9fe7f0)"></i><i style="background:linear-gradient(#e6eed7,#e4efda,#e1f0dd,#dff0e0,#dcf2e5,#d8f3ea,#d5f3ed,#d4f4ef,#d3f4f0,#d2f4f1,#d1f4f3,#cbf4f7,#c2f1f6,#b8eef5,#b1ecf4,#aaeaf2,#9ee6f0)"></i><i style="background:linear-gradient(#e6eed7,#e3efdb,#e0f0df,#ddf1e3,#d9f2e8,#d7f3eb,#d5f4ee,#d3f4f0,#d1f4f2,#cff5f5,#cdf5f7,#c6f3f6,#bef0f6,#b7eef5,#b1ecf3,#a9eaf2,#9de6f0)"></i><i style="background:linear-gradient(#e6eed7,#e3efdb,#e0f0e0,#dcf1e4,#d8f3e9,#d6f3ed,#d3f4f0,#d1f4f3,#cef5f5,#cbf4f7,#c7f3f6,#c1f1f6,#bbeff5,#b6edf5,#b0ecf3,#a7e9f1,#9be5ef)"></i><i style="background:linear-gradient(#e6eed7,#e3efdb,#dff0e0,#dcf1e4,#d8f3eb,#d4f4ef,#d1f4f2,#cef5f6,#cbf4f7,#c8f3f6,#c4f2f6,#bef0f6,#b9eef5,#b5edf4,#afebf3,#a5e8f1,#99e5ef)"></i><i style="background:linear-gradient(#e6eed7,#e3efdc,#dff0e0,#dcf2e5,#d7f3eb,#d3f4ef,#d0f4f4,#cdf5f7,#c9f4f7,#c6f3f6,#c2f1f6,#bceff5,#b7eef5,#b4edf4,#adebf3,#a3e8f1,#97e4ee)"></i><i style="background:linear-gradient(#e6eed7,#e2efdc,#def1e2,#daf2e7,#d6f3ec,#d3f4f0,#d0f5f4,#cdf5f7,#c8f3f7,#c4f2f6,#c0f1f6,#bbeff5,#b6edf5,#b2ecf4,#acebf2,#a0e7f0,#94e3ee)"></i><i style="background:linear-gradient(#e6eed7,#e1f0de,#dcf2e5,#d7f3eb,#d5f4ee,#d2f4f1,#cff5f4,#ccf5f7,#c8f3f7,#c4f2f6,#bff0f6,#b9eef5,#b5edf4,#b1ecf4,#abeaf2,#9ee6f0,#92e2ed)"></i><i style="background:linear-gradient(#e6eed7,#e0f0df,#daf2e7,#d6f3ec,#d3f4ef,#d1f4f2,#cff5f5,#ccf5f7,#c8f3f7,#c3f2f6,#bff0f6,#b9eef5,#b5edf4,#b1ecf4,#aaeaf2,#9de6f0,#90e2ed)"></i><i style="background:linear-gradient(#e6eed7,#e0f0df,#daf2e7,#d6f3ec,#d3f4f0,#d1f4f2,#cff5f5,#ccf5f7,#c8f3f7,#c3f2f6,#bff0f6,#b9eef5,#b5edf4,#b1ecf4,#aaeaf2,#9ce5ef,#8ee1ed)"></i><i style="background:linear-gradient(#e6eed7,#e0f0df,#daf2e7,#d6f3ec,#d3f4f0,#d1f4f2,#cff5f5,#ccf5f7,#c8f3f7,#c3f2f6,#bff0f6,#b9eef5,#b5edf4,#b2ecf4,#aaeaf2,#9be5ef,#8ce1ec)"></i><i style="background:linear-gradient(#e6eed7,#e0f0df,#daf2e7,#d6f3ec,#d3f4f0,#d1f4f2,#cff5f5,#ccf5f7,#c8f3f7,#c3f2f6,#bff0f6,#baeff5,#b6edf4,#b2ecf4,#aaeaf2,#9ae5ef,#8be0ec)"></i><i style="background:linear-gradient(#e6eed7,#e1f0de,#dbf2e6,#d7f3eb,#d4f4ef,#d2f4f2,#cff5f5,#ccf5f7,#c8f3f7,#c4f2f6,#c0f1f6,#bbeff5,#b6eef5,#b3edf4,#abeaf2,#9be5ef,#8be0ec)"></i><i style="background:linear-gradient(#e6eed7,#e2efdd,#def1e2,#d9f2e8,#d6f3ec,#d3f4f0,#d0f5f4,#cdf5f7,#c9f4f7,#c6f3f6,#c2f1f6,#bdf0f5,#b8eef5,#b5edf4,#adebf3,#9ee6f0,#8ee1ed)"></i><i style="background:linear-gradient(#e6eed7,#e3efdb,#e0f0e0,#dcf1e4,#d8f3ea,#d5f4ee,#d2f4f2,#cff5f5,#cdf5f7,#c9f4f7,#c6f3f6,#c0f1f6,#bbeff5,#b7eef5,#afebf3,#a2e8f1,#93e3ee)"></i><i style="background:linear-gradient(#e6eed7,#e3efdb,#e0f0df,#ddf1e3,#daf2e8,#d7f3ec,#d4f4ee,#d2f4f1,#d0f4f4,#cef5f6,#caf4f7,#c5f2f6,#bff0f6,#baeff5,#b1ecf4,#a6e9f1,#97e4ef)"></i><i style="background:linear-gradient(#e6eed7,#e3efdb,#e0f0df,#ddf1e3,#daf2e7,#d8f3eb,#d6f3ed,#d4f4ef,#d2f4f1,#d0f4f3,#cef5f6,#c9f4f7,#c3f2f6,#bdf0f5,#b4edf4,#aaeaf2,#9ce6ef)"></i><i style="background:linear-gradient(#e6eed7,#e3efda,#e1f0de,#def1e1,#dbf2e5,#d8f3ea,#d6f3ec,#d4f4ee,#d3f4f0,#d2f4f1,#d0f4f3,#cdf5f7,#c7f3f6,#c1f1f6,#b7eef5,#aeebf3,#a3e8f1)"></i><i style="background:linear-gradient(#e6eed7,#e5eed9,#e3efdb,#e2efdc,#dff0e0,#dcf2e5,#d8f3ea,#d6f3ec,#d4f4ee,#d3f4f0,#d1f4f2,#cef5f6,#caf4f7,#c4f2f6,#baeff5,#b2ecf4,#aaeaf2)"></i><i style="background:linear-gradient(#e6eed7,#e6eed7,#e5eed8,#e5eed8,#e3efdb,#dff0e0,#dcf1e4,#d9f3e9,#d6f3ec,#d4f4ef,#d1f4f2,#cff5f5,#ccf5f7,#c7f3f6,#bff0f6,#b6edf4,#afebf3)"></i><i style="background:linear-gradient(#e6eed7,#e6eed7,#e6eed7,#e6eed7,#e4efda,#e1f0de,#def1e2,#dbf2e6,#d7f3eb,#d5f4ee,#d2f4f1,#d0f4f3,#cef5f6,#cbf4f7,#c3f2f6,#baeff5,#b4edf4)"></i><i style="background:linear-gradient(#e6eed7,#e6eed7,#e6eed7,#e6eed7,#e4eed9,#e2efdc,#e0f0df,#ddf1e3,#daf2e8,#d7f3eb,#d5f4ee,#d2f4f1,#d0f4f4,#cdf5f6,#c7f3f6,#c0f1f6,#b8eef5)"></i><i style="background:linear-gradient(#e6eed7,#e6eed7,#e6eed7,#e6eed7,#e5eed8,#e5eed9,#e4efda,#e2efdc,#e0f0df,#def1e2,#dbf2e5,#d6f3ec,#d3f4f0,#cff5f4,#cbf4f7,#c5f2f6,#bff0f6)"></i><i style="background:linear-gradient(#e6eed7,#e6eed7,#e6eed7,#e6eed7,#e6eed7,#e6eed7,#e6eed7,#e6eed7,#e5eed8,#e4efda,#e3efdb,#dbf2e5,#d5f3ed,#d1f4f3,#cef5f6,#cbf4f7,#c6f3f6)"></i><i style="background:linear-gradient(#e6eed7,#e6eed7,#e6eed7,#e6eed7,#e6eed7,#e6eed7,#e6eed7,#e6eed7,#e6eed7,#e6eed7,#e6eed7,#def1e2,#d7f3ec,#d2f4f1,#cff5f4,#cef5f6,#cbf4f7)"></i><i style="background:linear-gradient(#e6eed7,#e6eed7,#e6eed7,#e6eed7,#e6eed7,#e5eed8,#e5eed9,#e4efd9,#e3efda,#e3efdc,#e2efdd,#dbf2e6,#d6f3ec,#d2f4f1,#d0f5f4,#cef5f6,#caf4f7)"></i><i style="background:linear-gradient(#e6eed7,#e6eed7,#e6eed7,#e6eed7,#e5eed8,#e3efdb,#e2efdd,#e0f0df,#ddf1e3,#dbf2e6,#d9f3e9,#d6f3ec,#d4f4ef,#d1f4f2,#cff5f5,#cbf4f7,#c6f3f6)"></i><i style="background:linear-gradient(#e6eed7,#e6eed7,#e5eed8,#e5eed9,#e3efdb,#e1f0de,#dff1e1,#dcf2e5,#d8f3ea,#d6f3ec,#d4f4ef,#d2f4f1,#d1f4f3,#cff5f5,#ccf5f7,#c7f3f6,#c2f1f6)"></i><i style="background:linear-gradient(#e6eed7,#e4eed9,#e3efdb,#e1f0dd,#e0f0df,#dff1e1,#ddf1e3,#dbf2e6,#d7f3eb,#d5f4ed,#d3f4f0,#d1f4f2,#cff5f5,#cdf5f7,#c8f3f7,#c2f1f6,#bceff5)"></i><i style="background:linear-gradient(#e6eed7,#e3efdb,#e1f0de,#def1e2,#ddf1e3,#dcf1e4,#dcf2e5,#daf2e7,#d7f3eb,#d5f4ee,#d2f4f1,#d0f4f3,#cef5f6,#caf4f7,#c3f2f6,#bceff5,#b5edf4)"></i><i style="background:linear-gradient(#e6eed7,#e3efdb,#e0f0df,#ddf1e4,#dbf2e6,#daf2e7,#d9f3e9,#d8f3eb,#d6f3ed,#d4f4ef,#d2f4f1,#cff5f5,#cbf4f7,#c6f3f6,#bef0f6,#b6edf5,#b0ecf3)"></i><i style="background:linear-gradient(#e6eed7,#e3efdb,#e0f0e0,#dcf1e4,#daf2e7,#d8f3ea,#d7f3ec,#d5f4ed,#d4f4ef,#d2f4f1,#d0f4f3,#cdf5f7,#c7f3f6,#c1f1f6,#b8eef5,#b1ecf3,#aaeaf2)"></i><i style="background:linear-gradient(#e6eed7,#e3efdb,#dff0e0,#dcf2e4,#d9f3e8,#d7f3eb,#d6f3ed,#d4f4ef,#d2f4f1,#d0f4f3,#cef5f6,#c8f3f7,#c2f1f6,#bbeff5,#b3edf4,#acebf2,#a2e8f1)"></i><i style="background:linear-gradient(#e6eed7,#e3efdc,#dff0e0,#dcf2e5,#d9f3e9,#d7f3eb,#d5f3ed,#d4f4ef,#d1f4f2,#cff5f4,#cdf5f7,#c5f2f6,#bdf0f5,#b6edf5,#b0ecf3,#a7e9f2,#9ce6ef)"></i><i style="background:linear-gradient(#e6eed7,#e2efdc,#def1e2,#daf2e7,#d7f3eb,#d6f3ec,#d4f4ee,#d3f4f0,#d0f4f3,#cef5f6,#caf4f7,#c2f1f6,#b9eef5,#b2ecf4,#acebf2,#a2e7f1,#97e4ee)"></i><i style="background:linear-gradient(#e5eed8,#e0f0df,#dcf2e5,#d7f3eb,#d5f3ed,#d4f4ef,#d2f4f1,#d0f4f3,#cef5f6,#cbf4f7,#c6f3f6,#bdf0f5,#b5edf4,#afebf3,#a7e9f2,#9ce6f0,#92e2ed)"></i><i style="background:linear-gradient(#e2efdd,#ddf1e3,#d9f3e9,#d6f3ed,#d4f4ef,#d2f4f1,#d0f4f3,#cef5f5,#ccf5f7,#c8f3f6,#c4f2f6,#baeff5,#b3ecf4,#acebf2,#a2e8f1,#97e4ef,#8de1ec)"></i><i style="background:linear-gradient(#ddf1e4,#d9f3e8,#d7f3eb,#d5f4ee,#d3f4f0,#d1f4f2,#cff5f4,#cdf5f7,#caf4f7,#c7f3f6,#c3f2f6,#b8eef5,#b1ecf3,#a9eaf2,#9ee6f0,#93e3ee,#89e0eb)"></i><i style="background:linear-gradient(#d9f3e9,#d7f3eb,#d6f3ed,#d4f4ef,#d2f4f1,#d0f4f4,#cef5f6,#caf4f7,#c8f3f7,#c6f3f6,#c3f2f6,#b8eef5,#b0ecf3,#a8e9f2,#9de6f0,#92e2ed,#88dfeb)"></i><i style="background:linear-gradient(#d7f3eb,#d5f3ed,#d4f4ef,#d2f4f1,#d0f4f3,#cef5f6,#cbf4f7,#c7f3f6,#c6f3f6,#c4f2f6,#c3f2f6,#b8eef5,#b1ecf3,#a9eaf2,#9fe6f0,#94e3ee,#8be0ec)"></i><i style="background:linear-gradient(#d6f3ed,#d4f4ef,#d2f4f1,#d0f4f3,#cff5f5,#ccf5f7,#c9f4f7,#c6f3f6,#c5f2f6,#c4f2f6,#c3f2f6,#b9eef5,#b2ecf4,#abeaf2,#a2e7f0,#98e4ef,#8fe1ed)"></i><i style="background:linear-gradient(#d4f4ee,#d3f4f0,#d1f4f2,#d0f5f4,#cef5f6,#ccf5f7,#c8f3f7,#c6f3f6,#c5f2f6,#c4f2f6,#c3f2f6,#baeff5,#b3edf4,#acebf3,#a5e8f1,#9be5ef,#92e3ee)"></i><i style="background:linear-gradient(#d3f4f0,#d2f4f1,#d1f4f3,#cff5f4,#cef5f6,#cbf4f7,#c8f3f7,#c6f3f6,#c5f2f6,#c4f2f6,#c3f2f6,#baeff5,#b4edf4,#aeebf3,#a7e9f1,#9fe6f0,#96e4ee)"></i><i style="background:linear-gradient(#d2f4f1,#d1f4f2,#d0f4f3,#cff5f5,#cef5f6,#cbf4f7,#c8f3f7,#c6f3f6,#c5f2f6,#c4f2f6,#c3f2f6,#bbeff5,#b4edf4,#afebf3,#a9eaf2,#a1e7f0,#99e5ef)"></i><i style="background:linear-gradient(#d1f4f2,#d0f4f3,#d0f5f4,#cff5f5,#cef5f6,#cbf4f7,#c8f3f7,#c6f3f6,#c5f2f6,#c4f2f6,#c3f2f6,#bbeff5,#b5edf4,#b0ecf3,#abeaf2,#a3e8f1,#9ce5ef)"></i><i style="background:linear-gradient(#d0f4f3,#d0f5f4,#cff5f5,#cff5f5,#cdf5f7,#cbf4f7,#c8f3f7,#c6f3f6,#c5f2f6,#c4f2f6,#c3f2f6,#bceff5,#b5edf4,#b0ecf3,#aceaf2,#a5e9f1,#9ee6f0)"></i><i style="background:linear-gradient(#cff5f4,#cff5f5,#cff5f5,#cef5f5,#cdf5f7,#cbf4f7,#c8f3f7,#c6f3f6,#c5f2f6,#c4f2f6,#c3f2f6,#bceff5,#b6edf5,#b1ecf4,#adebf3,#a7e9f1,#a0e7f0)"></i><i style="background:linear-gradient(#cef5f6,#cef5f6,#cef5f6,#cdf5f7,#ccf5f7,#caf4f7,#c8f3f6,#c6f3f6,#c5f2f6,#c4f2f6,#c3f2f6,#bceff5,#b6eef5,#b2ecf4,#adebf3,#a9eaf2,#a2e7f0)"></i><i style="background:linear-gradient(#cdf5f7,#ccf5f7,#cbf4f7,#caf4f7,#c9f4f7,#c8f3f7,#c7f3f6,#c6f3f6,#c5f2f6,#c4f2f6,#c3f2f6,#bdf0f5,#b7eef5,#b2ecf4,#aeebf3,#a9eaf2,#a2e7f1)"></i><i style="background:linear-gradient(#cdf5f7,#cbf4f7,#c9f4f7,#c7f3f6,#c7f3f6,#c7f3f6,#c6f3f6,#c6f3f6,#c5f2f6,#c4f2f6,#c3f2f6,#bdf0f5,#b7eef5,#b3ecf4,#aeebf3,#a9eaf2,#a2e7f1)"></i><i style="background:linear-gradient(#ccf5f7,#caf4f7,#c8f3f7,#c7f3f6,#c6f3f6,#c6f3f6,#c6f3f6,#c6f3f6,#c5f2f6,#c4f2f6,#c3f2f6,#bdf0f5,#b7eef5,#b3edf4,#aeebf3,#a9eaf2,#a2e7f1)"></i><i style="background:linear-gradient(#cbf4f7,#c9f4f7,#c8f3f7,#c7f3f6,#c6f3f6,#c6f3f6,#c6f3f6,#c6f3f6,#c5f2f6,#c4f2f6,#c3f2f6,#bdf0f5,#b7eef5,#b3edf4,#afebf3,#aaeaf2,#a2e7f1)"></i><i style="background:linear-gradient(#cbf4f7,#c9f4f7,#c8f3f7,#c7f3f6,#c6f3f6,#c6f3f6,#c6f3f6,#c6f3f6,#c5f2f6,#c4f2f6,#c3f2f6,#bdf0f5,#b7eef5,#b3edf4,#afebf3,#aaeaf2,#a3e8f1)"></i><i style="background:linear-gradient(#cdf5f7,#cbf4f7,#c9f4f7,#c7f3f6,#c6f3f6,#c6f3f6,#c6f3f6,#c6f3f6,#c5f2f6,#c4f2f6,#c3f2f6,#bdf0f5,#b7eef5,#b3edf4,#afebf3,#aaeaf2,#a3e8f1)"></i><i style="background:linear-gradient(#cff5f5,#cef5f6,#cbf4f7,#c9f4f7,#c7f3f6,#c7f3f6,#c7f3f6,#c6f3f6,#c5f2f6,#c4f2f6,#c3f2f6,#bdf0f5,#b8eef5,#b4edf4,#afecf3,#abeaf2,#a4e8f1)"></i><i style="background:linear-gradient(#d1f4f2,#d0f4f4,#cff5f5,#cdf5f7,#cbf4f7,#caf4f7,#c8f3f7,#c7f3f6,#c6f3f6,#c4f2f6,#c3f2f6,#bdf0f6,#b8eef5,#b4edf4,#b0ecf3,#abeaf2,#a5e8f1)"></i><i style="background:linear-gradient(#d5f3ed,#d4f4ef,#d2f4f1,#d0f4f4,#cff5f5,#cef5f6,#cdf5f7,#cbf4f7,#c9f4f7,#c7f3f6,#c5f2f6,#bff0f6,#b9eef5,#b4edf4,#b0ecf3,#abeaf2,#a6e9f1)"></i><i style="background:linear-gradient(#ddf1e3,#d8f3ea,#d5f4ed,#d2f4f1,#d1f4f3,#d0f4f4,#cff5f4,#cef5f5,#cef5f6,#ccf5f7,#cbf4f7,#c3f2f6,#bbeff5,#b5edf4,#b0ecf3,#acebf2,#a6e9f1)"></i><i style="background:linear-gradient(#e7edd5,#e0f0df,#d9f3e9,#d4f4ef,#d2f4f1,#d1f4f2,#d1f4f3,#d0f4f4,#cff5f4,#cff5f5,#cef5f6,#c6f3f6,#bdf0f5,#b5edf4,#b0ecf3,#acebf2,#a7e9f1)"></i><i style="background:linear-gradient(#ecebce,#e5eed8,#ddf1e3,#d6f3ed,#d4f4ef,#d2f4f1,#d1f4f2,#d0f4f3,#d0f4f3,#cff5f4,#cff5f5,#c7f3f6,#bef0f6,#b5edf4,#b0ecf3,#acebf3,#a7e9f2)"></i></div>
<svg width="1774" height="3225" viewBox="0 0 1774 3225">
<path d="M203.0 84.0H907.4V788.0H203.0ZM203.0 84.0v-13.0M203.0 788.0v19.0M320.6 84.0v-13.0M320.6 788.0v19.0M456.0 84.0v-13.0M456.0 788.0v19.0M591.4 84.0v-13.0M591.4 788.0v19.0M726.8 84.0v-13.0M726.8 788.0v19.0M862.3 84.0v-13.0M862.3 788.0v19.0M203.0 788.0h-19.0M907.4 788.0h19.0M203.0 647.2h-19.0M907.4 647.2h19.0M203.0 506.4h-19.0M907.4 506.4h19.0M203.0 365.6h-19.0M907.4 365.6h19.0M203.0 224.8h-19.0M907.4 224.8h19.0M203.0 84.0h-19.0M907.4 84.0h19.0" stroke="#3c3c3c" stroke-width="1.8" fill="none"/>
<path d="M230.3 84.0v-9.6M230.3 788.0v9.6M275.4 84.0v-9.6M275.4 788.0v9.6M365.7 84.0v-9.6M365.7 788.0v9.6M410.8 84.0v-9.6M410.8 788.0v9.6M501.1 84.0v-9.6M501.1 788.0v9.6M546.3 84.0v-9.6M546.3 788.0v9.6M636.5 84.0v-9.6M636.5 788.0v9.6M681.7 84.0v-9.6M681.7 788.0v9.6M772.0 84.0v-9.6M772.0 788.0v9.6M817.1 84.0v-9.6M817.1 788.0v9.6M907.4 84.0v-9.6M907.4 788.0v9.6M907.4 84.0v-9.6M907.4 788.0v9.6M203.0 759.8h-9.6M907.4 759.8h9.6M203.0 731.7h-9.6M907.4 731.7h9.6M203.0 703.5h-9.6M907.4 703.5h9.6M203.0 675.4h-9.6M907.4 675.4h9.6M203.0 619.0h-9.6M907.4 619.0h9.6M203.0 590.9h-9.6M907.4 590.9h9.6M203.0 562.7h-9.6M907.4 562.7h9.6M203.0 534.6h-9.6M907.4 534.6h9.6M203.0 478.2h-9.6M907.4 478.2h9.6M203.0 450.1h-9.6M907.4 450.1h9.6M203.0 421.9h-9.6M907.4 421.9h9.6M203.0 393.8h-9.6M907.4 393.8h9.6M203.0 337.4h-9.6M907.4 337.4h9.6M203.0 309.3h-9.6M907.4 309.3h9.6M203.0 281.1h-9.6M907.4 281.1h9.6M203.0 253.0h-9.6M907.4 253.0h9.6M203.0 196.6h-9.6M907.4 196.6h9.6M203.0 168.5h-9.6M907.4 168.5h9.6M203.0 140.3h-9.6M907.4 140.3h9.6M203.0 112.2h-9.6M907.4 112.2h9.6" stroke="#555" stroke-width="1.3" fill="none"/>
<text class="tk" x="161" y="799.0" text-anchor="end">0</text>
<text class="tk" x="161" y="658.2" text-anchor="end">100</text>
<text class="tk" x="161" y="517.4" text-anchor="end">200</text>
<text class="tk" x="161" y="376.6" text-anchor="end">300</text>
<text class="tk" x="161" y="235.8" text-anchor="end">400</text>
<text class="tk" x="161" y="95.0" text-anchor="end">500</text>
<path d="M954.7 83.0H1658.5V787.5H954.7ZM954.7 83.0v-17.5M954.7 787.5v19.0M1072.2 83.0v-17.5M1072.2 787.5v19.0M1207.5 83.0v-17.5M1207.5 787.5v19.0M1342.8 83.0v-17.5M1342.8 787.5v19.0M1478.1 83.0v-17.5M1478.1 787.5v19.0M1613.4 83.0v-17.5M1613.4 787.5v19.0M954.7 787.5h-19.0M1658.5 787.5h19.0M954.7 646.6h-19.0M1658.5 646.6h19.0M954.7 505.7h-19.0M1658.5 505.7h19.0M954.7 364.8h-19.0M1658.5 364.8h19.0M954.7 223.9h-19.0M1658.5 223.9h19.0M954.7 83.0h-19.0M1658.5 83.0h19.0" stroke="#3c3c3c" stroke-width="1.8" fill="none"/>
<path d="M981.9 83.0v-9.6M981.9 787.5v9.6M1027.0 83.0v-9.6M1027.0 787.5v9.6M1117.3 83.0v-9.6M1117.3 787.5v9.6M1162.4 83.0v-9.6M1162.4 787.5v9.6M1252.6 83.0v-9.6M1252.6 787.5v9.6M1297.7 83.0v-9.6M1297.7 787.5v9.6M1387.9 83.0v-9.6M1387.9 787.5v9.6M1433.0 83.0v-9.6M1433.0 787.5v9.6M1523.2 83.0v-9.6M1523.2 787.5v9.6M1568.3 83.0v-9.6M1568.3 787.5v9.6M1658.5 83.0v-9.6M1658.5 787.5v9.6M1658.5 83.0v-9.6M1658.5 787.5v9.6M954.7 759.3h-9.6M1658.5 759.3h9.6M954.7 731.1h-9.6M1658.5 731.1h9.6M954.7 703.0h-9.6M1658.5 703.0h9.6M954.7 674.8h-9.6M1658.5 674.8h9.6M954.7 618.4h-9.6M1658.5 618.4h9.6M954.7 590.2h-9.6M1658.5 590.2h9.6M954.7 562.1h-9.6M1658.5 562.1h9.6M954.7 533.9h-9.6M1658.5 533.9h9.6M954.7 477.5h-9.6M1658.5 477.5h9.6M954.7 449.3h-9.6M1658.5 449.3h9.6M954.7 421.2h-9.6M1658.5 421.2h9.6M954.7 393.0h-9.6M1658.5 393.0h9.6M954.7 336.6h-9.6M1658.5 336.6h9.6M954.7 308.4h-9.6M1658.5 308.4h9.6M954.7 280.3h-9.6M1658.5 280.3h9.6M954.7 252.1h-9.6M1658.5 252.1h9.6M954.7 195.7h-9.6M1658.5 195.7h9.6M954.7 167.5h-9.6M1658.5 167.5h9.6M954.7 139.4h-9.6M1658.5 139.4h9.6M954.7 111.2h-9.6M1658.5 111.2h9.6" stroke="#555" stroke-width="1.3" fill="none"/>
<path d="M203.0 844.0H905.4V1546.0H203.0ZM203.0 844.0v-19.0M203.0 1546.0v19.0M320.2 844.0v-19.0M320.2 1546.0v19.0M455.3 844.0v-19.0M455.3 1546.0v19.0M590.3 844.0v-19.0M590.3 1546.0v19.0M725.3 844.0v-19.0M725.3 1546.0v19.0M860.4 844.0v-19.0M860.4 1546.0v19.0M203.0 1546.0h-19.0M905.4 1546.0h19.0M203.0 1405.6h-19.0M905.4 1405.6h19.0M203.0 1265.2h-19.0M905.4 1265.2h19.0M203.0 1124.8h-19.0M905.4 1124.8h19.0M203.0 984.4h-19.0M905.4 984.4h19.0M203.0 844.0h-19.0M905.4 844.0h19.0" stroke="#3c3c3c" stroke-width="1.8" fill="none"/>
<path d="M230.2 844.0v-9.6M230.2 1546.0v9.6M275.2 844.0v-9.6M275.2 1546.0v9.6M365.2 844.0v-9.6M365.2 1546.0v9.6M410.2 844.0v-9.6M410.2 1546.0v9.6M500.3 844.0v-9.6M500.3 1546.0v9.6M545.3 844.0v-9.6M545.3 1546.0v9.6M635.3 844.0v-9.6M635.3 1546.0v9.6M680.3 844.0v-9.6M680.3 1546.0v9.6M770.4 844.0v-9.6M770.4 1546.0v9.6M815.4 844.0v-9.6M815.4 1546.0v9.6M905.4 844.0v-9.6M905.4 1546.0v9.6M905.4 844.0v-9.6M905.4 1546.0v9.6M203.0 1517.9h-9.6M905.4 1517.9h9.6M203.0 1489.8h-9.6M905.4 1489.8h9.6M203.0 1461.8h-9.6M905.4 1461.8h9.6M203.0 1433.7h-9.6M905.4 1433.7h9.6M203.0 1377.5h-9.6M905.4 1377.5h9.6M203.0 1349.4h-9.6M905.4 1349.4h9.6M203.0 1321.4h-9.6M905.4 1321.4h9.6M203.0 1293.3h-9.6M905.4 1293.3h9.6M203.0 1237.1h-9.6M905.4 1237.1h9.6M203.0 1209.0h-9.6M905.4 1209.0h9.6M203.0 1181.0h-9.6M905.4 1181.0h9.6M203.0 1152.9h-9.6M905.4 1152.9h9.6M203.0 1096.7h-9.6M905.4 1096.7h9.6M203.0 1068.6h-9.6M905.4 1068.6h9.6M203.0 1040.6h-9.6M905.4 1040.6h9.6M203.0 1012.5h-9.6M905.4 1012.5h9.6M203.0 956.3h-9.6M905.4 956.3h9.6M203.0 928.2h-9.6M905.4 928.2h9.6M203.0 900.2h-9.6M905.4 900.2h9.6M203.0 872.1h-9.6M905.4 872.1h9.6" stroke="#555" stroke-width="1.3" fill="none"/>
<text class="tk" x="161" y="1557.0" text-anchor="end">0</text>
<text class="tk" x="161" y="1416.6" text-anchor="end">100</text>
<text class="tk" x="161" y="1276.2" text-anchor="end">200</text>
<text class="tk" x="161" y="1135.8" text-anchor="end">300</text>
<text class="tk" x="161" y="995.4" text-anchor="end">400</text>
<text class="tk" x="161" y="855.0" text-anchor="end">500</text>
<path d="M954.1 843.4H1657.3V1546.5H954.1ZM954.1 843.4v-19.0M954.1 1546.5v19.0M1071.5 843.4v-19.0M1071.5 1546.5v19.0M1206.6 843.4v-19.0M1206.6 1546.5v19.0M1341.8 843.4v-19.0M1341.8 1546.5v19.0M1477.0 843.4v-19.0M1477.0 1546.5v19.0M1612.2 843.4v-19.0M1612.2 1546.5v19.0M954.1 1546.5h-19.0M1657.3 1546.5h19.0M954.1 1405.9h-19.0M1657.3 1405.9h19.0M954.1 1265.3h-19.0M1657.3 1265.3h19.0M954.1 1124.6h-19.0M1657.3 1124.6h19.0M954.1 984.0h-19.0M1657.3 984.0h19.0M954.1 843.4h-19.0M1657.3 843.4h19.0" stroke="#3c3c3c" stroke-width="1.8" fill="none"/>
<path d="M981.3 843.4v-9.6M981.3 1546.5v9.6M1026.4 843.4v-9.6M1026.4 1546.5v9.6M1116.5 843.4v-9.6M1116.5 1546.5v9.6M1161.6 843.4v-9.6M1161.6 1546.5v9.6M1251.7 843.4v-9.6M1251.7 1546.5v9.6M1296.8 843.4v-9.6M1296.8 1546.5v9.6M1386.9 843.4v-9.6M1386.9 1546.5v9.6M1432.0 843.4v-9.6M1432.0 1546.5v9.6M1522.1 843.4v-9.6M1522.1 1546.5v9.6M1567.2 843.4v-9.6M1567.2 1546.5v9.6M1657.3 843.4v-9.6M1657.3 1546.5v9.6M1657.3 843.4v-9.6M1657.3 1546.5v9.6M954.1 1518.4h-9.6M1657.3 1518.4h9.6M954.1 1490.3h-9.6M1657.3 1490.3h9.6M954.1 1462.1h-9.6M1657.3 1462.1h9.6M954.1 1434.0h-9.6M1657.3 1434.0h9.6M954.1 1377.8h-9.6M1657.3 1377.8h9.6M954.1 1349.6h-9.6M1657.3 1349.6h9.6M954.1 1321.5h-9.6M1657.3 1321.5h9.6M954.1 1293.4h-9.6M1657.3 1293.4h9.6M954.1 1237.1h-9.6M1657.3 1237.1h9.6M954.1 1209.0h-9.6M1657.3 1209.0h9.6M954.1 1180.9h-9.6M1657.3 1180.9h9.6M954.1 1152.8h-9.6M1657.3 1152.8h9.6M954.1 1096.5h-9.6M1657.3 1096.5h9.6M954.1 1068.4h-9.6M1657.3 1068.4h9.6M954.1 1040.3h-9.6M1657.3 1040.3h9.6M954.1 1012.1h-9.6M1657.3 1012.1h9.6M954.1 955.9h-9.6M1657.3 955.9h9.6M954.1 927.8h-9.6M1657.3 927.8h9.6M954.1 899.6h-9.6M1657.3 899.6h9.6M954.1 871.5h-9.6M1657.3 871.5h9.6" stroke="#555" stroke-width="1.3" fill="none"/>
<path d="M203.0 1600.0H907.7V2303.9H203.0ZM203.0 1600.0v-19.0M203.0 2303.9v19.0M320.6 1600.0v-19.0M320.6 2303.9v19.0M456.1 1600.0v-19.0M456.1 2303.9v19.0M591.6 1600.0v-19.0M591.6 2303.9v19.0M727.1 1600.0v-19.0M727.1 2303.9v19.0M862.5 1600.0v-19.0M862.5 2303.9v19.0M203.0 2303.9h-19.0M907.7 2303.9h19.0M203.0 2163.1h-19.0M907.7 2163.1h19.0M203.0 2022.3h-19.0M907.7 2022.3h19.0M203.0 1881.6h-19.0M907.7 1881.6h19.0M203.0 1740.8h-19.0M907.7 1740.8h19.0M203.0 1600.0h-19.0M907.7 1600.0h19.0" stroke="#3c3c3c" stroke-width="1.8" fill="none"/>
<path d="M230.3 1600.0v-9.6M230.3 2303.9v9.6M275.4 1600.0v-9.6M275.4 2303.9v9.6M365.8 1600.0v-9.6M365.8 2303.9v9.6M410.9 1600.0v-9.6M410.9 2303.9v9.6M501.2 1600.0v-9.6M501.2 2303.9v9.6M546.4 1600.0v-9.6M546.4 2303.9v9.6M636.7 1600.0v-9.6M636.7 2303.9v9.6M681.9 1600.0v-9.6M681.9 2303.9v9.6M772.2 1600.0v-9.6M772.2 2303.9v9.6M817.4 1600.0v-9.6M817.4 2303.9v9.6M907.7 1600.0v-9.6M907.7 2303.9v9.6M907.7 1600.0v-9.6M907.7 2303.9v9.6M203.0 2275.7h-9.6M907.7 2275.7h9.6M203.0 2247.6h-9.6M907.7 2247.6h9.6M203.0 2219.4h-9.6M907.7 2219.4h9.6M203.0 2191.3h-9.6M907.7 2191.3h9.6M203.0 2135.0h-9.6M907.7 2135.0h9.6M203.0 2106.8h-9.6M907.7 2106.8h9.6M203.0 2078.7h-9.6M907.7 2078.7h9.6M203.0 2050.5h-9.6M907.7 2050.5h9.6M203.0 1994.2h-9.6M907.7 1994.2h9.6M203.0 1966.0h-9.6M907.7 1966.0h9.6M203.0 1937.9h-9.6M907.7 1937.9h9.6M203.0 1909.7h-9.6M907.7 1909.7h9.6M203.0 1853.4h-9.6M907.7 1853.4h9.6M203.0 1825.2h-9.6M907.7 1825.2h9.6M203.0 1797.1h-9.6M907.7 1797.1h9.6M203.0 1768.9h-9.6M907.7 1768.9h9.6M203.0 1712.6h-9.6M907.7 1712.6h9.6M203.0 1684.5h-9.6M907.7 1684.5h9.6M203.0 1656.3h-9.6M907.7 1656.3h9.6M203.0 1628.2h-9.6M907.7 1628.2h9.6" stroke="#555" stroke-width="1.3" fill="none"/>
<text class="tk" x="161" y="2314.9" text-anchor="end">0</text>
<text class="tk" x="161" y="2174.1" text-anchor="end">100</text>
<text class="tk" x="161" y="2033.3" text-anchor="end">200</text>
<text class="tk" x="161" y="1892.6" text-anchor="end">300</text>
<text class="tk" x="161" y="1751.8" text-anchor="end">400</text>
<text class="tk" x="161" y="1611.0" text-anchor="end">500</text>
<path d="M954.7 1599.9H1656.7V2301.9H954.7ZM954.7 1599.9v-19.0M954.7 2301.9v19.0M1071.8 1599.9v-19.0M1071.8 2301.9v19.0M1206.8 1599.9v-19.0M1206.8 2301.9v19.0M1341.8 1599.9v-19.0M1341.8 2301.9v19.0M1476.7 1599.9v-19.0M1476.7 2301.9v19.0M1611.7 1599.9v-19.0M1611.7 2301.9v19.0M954.7 2301.9h-19.0M1656.7 2301.9h19.0M954.7 2161.5h-19.0M1656.7 2161.5h19.0M954.7 2021.1h-19.0M1656.7 2021.1h19.0M954.7 1880.7h-19.0M1656.7 1880.7h19.0M954.7 1740.3h-19.0M1656.7 1740.3h19.0M954.7 1599.9h-19.0M1656.7 1599.9h19.0" stroke="#3c3c3c" stroke-width="1.8" fill="none"/>
<path d="M981.9 1599.9v-9.6M981.9 2301.9v9.6M1026.9 1599.9v-9.6M1026.9 2301.9v9.6M1116.8 1599.9v-9.6M1116.8 2301.9v9.6M1161.8 1599.9v-9.6M1161.8 2301.9v9.6M1251.8 1599.9v-9.6M1251.8 2301.9v9.6M1296.8 1599.9v-9.6M1296.8 2301.9v9.6M1386.8 1599.9v-9.6M1386.8 2301.9v9.6M1431.8 1599.9v-9.6M1431.8 2301.9v9.6M1521.7 1599.9v-9.6M1521.7 2301.9v9.6M1566.7 1599.9v-9.6M1566.7 2301.9v9.6M1656.7 1599.9v-9.6M1656.7 2301.9v9.6M1656.7 1599.9v-9.6M1656.7 2301.9v9.6M954.7 2273.8h-9.6M1656.7 2273.8h9.6M954.7 2245.7h-9.6M1656.7 2245.7h9.6M954.7 2217.7h-9.6M1656.7 2217.7h9.6M954.7 2189.6h-9.6M1656.7 2189.6h9.6M954.7 2133.4h-9.6M1656.7 2133.4h9.6M954.7 2105.3h-9.6M1656.7 2105.3h9.6M954.7 2077.3h-9.6M1656.7 2077.3h9.6M954.7 2049.2h-9.6M1656.7 2049.2h9.6M954.7 1993.0h-9.6M1656.7 1993.0h9.6M954.7 1964.9h-9.6M1656.7 1964.9h9.6M954.7 1936.9h-9.6M1656.7 1936.9h9.6M954.7 1908.8h-9.6M1656.7 1908.8h9.6M954.7 1852.6h-9.6M1656.7 1852.6h9.6M954.7 1824.5h-9.6M1656.7 1824.5h9.6M954.7 1796.5h-9.6M1656.7 1796.5h9.6M954.7 1768.4h-9.6M1656.7 1768.4h9.6M954.7 1712.2h-9.6M1656.7 1712.2h9.6M954.7 1684.1h-9.6M1656.7 1684.1h9.6M954.7 1656.1h-9.6M1656.7 1656.1h9.6M954.7 1628.0h-9.6M1656.7 1628.0h9.6" stroke="#555" stroke-width="1.3" fill="none"/>
<path d="M204.0 2355.7H907.4V3058.9H204.0ZM204.0 2355.7v-19.0M204.0 3058.9v19.0M321.4 2355.7v-19.0M321.4 3058.9v19.0M456.6 2355.7v-19.0M456.6 3058.9v19.0M591.9 2355.7v-19.0M591.9 3058.9v19.0M727.1 2355.7v-19.0M727.1 3058.9v19.0M862.3 2355.7v-19.0M862.3 3058.9v19.0M204.0 3058.9h-19.0M907.4 3058.9h19.0M204.0 2918.3h-19.0M907.4 2918.3h19.0M204.0 2777.6h-19.0M907.4 2777.6h19.0M204.0 2637.0h-19.0M907.4 2637.0h19.0M204.0 2496.3h-19.0M907.4 2496.3h19.0M204.0 2355.7h-19.0M907.4 2355.7h19.0" stroke="#3c3c3c" stroke-width="1.8" fill="none"/>
<path d="M231.2 2355.7v-9.6M231.2 3058.9v9.6M276.3 2355.7v-9.6M276.3 3058.9v9.6M366.5 2355.7v-9.6M366.5 3058.9v9.6M411.5 2355.7v-9.6M411.5 3058.9v9.6M501.7 2355.7v-9.6M501.7 3058.9v9.6M546.8 2355.7v-9.6M546.8 3058.9v9.6M636.9 2355.7v-9.6M636.9 3058.9v9.6M682.0 2355.7v-9.6M682.0 3058.9v9.6M772.2 2355.7v-9.6M772.2 3058.9v9.6M817.2 2355.7v-9.6M817.2 3058.9v9.6M907.4 2355.7v-9.6M907.4 3058.9v9.6M907.4 2355.7v-9.6M907.4 3058.9v9.6M204.0 3030.8h-9.6M907.4 3030.8h9.6M204.0 3002.6h-9.6M907.4 3002.6h9.6M204.0 2974.5h-9.6M907.4 2974.5h9.6M204.0 2946.4h-9.6M907.4 2946.4h9.6M204.0 2890.1h-9.6M907.4 2890.1h9.6M204.0 2862.0h-9.6M907.4 2862.0h9.6M204.0 2833.9h-9.6M907.4 2833.9h9.6M204.0 2805.7h-9.6M907.4 2805.7h9.6M204.0 2749.5h-9.6M907.4 2749.5h9.6M204.0 2721.4h-9.6M907.4 2721.4h9.6M204.0 2693.2h-9.6M907.4 2693.2h9.6M204.0 2665.1h-9.6M907.4 2665.1h9.6M204.0 2608.9h-9.6M907.4 2608.9h9.6M204.0 2580.7h-9.6M907.4 2580.7h9.6M204.0 2552.6h-9.6M907.4 2552.6h9.6M204.0 2524.5h-9.6M907.4 2524.5h9.6M204.0 2468.2h-9.6M907.4 2468.2h9.6M204.0 2440.1h-9.6M907.4 2440.1h9.6M204.0 2412.0h-9.6M907.4 2412.0h9.6M204.0 2383.8h-9.6M907.4 2383.8h9.6" stroke="#555" stroke-width="1.3" fill="none"/>
<text class="tk" x="161" y="3069.9" text-anchor="end">0</text>
<text class="tk" x="161" y="2929.3" text-anchor="end">100</text>
<text class="tk" x="161" y="2788.6" text-anchor="end">200</text>
<text class="tk" x="161" y="2648.0" text-anchor="end">300</text>
<text class="tk" x="161" y="2507.3" text-anchor="end">400</text>
<text class="tk" x="161" y="2366.7" text-anchor="end">500</text>
<path d="M956.8 2355.7H1658.4V3058.2H956.8ZM956.8 2355.7v-19.0M956.8 3058.2v19.0M1073.9 2355.7v-19.0M1073.9 3058.2v19.0M1208.8 2355.7v-19.0M1208.8 3058.2v19.0M1343.7 2355.7v-19.0M1343.7 3058.2v19.0M1478.5 2355.7v-19.0M1478.5 3058.2v19.0M1613.4 2355.7v-19.0M1613.4 3058.2v19.0M956.8 3058.2h-19.0M1658.4 3058.2h19.0M956.8 2917.7h-19.0M1658.4 2917.7h19.0M956.8 2777.2h-19.0M1658.4 2777.2h19.0M956.8 2636.7h-19.0M1658.4 2636.7h19.0M956.8 2496.2h-19.0M1658.4 2496.2h19.0M956.8 2355.7h-19.0M1658.4 2355.7h19.0" stroke="#3c3c3c" stroke-width="1.8" fill="none"/>
<path d="M984.0 2355.7v-9.6M984.0 3058.2v9.6M1028.9 2355.7v-9.6M1028.9 3058.2v9.6M1118.8 2355.7v-9.6M1118.8 3058.2v9.6M1163.8 2355.7v-9.6M1163.8 3058.2v9.6M1253.7 2355.7v-9.6M1253.7 3058.2v9.6M1298.7 2355.7v-9.6M1298.7 3058.2v9.6M1388.6 2355.7v-9.6M1388.6 3058.2v9.6M1433.6 2355.7v-9.6M1433.6 3058.2v9.6M1523.5 2355.7v-9.6M1523.5 3058.2v9.6M1568.5 2355.7v-9.6M1568.5 3058.2v9.6M1658.4 2355.7v-9.6M1658.4 3058.2v9.6M1658.4 2355.7v-9.6M1658.4 3058.2v9.6M956.8 3030.1h-9.6M1658.4 3030.1h9.6M956.8 3002.0h-9.6M1658.4 3002.0h9.6M956.8 2973.9h-9.6M1658.4 2973.9h9.6M956.8 2945.8h-9.6M1658.4 2945.8h9.6M956.8 2889.6h-9.6M1658.4 2889.6h9.6M956.8 2861.5h-9.6M1658.4 2861.5h9.6M956.8 2833.4h-9.6M1658.4 2833.4h9.6M956.8 2805.3h-9.6M1658.4 2805.3h9.6M956.8 2749.1h-9.6M1658.4 2749.1h9.6M956.8 2721.0h-9.6M1658.4 2721.0h9.6M956.8 2692.9h-9.6M1658.4 2692.9h9.6M956.8 2664.8h-9.6M1658.4 2664.8h9.6M956.8 2608.6h-9.6M1658.4 2608.6h9.6M956.8 2580.5h-9.6M1658.4 2580.5h9.6M956.8 2552.4h-9.6M1658.4 2552.4h9.6M956.8 2524.3h-9.6M1658.4 2524.3h9.6M956.8 2468.1h-9.6M1658.4 2468.1h9.6M956.8 2440.0h-9.6M1658.4 2440.0h9.6M956.8 2411.9h-9.6M1658.4 2411.9h9.6M956.8 2383.8h-9.6M1658.4 2383.8h9.6" stroke="#555" stroke-width="1.3" fill="none"/>
<text class="tk" x="204.5" y="3123.2" text-anchor="middle">0</text>
<text class="tk" x="321.9" y="3123.2" text-anchor="middle">30</text>
<text class="tk" x="457.1" y="3123.2" text-anchor="middle">60</text>
<text class="tk" x="592.4" y="3123.2" text-anchor="middle">90</text>
<text class="tk" x="727.6" y="3123.2" text-anchor="middle">120</text>
<text class="tk" x="862.8" y="3123.2" text-anchor="middle">150</text>
<text class="tk" x="957.3" y="3123.2" text-anchor="middle">0</text>
<text class="tk" x="1074.4" y="3123.2" text-anchor="middle">30</text>
<text class="tk" x="1209.3" y="3123.2" text-anchor="middle">60</text>
<text class="tk" x="1344.2" y="3123.2" text-anchor="middle">90</text>
<text class="tk" x="1479.0" y="3123.2" text-anchor="middle">120</text>
<text class="tk" x="1613.9" y="3123.2" text-anchor="middle">150</text>
<text class="lb" x="234" y="149.6">(a)</text>
<text class="lb" x="984" y="144">(b)</text>
<text class="lb" x="235.3" y="906.5">(c)</text>
<text class="lb" x="985" y="908.5">(d)</text>
<text class="lb" x="231.8" y="1660.7">(e)</text>
<text class="lb" x="984" y="1662.2">(f)</text>
<text class="lb" x="235.3" y="2421.5">(g)</text>
<text class="lb" x="990" y="2421.3">(h)</text>
<text x="334.5" y="47.6" font-size="61" textLength="444" lengthAdjust="spacing">Simulation ‘AO’</text>
<text x="1040.8" y="44.5" font-size="61" textLength="505" lengthAdjust="spacing">Simulation ‘AOW’</text>
<text x="410.5" y="3212.5" font-size="50.5" textLength="1046" lengthAdjust="spacing">Distance relative to the storm center (km)</text>
<text transform="translate(38.5 1716) rotate(-90)" font-size="56" textLength="288" lengthAdjust="spacing">Height (km)</text>
<rect x="1704.4" y="86.00" width="17.6" height="11.57" fill="#d00014"/>
<rect x="1704.4" y="97.27" width="17.6" height="11.57" fill="#d80011"/>
<rect x="1704.4" y="108.54" width="17.6" height="11.57" fill="#e3000f"/>
<rect x="1704.4" y="119.81" width="17.6" height="11.57" fill="#ec0010"/>
<rect x="1704.4" y="131.08" width="17.6" height="11.57" fill="#f70007"/>
<rect x="1704.4" y="142.35" width="17.6" height="11.57" fill="#ff0000"/>
<rect x="1704.4" y="153.62" width="17.6" height="11.57" fill="#ff0000"/>
<rect x="1704.4" y="164.89" width="17.6" height="11.57" fill="#ff0005"/>
<rect x="1704.4" y="176.16" width="17.6" height="11.57" fill="#ff000a"/>
<rect x="1704.4" y="187.43" width="17.6" height="11.57" fill="#ff000f"/>
<rect x="1704.4" y="198.70" width="17.6" height="11.57" fill="#ff0015"/>
<rect x="1704.4" y="209.97" width="17.6" height="11.57" fill="#ff081a"/>
<rect x="1704.4" y="221.24" width="17.6" height="11.57" fill="#ff191f"/>
<rect x="1704.4" y="232.51" width="17.6" height="11.57" fill="#ff3524"/>
<rect x="1704.4" y="243.78" width="17.6" height="11.57" fill="#ff4b28"/>
<rect x="1704.4" y="255.05" width="17.6" height="11.57" fill="#ff5a2c"/>
<rect x="1704.4" y="266.32" width="17.6" height="11.57" fill="#ff6931"/>
<rect x="1704.4" y="277.59" width="17.6" height="11.57" fill="#ff7635"/>
<rect x="1704.4" y="288.86" width="17.6" height="11.57" fill="#ff8338"/>
<rect x="1704.4" y="300.13" width="17.6" height="11.57" fill="#ff923e"/>
<rect x="1704.4" y="311.40" width="17.6" height="11.57" fill="#ffa046"/>
<rect x="1704.4" y="322.67" width="17.6" height="11.57" fill="#ffad50"/>
<rect x="1704.4" y="333.94" width="17.6" height="11.57" fill="#ffb254"/>
<rect x="1704.4" y="345.21" width="17.6" height="11.57" fill="#ffbc5d"/>
<rect x="1704.4" y="356.48" width="17.6" height="11.57" fill="#ffc767"/>
<rect x="1704.4" y="367.75" width="17.6" height="11.57" fill="#ffce6e"/>
<rect x="1704.4" y="379.02" width="17.6" height="11.57" fill="#ffd579"/>
<rect x="1704.4" y="390.29" width="17.6" height="11.57" fill="#ffdd88"/>
<rect x="1704.4" y="401.56" width="17.6" height="11.57" fill="#ffe29b"/>
<rect x="1704.4" y="412.83" width="17.6" height="11.57" fill="#fae6af"/>
<rect x="1704.4" y="424.10" width="17.6" height="11.57" fill="#f3e9c3"/>
<rect x="1704.4" y="435.37" width="17.6" height="11.57" fill="#edebcd"/>
<rect x="1704.4" y="446.64" width="17.6" height="11.57" fill="#e1f0dd"/>
<rect x="1704.4" y="457.91" width="17.6" height="11.57" fill="#d6f3ed"/>
<rect x="1704.4" y="469.18" width="17.6" height="11.57" fill="#cef5f5"/>
<rect x="1704.4" y="480.45" width="17.6" height="11.57" fill="#c1f1f6"/>
<rect x="1704.4" y="491.72" width="17.6" height="11.57" fill="#b5edf4"/>
<rect x="1704.4" y="502.99" width="17.6" height="11.57" fill="#abeaf2"/>
<rect x="1704.4" y="514.26" width="17.6" height="11.57" fill="#9de6f0"/>
<rect x="1704.4" y="525.53" width="17.6" height="11.57" fill="#8fe1ed"/>
<rect x="1704.4" y="536.80" width="17.6" height="11.57" fill="#81dde9"/>
<rect x="1704.4" y="548.07" width="17.6" height="11.57" fill="#71d7e6"/>
<rect x="1704.4" y="559.34" width="17.6" height="11.57" fill="#61d1e3"/>
<rect x="1704.4" y="570.61" width="17.6" height="11.57" fill="#51cae0"/>
<rect x="1704.4" y="581.88" width="17.6" height="11.57" fill="#41c4dd"/>
<rect x="1704.4" y="593.15" width="17.6" height="11.57" fill="#26bddb"/>
<rect x="1704.4" y="604.42" width="17.6" height="11.57" fill="#00b4d8"/>
<rect x="1704.4" y="615.69" width="17.6" height="11.57" fill="#00afd5"/>
<rect x="1704.4" y="626.96" width="17.6" height="11.57" fill="#00a8d2"/>
<rect x="1704.4" y="638.23" width="17.6" height="11.57" fill="#00a0cf"/>
<rect x="1704.4" y="649.50" width="17.6" height="11.57" fill="#0099cb"/>
<rect x="1704.4" y="660.77" width="17.6" height="11.57" fill="#0091c6"/>
<rect x="1704.4" y="672.04" width="17.6" height="11.57" fill="#0087c1"/>
<rect x="1704.4" y="683.31" width="17.6" height="11.57" fill="#007fbd"/>
<rect x="1704.4" y="694.58" width="17.6" height="11.57" fill="#0475b8"/>
<rect x="1704.4" y="705.85" width="17.6" height="11.57" fill="#0a6ab3"/>
<rect x="1704.4" y="717.12" width="17.6" height="11.57" fill="#0a60ad"/>
<rect x="1704.4" y="728.39" width="17.6" height="11.57" fill="#0a54a8"/>
<rect x="1704.4" y="739.66" width="17.6" height="11.57" fill="#0a48a4"/>
<rect x="1704.4" y="750.93" width="17.6" height="11.57" fill="#0a3f9f"/>
<rect x="1704.4" y="762.20" width="17.6" height="11.57" fill="#052f96"/>
<rect x="1704.4" y="773.47" width="17.6" height="11.57" fill="#00228e"/>
<path d="M1704.4 97.27H1722.0M1704.4 108.54H1722.0M1704.4 119.81H1722.0M1704.4 131.08H1722.0M1704.4 142.35H1722.0M1704.4 153.62H1722.0M1704.4 164.89H1722.0M1704.4 176.16H1722.0M1704.4 187.43H1722.0M1704.4 198.70H1722.0M1704.4 209.97H1722.0M1704.4 221.24H1722.0M1704.4 232.51H1722.0M1704.4 243.78H1722.0M1704.4 255.05H1722.0M1704.4 266.32H1722.0M1704.4 277.59H1722.0M1704.4 288.86H1722.0M1704.4 300.13H1722.0M1704.4 311.40H1722.0M1704.4 322.67H1722.0M1704.4 333.94H1722.0M1704.4 345.21H1722.0M1704.4 356.48H1722.0M1704.4 367.75H1722.0M1704.4 379.02H1722.0M1704.4 390.29H1722.0M1704.4 401.56H1722.0M1704.4 412.83H1722.0M1704.4 424.10H1722.0M1704.4 435.37H1722.0M1704.4 446.64H1722.0M1704.4 457.91H1722.0M1704.4 469.18H1722.0M1704.4 480.45H1722.0M1704.4 491.72H1722.0M1704.4 502.99H1722.0M1704.4 514.26H1722.0M1704.4 525.53H1722.0M1704.4 536.80H1722.0M1704.4 548.07H1722.0M1704.4 559.34H1722.0M1704.4 570.61H1722.0M1704.4 581.88H1722.0M1704.4 593.15H1722.0M1704.4 604.42H1722.0M1704.4 615.69H1722.0M1704.4 626.96H1722.0M1704.4 638.23H1722.0M1704.4 649.50H1722.0M1704.4 660.77H1722.0M1704.4 672.04H1722.0M1704.4 683.31H1722.0M1704.4 694.58H1722.0M1704.4 705.85H1722.0M1704.4 717.12H1722.0M1704.4 728.39H1722.0M1704.4 739.66H1722.0M1704.4 750.93H1722.0M1704.4 762.20H1722.0M1704.4 773.47H1722.0" stroke="#2a2a2a" stroke-opacity="0.75" stroke-width="0.9" fill="none"/>
<rect x="1704.4" y="86.0" width="17.6" height="698.8" fill="none" stroke="#555" stroke-opacity="0.7" stroke-width="0.8"/>
<text class="cb" x="1744.0" y="128.7" text-anchor="middle">28</text>
<text class="cb" x="1744.0" y="173.8" text-anchor="middle">24</text>
<text class="cb" x="1744.0" y="218.9" text-anchor="middle">20</text>
<text class="cb" x="1744.0" y="263.9" text-anchor="middle">16</text>
<text class="cb" x="1744.0" y="309.0" text-anchor="middle">12</text>
<text class="cb" x="1744.0" y="354.1" text-anchor="middle">8</text>
<text class="cb" x="1744.0" y="399.2" text-anchor="middle">4</text>
<text class="cb" x="1744.0" y="444.3" text-anchor="middle">0</text>
<text class="cb" x="1744.0" y="489.3" text-anchor="middle">-4</text>
<text class="cb" x="1744.0" y="534.4" text-anchor="middle">-8</text>
<text class="cb" x="1744.0" y="579.5" text-anchor="middle">-12</text>
<text class="cb" x="1744.0" y="624.6" text-anchor="middle">-16</text>
<text class="cb" x="1744.0" y="669.7" text-anchor="middle">-20</text>
<text class="cb" x="1744.0" y="714.8" text-anchor="middle">-24</text>
<text class="cb" x="1744.0" y="759.8" text-anchor="middle">-28</text>
<rect x="1703.5" y="846.30" width="17.5" height="8.83" fill="#d00014"/>
<rect x="1703.5" y="854.83" width="17.5" height="8.83" fill="#d40013"/>
<rect x="1703.5" y="863.35" width="17.5" height="8.83" fill="#dc0010"/>
<rect x="1703.5" y="871.88" width="17.5" height="8.83" fill="#e4000f"/>
<rect x="1703.5" y="880.40" width="17.5" height="8.83" fill="#eb0010"/>
<rect x="1703.5" y="888.93" width="17.5" height="8.83" fill="#f3000b"/>
<rect x="1703.5" y="897.46" width="17.5" height="8.83" fill="#fc0003"/>
<rect x="1703.5" y="905.98" width="17.5" height="8.83" fill="#ff0000"/>
<rect x="1703.5" y="914.51" width="17.5" height="8.83" fill="#ff0000"/>
<rect x="1703.5" y="923.03" width="17.5" height="8.83" fill="#ff0003"/>
<rect x="1703.5" y="931.56" width="17.5" height="8.83" fill="#ff0007"/>
<rect x="1703.5" y="940.09" width="17.5" height="8.83" fill="#ff000b"/>
<rect x="1703.5" y="948.61" width="17.5" height="8.83" fill="#ff000f"/>
<rect x="1703.5" y="957.14" width="17.5" height="8.83" fill="#ff0013"/>
<rect x="1703.5" y="965.66" width="17.5" height="8.83" fill="#ff0017"/>
<rect x="1703.5" y="974.19" width="17.5" height="8.83" fill="#ff0b1b"/>
<rect x="1703.5" y="982.72" width="17.5" height="8.83" fill="#ff191f"/>
<rect x="1703.5" y="991.24" width="17.5" height="8.83" fill="#ff2d22"/>
<rect x="1703.5" y="999.77" width="17.5" height="8.83" fill="#ff4326"/>
<rect x="1703.5" y="1008.29" width="17.5" height="8.83" fill="#ff4f29"/>
<rect x="1703.5" y="1016.82" width="17.5" height="8.83" fill="#ff5a2c"/>
<rect x="1703.5" y="1025.35" width="17.5" height="8.83" fill="#ff6530"/>
<rect x="1703.5" y="1033.87" width="17.5" height="8.83" fill="#ff7034"/>
<rect x="1703.5" y="1042.40" width="17.5" height="8.83" fill="#ff7a36"/>
<rect x="1703.5" y="1050.92" width="17.5" height="8.83" fill="#ff8338"/>
<rect x="1703.5" y="1059.45" width="17.5" height="8.83" fill="#ff8e3c"/>
<rect x="1703.5" y="1067.98" width="17.5" height="8.83" fill="#ff9941"/>
<rect x="1703.5" y="1076.50" width="17.5" height="8.83" fill="#ffa449"/>
<rect x="1703.5" y="1085.03" width="17.5" height="8.83" fill="#ffad51"/>
<rect x="1703.5" y="1093.55" width="17.5" height="8.83" fill="#ffb154"/>
<rect x="1703.5" y="1102.08" width="17.5" height="8.83" fill="#ffb658"/>
<rect x="1703.5" y="1110.61" width="17.5" height="8.83" fill="#ffbf60"/>
<rect x="1703.5" y="1119.13" width="17.5" height="8.83" fill="#ffc767"/>
<rect x="1703.5" y="1127.66" width="17.5" height="8.83" fill="#ffcd6d"/>
<rect x="1703.5" y="1136.18" width="17.5" height="8.83" fill="#ffd273"/>
<rect x="1703.5" y="1144.71" width="17.5" height="8.83" fill="#ffd87e"/>
<rect x="1703.5" y="1153.24" width="17.5" height="8.83" fill="#ffde89"/>
<rect x="1703.5" y="1161.76" width="17.5" height="8.83" fill="#ffe298"/>
<rect x="1703.5" y="1170.29" width="17.5" height="8.83" fill="#fde5a7"/>
<rect x="1703.5" y="1178.81" width="17.5" height="8.83" fill="#f8e7b7"/>
<rect x="1703.5" y="1187.34" width="17.5" height="8.83" fill="#f3e9c4"/>
<rect x="1703.5" y="1195.87" width="17.5" height="8.83" fill="#edebcc"/>
<rect x="1703.5" y="1204.39" width="17.5" height="8.83" fill="#e6eed7"/>
<rect x="1703.5" y="1212.92" width="17.5" height="8.83" fill="#dcf1e4"/>
<rect x="1703.5" y="1221.44" width="17.5" height="8.83" fill="#d5f4ee"/>
<rect x="1703.5" y="1229.97" width="17.5" height="8.83" fill="#cff5f4"/>
<rect x="1703.5" y="1238.50" width="17.5" height="8.83" fill="#c6f3f6"/>
<rect x="1703.5" y="1247.02" width="17.5" height="8.83" fill="#bceff5"/>
<rect x="1703.5" y="1255.55" width="17.5" height="8.83" fill="#b3edf4"/>
<rect x="1703.5" y="1264.07" width="17.5" height="8.83" fill="#acebf2"/>
<rect x="1703.5" y="1272.60" width="17.5" height="8.83" fill="#a2e7f1"/>
<rect x="1703.5" y="1281.13" width="17.5" height="8.83" fill="#97e4ee"/>
<rect x="1703.5" y="1289.65" width="17.5" height="8.83" fill="#8ce1ec"/>
<rect x="1703.5" y="1298.18" width="17.5" height="8.83" fill="#82dee9"/>
<rect x="1703.5" y="1306.70" width="17.5" height="8.83" fill="#76d9e7"/>
<rect x="1703.5" y="1315.23" width="17.5" height="8.83" fill="#6ad5e4"/>
<rect x="1703.5" y="1323.76" width="17.5" height="8.83" fill="#5dd0e2"/>
<rect x="1703.5" y="1332.28" width="17.5" height="8.83" fill="#51cae0"/>
<rect x="1703.5" y="1340.81" width="17.5" height="8.83" fill="#45c6de"/>
<rect x="1703.5" y="1349.33" width="17.5" height="8.83" fill="#39c1dc"/>
<rect x="1703.5" y="1357.86" width="17.5" height="8.83" fill="#1dbbda"/>
<rect x="1703.5" y="1366.39" width="17.5" height="8.83" fill="#00b4d8"/>
<rect x="1703.5" y="1374.91" width="17.5" height="8.83" fill="#00b0d6"/>
<rect x="1703.5" y="1383.44" width="17.5" height="8.83" fill="#00acd4"/>
<rect x="1703.5" y="1391.96" width="17.5" height="8.83" fill="#00a6d1"/>
<rect x="1703.5" y="1400.49" width="17.5" height="8.83" fill="#00a0cf"/>
<rect x="1703.5" y="1409.02" width="17.5" height="8.83" fill="#009acc"/>
<rect x="1703.5" y="1417.54" width="17.5" height="8.83" fill="#0095c8"/>
<rect x="1703.5" y="1426.07" width="17.5" height="8.83" fill="#008ec4"/>
<rect x="1703.5" y="1434.59" width="17.5" height="8.83" fill="#0087c0"/>
<rect x="1703.5" y="1443.12" width="17.5" height="8.83" fill="#0081bd"/>
<rect x="1703.5" y="1451.65" width="17.5" height="8.83" fill="#017aba"/>
<rect x="1703.5" y="1460.17" width="17.5" height="8.83" fill="#0672b7"/>
<rect x="1703.5" y="1468.70" width="17.5" height="8.83" fill="#0a6ab3"/>
<rect x="1703.5" y="1477.22" width="17.5" height="8.83" fill="#0a61ae"/>
<rect x="1703.5" y="1485.75" width="17.5" height="8.83" fill="#0a59aa"/>
<rect x="1703.5" y="1494.28" width="17.5" height="8.83" fill="#0a50a7"/>
<rect x="1703.5" y="1502.80" width="17.5" height="8.83" fill="#0a47a4"/>
<rect x="1703.5" y="1511.33" width="17.5" height="8.83" fill="#0a40a0"/>
<rect x="1703.5" y="1519.85" width="17.5" height="8.83" fill="#08369a"/>
<rect x="1703.5" y="1528.38" width="17.5" height="8.83" fill="#032992"/>
<rect x="1703.5" y="1536.91" width="17.5" height="6.89" fill="#00228e"/>
<path d="M1703.5 854.83H1721.0M1703.5 863.35H1721.0M1703.5 871.88H1721.0M1703.5 880.40H1721.0M1703.5 888.93H1721.0M1703.5 897.46H1721.0M1703.5 905.98H1721.0M1703.5 914.51H1721.0M1703.5 923.03H1721.0M1703.5 931.56H1721.0M1703.5 940.09H1721.0M1703.5 948.61H1721.0M1703.5 957.14H1721.0M1703.5 965.66H1721.0M1703.5 974.19H1721.0M1703.5 982.72H1721.0M1703.5 991.24H1721.0M1703.5 999.77H1721.0M1703.5 1008.29H1721.0M1703.5 1016.82H1721.0M1703.5 1025.35H1721.0M1703.5 1033.87H1721.0M1703.5 1042.40H1721.0M1703.5 1050.92H1721.0M1703.5 1059.45H1721.0M1703.5 1067.98H1721.0M1703.5 1076.50H1721.0M1703.5 1085.03H1721.0M1703.5 1093.55H1721.0M1703.5 1102.08H1721.0M1703.5 1110.61H1721.0M1703.5 1119.13H1721.0M1703.5 1127.66H1721.0M1703.5 1136.18H1721.0M1703.5 1144.71H1721.0M1703.5 1153.24H1721.0M1703.5 1161.76H1721.0M1703.5 1170.29H1721.0M1703.5 1178.81H1721.0M1703.5 1187.34H1721.0M1703.5 1195.87H1721.0M1703.5 1204.39H1721.0M1703.5 1212.92H1721.0M1703.5 1221.44H1721.0M1703.5 1229.97H1721.0M1703.5 1238.50H1721.0M1703.5 1247.02H1721.0M1703.5 1255.55H1721.0M1703.5 1264.07H1721.0M1703.5 1272.60H1721.0M1703.5 1281.13H1721.0M1703.5 1289.65H1721.0M1703.5 1298.18H1721.0M1703.5 1306.70H1721.0M1703.5 1315.23H1721.0M1703.5 1323.76H1721.0M1703.5 1332.28H1721.0M1703.5 1340.81H1721.0M1703.5 1349.33H1721.0M1703.5 1357.86H1721.0M1703.5 1366.39H1721.0M1703.5 1374.91H1721.0M1703.5 1383.44H1721.0M1703.5 1391.96H1721.0M1703.5 1400.49H1721.0M1703.5 1409.02H1721.0M1703.5 1417.54H1721.0M1703.5 1426.07H1721.0M1703.5 1434.59H1721.0M1703.5 1443.12H1721.0M1703.5 1451.65H1721.0M1703.5 1460.17H1721.0M1703.5 1468.70H1721.0M1703.5 1477.22H1721.0M1703.5 1485.75H1721.0M1703.5 1494.28H1721.0M1703.5 1502.80H1721.0M1703.5 1511.33H1721.0M1703.5 1519.85H1721.0M1703.5 1528.38H1721.0M1703.5 1536.91H1721.0" stroke="#2a2a2a" stroke-opacity="0.75" stroke-width="0.9" fill="none"/>
<rect x="1703.5" y="846.3" width="17.5" height="697.2" fill="none" stroke="#555" stroke-opacity="0.7" stroke-width="0.8"/>
<text class="cb" x="1749.4" y="863.7" text-anchor="middle">400</text>
<text class="cb" x="1749.4" y="897.8" text-anchor="middle">360</text>
<text class="cb" x="1749.4" y="931.9" text-anchor="middle">320</text>
<text class="cb" x="1749.4" y="966.0" text-anchor="middle">280</text>
<text class="cb" x="1749.4" y="1000.1" text-anchor="middle">240</text>
<text class="cb" x="1749.4" y="1034.2" text-anchor="middle">200</text>
<text class="cb" x="1749.4" y="1068.4" text-anchor="middle">160</text>
<text class="cb" x="1749.4" y="1102.5" text-anchor="middle">120</text>
<text class="cb" x="1749.4" y="1136.6" text-anchor="middle">80</text>
<text class="cb" x="1749.4" y="1170.7" text-anchor="middle">40</text>
<text class="cb" x="1749.4" y="1204.8" text-anchor="middle">0</text>
<text class="cb" x="1749.4" y="1238.9" text-anchor="middle">-40</text>
<text class="cb" x="1749.4" y="1273.0" text-anchor="middle">-80</text>
<text class="cb" x="1749.4" y="1307.1" text-anchor="middle">-120</text>
<text class="cb" x="1749.4" y="1341.2" text-anchor="middle">-160</text>
<text class="cb" x="1749.4" y="1375.3" text-anchor="middle">-200</text>
<text class="cb" x="1749.4" y="1409.4" text-anchor="middle">-240</text>
<text class="cb" x="1749.4" y="1443.5" text-anchor="middle">-280</text>
<text class="cb" x="1749.4" y="1477.6" text-anchor="middle">-320</text>
<text class="cb" x="1749.4" y="1511.7" text-anchor="middle">-360</text>
<text class="cb" x="1749.4" y="1545.8" text-anchor="middle">-400</text>
<rect x="1702.7" y="1602.80" width="17.3" height="16.88" fill="#d00014"/>
<rect x="1702.7" y="1619.38" width="17.3" height="16.88" fill="#e0000f"/>
<rect x="1702.7" y="1635.95" width="17.3" height="16.87" fill="#ee0010"/>
<rect x="1702.7" y="1652.52" width="17.3" height="16.88" fill="#ff0000"/>
<rect x="1702.7" y="1669.10" width="17.3" height="16.88" fill="#ff0000"/>
<rect x="1702.7" y="1685.67" width="17.3" height="16.88" fill="#ff0008"/>
<rect x="1702.7" y="1702.25" width="17.3" height="16.88" fill="#ff0010"/>
<rect x="1702.7" y="1718.83" width="17.3" height="16.87" fill="#ff0018"/>
<rect x="1702.7" y="1735.40" width="17.3" height="16.88" fill="#ff1a1f"/>
<rect x="1702.7" y="1751.97" width="17.3" height="16.88" fill="#ff4426"/>
<rect x="1702.7" y="1768.55" width="17.3" height="16.88" fill="#ff5a2c"/>
<rect x="1702.7" y="1785.12" width="17.3" height="16.87" fill="#ff7034"/>
<rect x="1702.7" y="1801.70" width="17.3" height="16.88" fill="#ff8238"/>
<rect x="1702.7" y="1818.27" width="17.3" height="16.88" fill="#ff9840"/>
<rect x="1702.7" y="1834.85" width="17.3" height="16.88" fill="#ffac50"/>
<rect x="1702.7" y="1851.42" width="17.3" height="16.88" fill="#ffb456"/>
<rect x="1702.7" y="1868.00" width="17.3" height="16.87" fill="#ffc666"/>
<rect x="1702.7" y="1884.57" width="17.3" height="16.88" fill="#ffd070"/>
<rect x="1702.7" y="1901.15" width="17.3" height="16.88" fill="#ffdc84"/>
<rect x="1702.7" y="1917.72" width="17.3" height="16.88" fill="#ffe4a0"/>
<rect x="1702.7" y="1934.30" width="17.3" height="16.88" fill="#f5e8c0"/>
<rect x="1702.7" y="1950.88" width="17.3" height="16.87" fill="#ebecd0"/>
<rect x="1702.7" y="1967.45" width="17.3" height="16.88" fill="#d8f3ea"/>
<rect x="1702.7" y="1984.02" width="17.3" height="16.88" fill="#cdf5f7"/>
<rect x="1702.7" y="2000.60" width="17.3" height="16.88" fill="#b8eef5"/>
<rect x="1702.7" y="2017.17" width="17.3" height="16.88" fill="#aaeaf2"/>
<rect x="1702.7" y="2033.75" width="17.3" height="16.87" fill="#94e3ee"/>
<rect x="1702.7" y="2050.32" width="17.3" height="16.88" fill="#80dde9"/>
<rect x="1702.7" y="2066.90" width="17.3" height="16.87" fill="#68d4e4"/>
<rect x="1702.7" y="2083.47" width="17.3" height="16.88" fill="#50cae0"/>
<rect x="1702.7" y="2100.05" width="17.3" height="16.87" fill="#38c1dc"/>
<rect x="1702.7" y="2116.62" width="17.3" height="16.87" fill="#00b4d8"/>
<rect x="1702.7" y="2133.20" width="17.3" height="16.88" fill="#00acd4"/>
<rect x="1702.7" y="2149.78" width="17.3" height="16.87" fill="#00a0cf"/>
<rect x="1702.7" y="2166.35" width="17.3" height="16.88" fill="#0096c9"/>
<rect x="1702.7" y="2182.93" width="17.3" height="16.87" fill="#0088c1"/>
<rect x="1702.7" y="2199.50" width="17.3" height="16.87" fill="#007cbb"/>
<rect x="1702.7" y="2216.07" width="17.3" height="16.88" fill="#0a6cb4"/>
<rect x="1702.7" y="2232.65" width="17.3" height="16.87" fill="#0a5cab"/>
<rect x="1702.7" y="2249.22" width="17.3" height="16.88" fill="#0a4aa5"/>
<rect x="1702.7" y="2265.80" width="17.3" height="16.87" fill="#0a3c9e"/>
<rect x="1702.7" y="2282.38" width="17.3" height="11.43" fill="#00228e"/>
<path d="M1702.7 1619.38H1720.0M1702.7 1635.95H1720.0M1702.7 1652.52H1720.0M1702.7 1669.10H1720.0M1702.7 1685.67H1720.0M1702.7 1702.25H1720.0M1702.7 1718.83H1720.0M1702.7 1735.40H1720.0M1702.7 1751.97H1720.0M1702.7 1768.55H1720.0M1702.7 1785.12H1720.0M1702.7 1801.70H1720.0M1702.7 1818.27H1720.0M1702.7 1834.85H1720.0M1702.7 1851.42H1720.0M1702.7 1868.00H1720.0M1702.7 1884.57H1720.0M1702.7 1901.15H1720.0M1702.7 1917.72H1720.0M1702.7 1934.30H1720.0M1702.7 1950.88H1720.0M1702.7 1967.45H1720.0M1702.7 1984.02H1720.0M1702.7 2000.60H1720.0M1702.7 2017.17H1720.0M1702.7 2033.75H1720.0M1702.7 2050.32H1720.0M1702.7 2066.90H1720.0M1702.7 2083.47H1720.0M1702.7 2100.05H1720.0M1702.7 2116.62H1720.0M1702.7 2133.20H1720.0M1702.7 2149.78H1720.0M1702.7 2166.35H1720.0M1702.7 2182.93H1720.0M1702.7 2199.50H1720.0M1702.7 2216.07H1720.0M1702.7 2232.65H1720.0M1702.7 2249.22H1720.0M1702.7 2265.80H1720.0M1702.7 2282.38H1720.0" stroke="#2a2a2a" stroke-opacity="0.75" stroke-width="0.9" fill="none"/>
<rect x="1702.7" y="1602.8" width="17.3" height="690.7" fill="none" stroke="#555" stroke-opacity="0.7" stroke-width="0.8"/>
<text class="cb" x="1742.0" y="1628.3" text-anchor="middle">20</text>
<text class="cb" x="1742.0" y="1661.4" text-anchor="middle">18</text>
<text class="cb" x="1742.0" y="1694.6" text-anchor="middle">16</text>
<text class="cb" x="1742.0" y="1727.7" text-anchor="middle">14</text>
<text class="cb" x="1742.0" y="1760.9" text-anchor="middle">12</text>
<text class="cb" x="1742.0" y="1794.0" text-anchor="middle">10</text>
<text class="cb" x="1742.0" y="1827.2" text-anchor="middle">8</text>
<text class="cb" x="1742.0" y="1860.3" text-anchor="middle">6</text>
<text class="cb" x="1742.0" y="1893.5" text-anchor="middle">4</text>
<text class="cb" x="1742.0" y="1926.6" text-anchor="middle">2</text>
<text class="cb" x="1742.0" y="1959.8" text-anchor="middle">0</text>
<text class="cb" x="1742.0" y="1992.9" text-anchor="middle">-2</text>
<text class="cb" x="1742.0" y="2026.1" text-anchor="middle">-4</text>
<text class="cb" x="1742.0" y="2059.2" text-anchor="middle">-6</text>
<text class="cb" x="1742.0" y="2092.4" text-anchor="middle">-8</text>
<text class="cb" x="1742.0" y="2125.5" text-anchor="middle">-10</text>
<text class="cb" x="1742.0" y="2158.7" text-anchor="middle">-12</text>
<text class="cb" x="1742.0" y="2191.8" text-anchor="middle">-14</text>
<text class="cb" x="1742.0" y="2225.0" text-anchor="middle">-16</text>
<text class="cb" x="1742.0" y="2258.1" text-anchor="middle">-18</text>
<text class="cb" x="1742.0" y="2291.3" text-anchor="middle">-20</text>
<rect x="1704.4" y="2358.80" width="17.7" height="8.79" fill="#d00014"/>
<rect x="1704.4" y="2367.29" width="17.7" height="8.79" fill="#d40013"/>
<rect x="1704.4" y="2375.78" width="17.7" height="8.79" fill="#dc0010"/>
<rect x="1704.4" y="2384.27" width="17.7" height="8.79" fill="#e4000f"/>
<rect x="1704.4" y="2392.76" width="17.7" height="8.79" fill="#eb0010"/>
<rect x="1704.4" y="2401.26" width="17.7" height="8.79" fill="#f3000b"/>
<rect x="1704.4" y="2409.75" width="17.7" height="8.79" fill="#fc0003"/>
<rect x="1704.4" y="2418.24" width="17.7" height="8.79" fill="#ff0000"/>
<rect x="1704.4" y="2426.73" width="17.7" height="8.79" fill="#ff0000"/>
<rect x="1704.4" y="2435.22" width="17.7" height="8.79" fill="#ff0003"/>
<rect x="1704.4" y="2443.71" width="17.7" height="8.79" fill="#ff0007"/>
<rect x="1704.4" y="2452.20" width="17.7" height="8.79" fill="#ff000b"/>
<rect x="1704.4" y="2460.69" width="17.7" height="8.79" fill="#ff000f"/>
<rect x="1704.4" y="2469.18" width="17.7" height="8.79" fill="#ff0013"/>
<rect x="1704.4" y="2477.67" width="17.7" height="8.79" fill="#ff0017"/>
<rect x="1704.4" y="2486.16" width="17.7" height="8.79" fill="#ff0b1b"/>
<rect x="1704.4" y="2494.66" width="17.7" height="8.79" fill="#ff191f"/>
<rect x="1704.4" y="2503.15" width="17.7" height="8.79" fill="#ff2d22"/>
<rect x="1704.4" y="2511.64" width="17.7" height="8.79" fill="#ff4326"/>
<rect x="1704.4" y="2520.13" width="17.7" height="8.79" fill="#ff4f29"/>
<rect x="1704.4" y="2528.62" width="17.7" height="8.79" fill="#ff5a2c"/>
<rect x="1704.4" y="2537.11" width="17.7" height="8.79" fill="#ff6530"/>
<rect x="1704.4" y="2545.60" width="17.7" height="8.79" fill="#ff7034"/>
<rect x="1704.4" y="2554.09" width="17.7" height="8.79" fill="#ff7a36"/>
<rect x="1704.4" y="2562.58" width="17.7" height="8.79" fill="#ff8338"/>
<rect x="1704.4" y="2571.08" width="17.7" height="8.79" fill="#ff8e3c"/>
<rect x="1704.4" y="2579.57" width="17.7" height="8.79" fill="#ff9941"/>
<rect x="1704.4" y="2588.06" width="17.7" height="8.79" fill="#ffa449"/>
<rect x="1704.4" y="2596.55" width="17.7" height="8.79" fill="#ffad51"/>
<rect x="1704.4" y="2605.04" width="17.7" height="8.79" fill="#ffb154"/>
<rect x="1704.4" y="2613.53" width="17.7" height="8.79" fill="#ffb658"/>
<rect x="1704.4" y="2622.02" width="17.7" height="8.79" fill="#ffbf60"/>
<rect x="1704.4" y="2630.51" width="17.7" height="8.79" fill="#ffc767"/>
<rect x="1704.4" y="2639.00" width="17.7" height="8.79" fill="#ffcd6d"/>
<rect x="1704.4" y="2647.49" width="17.7" height="8.79" fill="#ffd273"/>
<rect x="1704.4" y="2655.99" width="17.7" height="8.79" fill="#ffd87e"/>
<rect x="1704.4" y="2664.48" width="17.7" height="8.79" fill="#ffde89"/>
<rect x="1704.4" y="2672.97" width="17.7" height="8.79" fill="#ffe298"/>
<rect x="1704.4" y="2681.46" width="17.7" height="8.79" fill="#fde5a7"/>
<rect x="1704.4" y="2689.95" width="17.7" height="8.79" fill="#f8e7b7"/>
<rect x="1704.4" y="2698.44" width="17.7" height="8.79" fill="#f3e9c4"/>
<rect x="1704.4" y="2706.93" width="17.7" height="8.79" fill="#edebcc"/>
<rect x="1704.4" y="2715.42" width="17.7" height="8.79" fill="#e6eed7"/>
<rect x="1704.4" y="2723.91" width="17.7" height="8.79" fill="#dcf1e4"/>
<rect x="1704.4" y="2732.40" width="17.7" height="8.79" fill="#d5f4ee"/>
<rect x="1704.4" y="2740.89" width="17.7" height="8.79" fill="#cff5f4"/>
<rect x="1704.4" y="2749.39" width="17.7" height="8.79" fill="#c6f3f6"/>
<rect x="1704.4" y="2757.88" width="17.7" height="8.79" fill="#bceff5"/>
<rect x="1704.4" y="2766.37" width="17.7" height="8.79" fill="#b3edf4"/>
<rect x="1704.4" y="2774.86" width="17.7" height="8.79" fill="#acebf2"/>
<rect x="1704.4" y="2783.35" width="17.7" height="8.79" fill="#a2e7f1"/>
<rect x="1704.4" y="2791.84" width="17.7" height="8.79" fill="#97e4ee"/>
<rect x="1704.4" y="2800.33" width="17.7" height="8.79" fill="#8ce1ec"/>
<rect x="1704.4" y="2808.82" width="17.7" height="8.79" fill="#82dee9"/>
<rect x="1704.4" y="2817.31" width="17.7" height="8.79" fill="#76d9e7"/>
<rect x="1704.4" y="2825.81" width="17.7" height="8.79" fill="#6ad5e4"/>
<rect x="1704.4" y="2834.30" width="17.7" height="8.79" fill="#5dd0e2"/>
<rect x="1704.4" y="2842.79" width="17.7" height="8.79" fill="#51cae0"/>
<rect x="1704.4" y="2851.28" width="17.7" height="8.79" fill="#45c6de"/>
<rect x="1704.4" y="2859.77" width="17.7" height="8.79" fill="#39c1dc"/>
<rect x="1704.4" y="2868.26" width="17.7" height="8.79" fill="#1dbbda"/>
<rect x="1704.4" y="2876.75" width="17.7" height="8.79" fill="#00b4d8"/>
<rect x="1704.4" y="2885.24" width="17.7" height="8.79" fill="#00b0d6"/>
<rect x="1704.4" y="2893.73" width="17.7" height="8.79" fill="#00acd4"/>
<rect x="1704.4" y="2902.22" width="17.7" height="8.79" fill="#00a6d1"/>
<rect x="1704.4" y="2910.72" width="17.7" height="8.79" fill="#00a0cf"/>
<rect x="1704.4" y="2919.21" width="17.7" height="8.79" fill="#009acc"/>
<rect x="1704.4" y="2927.70" width="17.7" height="8.79" fill="#0095c8"/>
<rect x="1704.4" y="2936.19" width="17.7" height="8.79" fill="#008ec4"/>
<rect x="1704.4" y="2944.68" width="17.7" height="8.79" fill="#0087c0"/>
<rect x="1704.4" y="2953.17" width="17.7" height="8.79" fill="#0081bd"/>
<rect x="1704.4" y="2961.66" width="17.7" height="8.79" fill="#017aba"/>
<rect x="1704.4" y="2970.15" width="17.7" height="8.79" fill="#0672b7"/>
<rect x="1704.4" y="2978.64" width="17.7" height="8.79" fill="#0a6ab3"/>
<rect x="1704.4" y="2987.13" width="17.7" height="8.79" fill="#0a61ae"/>
<rect x="1704.4" y="2995.62" width="17.7" height="8.79" fill="#0a59aa"/>
<rect x="1704.4" y="3004.12" width="17.7" height="8.79" fill="#0a50a7"/>
<rect x="1704.4" y="3012.61" width="17.7" height="8.79" fill="#0a47a4"/>
<rect x="1704.4" y="3021.10" width="17.7" height="8.79" fill="#0a40a0"/>
<rect x="1704.4" y="3029.59" width="17.7" height="8.79" fill="#08369a"/>
<rect x="1704.4" y="3038.08" width="17.7" height="8.79" fill="#032992"/>
<rect x="1704.4" y="3046.57" width="17.7" height="8.43" fill="#00228e"/>
<path d="M1704.4 2367.29H1722.1M1704.4 2375.78H1722.1M1704.4 2384.27H1722.1M1704.4 2392.76H1722.1M1704.4 2401.26H1722.1M1704.4 2409.75H1722.1M1704.4 2418.24H1722.1M1704.4 2426.73H1722.1M1704.4 2435.22H1722.1M1704.4 2443.71H1722.1M1704.4 2452.20H1722.1M1704.4 2460.69H1722.1M1704.4 2469.18H1722.1M1704.4 2477.67H1722.1M1704.4 2486.16H1722.1M1704.4 2494.66H1722.1M1704.4 2503.15H1722.1M1704.4 2511.64H1722.1M1704.4 2520.13H1722.1M1704.4 2528.62H1722.1M1704.4 2537.11H1722.1M1704.4 2545.60H1722.1M1704.4 2554.09H1722.1M1704.4 2562.58H1722.1M1704.4 2571.08H1722.1M1704.4 2579.57H1722.1M1704.4 2588.06H1722.1M1704.4 2596.55H1722.1M1704.4 2605.04H1722.1M1704.4 2613.53H1722.1M1704.4 2622.02H1722.1M1704.4 2630.51H1722.1M1704.4 2639.00H1722.1M1704.4 2647.49H1722.1M1704.4 2655.99H1722.1M1704.4 2664.48H1722.1M1704.4 2672.97H1722.1M1704.4 2681.46H1722.1M1704.4 2689.95H1722.1M1704.4 2698.44H1722.1M1704.4 2706.93H1722.1M1704.4 2715.42H1722.1M1704.4 2723.91H1722.1M1704.4 2732.40H1722.1M1704.4 2740.89H1722.1M1704.4 2749.39H1722.1M1704.4 2757.88H1722.1M1704.4 2766.37H1722.1M1704.4 2774.86H1722.1M1704.4 2783.35H1722.1M1704.4 2791.84H1722.1M1704.4 2800.33H1722.1M1704.4 2808.82H1722.1M1704.4 2817.31H1722.1M1704.4 2825.81H1722.1M1704.4 2834.30H1722.1M1704.4 2842.79H1722.1M1704.4 2851.28H1722.1M1704.4 2859.77H1722.1M1704.4 2868.26H1722.1M1704.4 2876.75H1722.1M1704.4 2885.24H1722.1M1704.4 2893.73H1722.1M1704.4 2902.22H1722.1M1704.4 2910.72H1722.1M1704.4 2919.21H1722.1M1704.4 2927.70H1722.1M1704.4 2936.19H1722.1M1704.4 2944.68H1722.1M1704.4 2953.17H1722.1M1704.4 2961.66H1722.1M1704.4 2970.15H1722.1M1704.4 2978.64H1722.1M1704.4 2987.13H1722.1M1704.4 2995.62H1722.1M1704.4 3004.12H1722.1M1704.4 3012.61H1722.1M1704.4 3021.10H1722.1M1704.4 3029.59H1722.1M1704.4 3038.08H1722.1M1704.4 3046.57H1722.1" stroke="#2a2a2a" stroke-opacity="0.75" stroke-width="0.9" fill="none"/>
<rect x="1704.4" y="2358.8" width="17.7" height="695.9" fill="none" stroke="#555" stroke-opacity="0.7" stroke-width="0.8"/>
<text class="cb" x="1750.0" y="2376.2" text-anchor="middle">400</text>
<text class="cb" x="1750.0" y="2410.2" text-anchor="middle">360</text>
<text class="cb" x="1750.0" y="2444.1" text-anchor="middle">320</text>
<text class="cb" x="1750.0" y="2478.1" text-anchor="middle">280</text>
<text class="cb" x="1750.0" y="2512.0" text-anchor="middle">240</text>
<text class="cb" x="1750.0" y="2546.0" text-anchor="middle">200</text>
<text class="cb" x="1750.0" y="2580.0" text-anchor="middle">160</text>
<text class="cb" x="1750.0" y="2613.9" text-anchor="middle">120</text>
<text class="cb" x="1750.0" y="2647.9" text-anchor="middle">80</text>
<text class="cb" x="1750.0" y="2681.9" text-anchor="middle">40</text>
<text class="cb" x="1750.0" y="2715.8" text-anchor="middle">0</text>
<text class="cb" x="1750.0" y="2749.8" text-anchor="middle">-40</text>
<text class="cb" x="1750.0" y="2783.8" text-anchor="middle">-80</text>
<text class="cb" x="1750.0" y="2817.7" text-anchor="middle">-120</text>
<text class="cb" x="1750.0" y="2851.7" text-anchor="middle">-160</text>
<text class="cb" x="1750.0" y="2885.7" text-anchor="middle">-200</text>
<text class="cb" x="1750.0" y="2919.6" text-anchor="middle">-240</text>
<text class="cb" x="1750.0" y="2953.6" text-anchor="middle">-280</text>
<text class="cb" x="1750.0" y="2987.5" text-anchor="middle">-320</text>
<text class="cb" x="1750.0" y="3021.5" text-anchor="middle">-360</text>
<text class="cb" x="1750.0" y="3055.5" text-anchor="middle">-400</text>
</svg>
</body></html>
